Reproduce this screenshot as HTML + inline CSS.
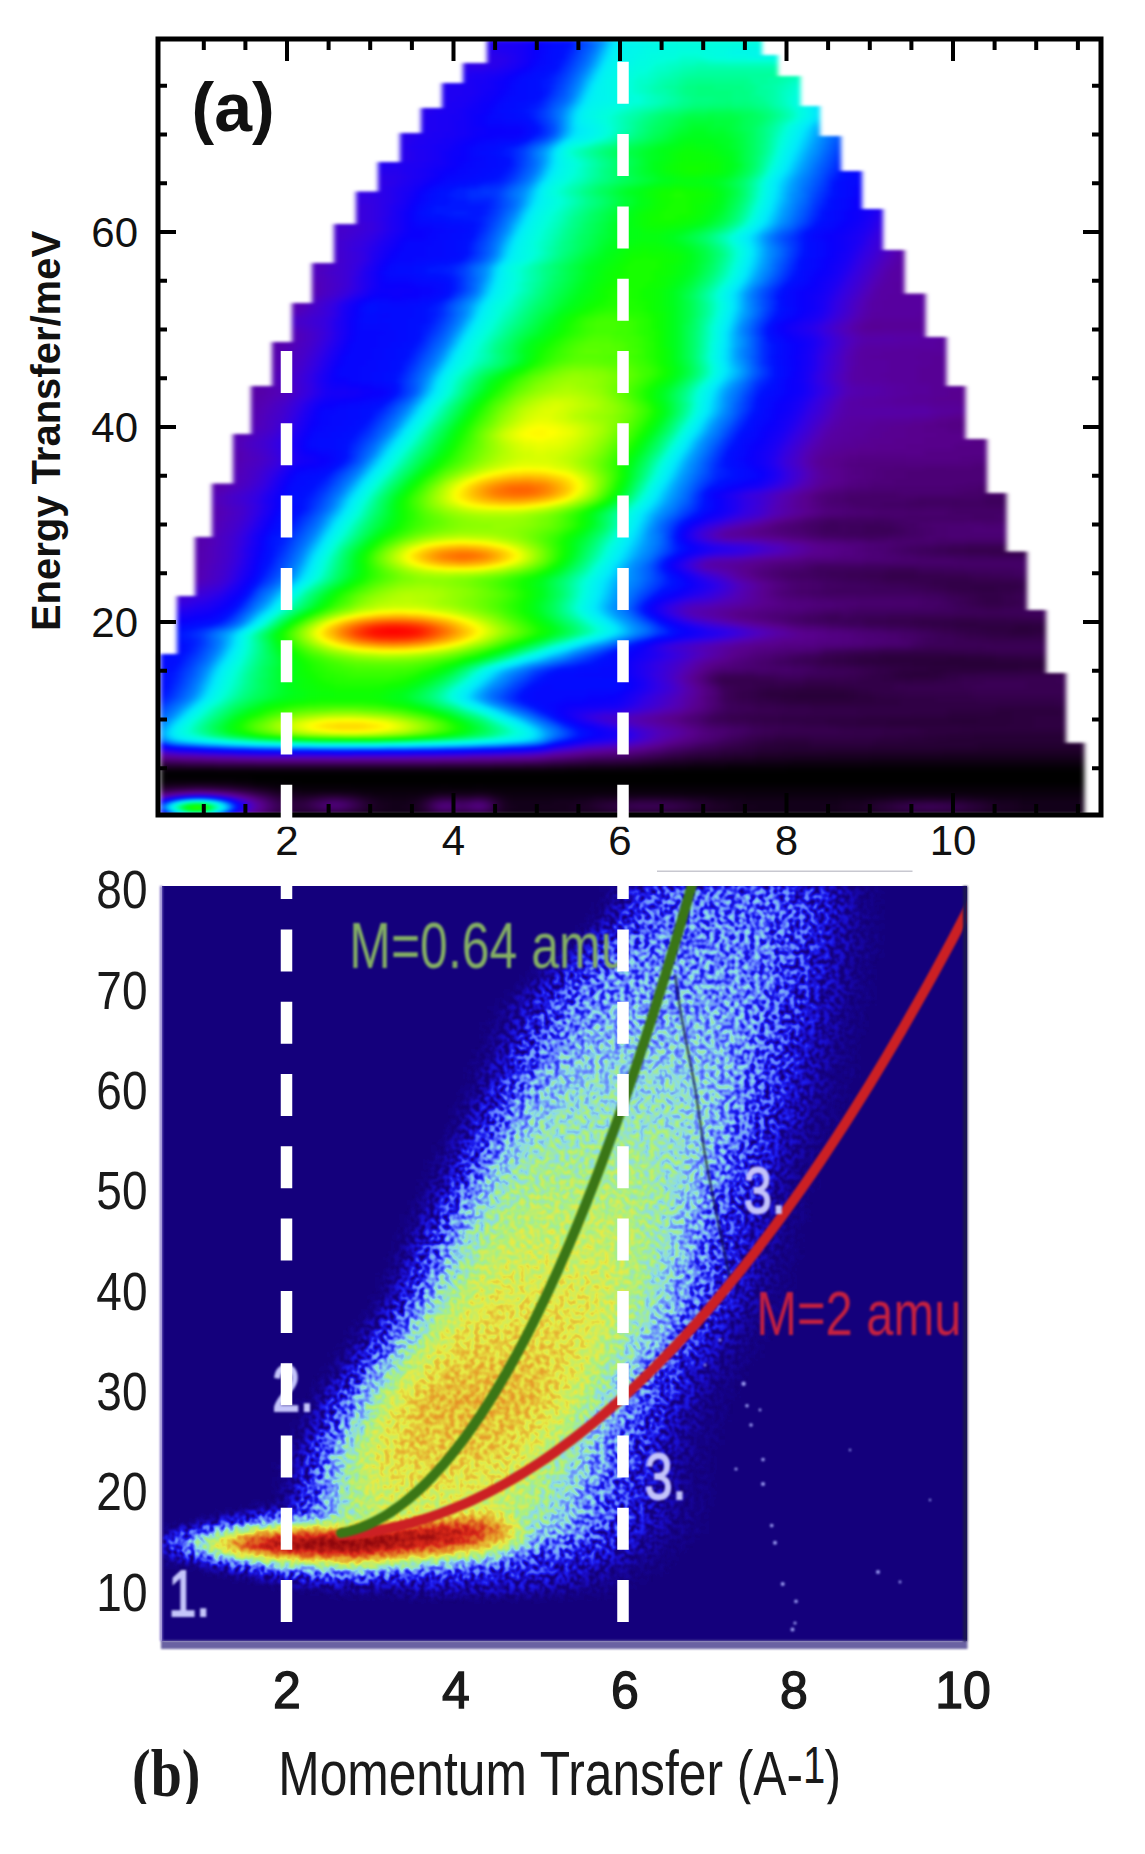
<!DOCTYPE html>
<html><head><meta charset="utf-8"><style>html,body{margin:0;padding:0;background:#fff;}svg{display:block;}</style></head>
<body><svg width="1145" height="1854" viewBox="0 0 1145 1854"><defs>
<filter id="fa" x="0" y="0" width="1" height="1" color-interpolation-filters="sRGB">
<feGaussianBlur stdDeviation="3.5"/>
<feComponentTransfer><feFuncR type="table" tableValues="0 0.059 0.118 0.167 0.216 0.265 0.309 0.346 0.343 0.322 0.263 0.199 0.113 0.039 0 0 0 0 0 0 0 0 0 0 0 0 0.063 0.22 0.376 0.533 0.689 0.844 1 1 1 1 1 1 1 1 1"/><feFuncG type="table" tableValues="0 0 0 0 0 0 0 0 0 0 0 0 0 0 0.072 0.252 0.431 0.599 0.768 0.912 0.961 1 1 1 1 1 1 1 1 1 1 1 1 0.875 0.751 0.626 0.502 0.376 0.251 0.125 0"/><feFuncB type="table" tableValues="0 0.078 0.157 0.235 0.314 0.4 0.48 0.554 0.637 0.724 0.812 0.895 0.956 0.99 1 1 1 1 1 0.99 0.941 0.863 0.667 0.471 0.288 0.108 0 0 0 0 0 0 0 0 0 0 0 0 0 0 0"/></feComponentTransfer>
</filter>
<clipPath id="ca"><polygon points="487,39 487,63 463,63 463,83 442,83 442,108 421,108 421,133 400,133 400,162 378,162 378,191.5 356,191.5 356,224 334,224 334,263 312,263 312,303 292,303 292,342 272,342 272,386 251,386 251,434 233,434 233,483.5 212,483.5 212,537 195,537 195,596 177,596 177,654 160,654 160,814 1084.4,814 1084.4,742.7 1066,742.7 1066,673 1046,673 1046,610 1027,610 1027,551.6 1006.5,551.6 1006.5,493 987,493 987,439 965.5,439 965.5,386 946.5,386 946.5,337 925.6,337 925.6,293.5 904.6,293.5 904.6,250 883,250 883,209 862,209 862,171 841,171 841,136 820,136 820,106 800.5,106 800.5,76 778,76 778,55 762,55 762,39"/></clipPath>
<filter id="fsoft" color-interpolation-filters="sRGB"><feGaussianBlur stdDeviation="2.8 1.8"/></filter>
</defs>
<g filter="url(#fsoft)"><g clip-path="url(#ca)"><g filter="url(#fa)"><path fill="#000000" d="M156 768h954v6h-954zM156 774h954v6h-954zM282 780h828v6h-828z"/><path fill="#010101" d="M252 780h30v6h-30z"/><path fill="#030303" d="M156 780h12v6h-12zM234 780h18v6h-18zM300 786h810v6h-810z"/><path fill="#040404" d="M786 762h324v6h-324zM168 780h66v6h-66zM288 786h12v6h-12z"/><path fill="#050505" d="M726 762h60v6h-60zM276 786h12v6h-12zM372 792h48v6h-48zM504 792h606v6h-606z"/><path fill="#060606" d="M690 762h36v6h-36zM270 786h6v6h-6zM360 792h12v6h-12zM420 792h12v6h-12zM492 792h12v6h-12z"/><path fill="#080808" d="M870 756h240v6h-240zM672 762h18v6h-18zM264 786h6v6h-6zM354 792h6v6h-6zM432 792h6v6h-6zM450 792h24v6h-24zM486 792h6v6h-6zM390 798h18v6h-18zM510 798h42v6h-42zM744 798h96v6h-96zM1020 798h90v6h-90zM390 804h12v6h-12zM516 804h24v6h-24zM756 804h66v6h-66zM1038 804h72v6h-72zM384 810h24v6h-24zM510 810h60v6h-60zM732 810h108v6h-108zM1020 810h90v6h-90zM348 816h84v6h-84zM492 816h618v6h-618z"/><path fill="#090909" d="M792 756h78v6h-78zM654 762h18v6h-18zM258 786h6v6h-6zM300 792h18v6h-18zM342 792h12v6h-12zM438 792h12v6h-12zM474 792h12v6h-12zM378 798h12v6h-12zM408 798h6v6h-6zM504 798h6v6h-6zM552 798h24v6h-24zM726 798h18v6h-18zM840 798h24v6h-24zM996 798h24v6h-24zM384 804h6v6h-6zM402 804h6v6h-6zM510 804h6v6h-6zM540 804h18v6h-18zM738 804h18v6h-18zM822 804h18v6h-18zM1020 804h18v6h-18zM372 810h12v6h-12zM408 810h12v6h-12zM504 810h6v6h-6zM570 810h24v6h-24zM708 810h24v6h-24zM840 810h24v6h-24zM996 810h24v6h-24zM306 816h42v6h-42zM432 816h60v6h-60z"/><path fill="#0a0a0a" d="M756 756h36v6h-36zM642 762h12v6h-12zM252 786h6v6h-6zM288 792h12v6h-12zM318 792h24v6h-24zM414 798h6v6h-6zM576 798h12v6h-12zM714 798h12v6h-12zM864 798h12v6h-12zM984 798h12v6h-12zM378 804h6v6h-6zM408 804h6v6h-6zM504 804h6v6h-6zM558 804h12v6h-12zM732 804h6v6h-6zM840 804h6v6h-6zM1014 804h6v6h-6zM366 810h6v6h-6zM498 810h6v6h-6zM594 810h12v6h-12zM690 810h18v6h-18zM864 810h12v6h-12zM984 810h12v6h-12zM294 816h12v6h-12z"/><path fill="#0c0c0c" d="M942 750h168v6h-168zM732 756h24v6h-24zM618 762h24v6h-24zM246 786h6v6h-6zM372 798h6v6h-6zM588 798h6v6h-6zM708 798h6v6h-6zM876 798h12v6h-12zM972 798h12v6h-12zM372 804h6v6h-6zM570 804h6v6h-6zM726 804h6v6h-6zM846 804h12v6h-12zM1002 804h12v6h-12zM360 810h6v6h-6zM420 810h6v6h-6zM606 810h18v6h-18zM678 810h12v6h-12zM876 810h12v6h-12zM972 810h12v6h-12zM288 816h6v6h-6z"/><path fill="#0d0d0d" d="M828 750h114v6h-114zM714 756h18v6h-18zM588 762h30v6h-30zM282 792h6v6h-6zM498 798h6v6h-6zM594 798h6v6h-6zM696 798h12v6h-12zM888 798h6v6h-6zM966 798h6v6h-6zM414 804h6v6h-6zM576 804h6v6h-6zM720 804h6v6h-6zM858 804h6v6h-6zM996 804h6v6h-6zM354 810h6v6h-6zM624 810h54v6h-54zM888 810h6v6h-6zM966 810h6v6h-6zM282 816h6v6h-6z"/><path fill="#0e0e0e" d="M780 750h48v6h-48zM696 756h18v6h-18zM576 762h12v6h-12zM156 786h6v6h-6zM240 786h6v6h-6zM276 792h6v6h-6zM366 798h6v6h-6zM420 798h6v6h-6zM600 798h12v6h-12zM690 798h6v6h-6zM894 798h12v6h-12zM954 798h12v6h-12zM582 804h6v6h-6zM714 804h6v6h-6zM300 810h6v6h-6zM492 810h6v6h-6zM894 810h12v6h-12zM954 810h12v6h-12zM276 816h6v6h-6z"/><path fill="#0f0f0f" d="M978 744h132v6h-132zM756 750h24v6h-24zM684 756h12v6h-12zM564 762h12v6h-12zM162 786h6v6h-6zM234 786h6v6h-6zM612 798h6v6h-6zM684 798h6v6h-6zM906 798h48v6h-48zM366 804h6v6h-6zM498 804h6v6h-6zM588 804h6v6h-6zM708 804h6v6h-6zM864 804h6v6h-6zM990 804h6v6h-6zM294 810h6v6h-6zM306 810h12v6h-12zM348 810h6v6h-6zM426 810h6v6h-6zM906 810h48v6h-48z"/><path fill="#111111" d="M888 720h90v6h-90zM972 732h108v6h-108zM936 738h138v6h-138zM786 744h24v6h-24zM870 744h108v6h-108zM744 750h12v6h-12zM672 756h12v6h-12zM156 762h6v6h-6zM552 762h12v6h-12zM168 786h6v6h-6zM228 786h6v6h-6zM270 792h6v6h-6zM618 798h6v6h-6zM672 798h12v6h-12zM702 804h6v6h-6zM870 804h6v6h-6zM984 804h6v6h-6zM288 810h6v6h-6zM318 810h6v6h-6zM342 810h6v6h-6zM270 816h6v6h-6z"/><path fill="#121212" d="M948 654h18v6h-18zM912 660h156v6h-156zM960 666h60v6h-60zM900 672h30v6h-30zM798 690h48v6h-48zM792 696h60v6h-60zM858 720h30v6h-30zM978 720h30v6h-30zM948 732h24v6h-24zM1080 732h24v6h-24zM906 738h30v6h-30zM1074 738h36v6h-36zM762 744h24v6h-24zM810 744h60v6h-60zM726 750h18v6h-18zM666 756h6v6h-6zM162 762h6v6h-6zM546 762h6v6h-6zM222 786h6v6h-6zM360 798h6v6h-6zM492 798h6v6h-6zM624 798h12v6h-12zM666 798h6v6h-6zM420 804h6v6h-6zM594 804h6v6h-6zM324 810h18v6h-18z"/><path fill="#131313" d="M1014 624h30v6h-30zM1008 630h24v6h-24zM882 654h66v6h-66zM966 654h30v6h-30zM858 660h54v6h-54zM1068 660h12v6h-12zM930 666h30v6h-30zM1020 666h24v6h-24zM894 672h6v6h-6zM930 672h12v6h-12zM762 690h36v6h-36zM846 690h12v6h-12zM780 696h12v6h-12zM852 696h24v6h-24zM996 708h66v6h-66zM948 714h66v6h-66zM828 720h30v6h-30zM1008 720h24v6h-24zM924 732h24v6h-24zM1104 732h6v6h-6zM774 738h36v6h-36zM876 738h30v6h-30zM756 744h6v6h-6zM720 750h6v6h-6zM660 756h6v6h-6zM168 762h18v6h-18zM522 762h24v6h-24zM174 786h12v6h-12zM216 786h6v6h-6zM288 798h18v6h-18zM426 798h6v6h-6zM636 798h30v6h-30zM696 804h6v6h-6zM876 804h6v6h-6zM978 804h6v6h-6zM282 810h6v6h-6zM432 810h6v6h-6zM456 810h12v6h-12zM486 810h6v6h-6zM264 816h6v6h-6z"/><path fill="#151515" d="M954 618h24v6h-24zM954 624h60v6h-60zM1044 624h6v6h-6zM984 630h24v6h-24zM1032 630h12v6h-12zM852 654h30v6h-30zM996 654h24v6h-24zM846 660h12v6h-12zM1080 660h12v6h-12zM912 666h18v6h-18zM1044 666h18v6h-18zM888 672h6v6h-6zM942 672h6v6h-6zM906 678h6v6h-6zM804 684h30v6h-30zM756 690h6v6h-6zM858 690h12v6h-12zM768 696h12v6h-12zM876 696h24v6h-24zM810 702h90v6h-90zM948 708h48v6h-48zM1062 708h42v6h-42zM864 714h84v6h-84zM1014 714h60v6h-60zM804 720h24v6h-24zM1032 720h30v6h-30zM960 726h132v6h-132zM900 732h24v6h-24zM762 738h12v6h-12zM810 738h66v6h-66zM744 744h12v6h-12zM708 750h12v6h-12zM654 756h6v6h-6zM186 762h30v6h-30zM492 762h30v6h-30zM186 786h6v6h-6zM204 786h12v6h-12zM264 792h6v6h-6zM294 804h6v6h-6zM360 804h6v6h-6zM600 804h6v6h-6zM450 810h6v6h-6zM468 810h6v6h-6z"/><path fill="#161616" d="M1014 546h18v6h-18zM948 582h72v6h-72zM972 588h24v6h-24zM984 600h18v6h-18zM912 618h42v6h-42zM978 618h30v6h-30zM942 624h12v6h-12zM1050 624h12v6h-12zM978 630h6v6h-6zM1044 630h12v6h-12zM846 654h6v6h-6zM1020 654h24v6h-24zM834 660h12v6h-12zM1092 660h12v6h-12zM900 666h12v6h-12zM1062 666h18v6h-18zM876 672h12v6h-12zM948 672h12v6h-12zM882 678h24v6h-24zM912 678h24v6h-24zM786 684h18v6h-18zM834 684h18v6h-18zM750 690h6v6h-6zM870 690h12v6h-12zM756 696h12v6h-12zM900 696h36v6h-36zM786 702h24v6h-24zM900 702h156v6h-156zM912 708h36v6h-36zM1104 708h6v6h-6zM780 714h84v6h-84zM1074 714h36v6h-36zM780 720h24v6h-24zM1062 720h36v6h-36zM918 726h42v6h-42zM1092 726h18v6h-18zM882 732h18v6h-18zM756 738h6v6h-6zM738 744h6v6h-6zM696 750h12v6h-12zM648 756h6v6h-6zM216 762h42v6h-42zM438 762h54v6h-54zM192 786h12v6h-12zM282 798h6v6h-6zM306 798h6v6h-6zM354 798h6v6h-6zM288 804h6v6h-6zM606 804h6v6h-6zM690 804h6v6h-6zM882 804h6v6h-6zM972 804h6v6h-6zM276 810h6v6h-6zM438 810h12v6h-12zM480 810h6v6h-6zM258 816h6v6h-6z"/><path fill="#171717" d="M966 546h48v6h-48zM1032 546h60v6h-60zM942 582h6v6h-6zM1020 582h12v6h-12zM954 588h18v6h-18zM996 588h18v6h-18zM978 600h6v6h-6zM1002 600h12v6h-12zM888 618h24v6h-24zM1008 618h24v6h-24zM930 624h12v6h-12zM1062 624h6v6h-6zM966 630h12v6h-12zM1056 630h12v6h-12zM834 654h12v6h-12zM1044 654h24v6h-24zM822 660h12v6h-12zM1104 660h6v6h-6zM888 666h12v6h-12zM1080 666h18v6h-18zM870 672h6v6h-6zM960 672h18v6h-18zM720 678h36v6h-36zM858 678h24v6h-24zM936 678h12v6h-12zM768 684h18v6h-18zM852 684h18v6h-18zM744 690h6v6h-6zM882 690h24v6h-24zM750 696h6v6h-6zM936 696h42v6h-42zM774 702h12v6h-12zM1056 702h54v6h-54zM858 708h54v6h-54zM744 714h36v6h-36zM762 720h18v6h-18zM1098 720h12v6h-12zM882 726h36v6h-36zM852 732h30v6h-30zM750 738h6v6h-6zM732 744h6v6h-6zM690 750h6v6h-6zM642 756h6v6h-6zM258 762h180v6h-180zM300 804h6v6h-6zM888 804h6v6h-6zM966 804h6v6h-6zM474 810h6v6h-6z"/><path fill="#181818" d="M948 546h18v6h-18zM1092 546h18v6h-18zM888 570h30v6h-30zM882 576h90v6h-90zM1098 576h6v6h-6zM930 582h12v6h-12zM1032 582h12v6h-12zM948 588h6v6h-6zM1014 588h6v6h-6zM978 594h24v6h-24zM972 600h6v6h-6zM1014 600h6v6h-6zM864 618h24v6h-24zM1032 618h18v6h-18zM918 624h12v6h-12zM1068 624h12v6h-12zM960 630h6v6h-6zM1068 630h12v6h-12zM990 636h66v6h-66zM876 648h72v6h-72zM822 654h12v6h-12zM1068 654h24v6h-24zM816 660h6v6h-6zM876 666h12v6h-12zM1098 666h12v6h-12zM864 672h6v6h-6zM978 672h78v6h-78zM756 678h18v6h-18zM804 678h54v6h-54zM948 678h12v6h-12zM756 684h12v6h-12zM870 684h24v6h-24zM738 690h6v6h-6zM906 690h66v6h-66zM738 696h12v6h-12zM978 696h114v6h-114zM756 702h18v6h-18zM810 708h48v6h-48zM726 714h18v6h-18zM750 720h12v6h-12zM840 726h42v6h-42zM774 732h78v6h-78zM744 738h6v6h-6zM720 744h12v6h-12zM684 750h6v6h-6zM636 756h6v6h-6zM258 792h6v6h-6zM276 798h6v6h-6zM282 804h6v6h-6zM492 804h6v6h-6zM612 804h6v6h-6zM684 804h6v6h-6z"/><path fill="#1a1a1a" d="M936 546h12v6h-12zM990 552h108v6h-108zM864 570h24v6h-24zM918 570h24v6h-24zM858 576h24v6h-24zM972 576h30v6h-30zM1104 576h6v6h-6zM918 582h12v6h-12zM1044 582h12v6h-12zM936 588h12v6h-12zM1020 588h12v6h-12zM966 594h12v6h-12zM1002 594h12v6h-12zM966 600h6v6h-6zM1020 600h6v6h-6zM846 618h18v6h-18zM1050 618h18v6h-18zM906 624h12v6h-12zM1080 624h12v6h-12zM954 630h6v6h-6zM1080 630h12v6h-12zM966 636h24v6h-24zM1056 636h30v6h-30zM858 648h18v6h-18zM948 648h36v6h-36zM816 654h6v6h-6zM1092 654h18v6h-18zM804 660h12v6h-12zM864 666h12v6h-12zM858 672h6v6h-6zM1056 672h54v6h-54zM714 678h6v6h-6zM774 678h30v6h-30zM960 678h24v6h-24zM738 684h18v6h-18zM894 684h72v6h-72zM1026 684h84v6h-84zM732 690h6v6h-6zM972 690h138v6h-138zM732 696h6v6h-6zM1092 696h18v6h-18zM750 702h6v6h-6zM780 708h30v6h-30zM714 714h12v6h-12zM732 720h18v6h-18zM798 726h42v6h-42zM762 732h12v6h-12zM738 738h6v6h-6zM714 744h6v6h-6zM678 750h6v6h-6zM624 756h12v6h-12zM312 798h6v6h-6zM432 798h6v6h-6zM486 798h6v6h-6zM306 804h6v6h-6zM354 804h6v6h-6zM678 804h6v6h-6zM894 804h6v6h-6zM960 804h6v6h-6zM252 816h6v6h-6z"/><path fill="#1b1b1b" d="M882 528h12v6h-12zM924 546h12v6h-12zM966 552h24v6h-24zM1098 552h12v6h-12zM846 570h18v6h-18zM942 570h24v6h-24zM840 576h18v6h-18zM1002 576h18v6h-18zM906 582h12v6h-12zM1056 582h18v6h-18zM924 588h12v6h-12zM1032 588h12v6h-12zM960 594h6v6h-6zM1014 594h12v6h-12zM960 600h6v6h-6zM1026 600h6v6h-6zM984 606h18v6h-18zM834 612h6v6h-6zM828 618h18v6h-18zM1068 618h18v6h-18zM888 624h18v6h-18zM1092 624h18v6h-18zM942 630h12v6h-12zM1092 630h18v6h-18zM954 636h12v6h-12zM1086 636h24v6h-24zM978 642h126v6h-126zM846 648h12v6h-12zM984 648h66v6h-66zM804 654h12v6h-12zM792 660h12v6h-12zM852 666h12v6h-12zM846 672h12v6h-12zM984 678h126v6h-126zM732 684h6v6h-6zM966 684h60v6h-60zM726 690h6v6h-6zM726 696h6v6h-6zM738 702h12v6h-12zM756 708h24v6h-24zM726 720h6v6h-6zM780 726h18v6h-18zM756 732h6v6h-6zM732 738h6v6h-6zM708 744h6v6h-6zM672 750h6v6h-6zM612 756h12v6h-12zM348 798h6v6h-6zM456 798h12v6h-12zM426 804h6v6h-6zM618 804h6v6h-6zM270 810h6v6h-6z"/><path fill="#1c1c1c" d="M984 498h102v6h-102zM828 522h12v6h-12zM864 522h18v6h-18zM834 528h6v6h-6zM864 528h18v6h-18zM894 528h6v6h-6zM858 534h18v6h-18zM918 546h6v6h-6zM948 552h18v6h-18zM828 570h18v6h-18zM966 570h24v6h-24zM1026 570h54v6h-54zM828 576h12v6h-12zM1020 576h24v6h-24zM888 582h18v6h-18zM1074 582h36v6h-36zM912 588h12v6h-12zM1044 588h12v6h-12zM948 594h12v6h-12zM1026 594h6v6h-6zM954 600h6v6h-6zM1032 600h6v6h-6zM966 606h18v6h-18zM1002 606h24v6h-24zM828 612h6v6h-6zM888 612h132v6h-132zM816 618h12v6h-12zM1086 618h24v6h-24zM876 624h12v6h-12zM936 630h6v6h-6zM936 636h18v6h-18zM948 642h30v6h-30zM1104 642h6v6h-6zM834 648h12v6h-12zM1050 648h60v6h-60zM798 654h6v6h-6zM786 660h6v6h-6zM834 666h18v6h-18zM720 672h36v6h-36zM828 672h18v6h-18zM720 684h12v6h-12zM726 702h12v6h-12zM738 708h18v6h-18zM708 714h6v6h-6zM714 720h12v6h-12zM762 726h18v6h-18zM750 732h6v6h-6zM726 738h6v6h-6zM702 744h6v6h-6zM666 750h6v6h-6zM594 756h18v6h-18zM252 792h6v6h-6zM276 804h6v6h-6zM624 804h6v6h-6zM672 804h6v6h-6zM900 804h6v6h-6zM954 804h6v6h-6zM246 816h6v6h-6z"/><path fill="#1d1d1d" d="M918 498h42v6h-42zM1086 498h18v6h-18zM1044 504h18v6h-18zM822 522h6v6h-6zM846 522h18v6h-18zM882 522h12v6h-12zM822 528h12v6h-12zM846 528h18v6h-18zM900 528h6v6h-6zM840 534h18v6h-18zM876 534h12v6h-12zM906 546h12v6h-12zM930 552h18v6h-18zM816 564h102v6h-102zM810 570h18v6h-18zM990 570h24v6h-24zM1080 570h30v6h-30zM816 576h12v6h-12zM1044 576h30v6h-30zM870 582h18v6h-18zM822 588h90v6h-90zM1056 588h18v6h-18zM1092 588h18v6h-18zM942 594h6v6h-6zM1032 594h12v6h-12zM948 600h6v6h-6zM1038 600h12v6h-12zM954 606h12v6h-12zM1026 606h18v6h-18zM822 612h6v6h-6zM852 612h36v6h-36zM1020 612h90v6h-90zM804 618h12v6h-12zM864 624h12v6h-12zM930 630h6v6h-6zM924 636h12v6h-12zM924 642h24v6h-24zM822 648h12v6h-12zM792 654h6v6h-6zM774 660h12v6h-12zM816 666h18v6h-18zM714 672h6v6h-6zM756 672h24v6h-24zM804 672h24v6h-24zM708 678h6v6h-6zM720 690h6v6h-6zM720 696h6v6h-6zM726 708h12v6h-12zM708 720h6v6h-6zM750 726h12v6h-12zM744 732h6v6h-6zM696 744h6v6h-6zM588 756h6v6h-6zM270 798h6v6h-6zM318 798h6v6h-6zM438 798h6v6h-6zM450 798h6v6h-6zM468 798h6v6h-6zM666 804h6v6h-6zM906 804h6v6h-6zM948 804h6v6h-6z"/><path fill="#1f1f1f" d="M906 498h12v6h-12zM960 498h24v6h-24zM1104 498h6v6h-6zM882 504h42v6h-42zM954 504h90v6h-90zM1062 504h48v6h-48zM828 516h60v6h-60zM972 516h24v6h-24zM810 522h12v6h-12zM840 522h6v6h-6zM894 522h6v6h-6zM816 528h6v6h-6zM840 528h6v6h-6zM906 528h12v6h-12zM822 534h18v6h-18zM888 534h12v6h-12zM900 546h6v6h-6zM918 552h12v6h-12zM810 564h6v6h-6zM918 564h36v6h-36zM792 570h18v6h-18zM1014 570h12v6h-12zM798 576h18v6h-18zM1074 576h24v6h-24zM846 582h24v6h-24zM810 588h12v6h-12zM1074 588h18v6h-18zM924 594h18v6h-18zM1044 594h30v6h-30zM942 600h6v6h-6zM1050 600h24v6h-24zM1104 600h6v6h-6zM936 606h18v6h-18zM1044 606h66v6h-66zM816 612h6v6h-6zM840 612h12v6h-12zM792 618h12v6h-12zM846 624h18v6h-18zM918 630h12v6h-12zM918 636h6v6h-6zM912 642h12v6h-12zM786 654h6v6h-6zM810 666h6v6h-6zM780 672h24v6h-24zM720 702h6v6h-6zM720 708h6v6h-6zM702 714h6v6h-6zM738 732h6v6h-6zM720 738h6v6h-6zM660 750h6v6h-6zM582 756h6v6h-6zM342 798h6v6h-6zM444 798h6v6h-6zM480 798h6v6h-6zM312 804h6v6h-6zM630 804h6v6h-6zM660 804h6v6h-6z"/><path fill="#202020" d="M984 492h84v6h-84zM870 504h12v6h-12zM924 504h30v6h-30zM822 516h6v6h-6zM888 516h84v6h-84zM996 516h48v6h-48zM804 522h6v6h-6zM900 522h6v6h-6zM810 528h6v6h-6zM918 528h6v6h-6zM816 534h6v6h-6zM900 534h12v6h-12zM966 540h144v6h-144zM894 546h6v6h-6zM912 552h6v6h-6zM1032 558h78v6h-78zM954 564h156v6h-156zM780 570h12v6h-12zM786 576h12v6h-12zM834 582h12v6h-12zM798 588h12v6h-12zM828 594h96v6h-96zM1074 594h36v6h-36zM930 600h12v6h-12zM1074 600h30v6h-30zM858 606h78v6h-78zM804 612h12v6h-12zM786 618h6v6h-6zM840 624h6v6h-6zM912 630h6v6h-6zM912 636h6v6h-6zM762 660h12v6h-12zM702 720h6v6h-6zM744 726h6v6h-6zM732 732h6v6h-6zM714 738h6v6h-6zM690 744h6v6h-6zM654 750h6v6h-6zM576 756h6v6h-6zM324 798h6v6h-6zM474 798h6v6h-6zM348 804h6v6h-6zM636 804h24v6h-24zM912 804h12v6h-12zM936 804h12v6h-12zM264 810h6v6h-6zM240 816h6v6h-6z"/><path fill="#212121" d="M978 486h42v6h-42zM846 492h54v6h-54zM960 492h24v6h-24zM1068 492h42v6h-42zM846 498h60v6h-60zM852 504h18v6h-18zM948 510h126v6h-126zM816 516h6v6h-6zM1044 516h36v6h-36zM798 522h6v6h-6zM906 522h12v6h-12zM804 528h6v6h-6zM924 528h12v6h-12zM810 534h6v6h-6zM912 534h12v6h-12zM936 540h30v6h-30zM888 546h6v6h-6zM900 552h12v6h-12zM954 558h78v6h-78zM804 564h6v6h-6zM774 570h6v6h-6zM822 582h12v6h-12zM792 588h6v6h-6zM810 594h18v6h-18zM918 600h12v6h-12zM846 606h12v6h-12zM798 612h6v6h-6zM828 624h12v6h-12zM900 630h12v6h-12zM900 636h12v6h-12zM774 654h12v6h-12zM756 660h6v6h-6zM792 666h18v6h-18zM714 708h6v6h-6zM696 714h6v6h-6zM732 726h12v6h-12zM726 732h6v6h-6zM684 744h6v6h-6zM648 750h6v6h-6zM570 756h6v6h-6zM246 792h6v6h-6zM336 798h6v6h-6zM270 804h6v6h-6zM924 804h12v6h-12z"/><path fill="#232323" d="M954 486h24v6h-24zM1020 486h24v6h-24zM834 492h12v6h-12zM900 492h60v6h-60zM834 498h12v6h-12zM840 504h12v6h-12zM906 510h42v6h-42zM1074 510h36v6h-36zM810 516h6v6h-6zM1080 516h30v6h-30zM792 522h6v6h-6zM918 522h12v6h-12zM792 528h12v6h-12zM936 528h12v6h-12zM804 534h6v6h-6zM924 534h24v6h-24zM912 540h24v6h-24zM882 546h6v6h-6zM888 552h12v6h-12zM918 558h36v6h-36zM798 564h6v6h-6zM768 570h6v6h-6zM780 576h6v6h-6zM810 582h12v6h-12zM786 588h6v6h-6zM798 594h12v6h-12zM894 600h24v6h-24zM834 606h12v6h-12zM786 612h12v6h-12zM780 618h6v6h-6zM822 624h6v6h-6zM888 630h12v6h-12zM888 636h12v6h-12zM816 648h6v6h-6zM768 654h6v6h-6zM750 660h6v6h-6zM768 666h24v6h-24zM708 672h6v6h-6zM714 684h6v6h-6zM714 696h6v6h-6zM714 702h6v6h-6zM690 714h6v6h-6zM696 720h6v6h-6zM726 726h6v6h-6zM720 732h6v6h-6zM708 738h6v6h-6zM678 744h6v6h-6zM564 756h6v6h-6zM330 798h6v6h-6z"/><path fill="#242424" d="M924 468h120v6h-120zM966 480h54v6h-54zM870 486h84v6h-84zM1044 486h54v6h-54zM822 492h12v6h-12zM828 498h6v6h-6zM828 504h12v6h-12zM876 510h30v6h-30zM786 522h6v6h-6zM930 522h36v6h-36zM984 522h126v6h-126zM786 528h6v6h-6zM948 528h24v6h-24zM1056 528h54v6h-54zM798 534h6v6h-6zM948 534h162v6h-162zM894 540h18v6h-18zM870 546h12v6h-12zM882 552h6v6h-6zM894 558h24v6h-24zM786 564h12v6h-12zM762 570h6v6h-6zM774 576h6v6h-6zM798 582h12v6h-12zM780 588h6v6h-6zM792 594h6v6h-6zM858 600h36v6h-36zM822 606h12v6h-12zM774 612h12v6h-12zM774 618h6v6h-6zM816 624h6v6h-6zM882 630h6v6h-6zM876 636h12v6h-12zM900 642h12v6h-12zM804 648h12v6h-12zM762 654h6v6h-6zM744 660h6v6h-6zM744 666h24v6h-24zM702 678h6v6h-6zM714 690h6v6h-6zM708 708h6v6h-6zM714 726h12v6h-12zM702 738h6v6h-6zM672 744h6v6h-6zM642 750h6v6h-6zM558 756h6v6h-6zM264 798h6v6h-6zM318 804h6v6h-6zM486 804h6v6h-6zM156 816h6v6h-6z"/><path fill="#252525" d="M894 468h30v6h-30zM1044 468h66v6h-66zM906 474h42v6h-42zM894 480h72v6h-72zM1020 480h90v6h-90zM858 486h12v6h-12zM1098 486h12v6h-12zM822 498h6v6h-6zM822 504h6v6h-6zM858 510h18v6h-18zM804 516h6v6h-6zM780 522h6v6h-6zM966 522h18v6h-18zM780 528h6v6h-6zM972 528h84v6h-84zM792 534h6v6h-6zM876 540h18v6h-18zM864 546h6v6h-6zM870 552h12v6h-12zM864 558h30v6h-30zM780 564h6v6h-6zM792 582h6v6h-6zM786 594h6v6h-6zM834 600h24v6h-24zM810 606h12v6h-12zM768 612h6v6h-6zM768 618h6v6h-6zM804 624h12v6h-12zM870 630h12v6h-12zM864 636h12v6h-12zM882 642h18v6h-18zM786 648h18v6h-18zM756 654h6v6h-6zM738 660h6v6h-6zM732 666h12v6h-12zM708 696h6v6h-6zM708 702h6v6h-6zM684 714h6v6h-6zM690 720h6v6h-6zM708 726h6v6h-6zM714 732h6v6h-6zM696 738h6v6h-6zM636 750h6v6h-6zM156 756h6v6h-6zM552 756h6v6h-6zM240 792h6v6h-6zM342 804h6v6h-6zM432 804h6v6h-6zM234 816h6v6h-6z"/><path fill="#262626" d="M978 420h60v6h-60zM972 462h138v6h-138zM876 468h18v6h-18zM882 474h24v6h-24zM948 474h42v6h-42zM1062 474h48v6h-48zM870 480h24v6h-24zM846 486h12v6h-12zM816 492h6v6h-6zM846 510h12v6h-12zM774 522h6v6h-6zM774 528h6v6h-6zM786 534h6v6h-6zM864 540h12v6h-12zM858 546h6v6h-6zM864 552h6v6h-6zM804 558h60v6h-60zM774 564h6v6h-6zM756 570h6v6h-6zM768 576h6v6h-6zM786 582h6v6h-6zM774 588h6v6h-6zM780 594h6v6h-6zM816 600h18v6h-18zM804 606h6v6h-6zM756 612h12v6h-12zM798 624h6v6h-6zM858 630h12v6h-12zM852 636h12v6h-12zM864 642h18v6h-18zM774 648h12v6h-12zM750 654h6v6h-6zM732 660h6v6h-6zM720 666h12v6h-12zM702 672h6v6h-6zM708 684h6v6h-6zM708 690h6v6h-6zM684 720h6v6h-6zM702 726h6v6h-6zM708 732h6v6h-6zM666 744h6v6h-6zM630 750h6v6h-6zM546 756h6v6h-6zM456 804h12v6h-12zM258 810h6v6h-6z"/><path fill="#282828" d="M1002 414h36v6h-36zM960 420h18v6h-18zM1038 420h24v6h-24zM1044 456h66v6h-66zM858 462h114v6h-114zM864 468h12v6h-12zM864 474h18v6h-18zM990 474h72v6h-72zM858 480h12v6h-12zM840 486h6v6h-6zM816 498h6v6h-6zM816 504h6v6h-6zM834 510h12v6h-12zM798 516h6v6h-6zM762 528h12v6h-12zM780 534h6v6h-6zM846 540h18v6h-18zM852 546h6v6h-6zM852 552h12v6h-12zM792 558h12v6h-12zM768 564h6v6h-6zM762 576h6v6h-6zM774 594h6v6h-6zM798 600h18v6h-18zM786 606h18v6h-18zM744 612h12v6h-12zM762 618h6v6h-6zM792 624h6v6h-6zM852 630h6v6h-6zM840 636h12v6h-12zM840 642h24v6h-24zM762 648h12v6h-12zM744 654h6v6h-6zM726 660h6v6h-6zM714 666h6v6h-6zM702 708h6v6h-6zM678 714h6v6h-6zM702 732h6v6h-6zM690 738h6v6h-6zM162 756h6v6h-6zM156 792h6v6h-6zM264 804h6v6h-6zM324 804h6v6h-6zM162 816h6v6h-6z"/><path fill="#292929" d="M984 414h18v6h-18zM1038 414h30v6h-30zM948 420h12v6h-12zM1062 420h24v6h-24zM972 426h84v6h-84zM1044 444h66v6h-66zM1002 450h108v6h-108zM858 456h48v6h-48zM960 456h84v6h-84zM846 462h12v6h-12zM852 468h12v6h-12zM858 474h6v6h-6zM852 480h6v6h-6zM834 486h6v6h-6zM810 492h6v6h-6zM810 504h6v6h-6zM822 510h12v6h-12zM756 528h6v6h-6zM774 534h6v6h-6zM834 540h12v6h-12zM846 546h6v6h-6zM840 552h12v6h-12zM780 558h12v6h-12zM762 564h6v6h-6zM750 570h6v6h-6zM780 582h6v6h-6zM768 588h6v6h-6zM786 600h12v6h-12zM774 606h12v6h-12zM738 612h6v6h-6zM756 618h6v6h-6zM840 630h12v6h-12zM828 636h12v6h-12zM816 642h24v6h-24zM756 648h6v6h-6zM708 666h6v6h-6zM696 678h6v6h-6zM702 696h6v6h-6zM702 702h6v6h-6zM678 720h6v6h-6zM696 726h6v6h-6zM684 738h6v6h-6zM660 744h6v6h-6zM618 750h12v6h-12zM540 756h6v6h-6zM330 804h12v6h-12zM228 816h6v6h-6z"/><path fill="#2a2a2a" d="M972 414h12v6h-12zM1068 414h42v6h-42zM936 420h12v6h-12zM1086 420h24v6h-24zM948 426h24v6h-24zM1056 426h54v6h-54zM978 432h132v6h-132zM972 438h138v6h-138zM954 444h90v6h-90zM924 450h78v6h-78zM846 456h12v6h-12zM906 456h54v6h-54zM840 462h6v6h-6zM846 468h6v6h-6zM846 474h12v6h-12zM846 480h6v6h-6zM828 486h6v6h-6zM810 498h6v6h-6zM792 516h6v6h-6zM768 522h6v6h-6zM750 528h6v6h-6zM768 534h6v6h-6zM822 540h12v6h-12zM840 546h6v6h-6zM834 552h6v6h-6zM768 558h12v6h-12zM756 564h6v6h-6zM756 576h6v6h-6zM774 582h6v6h-6zM768 594h6v6h-6zM780 600h6v6h-6zM762 606h12v6h-12zM732 612h6v6h-6zM750 618h6v6h-6zM786 624h6v6h-6zM828 630h12v6h-12zM816 636h12v6h-12zM780 642h36v6h-36zM750 648h6v6h-6zM738 654h6v6h-6zM720 660h6v6h-6zM696 672h6v6h-6zM702 684h6v6h-6zM702 690h6v6h-6zM696 708h6v6h-6zM672 714h6v6h-6zM696 732h6v6h-6zM606 750h12v6h-12zM168 756h12v6h-12zM534 756h6v6h-6zM234 792h6v6h-6zM258 798h6v6h-6zM450 804h6v6h-6zM468 804h6v6h-6z"/><path fill="#2c2c2c" d="M1026 288h12v6h-12zM1056 402h54v6h-54zM1008 408h102v6h-102zM966 414h6v6h-6zM924 420h12v6h-12zM924 426h24v6h-24zM936 432h42v6h-42zM924 438h48v6h-48zM906 444h48v6h-48zM858 450h66v6h-66zM834 456h12v6h-12zM834 462h6v6h-6zM840 468h6v6h-6zM840 474h6v6h-6zM840 480h6v6h-6zM822 486h6v6h-6zM804 492h6v6h-6zM804 504h6v6h-6zM816 510h6v6h-6zM786 516h6v6h-6zM762 534h6v6h-6zM816 540h6v6h-6zM828 546h12v6h-12zM822 552h12v6h-12zM762 558h6v6h-6zM750 564h6v6h-6zM744 570h6v6h-6zM762 588h6v6h-6zM774 600h6v6h-6zM756 606h6v6h-6zM822 630h6v6h-6zM804 636h12v6h-12zM756 642h24v6h-24zM738 648h12v6h-12zM732 654h6v6h-6zM714 660h6v6h-6zM666 714h6v6h-6zM672 720h6v6h-6zM690 726h6v6h-6zM678 738h6v6h-6zM654 744h6v6h-6zM600 750h6v6h-6zM180 756h12v6h-12zM522 756h12v6h-12zM162 792h6v6h-6zM438 804h6v6h-6z"/><path fill="#2d2d2d" d="M1014 54h36v6h-36zM1014 60h36v6h-36zM1008 288h18v6h-18zM1038 288h18v6h-18zM1014 294h42v6h-42zM984 366h126v6h-126zM1002 390h108v6h-108zM978 396h132v6h-132zM990 402h66v6h-66zM990 408h18v6h-18zM954 414h12v6h-12zM912 420h12v6h-12zM906 426h18v6h-18zM906 432h30v6h-30zM894 438h30v6h-30zM876 444h30v6h-30zM846 450h12v6h-12zM828 456h6v6h-6zM828 462h6v6h-6zM834 468h6v6h-6zM834 474h6v6h-6zM834 480h6v6h-6zM804 498h6v6h-6zM762 522h6v6h-6zM744 528h6v6h-6zM756 534h6v6h-6zM810 540h6v6h-6zM822 546h6v6h-6zM810 552h12v6h-12zM756 558h6v6h-6zM744 564h6v6h-6zM750 576h6v6h-6zM768 582h6v6h-6zM762 594h6v6h-6zM768 600h6v6h-6zM744 606h12v6h-12zM726 612h6v6h-6zM744 618h6v6h-6zM780 624h6v6h-6zM816 630h6v6h-6zM792 636h12v6h-12zM750 642h6v6h-6zM732 648h6v6h-6zM708 660h6v6h-6zM702 666h6v6h-6zM690 678h6v6h-6zM696 696h6v6h-6zM696 702h6v6h-6zM690 708h6v6h-6zM660 714h6v6h-6zM666 720h6v6h-6zM690 732h6v6h-6zM588 750h12v6h-12zM192 756h12v6h-12zM504 756h18v6h-18zM480 804h6v6h-6zM252 810h6v6h-6zM168 816h6v6h-6z"/><path fill="#2e2e2e" d="M1008 54h6v6h-6zM1050 54h12v6h-12zM1008 60h6v6h-6zM1050 60h12v6h-12zM972 192h60v6h-60zM990 198h24v6h-24zM960 264h30v6h-30zM1014 282h42v6h-42zM996 288h12v6h-12zM1056 288h18v6h-18zM1002 294h12v6h-12zM1056 294h12v6h-12zM1032 300h12v6h-12zM864 324h18v6h-18zM990 360h120v6h-120zM954 366h30v6h-30zM960 384h150v6h-150zM948 390h54v6h-54zM936 396h42v6h-42zM960 402h30v6h-30zM978 408h12v6h-12zM948 414h6v6h-6zM894 420h18v6h-18zM888 426h18v6h-18zM882 432h24v6h-24zM870 438h24v6h-24zM858 444h18v6h-18zM834 450h12v6h-12zM822 456h6v6h-6zM822 462h6v6h-6zM828 468h6v6h-6zM828 474h6v6h-6zM828 480h6v6h-6zM816 486h6v6h-6zM798 492h6v6h-6zM798 504h6v6h-6zM810 510h6v6h-6zM744 534h12v6h-12zM804 540h6v6h-6zM816 546h6v6h-6zM804 552h6v6h-6zM750 558h6v6h-6zM738 564h6v6h-6zM738 570h6v6h-6zM762 600h6v6h-6zM738 606h6v6h-6zM720 612h6v6h-6zM738 618h6v6h-6zM774 624h6v6h-6zM804 630h12v6h-12zM780 636h12v6h-12zM744 642h6v6h-6zM726 654h6v6h-6zM696 684h6v6h-6zM696 690h6v6h-6zM684 726h6v6h-6zM672 738h6v6h-6zM648 744h6v6h-6zM204 756h12v6h-12zM492 756h12v6h-12zM444 804h6v6h-6zM474 804h6v6h-6zM222 816h6v6h-6z"/><path fill="#2f2f2f" d="M1014 48h36v6h-36zM1062 54h12v6h-12zM1062 60h12v6h-12zM1014 66h36v6h-36zM954 192h18v6h-18zM1032 192h24v6h-24zM960 198h30v6h-30zM1014 198h36v6h-36zM948 258h48v6h-48zM942 264h18v6h-18zM990 264h18v6h-18zM1020 276h36v6h-36zM990 282h24v6h-24zM1056 282h30v6h-30zM984 288h12v6h-12zM1074 288h24v6h-24zM984 294h18v6h-18zM1068 294h36v6h-36zM996 300h36v6h-36zM1044 300h66v6h-66zM1014 306h96v6h-96zM1050 312h60v6h-60zM1056 318h54v6h-54zM882 324h42v6h-42zM1092 324h18v6h-18zM1104 330h6v6h-6zM1074 336h36v6h-36zM1002 342h108v6h-108zM972 348h138v6h-138zM918 354h192v6h-192zM930 360h60v6h-60zM918 366h36v6h-36zM918 372h102v6h-102zM918 378h96v6h-96zM930 384h30v6h-30zM930 390h18v6h-18zM912 396h24v6h-24zM930 402h30v6h-30zM966 408h12v6h-12zM936 414h12v6h-12zM876 420h18v6h-18zM870 426h18v6h-18zM864 432h18v6h-18zM852 438h18v6h-18zM840 444h18v6h-18zM828 450h6v6h-6zM816 456h6v6h-6zM816 462h6v6h-6zM822 468h6v6h-6zM822 480h6v6h-6zM798 498h6v6h-6zM792 504h6v6h-6zM804 510h6v6h-6zM780 516h6v6h-6zM738 528h6v6h-6zM726 534h18v6h-18zM810 546h6v6h-6zM744 558h6v6h-6zM732 564h6v6h-6zM762 582h6v6h-6zM756 588h6v6h-6zM756 594h6v6h-6zM756 600h6v6h-6zM732 606h6v6h-6zM798 630h6v6h-6zM774 636h6v6h-6zM738 642h6v6h-6zM726 648h6v6h-6zM702 660h6v6h-6zM690 672h6v6h-6zM690 702h6v6h-6zM684 708h6v6h-6zM654 714h6v6h-6zM660 720h6v6h-6zM684 732h6v6h-6zM582 750h6v6h-6zM216 756h18v6h-18zM468 756h24v6h-24zM228 792h6v6h-6z"/><path fill="#313131" d="M1050 48h24v6h-24zM1074 54h12v6h-12zM1002 60h6v6h-6zM1074 60h12v6h-12zM1008 66h6v6h-6zM1050 66h24v6h-24zM966 156h36v6h-36zM960 162h42v6h-42zM960 186h108v6h-108zM942 192h12v6h-12zM1056 192h42v6h-42zM942 198h18v6h-18zM1050 198h42v6h-42zM984 204h72v6h-72zM930 258h18v6h-18zM996 258h24v6h-24zM1074 258h36v6h-36zM930 264h12v6h-12zM1008 264h102v6h-102zM942 270h168v6h-168zM960 276h60v6h-60zM1056 276h54v6h-54zM954 282h36v6h-36zM1086 282h24v6h-24zM948 288h36v6h-36zM1098 288h12v6h-12zM228 294h24v6h-24zM942 294h42v6h-42zM1104 294h6v6h-6zM936 300h60v6h-60zM930 306h84v6h-84zM918 312h132v6h-132zM870 318h186v6h-186zM858 324h6v6h-6zM924 324h168v6h-168zM864 330h6v6h-6zM936 330h168v6h-168zM960 336h114v6h-114zM936 342h66v6h-66zM882 348h90v6h-90zM870 354h48v6h-48zM888 360h42v6h-42zM888 366h30v6h-30zM882 372h36v6h-36zM1020 372h24v6h-24zM888 378h30v6h-30zM1014 378h30v6h-30zM1098 378h12v6h-12zM906 384h24v6h-24zM912 390h18v6h-18zM894 396h18v6h-18zM894 402h36v6h-36zM954 408h12v6h-12zM930 414h6v6h-6zM858 420h18v6h-18zM852 426h18v6h-18zM846 432h18v6h-18zM840 438h12v6h-12zM828 444h12v6h-12zM822 450h6v6h-6zM822 474h6v6h-6zM816 480h6v6h-6zM810 486h6v6h-6zM792 492h6v6h-6zM756 522h6v6h-6zM732 528h6v6h-6zM720 534h6v6h-6zM798 540h6v6h-6zM798 552h6v6h-6zM738 558h6v6h-6zM726 564h6v6h-6zM744 576h6v6h-6zM750 600h6v6h-6zM726 606h6v6h-6zM714 612h6v6h-6zM732 618h6v6h-6zM768 624h6v6h-6zM792 630h6v6h-6zM768 636h6v6h-6zM732 642h6v6h-6zM720 654h6v6h-6zM696 666h6v6h-6zM690 696h6v6h-6zM648 714h6v6h-6zM654 720h6v6h-6zM666 738h6v6h-6zM642 744h6v6h-6zM576 750h6v6h-6zM234 756h18v6h-18zM444 756h24v6h-24zM168 792h6v6h-6zM258 804h6v6h-6z"/><path fill="#323232" d="M1014 42h60v6h-60zM1008 48h6v6h-6zM1074 48h30v6h-30zM1002 54h6v6h-6zM1086 54h24v6h-24zM1086 60h24v6h-24zM1002 66h6v6h-6zM1074 66h30v6h-30zM1008 72h66v6h-66zM1080 138h30v6h-30zM1044 144h66v6h-66zM972 150h138v6h-138zM960 156h6v6h-6zM1002 156h108v6h-108zM954 162h6v6h-6zM1002 162h108v6h-108zM954 168h156v6h-156zM954 174h156v6h-156zM960 180h150v6h-150zM942 186h18v6h-18zM1068 186h42v6h-42zM936 192h6v6h-6zM1098 192h12v6h-12zM936 198h6v6h-6zM1092 198h18v6h-18zM936 204h48v6h-48zM1056 204h54v6h-54zM948 210h162v6h-162zM948 216h162v6h-162zM942 222h168v6h-168zM948 228h162v6h-162zM1080 234h30v6h-30zM1104 240h6v6h-6zM1104 246h6v6h-6zM1086 252h24v6h-24zM912 258h18v6h-18zM1020 258h54v6h-54zM906 264h24v6h-24zM906 270h36v6h-36zM900 276h60v6h-60zM894 282h60v6h-60zM894 288h54v6h-54zM210 294h18v6h-18zM252 294h18v6h-18zM888 294h54v6h-54zM882 300h54v6h-54zM882 306h48v6h-48zM870 312h48v6h-48zM864 318h6v6h-6zM870 330h66v6h-66zM936 336h24v6h-24zM900 342h36v6h-36zM858 348h24v6h-24zM858 354h12v6h-12zM858 360h30v6h-30zM864 366h24v6h-24zM864 372h18v6h-18zM1044 372h66v6h-66zM870 378h18v6h-18zM1044 378h54v6h-54zM894 384h12v6h-12zM900 390h12v6h-12zM876 396h18v6h-18zM864 402h30v6h-30zM942 408h12v6h-12zM912 414h18v6h-18zM846 420h12v6h-12zM840 426h12v6h-12zM834 432h12v6h-12zM828 438h12v6h-12zM822 444h6v6h-6zM816 450h6v6h-6zM816 468h6v6h-6zM816 474h6v6h-6zM792 498h6v6h-6zM786 504h6v6h-6zM798 510h6v6h-6zM774 516h6v6h-6zM726 528h6v6h-6zM792 540h6v6h-6zM804 546h6v6h-6zM792 552h6v6h-6zM726 558h12v6h-12zM720 564h6v6h-6zM732 570h6v6h-6zM756 582h6v6h-6zM750 588h6v6h-6zM750 594h6v6h-6zM744 600h6v6h-6zM720 606h6v6h-6zM708 612h6v6h-6zM762 624h6v6h-6zM720 648h6v6h-6zM696 660h6v6h-6zM684 678h6v6h-6zM678 726h6v6h-6zM678 732h6v6h-6zM252 756h30v6h-30zM408 756h36v6h-36zM252 798h6v6h-6zM174 816h6v6h-6zM216 816h6v6h-6z"/><path fill="#333333" d="M1014 36h96v6h-96zM1074 42h36v6h-36zM1104 48h6v6h-6zM1104 66h6v6h-6zM1002 72h6v6h-6zM1074 72h36v6h-36zM1002 78h108v6h-108zM1002 84h108v6h-108zM1008 90h102v6h-102zM1044 96h66v6h-66zM1062 102h48v6h-48zM1086 108h24v6h-24zM1104 114h6v6h-6zM1092 120h18v6h-18zM1032 126h78v6h-78zM978 132h132v6h-132zM978 138h102v6h-102zM972 144h72v6h-72zM966 150h6v6h-6zM948 180h12v6h-12zM930 204h6v6h-6zM930 210h18v6h-18zM924 216h24v6h-24zM918 222h24v6h-24zM918 228h30v6h-30zM912 234h60v6h-60zM1050 234h30v6h-30zM912 240h18v6h-18zM1086 240h18v6h-18zM906 246h24v6h-24zM1092 246h12v6h-12zM900 252h90v6h-90zM1056 252h30v6h-30zM900 258h12v6h-12zM894 264h12v6h-12zM888 270h18v6h-18zM888 276h12v6h-12zM882 282h12v6h-12zM228 288h30v6h-30zM876 288h18v6h-18zM198 294h12v6h-12zM270 294h12v6h-12zM876 294h12v6h-12zM870 300h12v6h-12zM870 306h12v6h-12zM852 324h6v6h-6zM858 330h6v6h-6zM918 336h18v6h-18zM864 342h36v6h-36zM852 366h12v6h-12zM852 372h12v6h-12zM852 378h18v6h-18zM882 384h12v6h-12zM252 390h6v6h-6zM888 390h12v6h-12zM858 396h18v6h-18zM846 402h18v6h-18zM930 408h12v6h-12zM846 414h66v6h-66zM840 420h6v6h-6zM834 426h6v6h-6zM828 432h6v6h-6zM822 438h6v6h-6zM810 456h6v6h-6zM810 462h6v6h-6zM786 492h6v6h-6zM792 510h6v6h-6zM750 522h6v6h-6zM786 540h6v6h-6zM714 558h12v6h-12zM708 564h12v6h-12zM738 576h6v6h-6zM714 606h6v6h-6zM702 612h6v6h-6zM726 618h6v6h-6zM786 630h6v6h-6zM762 636h6v6h-6zM720 642h12v6h-12zM714 654h6v6h-6zM684 672h6v6h-6zM690 684h6v6h-6zM690 690h6v6h-6zM684 696h6v6h-6zM684 702h6v6h-6zM678 708h6v6h-6zM642 714h6v6h-6zM648 720h6v6h-6zM672 726h6v6h-6zM636 744h6v6h-6zM570 750h6v6h-6zM282 756h126v6h-126zM222 792h6v6h-6z"/><path fill="#353535" d="M1008 36h6v6h-6zM1008 42h6v6h-6zM1002 48h6v6h-6zM996 54h6v6h-6zM996 60h6v6h-6zM996 66h6v6h-6zM996 78h6v6h-6zM996 84h6v6h-6zM996 90h12v6h-12zM1020 96h24v6h-24zM1032 102h30v6h-30zM1062 108h24v6h-24zM1086 114h18v6h-18zM1074 120h18v6h-18zM984 126h48v6h-48zM972 138h6v6h-6zM960 150h6v6h-6zM954 156h6v6h-6zM948 162h6v6h-6zM948 168h6v6h-6zM948 174h6v6h-6zM942 180h6v6h-6zM930 198h6v6h-6zM924 210h6v6h-6zM912 228h6v6h-6zM972 234h78v6h-78zM906 240h6v6h-6zM930 240h30v6h-30zM1074 240h12v6h-12zM930 246h24v6h-24zM1074 246h18v6h-18zM990 252h66v6h-66zM894 258h6v6h-6zM882 276h6v6h-6zM204 288h24v6h-24zM258 288h24v6h-24zM186 294h12v6h-12zM282 294h12v6h-12zM870 294h6v6h-6zM204 300h54v6h-54zM864 312h6v6h-6zM858 318h6v6h-6zM894 336h24v6h-24zM858 342h6v6h-6zM852 354h6v6h-6zM852 360h6v6h-6zM222 384h42v6h-42zM864 384h18v6h-18zM204 390h48v6h-48zM258 390h6v6h-6zM876 390h12v6h-12zM222 396h36v6h-36zM846 396h12v6h-12zM846 408h84v6h-84zM840 414h6v6h-6zM834 420h6v6h-6zM828 426h6v6h-6zM816 444h6v6h-6zM810 450h6v6h-6zM156 474h60v6h-60zM156 480h66v6h-66zM810 480h6v6h-6zM156 486h48v6h-48zM804 486h6v6h-6zM156 492h24v6h-24zM780 504h6v6h-6zM768 516h6v6h-6zM798 546h6v6h-6zM786 552h6v6h-6zM708 558h6v6h-6zM702 564h6v6h-6zM744 588h6v6h-6zM744 594h6v6h-6zM738 600h6v6h-6zM708 606h6v6h-6zM756 624h6v6h-6zM756 636h6v6h-6zM714 642h6v6h-6zM714 648h6v6h-6zM690 666h6v6h-6zM642 720h6v6h-6zM672 732h6v6h-6zM660 738h6v6h-6zM564 750h6v6h-6zM174 792h6v6h-6z"/><path fill="#363636" d="M996 72h6v6h-6zM996 96h24v6h-24zM1014 102h18v6h-18zM1044 108h18v6h-18zM1074 114h12v6h-12zM1062 120h12v6h-12zM978 126h6v6h-6zM972 132h6v6h-6zM966 144h6v6h-6zM948 156h6v6h-6zM936 186h6v6h-6zM930 192h6v6h-6zM924 204h6v6h-6zM918 216h6v6h-6zM906 234h6v6h-6zM960 240h18v6h-18zM1056 240h18v6h-18zM240 246h36v6h-36zM900 246h6v6h-6zM954 246h18v6h-18zM1062 246h12v6h-12zM240 252h36v6h-36zM894 252h6v6h-6zM888 264h6v6h-6zM882 270h6v6h-6zM876 282h6v6h-6zM186 288h18v6h-18zM282 288h24v6h-24zM168 294h18v6h-18zM294 294h12v6h-12zM156 300h48v6h-48zM258 300h24v6h-24zM864 300h6v6h-6zM156 306h96v6h-96zM864 306h6v6h-6zM156 330h132v6h-132zM852 330h6v6h-6zM156 336h132v6h-132zM864 336h30v6h-30zM156 342h126v6h-126zM156 348h126v6h-126zM852 348h6v6h-6zM156 354h120v6h-120zM156 360h120v6h-120zM156 366h114v6h-114zM156 372h114v6h-114zM846 372h6v6h-6zM156 378h114v6h-114zM846 378h6v6h-6zM156 384h66v6h-66zM264 384h6v6h-6zM852 384h12v6h-12zM156 390h48v6h-48zM264 390h6v6h-6zM864 390h12v6h-12zM156 396h66v6h-66zM258 396h6v6h-6zM156 402h102v6h-102zM840 402h6v6h-6zM156 408h96v6h-96zM840 408h6v6h-6zM156 414h96v6h-96zM156 420h96v6h-96zM156 426h90v6h-90zM156 432h24v6h-24zM822 432h6v6h-6zM156 444h12v6h-12zM156 450h78v6h-78zM156 456h78v6h-78zM156 462h78v6h-78zM156 468h72v6h-72zM810 468h6v6h-6zM216 474h12v6h-12zM810 474h6v6h-6zM222 480h6v6h-6zM204 486h18v6h-18zM180 492h18v6h-18zM780 492h6v6h-6zM156 498h30v6h-30zM786 498h6v6h-6zM156 504h54v6h-54zM156 510h60v6h-60zM786 510h6v6h-6zM156 516h54v6h-54zM156 522h54v6h-54zM744 522h6v6h-6zM156 528h54v6h-54zM720 528h6v6h-6zM156 534h48v6h-48zM714 534h6v6h-6zM156 540h48v6h-48zM780 540h6v6h-6zM156 546h48v6h-48zM792 546h6v6h-6zM156 552h42v6h-42zM780 552h6v6h-6zM156 558h42v6h-42zM156 564h42v6h-42zM156 570h42v6h-42zM726 570h6v6h-6zM156 576h36v6h-36zM750 582h6v6h-6zM732 600h6v6h-6zM702 606h6v6h-6zM696 612h6v6h-6zM720 618h6v6h-6zM780 630h6v6h-6zM708 642h6v6h-6zM708 648h6v6h-6zM708 654h6v6h-6zM690 660h6v6h-6zM684 690h6v6h-6zM672 708h6v6h-6zM636 714h6v6h-6zM666 726h6v6h-6zM630 744h6v6h-6zM246 810h6v6h-6zM180 816h6v6h-6zM210 816h6v6h-6z"/><path fill="#373737" d="M1002 36h6v6h-6zM1002 42h6v6h-6zM996 48h6v6h-6zM990 60h6v6h-6zM990 78h6v6h-6zM990 84h6v6h-6zM990 90h6v6h-6zM1002 102h12v6h-12zM1026 108h18v6h-18zM1062 114h12v6h-12zM1044 120h18v6h-18zM966 138h6v6h-6zM954 150h6v6h-6zM942 162h6v6h-6zM942 168h6v6h-6zM942 174h6v6h-6zM936 180h6v6h-6zM924 198h6v6h-6zM918 210h6v6h-6zM912 222h6v6h-6zM906 228h6v6h-6zM900 240h6v6h-6zM978 240h18v6h-18zM1038 240h18v6h-18zM228 246h12v6h-12zM276 246h12v6h-12zM972 246h18v6h-18zM1050 246h12v6h-12zM222 252h18v6h-18zM276 252h12v6h-12zM888 258h6v6h-6zM876 276h6v6h-6zM180 282h132v6h-132zM156 288h30v6h-30zM306 288h6v6h-6zM870 288h6v6h-6zM156 294h12v6h-12zM306 294h6v6h-6zM282 300h12v6h-12zM252 306h42v6h-42zM156 312h36v6h-36zM858 312h6v6h-6zM156 318h6v6h-6zM852 318h6v6h-6zM156 324h30v6h-30zM846 324h6v6h-6zM288 330h6v6h-6zM858 336h6v6h-6zM282 342h6v6h-6zM852 342h6v6h-6zM282 348h6v6h-6zM276 354h6v6h-6zM846 354h6v6h-6zM276 360h6v6h-6zM846 360h6v6h-6zM270 366h6v6h-6zM846 366h6v6h-6zM270 372h6v6h-6zM270 390h6v6h-6zM852 390h12v6h-12zM264 396h6v6h-6zM258 402h6v6h-6zM252 408h6v6h-6zM252 414h6v6h-6zM834 414h6v6h-6zM828 420h6v6h-6zM246 426h6v6h-6zM180 432h66v6h-66zM156 438h36v6h-36zM816 438h6v6h-6zM168 444h42v6h-42zM810 444h6v6h-6zM234 450h6v6h-6zM234 456h6v6h-6zM804 456h6v6h-6zM234 462h6v6h-6zM804 462h6v6h-6zM228 468h6v6h-6zM228 474h6v6h-6zM228 480h6v6h-6zM222 486h6v6h-6zM798 486h6v6h-6zM198 492h6v6h-6zM186 498h18v6h-18zM210 504h6v6h-6zM774 504h6v6h-6zM210 516h6v6h-6zM210 522h6v6h-6zM204 534h6v6h-6zM204 540h6v6h-6zM774 540h6v6h-6zM198 552h6v6h-6zM774 552h6v6h-6zM198 558h6v6h-6zM198 564h6v6h-6zM192 576h6v6h-6zM732 576h6v6h-6zM738 594h6v6h-6zM726 600h6v6h-6zM696 606h6v6h-6zM690 612h6v6h-6zM750 624h6v6h-6zM774 630h6v6h-6zM750 636h6v6h-6zM678 678h6v6h-6zM684 684h6v6h-6zM678 696h6v6h-6zM678 702h6v6h-6zM666 708h6v6h-6zM630 714h6v6h-6zM636 720h6v6h-6zM660 726h6v6h-6zM666 732h6v6h-6zM654 738h6v6h-6zM624 744h6v6h-6zM558 750h6v6h-6zM216 792h6v6h-6z"/><path fill="#383838" d="M990 54h6v6h-6zM990 66h6v6h-6zM990 72h6v6h-6zM990 96h6v6h-6zM990 102h12v6h-12zM990 108h36v6h-36zM1056 114h6v6h-6zM984 120h24v6h-24zM1026 120h18v6h-18zM972 126h6v6h-6zM966 132h6v6h-6zM960 144h6v6h-6zM942 156h6v6h-6zM930 186h6v6h-6zM924 192h6v6h-6zM918 204h6v6h-6zM912 216h6v6h-6zM900 234h6v6h-6zM996 240h42v6h-42zM210 246h18v6h-18zM288 246h6v6h-6zM894 246h6v6h-6zM990 246h24v6h-24zM1020 246h30v6h-30zM210 252h12v6h-12zM288 252h12v6h-12zM240 258h36v6h-36zM882 264h6v6h-6zM156 276h72v6h-72zM156 282h24v6h-24zM312 282h6v6h-6zM870 282h6v6h-6zM312 288h6v6h-6zM864 294h6v6h-6zM294 300h12v6h-12zM294 306h6v6h-6zM858 306h6v6h-6zM192 312h30v6h-30zM162 318h24v6h-24zM186 324h36v6h-36zM846 330h6v6h-6zM288 336h6v6h-6zM288 342h6v6h-6zM846 348h6v6h-6zM282 354h6v6h-6zM276 366h6v6h-6zM270 378h6v6h-6zM270 384h6v6h-6zM846 384h6v6h-6zM276 390h6v6h-6zM846 390h6v6h-6zM840 396h6v6h-6zM258 408h6v6h-6zM834 408h6v6h-6zM252 420h6v6h-6zM822 426h6v6h-6zM192 438h48v6h-48zM210 444h30v6h-30zM240 450h6v6h-6zM804 450h6v6h-6zM240 456h6v6h-6zM234 468h6v6h-6zM804 480h6v6h-6zM204 492h12v6h-12zM774 492h6v6h-6zM204 498h12v6h-12zM780 498h6v6h-6zM216 504h6v6h-6zM216 510h6v6h-6zM780 510h6v6h-6zM216 516h6v6h-6zM762 516h6v6h-6zM738 522h6v6h-6zM210 528h6v6h-6zM768 540h6v6h-6zM204 546h6v6h-6zM786 546h6v6h-6zM204 552h6v6h-6zM204 558h6v6h-6zM702 558h6v6h-6zM198 570h6v6h-6zM720 570h6v6h-6zM198 576h6v6h-6zM156 582h30v6h-30zM744 582h6v6h-6zM738 588h6v6h-6zM720 600h6v6h-6zM690 606h6v6h-6zM714 618h6v6h-6zM702 642h6v6h-6zM702 648h6v6h-6zM684 666h6v6h-6zM678 672h6v6h-6zM630 720h6v6h-6zM660 732h6v6h-6zM618 744h6v6h-6zM552 750h6v6h-6zM180 792h6v6h-6zM186 816h6v6h-6zM204 816h6v6h-6z"/><path fill="#3a3a3a" d="M996 36h6v6h-6zM996 42h6v6h-6zM990 48h6v6h-6zM984 78h6v6h-6zM984 84h6v6h-6zM984 90h6v6h-6zM1044 114h12v6h-12zM978 120h6v6h-6zM1008 120h18v6h-18zM960 138h6v6h-6zM954 144h6v6h-6zM948 150h6v6h-6zM936 162h6v6h-6zM936 168h6v6h-6zM936 174h6v6h-6zM918 198h6v6h-6zM912 210h6v6h-6zM906 222h6v6h-6zM234 240h42v6h-42zM894 240h6v6h-6zM198 246h12v6h-12zM294 246h6v6h-6zM1014 246h6v6h-6zM192 252h18v6h-18zM300 252h6v6h-6zM888 252h6v6h-6zM192 258h48v6h-48zM276 258h30v6h-30zM882 258h6v6h-6zM156 264h36v6h-36zM156 270h54v6h-54zM876 270h6v6h-6zM228 276h90v6h-90zM318 288h6v6h-6zM864 288h6v6h-6zM312 294h6v6h-6zM858 300h6v6h-6zM300 306h6v6h-6zM222 312h72v6h-72zM186 318h18v6h-18zM222 324h66v6h-66zM840 324h6v6h-6zM294 330h6v6h-6zM294 336h6v6h-6zM852 336h6v6h-6zM288 348h6v6h-6zM282 360h6v6h-6zM276 372h6v6h-6zM840 372h6v6h-6zM276 378h6v6h-6zM840 378h6v6h-6zM276 384h6v6h-6zM282 390h6v6h-6zM270 396h6v6h-6zM264 402h6v6h-6zM834 402h6v6h-6zM258 414h6v6h-6zM828 414h6v6h-6zM258 420h6v6h-6zM252 426h6v6h-6zM246 432h6v6h-6zM816 432h6v6h-6zM240 438h6v6h-6zM810 438h6v6h-6zM240 444h6v6h-6zM246 456h6v6h-6zM240 462h6v6h-6zM240 468h6v6h-6zM804 468h6v6h-6zM234 474h6v6h-6zM804 474h6v6h-6zM234 480h6v6h-6zM228 486h6v6h-6zM216 492h6v6h-6zM222 504h6v6h-6zM768 504h6v6h-6zM222 510h6v6h-6zM774 510h6v6h-6zM216 522h6v6h-6zM216 528h6v6h-6zM714 528h6v6h-6zM210 534h6v6h-6zM708 534h6v6h-6zM210 540h6v6h-6zM762 540h6v6h-6zM210 546h6v6h-6zM210 552h6v6h-6zM768 552h6v6h-6zM204 564h6v6h-6zM696 564h6v6h-6zM204 570h6v6h-6zM186 582h6v6h-6zM732 594h6v6h-6zM714 600h6v6h-6zM684 606h6v6h-6zM744 624h6v6h-6zM768 630h6v6h-6zM744 636h6v6h-6zM696 642h6v6h-6zM702 654h6v6h-6zM684 660h6v6h-6zM678 690h6v6h-6zM672 696h6v6h-6zM672 702h6v6h-6zM660 708h6v6h-6zM624 714h6v6h-6zM654 726h6v6h-6zM648 738h6v6h-6zM612 744h6v6h-6zM156 750h6v6h-6zM210 792h6v6h-6zM252 804h6v6h-6zM192 816h12v6h-12z"/><path fill="#3b3b3b" d="M984 54h6v6h-6zM984 60h6v6h-6zM984 66h6v6h-6zM984 72h6v6h-6zM984 96h6v6h-6zM984 108h6v6h-6zM990 114h6v6h-6zM1032 114h12v6h-12zM966 126h6v6h-6zM960 132h6v6h-6zM936 156h6v6h-6zM930 180h6v6h-6zM924 186h6v6h-6zM918 192h6v6h-6zM906 216h6v6h-6zM900 228h6v6h-6zM894 234h6v6h-6zM210 240h24v6h-24zM276 240h18v6h-18zM174 246h24v6h-24zM300 246h12v6h-12zM888 246h6v6h-6zM156 252h36v6h-36zM306 252h12v6h-12zM156 258h36v6h-36zM306 258h18v6h-18zM192 264h132v6h-132zM876 264h6v6h-6zM210 270h48v6h-48zM276 270h48v6h-48zM318 276h6v6h-6zM870 276h6v6h-6zM318 282h6v6h-6zM858 294h6v6h-6zM306 300h6v6h-6zM294 312h6v6h-6zM852 312h6v6h-6zM204 318h18v6h-18zM846 318h6v6h-6zM288 324h6v6h-6zM300 330h6v6h-6zM840 330h6v6h-6zM300 336h6v6h-6zM294 342h6v6h-6zM846 342h6v6h-6zM294 348h6v6h-6zM288 354h6v6h-6zM840 354h6v6h-6zM288 360h6v6h-6zM840 360h6v6h-6zM282 366h6v6h-6zM840 366h6v6h-6zM282 372h6v6h-6zM282 384h6v6h-6zM840 384h6v6h-6zM276 396h6v6h-6zM834 396h6v6h-6zM270 402h6v6h-6zM264 408h6v6h-6zM264 414h6v6h-6zM822 420h6v6h-6zM258 426h6v6h-6zM816 426h6v6h-6zM252 432h6v6h-6zM804 444h6v6h-6zM246 450h6v6h-6zM252 456h6v6h-6zM798 456h6v6h-6zM246 462h6v6h-6zM798 462h6v6h-6zM240 474h6v6h-6zM240 480h6v6h-6zM798 480h6v6h-6zM234 486h6v6h-6zM792 486h6v6h-6zM222 492h6v6h-6zM768 492h6v6h-6zM216 498h6v6h-6zM774 498h6v6h-6zM228 510h6v6h-6zM222 516h6v6h-6zM756 516h6v6h-6zM222 522h6v6h-6zM732 522h6v6h-6zM216 534h6v6h-6zM216 540h6v6h-6zM780 546h6v6h-6zM762 552h6v6h-6zM210 558h6v6h-6zM210 564h6v6h-6zM204 576h6v6h-6zM726 576h6v6h-6zM192 582h6v6h-6zM738 582h6v6h-6zM732 588h6v6h-6zM684 612h6v6h-6zM708 618h6v6h-6zM738 636h6v6h-6zM690 642h6v6h-6zM696 648h6v6h-6zM624 720h6v6h-6zM654 732h6v6h-6zM606 744h6v6h-6zM186 792h6v6h-6zM246 798h6v6h-6z"/><path fill="#3c3c3c" d="M990 36h6v6h-6zM990 42h6v6h-6zM984 48h6v6h-6zM978 78h6v6h-6zM978 84h6v6h-6zM978 90h6v6h-6zM984 102h6v6h-6zM984 114h6v6h-6zM996 114h36v6h-36zM972 120h6v6h-6zM954 138h6v6h-6zM948 144h6v6h-6zM942 150h6v6h-6zM930 162h6v6h-6zM930 168h6v6h-6zM930 174h6v6h-6zM912 198h6v6h-6zM912 204h6v6h-6zM900 222h6v6h-6zM168 240h42v6h-42zM294 240h12v6h-12zM888 240h6v6h-6zM156 246h18v6h-18zM312 246h6v6h-6zM318 252h12v6h-12zM882 252h6v6h-6zM324 258h6v6h-6zM324 264h6v6h-6zM258 270h18v6h-18zM870 270h6v6h-6zM324 276h6v6h-6zM324 282h6v6h-6zM864 282h6v6h-6zM324 288h6v6h-6zM318 294h6v6h-6zM852 300h6v6h-6zM306 306h6v6h-6zM852 306h6v6h-6zM300 312h6v6h-6zM222 318h18v6h-18zM294 324h6v6h-6zM834 324h6v6h-6zM846 336h6v6h-6zM300 342h6v6h-6zM840 348h6v6h-6zM294 354h6v6h-6zM288 366h6v6h-6zM834 372h6v6h-6zM282 378h6v6h-6zM834 378h6v6h-6zM288 384h6v6h-6zM288 390h6v6h-6zM840 390h6v6h-6zM282 396h6v6h-6zM828 402h6v6h-6zM270 408h6v6h-6zM828 408h6v6h-6zM264 420h6v6h-6zM264 426h6v6h-6zM810 432h6v6h-6zM246 438h6v6h-6zM246 444h6v6h-6zM252 450h6v6h-6zM798 450h6v6h-6zM258 456h6v6h-6zM252 462h6v6h-6zM246 468h6v6h-6zM246 474h6v6h-6zM222 498h6v6h-6zM228 504h6v6h-6zM768 510h6v6h-6zM228 516h6v6h-6zM222 528h6v6h-6zM756 540h6v6h-6zM216 546h6v6h-6zM216 552h6v6h-6zM756 552h6v6h-6zM216 558h6v6h-6zM210 570h6v6h-6zM714 570h6v6h-6zM210 576h6v6h-6zM198 582h6v6h-6zM726 594h6v6h-6zM708 600h6v6h-6zM738 624h6v6h-6zM762 630h6v6h-6zM690 648h6v6h-6zM696 654h6v6h-6zM678 660h6v6h-6zM678 666h6v6h-6zM672 672h6v6h-6zM672 678h6v6h-6zM678 684h6v6h-6zM666 696h6v6h-6zM666 702h6v6h-6zM654 708h6v6h-6zM618 714h6v6h-6zM648 726h6v6h-6zM600 744h6v6h-6zM546 750h6v6h-6zM192 792h6v6h-6zM204 792h6v6h-6z"/><path fill="#3e3e3e" d="M978 60h6v6h-6zM978 66h6v6h-6zM978 72h6v6h-6zM978 96h6v6h-6zM978 108h6v6h-6zM978 114h6v6h-6zM960 126h6v6h-6zM954 132h6v6h-6zM930 156h6v6h-6zM924 180h6v6h-6zM918 186h6v6h-6zM906 210h6v6h-6zM900 216h6v6h-6zM894 228h6v6h-6zM156 234h156v6h-156zM156 240h12v6h-12zM306 240h18v6h-18zM318 246h12v6h-12zM882 246h6v6h-6zM330 252h6v6h-6zM330 258h6v6h-6zM876 258h6v6h-6zM330 264h6v6h-6zM324 270h6v6h-6zM330 276h6v6h-6zM864 276h6v6h-6zM330 282h6v6h-6zM330 288h6v6h-6zM858 288h6v6h-6zM324 294h6v6h-6zM312 300h6v6h-6zM846 312h6v6h-6zM240 318h54v6h-54zM840 318h6v6h-6zM300 324h6v6h-6zM306 330h6v6h-6zM306 336h6v6h-6zM306 342h6v6h-6zM840 342h6v6h-6zM300 348h6v6h-6zM300 354h6v6h-6zM294 360h6v6h-6zM294 366h6v6h-6zM834 366h6v6h-6zM288 372h6v6h-6zM288 378h6v6h-6zM276 402h6v6h-6zM276 408h6v6h-6zM270 414h6v6h-6zM822 414h6v6h-6zM270 420h6v6h-6zM816 420h6v6h-6zM258 432h6v6h-6zM252 438h6v6h-6zM804 438h6v6h-6zM252 444h6v6h-6zM258 450h6v6h-6zM258 462h6v6h-6zM252 468h6v6h-6zM798 468h6v6h-6zM798 474h6v6h-6zM246 480h6v6h-6zM240 486h6v6h-6zM786 486h6v6h-6zM228 492h6v6h-6zM762 492h6v6h-6zM234 504h6v6h-6zM762 504h6v6h-6zM234 510h6v6h-6zM234 516h6v6h-6zM750 516h6v6h-6zM228 522h6v6h-6zM726 522h6v6h-6zM228 528h6v6h-6zM708 528h6v6h-6zM222 534h6v6h-6zM222 540h6v6h-6zM750 540h6v6h-6zM222 546h6v6h-6zM774 546h6v6h-6zM222 552h6v6h-6zM696 558h6v6h-6zM216 564h6v6h-6zM216 570h6v6h-6zM204 582h6v6h-6zM156 588h36v6h-36zM696 600h12v6h-12zM678 606h6v6h-6zM702 618h6v6h-6zM732 636h6v6h-6zM684 642h6v6h-6zM672 690h6v6h-6zM648 708h6v6h-6zM606 714h12v6h-12zM618 720h6v6h-6zM642 726h6v6h-6zM642 738h6v6h-6zM594 744h6v6h-6zM162 750h6v6h-6zM198 792h6v6h-6z"/><path fill="#3f3f3f" d="M984 36h6v6h-6zM984 42h6v6h-6zM978 54h6v6h-6zM972 78h6v6h-6zM972 84h6v6h-6zM972 90h6v6h-6zM978 102h6v6h-6zM966 120h6v6h-6zM948 138h6v6h-6zM942 144h6v6h-6zM936 150h6v6h-6zM924 162h6v6h-6zM924 168h6v6h-6zM924 174h6v6h-6zM912 192h6v6h-6zM906 204h6v6h-6zM894 222h6v6h-6zM156 228h192v6h-192zM312 234h30v6h-30zM888 234h6v6h-6zM324 240h12v6h-12zM330 246h6v6h-6zM876 252h6v6h-6zM336 258h6v6h-6zM870 264h6v6h-6zM330 270h6v6h-6zM336 282h6v6h-6zM858 282h6v6h-6zM852 294h6v6h-6zM312 306h6v6h-6zM846 306h6v6h-6zM306 312h6v6h-6zM294 318h6v6h-6zM306 324h6v6h-6zM312 330h6v6h-6zM834 330h6v6h-6zM312 336h6v6h-6zM840 336h6v6h-6zM306 348h6v6h-6zM834 354h6v6h-6zM300 360h6v6h-6zM834 360h6v6h-6zM294 372h6v6h-6zM834 384h6v6h-6zM294 390h6v6h-6zM834 390h6v6h-6zM288 396h6v6h-6zM828 396h6v6h-6zM282 402h6v6h-6zM822 408h6v6h-6zM276 414h6v6h-6zM270 426h6v6h-6zM810 426h6v6h-6zM264 432h6v6h-6zM258 438h6v6h-6zM258 444h6v6h-6zM798 444h6v6h-6zM264 456h6v6h-6zM792 456h6v6h-6zM792 462h6v6h-6zM252 474h6v6h-6zM792 480h6v6h-6zM246 486h6v6h-6zM234 492h6v6h-6zM228 498h6v6h-6zM768 498h6v6h-6zM240 504h6v6h-6zM240 510h6v6h-6zM234 522h6v6h-6zM228 534h6v6h-6zM702 534h6v6h-6zM744 540h6v6h-6zM768 546h6v6h-6zM750 552h6v6h-6zM222 558h6v6h-6zM222 564h6v6h-6zM708 570h6v6h-6zM216 576h6v6h-6zM720 576h6v6h-6zM732 582h6v6h-6zM192 588h6v6h-6zM726 588h6v6h-6zM720 594h6v6h-6zM690 600h6v6h-6zM678 612h6v6h-6zM696 618h6v6h-6zM732 624h6v6h-6zM756 630h6v6h-6zM678 642h6v6h-6zM684 648h6v6h-6zM690 654h6v6h-6zM672 660h6v6h-6zM672 666h6v6h-6zM666 672h6v6h-6zM672 684h6v6h-6zM660 696h6v6h-6zM660 702h6v6h-6zM600 714h6v6h-6zM612 720h6v6h-6zM648 732h6v6h-6zM588 744h6v6h-6zM540 750h6v6h-6zM240 810h6v6h-6z"/><path fill="#404040" d="M978 48h6v6h-6zM972 60h6v6h-6zM972 66h6v6h-6zM972 72h6v6h-6zM972 96h6v6h-6zM972 108h6v6h-6zM972 114h6v6h-6zM960 120h6v6h-6zM954 126h6v6h-6zM948 132h6v6h-6zM924 156h6v6h-6zM918 180h6v6h-6zM912 186h6v6h-6zM906 198h6v6h-6zM900 210h6v6h-6zM156 216h156v6h-156zM156 222h192v6h-192zM348 228h6v6h-6zM888 228h6v6h-6zM342 234h6v6h-6zM336 240h6v6h-6zM882 240h6v6h-6zM336 246h6v6h-6zM336 252h6v6h-6zM870 258h6v6h-6zM336 264h6v6h-6zM336 270h6v6h-6zM864 270h6v6h-6zM336 276h6v6h-6zM336 288h6v6h-6zM852 288h6v6h-6zM330 294h6v6h-6zM318 300h6v6h-6zM846 300h6v6h-6zM312 312h6v6h-6zM300 318h6v6h-6zM828 324h6v6h-6zM834 348h6v6h-6zM300 366h6v6h-6zM828 372h6v6h-6zM294 378h6v6h-6zM828 378h6v6h-6zM294 384h6v6h-6zM822 402h6v6h-6zM282 408h6v6h-6zM816 414h6v6h-6zM276 420h6v6h-6zM804 432h6v6h-6zM264 450h6v6h-6zM792 450h6v6h-6zM264 462h6v6h-6zM258 468h6v6h-6zM252 480h6v6h-6zM756 492h6v6h-6zM234 498h6v6h-6zM756 504h6v6h-6zM762 510h6v6h-6zM240 516h6v6h-6zM744 516h6v6h-6zM720 522h6v6h-6zM234 528h6v6h-6zM228 540h6v6h-6zM732 540h12v6h-12zM228 546h6v6h-6zM744 552h6v6h-6zM690 564h6v6h-6zM222 570h6v6h-6zM210 582h6v6h-6zM198 588h6v6h-6zM750 630h6v6h-6zM726 636h6v6h-6zM672 642h6v6h-6zM666 678h6v6h-6zM666 690h6v6h-6zM642 708h6v6h-6zM594 714h6v6h-6zM636 726h6v6h-6zM636 738h6v6h-6zM582 744h6v6h-6zM168 750h6v6h-6z"/><path fill="#414141" d="M978 36h6v6h-6zM978 42h6v6h-6zM972 54h6v6h-6zM966 78h6v6h-6zM966 84h6v6h-6zM966 90h6v6h-6zM972 102h6v6h-6zM966 114h6v6h-6zM948 126h6v6h-6zM942 138h6v6h-6zM936 144h6v6h-6zM930 150h6v6h-6zM918 162h6v6h-6zM918 168h6v6h-6zM918 174h6v6h-6zM906 192h6v6h-6zM156 204h42v6h-42zM900 204h6v6h-6zM156 210h198v6h-198zM312 216h42v6h-42zM894 216h6v6h-6zM348 222h12v6h-12zM888 222h6v6h-6zM354 228h6v6h-6zM348 234h6v6h-6zM882 234h6v6h-6zM342 240h6v6h-6zM342 246h6v6h-6zM876 246h6v6h-6zM342 252h6v6h-6zM342 258h6v6h-6zM342 264h6v6h-6zM864 264h6v6h-6zM342 270h6v6h-6zM342 276h6v6h-6zM858 276h6v6h-6zM342 282h6v6h-6zM846 294h6v6h-6zM318 306h6v6h-6zM318 312h6v6h-6zM840 312h6v6h-6zM306 318h6v6h-6zM834 318h6v6h-6zM312 324h6v6h-6zM318 330h6v6h-6zM828 330h6v6h-6zM834 336h6v6h-6zM312 342h6v6h-6zM834 342h6v6h-6zM306 354h6v6h-6zM828 354h6v6h-6zM828 360h6v6h-6zM828 366h6v6h-6zM828 384h6v6h-6zM822 396h6v6h-6zM282 414h6v6h-6zM810 420h6v6h-6zM276 426h6v6h-6zM270 432h6v6h-6zM264 438h6v6h-6zM798 438h6v6h-6zM264 444h6v6h-6zM792 444h6v6h-6zM270 456h6v6h-6zM786 456h6v6h-6zM786 462h6v6h-6zM792 468h6v6h-6zM258 474h6v6h-6zM792 474h6v6h-6zM780 486h6v6h-6zM240 492h6v6h-6zM750 492h6v6h-6zM240 498h6v6h-6zM762 498h6v6h-6zM738 516h6v6h-6zM702 528h6v6h-6zM726 540h6v6h-6zM762 546h6v6h-6zM228 552h6v6h-6zM228 558h6v6h-6zM702 570h6v6h-6zM222 576h6v6h-6zM216 582h6v6h-6zM156 594h30v6h-30zM714 594h6v6h-6zM684 600h6v6h-6zM672 606h6v6h-6zM726 624h6v6h-6zM678 648h6v6h-6zM684 654h6v6h-6zM666 660h6v6h-6zM666 666h6v6h-6zM654 696h6v6h-6zM654 702h6v6h-6zM642 732h6v6h-6zM534 750h6v6h-6z"/><path fill="#434343" d="M972 48h6v6h-6zM966 66h6v6h-6zM966 72h6v6h-6zM966 96h6v6h-6zM966 108h6v6h-6zM954 120h6v6h-6zM942 132h6v6h-6zM918 156h6v6h-6zM912 180h6v6h-6zM906 186h6v6h-6zM156 198h30v6h-30zM900 198h6v6h-6zM198 204h84v6h-84zM342 204h18v6h-18zM354 210h6v6h-6zM894 210h6v6h-6zM354 216h6v6h-6zM360 222h6v6h-6zM360 228h6v6h-6zM882 228h6v6h-6zM354 234h6v6h-6zM348 240h6v6h-6zM876 240h6v6h-6zM348 252h6v6h-6zM870 252h6v6h-6zM348 258h6v6h-6zM864 258h6v6h-6zM348 264h6v6h-6zM858 270h6v6h-6zM852 282h6v6h-6zM342 288h6v6h-6zM336 294h6v6h-6zM324 300h6v6h-6zM840 300h6v6h-6zM840 306h6v6h-6zM312 318h6v6h-6zM318 324h6v6h-6zM822 324h6v6h-6zM318 336h6v6h-6zM312 348h6v6h-6zM828 348h6v6h-6zM306 360h6v6h-6zM300 372h6v6h-6zM300 378h6v6h-6zM822 378h6v6h-6zM300 384h6v6h-6zM300 390h6v6h-6zM828 390h6v6h-6zM294 396h6v6h-6zM288 402h6v6h-6zM816 402h6v6h-6zM816 408h6v6h-6zM810 414h6v6h-6zM282 420h6v6h-6zM804 426h6v6h-6zM798 432h6v6h-6zM270 450h6v6h-6zM786 450h6v6h-6zM270 462h6v6h-6zM258 480h6v6h-6zM786 480h6v6h-6zM252 486h6v6h-6zM246 492h6v6h-6zM744 492h6v6h-6zM246 504h6v6h-6zM750 504h6v6h-6zM246 510h6v6h-6zM756 510h6v6h-6zM240 522h6v6h-6zM234 534h6v6h-6zM696 534h6v6h-6zM234 540h6v6h-6zM720 540h6v6h-6zM738 552h6v6h-6zM690 558h6v6h-6zM228 564h6v6h-6zM714 576h6v6h-6zM726 582h6v6h-6zM204 588h6v6h-6zM720 588h6v6h-6zM186 594h6v6h-6zM690 618h6v6h-6zM720 624h6v6h-6zM744 630h6v6h-6zM720 636h6v6h-6zM666 642h6v6h-6zM672 648h6v6h-6zM660 672h6v6h-6zM660 678h6v6h-6zM666 684h6v6h-6zM660 690h6v6h-6zM636 708h6v6h-6zM606 720h6v6h-6zM630 738h6v6h-6zM576 744h6v6h-6zM174 750h6v6h-6zM528 750h6v6h-6z"/><path fill="#444444" d="M972 36h6v6h-6zM972 42h6v6h-6zM966 54h6v6h-6zM966 60h6v6h-6zM960 78h6v6h-6zM960 84h6v6h-6zM960 90h6v6h-6zM966 102h6v6h-6zM960 114h6v6h-6zM942 126h6v6h-6zM936 138h6v6h-6zM930 144h6v6h-6zM924 150h6v6h-6zM912 162h6v6h-6zM912 168h6v6h-6zM192 174h60v6h-60zM912 174h6v6h-6zM156 180h96v6h-96zM900 192h6v6h-6zM186 198h54v6h-54zM282 204h60v6h-60zM360 204h6v6h-6zM894 204h6v6h-6zM360 210h6v6h-6zM360 216h6v6h-6zM888 216h6v6h-6zM366 222h6v6h-6zM366 228h6v6h-6zM360 234h6v6h-6zM876 234h6v6h-6zM354 240h6v6h-6zM348 246h6v6h-6zM870 246h6v6h-6zM354 252h6v6h-6zM354 258h6v6h-6zM858 264h6v6h-6zM348 270h6v6h-6zM348 276h6v6h-6zM852 276h6v6h-6zM348 282h6v6h-6zM846 288h6v6h-6zM324 306h6v6h-6zM324 312h6v6h-6zM834 312h6v6h-6zM318 318h6v6h-6zM828 318h6v6h-6zM822 330h6v6h-6zM318 342h6v6h-6zM828 342h6v6h-6zM312 354h6v6h-6zM306 366h6v6h-6zM822 366h6v6h-6zM822 372h6v6h-6zM288 408h6v6h-6zM804 420h6v6h-6zM276 432h6v6h-6zM270 438h6v6h-6zM792 438h6v6h-6zM270 444h6v6h-6zM276 456h6v6h-6zM264 468h6v6h-6zM786 468h6v6h-6zM774 486h6v6h-6zM246 498h6v6h-6zM246 516h6v6h-6zM732 516h6v6h-6zM714 522h6v6h-6zM240 528h6v6h-6zM714 540h6v6h-6zM234 546h6v6h-6zM756 546h6v6h-6zM234 552h6v6h-6zM732 552h6v6h-6zM228 570h6v6h-6zM210 588h6v6h-6zM192 594h6v6h-6zM708 594h6v6h-6zM678 600h6v6h-6zM672 612h6v6h-6zM678 654h6v6h-6zM660 660h6v6h-6zM660 666h6v6h-6zM648 696h6v6h-6zM648 702h6v6h-6zM630 708h6v6h-6zM588 714h6v6h-6zM630 726h6v6h-6zM180 750h12v6h-12zM522 750h6v6h-6zM240 798h6v6h-6z"/><path fill="#454545" d="M966 48h6v6h-6zM960 66h6v6h-6zM960 72h6v6h-6zM954 84h6v6h-6zM960 96h6v6h-6zM960 108h6v6h-6zM954 114h6v6h-6zM948 120h6v6h-6zM936 132h6v6h-6zM912 156h6v6h-6zM156 174h36v6h-36zM252 174h48v6h-48zM252 180h42v6h-42zM906 180h6v6h-6zM156 186h36v6h-36zM156 192h24v6h-24zM240 198h24v6h-24zM342 198h24v6h-24zM894 198h6v6h-6zM366 204h6v6h-6zM366 210h6v6h-6zM888 210h6v6h-6zM366 216h6v6h-6zM372 222h6v6h-6zM882 222h6v6h-6zM372 228h6v6h-6zM876 228h6v6h-6zM366 234h6v6h-6zM360 240h6v6h-6zM870 240h6v6h-6zM354 246h6v6h-6zM864 252h6v6h-6zM354 264h6v6h-6zM852 270h6v6h-6zM846 282h6v6h-6zM348 288h6v6h-6zM342 294h6v6h-6zM840 294h6v6h-6zM330 300h6v6h-6zM834 306h6v6h-6zM324 324h6v6h-6zM324 330h6v6h-6zM324 336h6v6h-6zM828 336h6v6h-6zM318 348h6v6h-6zM822 354h6v6h-6zM312 360h6v6h-6zM822 360h6v6h-6zM306 372h6v6h-6zM306 384h6v6h-6zM822 384h6v6h-6zM306 390h6v6h-6zM822 390h6v6h-6zM300 396h6v6h-6zM816 396h6v6h-6zM294 402h6v6h-6zM810 408h6v6h-6zM288 414h6v6h-6zM282 426h6v6h-6zM798 426h6v6h-6zM786 444h6v6h-6zM276 450h6v6h-6zM780 456h6v6h-6zM276 462h6v6h-6zM780 462h6v6h-6zM264 474h6v6h-6zM786 474h6v6h-6zM780 480h6v6h-6zM258 486h6v6h-6zM252 492h6v6h-6zM756 498h6v6h-6zM252 504h6v6h-6zM744 504h6v6h-6zM750 510h6v6h-6zM246 522h6v6h-6zM696 528h6v6h-6zM750 546h6v6h-6zM720 552h12v6h-12zM234 558h6v6h-6zM684 564h6v6h-6zM696 570h6v6h-6zM228 576h6v6h-6zM708 576h6v6h-6zM222 582h6v6h-6zM720 582h6v6h-6zM714 588h6v6h-6zM198 594h6v6h-6zM156 600h30v6h-30zM666 606h6v6h-6zM714 624h6v6h-6zM738 630h6v6h-6zM714 636h6v6h-6zM666 648h6v6h-6zM654 660h6v6h-6zM654 672h6v6h-6zM660 684h6v6h-6zM654 690h6v6h-6zM642 702h6v6h-6zM600 720h6v6h-6zM636 732h6v6h-6zM570 744h6v6h-6zM192 750h6v6h-6zM510 750h12v6h-12zM246 804h6v6h-6z"/><path fill="#464646" d="M966 36h6v6h-6zM966 42h6v6h-6zM960 54h6v6h-6zM468 60h18v6h-18zM960 60h6v6h-6zM954 78h6v6h-6zM954 90h6v6h-6zM960 102h6v6h-6zM954 108h6v6h-6zM936 126h6v6h-6zM930 138h6v6h-6zM924 144h6v6h-6zM918 150h6v6h-6zM222 162h42v6h-42zM906 162h6v6h-6zM156 168h138v6h-138zM906 168h6v6h-6zM300 174h36v6h-36zM906 174h6v6h-6zM294 180h84v6h-84zM192 186h30v6h-30zM354 186h18v6h-18zM900 186h6v6h-6zM180 192h30v6h-30zM354 192h18v6h-18zM894 192h6v6h-6zM264 198h24v6h-24zM324 198h18v6h-18zM366 198h12v6h-12zM372 204h6v6h-6zM888 204h6v6h-6zM372 210h6v6h-6zM372 216h6v6h-6zM882 216h6v6h-6zM870 234h6v6h-6zM360 246h6v6h-6zM864 246h6v6h-6zM360 252h6v6h-6zM360 258h6v6h-6zM858 258h6v6h-6zM354 270h6v6h-6zM846 276h6v6h-6zM840 288h6v6h-6zM834 300h6v6h-6zM330 306h6v6h-6zM330 312h6v6h-6zM324 318h6v6h-6zM816 324h6v6h-6zM822 348h6v6h-6zM312 366h6v6h-6zM816 372h6v6h-6zM306 378h6v6h-6zM816 378h6v6h-6zM810 402h6v6h-6zM294 408h6v6h-6zM804 414h6v6h-6zM288 420h6v6h-6zM282 432h6v6h-6zM792 432h6v6h-6zM276 438h6v6h-6zM276 444h6v6h-6zM780 450h6v6h-6zM282 456h6v6h-6zM270 468h6v6h-6zM264 480h6v6h-6zM768 486h6v6h-6zM738 492h6v6h-6zM252 498h6v6h-6zM750 498h6v6h-6zM252 510h6v6h-6zM744 510h6v6h-6zM726 516h6v6h-6zM708 522h6v6h-6zM240 534h6v6h-6zM240 540h6v6h-6zM708 540h6v6h-6zM714 552h6v6h-6zM234 564h6v6h-6zM216 588h6v6h-6zM204 594h6v6h-6zM702 594h6v6h-6zM186 600h6v6h-6zM684 618h6v6h-6zM708 624h6v6h-6zM660 642h6v6h-6zM672 654h6v6h-6zM654 666h6v6h-6zM654 678h6v6h-6zM642 696h6v6h-6zM624 708h6v6h-6zM582 714h6v6h-6zM624 726h6v6h-6zM624 738h6v6h-6zM198 750h6v6h-6zM504 750h6v6h-6z"/><path fill="#484848" d="M960 48h6v6h-6zM468 54h24v6h-24zM456 60h12v6h-12zM486 60h12v6h-12zM954 66h6v6h-6zM954 72h6v6h-6zM948 84h6v6h-6zM954 96h6v6h-6zM954 102h6v6h-6zM948 114h6v6h-6zM942 120h6v6h-6zM930 132h6v6h-6zM156 156h132v6h-132zM156 162h66v6h-66zM264 162h30v6h-30zM294 168h18v6h-18zM336 174h48v6h-48zM378 180h12v6h-12zM900 180h6v6h-6zM222 186h30v6h-30zM336 186h18v6h-18zM372 186h12v6h-12zM210 192h24v6h-24zM342 192h12v6h-12zM372 192h12v6h-12zM288 198h36v6h-36zM378 198h6v6h-6zM888 198h6v6h-6zM378 204h6v6h-6zM378 210h6v6h-6zM882 210h6v6h-6zM378 216h6v6h-6zM378 222h6v6h-6zM876 222h6v6h-6zM378 228h6v6h-6zM372 234h6v6h-6zM366 240h6v6h-6zM864 240h6v6h-6zM858 252h6v6h-6zM852 264h6v6h-6zM354 276h6v6h-6zM354 282h6v6h-6zM840 282h6v6h-6zM354 288h6v6h-6zM834 294h6v6h-6zM828 312h6v6h-6zM822 318h6v6h-6zM330 330h6v6h-6zM816 330h6v6h-6zM822 336h6v6h-6zM324 342h6v6h-6zM822 342h6v6h-6zM318 354h6v6h-6zM816 354h6v6h-6zM816 360h6v6h-6zM816 366h6v6h-6zM816 384h6v6h-6zM312 390h6v6h-6zM816 390h6v6h-6zM306 396h6v6h-6zM810 396h6v6h-6zM804 408h6v6h-6zM294 414h6v6h-6zM798 420h6v6h-6zM288 426h6v6h-6zM786 438h6v6h-6zM780 444h6v6h-6zM282 450h6v6h-6zM780 468h6v6h-6zM270 474h6v6h-6zM264 486h6v6h-6zM258 492h6v6h-6zM738 504h6v6h-6zM252 516h6v6h-6zM246 528h6v6h-6zM690 534h6v6h-6zM240 546h6v6h-6zM744 546h6v6h-6zM240 552h6v6h-6zM708 552h6v6h-6zM684 558h6v6h-6zM234 570h6v6h-6zM708 588h6v6h-6zM210 594h6v6h-6zM696 594h6v6h-6zM192 600h6v6h-6zM672 600h6v6h-6zM666 612h6v6h-6zM732 630h6v6h-6zM708 636h6v6h-6zM660 648h6v6h-6zM666 654h6v6h-6zM648 660h6v6h-6zM648 672h6v6h-6zM654 684h6v6h-6zM648 690h6v6h-6zM636 702h6v6h-6zM618 738h6v6h-6zM564 744h6v6h-6zM204 750h12v6h-12zM492 750h12v6h-12z"/><path fill="#494949" d="M156 36h66v6h-66zM960 36h6v6h-6zM156 42h18v6h-18zM960 42h6v6h-6zM474 48h6v6h-6zM444 54h24v6h-24zM492 54h12v6h-12zM156 60h12v6h-12zM438 60h18v6h-18zM498 60h6v6h-6zM954 60h6v6h-6zM156 66h30v6h-30zM450 66h36v6h-36zM156 72h18v6h-18zM156 78h18v6h-18zM948 78h6v6h-6zM156 84h60v6h-60zM156 90h120v6h-120zM948 90h6v6h-6zM156 96h120v6h-120zM156 102h114v6h-114zM156 108h114v6h-114zM948 108h6v6h-6zM156 114h108v6h-108zM156 120h108v6h-108zM936 120h6v6h-6zM156 126h102v6h-102zM930 126h6v6h-6zM156 132h102v6h-102zM156 138h108v6h-108zM924 138h6v6h-6zM156 144h150v6h-150zM918 144h6v6h-6zM156 150h162v6h-162zM384 150h12v6h-12zM912 150h6v6h-6zM288 156h18v6h-18zM906 156h6v6h-6zM294 162h12v6h-12zM312 168h18v6h-18zM900 168h6v6h-6zM384 174h12v6h-12zM900 174h6v6h-6zM390 180h6v6h-6zM252 186h24v6h-24zM318 186h18v6h-18zM384 186h6v6h-6zM894 186h6v6h-6zM234 192h24v6h-24zM330 192h12v6h-12zM384 192h6v6h-6zM888 192h6v6h-6zM384 198h6v6h-6zM384 204h6v6h-6zM882 204h6v6h-6zM384 210h6v6h-6zM876 216h6v6h-6zM870 228h6v6h-6zM378 234h6v6h-6zM864 234h6v6h-6zM372 240h6v6h-6zM366 246h6v6h-6zM858 246h6v6h-6zM366 252h6v6h-6zM366 258h6v6h-6zM852 258h6v6h-6zM360 264h6v6h-6zM846 270h6v6h-6zM834 288h6v6h-6zM348 294h6v6h-6zM336 300h6v6h-6zM828 300h6v6h-6zM828 306h6v6h-6zM330 318h6v6h-6zM330 324h6v6h-6zM810 324h6v6h-6zM330 336h6v6h-6zM324 348h6v6h-6zM816 348h6v6h-6zM318 360h6v6h-6zM312 372h6v6h-6zM312 378h6v6h-6zM312 384h6v6h-6zM300 402h6v6h-6zM804 402h6v6h-6zM798 414h6v6h-6zM792 426h6v6h-6zM786 432h6v6h-6zM282 438h6v6h-6zM282 444h6v6h-6zM288 456h6v6h-6zM774 456h6v6h-6zM282 462h6v6h-6zM774 462h6v6h-6zM276 468h6v6h-6zM780 474h6v6h-6zM774 480h6v6h-6zM762 486h6v6h-6zM732 492h6v6h-6zM258 498h6v6h-6zM744 498h6v6h-6zM258 504h6v6h-6zM258 510h6v6h-6zM738 510h6v6h-6zM252 522h6v6h-6zM702 522h6v6h-6zM702 540h6v6h-6zM738 546h6v6h-6zM240 558h6v6h-6zM678 564h6v6h-6zM234 576h6v6h-6zM702 576h6v6h-6zM228 582h6v6h-6zM714 582h6v6h-6zM222 588h6v6h-6zM690 594h6v6h-6zM198 600h6v6h-6zM156 606h30v6h-30zM660 606h6v6h-6zM702 624h6v6h-6zM702 636h6v6h-6zM654 648h6v6h-6zM648 666h6v6h-6zM648 678h6v6h-6zM636 696h6v6h-6zM618 708h6v6h-6zM594 720h6v6h-6zM630 732h6v6h-6zM612 738h6v6h-6zM216 750h6v6h-6zM480 750h12v6h-12z"/><path fill="#4a4a4a" d="M222 36h66v6h-66zM372 36h120v6h-120zM174 42h42v6h-42zM408 42h84v6h-84zM156 48h30v6h-30zM408 48h66v6h-66zM480 48h18v6h-18zM954 48h6v6h-6zM156 54h30v6h-30zM402 54h42v6h-42zM504 54h6v6h-6zM954 54h6v6h-6zM168 60h42v6h-42zM384 60h54v6h-54zM504 60h6v6h-6zM186 66h264v6h-264zM486 66h12v6h-12zM948 66h6v6h-6zM174 72h42v6h-42zM258 72h186v6h-186zM948 72h6v6h-6zM174 78h54v6h-54zM246 78h186v6h-186zM216 84h234v6h-234zM942 84h6v6h-6zM276 90h168v6h-168zM942 90h6v6h-6zM276 96h168v6h-168zM948 96h6v6h-6zM270 102h162v6h-162zM948 102h6v6h-6zM270 108h162v6h-162zM264 114h162v6h-162zM942 114h6v6h-6zM264 120h162v6h-162zM258 126h162v6h-162zM258 132h162v6h-162zM924 132h6v6h-6zM264 138h150v6h-150zM306 144h102v6h-102zM318 150h66v6h-66zM396 150h18v6h-18zM306 156h18v6h-18zM378 156h36v6h-36zM306 162h12v6h-12zM900 162h6v6h-6zM330 168h72v6h-72zM396 174h12v6h-12zM396 180h6v6h-6zM894 180h6v6h-6zM276 186h42v6h-42zM390 186h6v6h-6zM258 192h18v6h-18zM318 192h12v6h-12zM390 192h6v6h-6zM390 198h6v6h-6zM882 198h6v6h-6zM876 210h6v6h-6zM384 216h6v6h-6zM384 222h6v6h-6zM870 222h6v6h-6zM384 228h6v6h-6zM372 246h6v6h-6zM852 252h6v6h-6zM846 264h6v6h-6zM360 270h6v6h-6zM360 276h6v6h-6zM840 276h6v6h-6zM360 282h6v6h-6zM360 288h6v6h-6zM828 294h6v6h-6zM336 306h6v6h-6zM336 312h6v6h-6zM822 312h6v6h-6zM816 318h6v6h-6zM804 324h6v6h-6zM810 330h6v6h-6zM816 336h6v6h-6zM330 342h6v6h-6zM816 342h6v6h-6zM324 354h6v6h-6zM318 366h6v6h-6zM810 372h6v6h-6zM810 378h6v6h-6zM810 384h6v6h-6zM318 390h6v6h-6zM300 408h6v6h-6zM294 420h6v6h-6zM792 420h6v6h-6zM288 432h6v6h-6zM780 438h6v6h-6zM288 450h6v6h-6zM774 450h6v6h-6zM270 480h6v6h-6zM738 498h6v6h-6zM720 516h6v6h-6zM690 528h6v6h-6zM246 534h6v6h-6zM246 540h6v6h-6zM732 546h6v6h-6zM702 552h6v6h-6zM240 564h6v6h-6zM690 570h6v6h-6zM702 588h6v6h-6zM216 594h6v6h-6zM204 600h6v6h-6zM666 600h6v6h-6zM186 606h6v6h-6zM678 618h6v6h-6zM726 630h6v6h-6zM696 636h6v6h-6zM654 642h6v6h-6zM660 654h6v6h-6zM642 660h6v6h-6zM642 666h6v6h-6zM642 672h6v6h-6zM648 684h6v6h-6zM642 690h6v6h-6zM630 702h6v6h-6zM600 708h18v6h-18zM576 714h6v6h-6zM618 726h6v6h-6zM558 744h6v6h-6zM222 750h12v6h-12zM468 750h12v6h-12zM156 798h6v6h-6zM156 810h6v6h-6zM234 810h6v6h-6z"/><path fill="#4c4c4c" d="M288 36h84v6h-84zM492 36h12v6h-12zM954 36h6v6h-6zM216 42h30v6h-30zM378 42h30v6h-30zM492 42h12v6h-12zM954 42h6v6h-6zM186 48h18v6h-18zM384 48h24v6h-24zM498 48h12v6h-12zM186 54h18v6h-18zM378 54h24v6h-24zM510 54h6v6h-6zM210 60h174v6h-174zM510 60h6v6h-6zM948 60h6v6h-6zM498 66h6v6h-6zM216 72h42v6h-42zM444 72h30v6h-30zM228 78h18v6h-18zM432 78h30v6h-30zM942 78h6v6h-6zM450 84h12v6h-12zM444 90h18v6h-18zM444 96h12v6h-12zM432 102h18v6h-18zM432 108h12v6h-12zM942 108h6v6h-6zM426 114h12v6h-12zM426 120h12v6h-12zM930 120h6v6h-6zM420 126h18v6h-18zM924 126h6v6h-6zM420 132h12v6h-12zM414 138h12v6h-12zM918 138h6v6h-6zM408 144h12v6h-12zM912 144h6v6h-6zM414 150h12v6h-12zM906 150h6v6h-6zM324 156h18v6h-18zM360 156h18v6h-18zM414 156h12v6h-12zM900 156h6v6h-6zM318 162h12v6h-12zM378 162h42v6h-42zM402 168h12v6h-12zM408 174h6v6h-6zM894 174h6v6h-6zM402 180h6v6h-6zM396 186h6v6h-6zM888 186h6v6h-6zM276 192h42v6h-42zM396 192h6v6h-6zM396 198h6v6h-6zM390 204h6v6h-6zM390 210h6v6h-6zM390 216h6v6h-6zM870 216h6v6h-6zM390 222h6v6h-6zM390 228h6v6h-6zM864 228h6v6h-6zM384 234h6v6h-6zM858 234h6v6h-6zM378 240h6v6h-6zM858 240h6v6h-6zM372 252h6v6h-6zM366 264h6v6h-6zM840 270h6v6h-6zM834 282h6v6h-6zM354 294h6v6h-6zM822 306h6v6h-6zM336 318h6v6h-6zM336 324h6v6h-6zM798 324h6v6h-6zM336 330h6v6h-6zM804 330h6v6h-6zM336 336h6v6h-6zM330 348h6v6h-6zM810 354h6v6h-6zM324 360h6v6h-6zM810 360h6v6h-6zM810 366h6v6h-6zM318 372h6v6h-6zM318 384h6v6h-6zM810 390h6v6h-6zM312 396h6v6h-6zM804 396h6v6h-6zM306 402h6v6h-6zM798 408h6v6h-6zM300 414h6v6h-6zM294 426h6v6h-6zM786 426h6v6h-6zM774 444h6v6h-6zM768 456h6v6h-6zM288 462h6v6h-6zM768 462h6v6h-6zM774 468h6v6h-6zM276 474h6v6h-6zM774 474h6v6h-6zM768 480h6v6h-6zM270 486h6v6h-6zM756 486h6v6h-6zM264 492h6v6h-6zM726 492h6v6h-6zM264 504h6v6h-6zM732 504h6v6h-6zM732 510h6v6h-6zM258 516h6v6h-6zM252 528h6v6h-6zM696 540h6v6h-6zM246 546h6v6h-6zM726 546h6v6h-6zM246 552h6v6h-6zM678 558h6v6h-6zM240 570h6v6h-6zM696 576h6v6h-6zM708 582h6v6h-6zM684 594h6v6h-6zM210 600h6v6h-6zM192 606h6v6h-6zM660 612h6v6h-6zM696 624h6v6h-6zM720 630h6v6h-6zM690 636h6v6h-6zM648 648h6v6h-6zM654 654h6v6h-6zM630 696h6v6h-6zM588 708h12v6h-12zM588 720h6v6h-6zM624 732h6v6h-6zM606 738h6v6h-6zM234 750h12v6h-12zM456 750h12v6h-12z"/><path fill="#4d4d4d" d="M504 36h12v6h-12zM246 42h36v6h-36zM354 42h24v6h-24zM504 42h12v6h-12zM204 48h18v6h-18zM372 48h12v6h-12zM510 48h6v6h-6zM948 48h6v6h-6zM204 54h12v6h-12zM360 54h18v6h-18zM948 54h6v6h-6zM504 66h6v6h-6zM942 66h6v6h-6zM474 72h12v6h-12zM942 72h6v6h-6zM462 78h12v6h-12zM462 84h12v6h-12zM936 84h6v6h-6zM462 90h12v6h-12zM936 90h6v6h-6zM456 96h12v6h-12zM942 96h6v6h-6zM450 102h12v6h-12zM942 102h6v6h-6zM444 108h12v6h-12zM438 114h12v6h-12zM936 114h6v6h-6zM438 120h12v6h-12zM438 126h12v6h-12zM432 132h12v6h-12zM918 132h6v6h-6zM426 138h12v6h-12zM912 138h6v6h-6zM420 144h12v6h-12zM426 150h6v6h-6zM342 156h18v6h-18zM426 156h6v6h-6zM894 156h6v6h-6zM330 162h48v6h-48zM420 162h6v6h-6zM894 162h6v6h-6zM414 168h6v6h-6zM894 168h6v6h-6zM414 174h6v6h-6zM408 180h6v6h-6zM888 180h6v6h-6zM402 186h6v6h-6zM882 192h6v6h-6zM396 204h6v6h-6zM876 204h6v6h-6zM864 222h6v6h-6zM378 246h6v6h-6zM852 246h6v6h-6zM372 258h6v6h-6zM846 258h6v6h-6zM366 270h6v6h-6zM366 276h6v6h-6zM834 276h6v6h-6zM366 282h6v6h-6zM828 288h6v6h-6zM342 300h6v6h-6zM822 300h6v6h-6zM342 312h6v6h-6zM810 318h6v6h-6zM798 330h6v6h-6zM810 348h6v6h-6zM324 366h6v6h-6zM318 378h6v6h-6zM804 378h6v6h-6zM798 402h6v6h-6zM306 408h6v6h-6zM792 414h6v6h-6zM300 420h6v6h-6zM294 432h6v6h-6zM780 432h6v6h-6zM288 438h6v6h-6zM288 444h6v6h-6zM768 450h6v6h-6zM294 456h6v6h-6zM282 468h6v6h-6zM750 486h6v6h-6zM264 498h6v6h-6zM732 498h6v6h-6zM264 510h6v6h-6zM714 516h6v6h-6zM258 522h6v6h-6zM696 522h6v6h-6zM720 546h6v6h-6zM696 552h6v6h-6zM246 558h6v6h-6zM240 576h6v6h-6zM234 582h6v6h-6zM702 582h6v6h-6zM228 588h6v6h-6zM696 588h6v6h-6zM222 594h6v6h-6zM198 606h6v6h-6zM654 606h6v6h-6zM156 612h18v6h-18zM714 630h6v6h-6zM636 660h6v6h-6zM636 666h6v6h-6zM636 672h6v6h-6zM642 678h6v6h-6zM642 684h6v6h-6zM636 690h6v6h-6zM624 702h6v6h-6zM576 708h12v6h-12zM570 714h6v6h-6zM612 726h6v6h-6zM600 738h6v6h-6zM246 750h12v6h-12zM438 750h18v6h-18z"/><path fill="#4e4e4e" d="M516 36h6v6h-6zM948 36h6v6h-6zM282 42h72v6h-72zM516 42h6v6h-6zM948 42h6v6h-6zM222 48h18v6h-18zM354 48h18v6h-18zM516 48h6v6h-6zM216 54h30v6h-30zM336 54h24v6h-24zM516 54h6v6h-6zM516 60h6v6h-6zM942 60h6v6h-6zM510 66h6v6h-6zM486 72h12v6h-12zM474 78h12v6h-12zM936 78h6v6h-6zM474 84h6v6h-6zM474 90h6v6h-6zM468 96h6v6h-6zM936 96h6v6h-6zM462 102h6v6h-6zM456 108h6v6h-6zM936 108h6v6h-6zM450 114h12v6h-12zM450 120h6v6h-6zM924 120h6v6h-6zM450 126h6v6h-6zM918 126h6v6h-6zM444 132h12v6h-12zM438 138h6v6h-6zM432 144h6v6h-6zM906 144h6v6h-6zM432 150h6v6h-6zM900 150h6v6h-6zM432 156h6v6h-6zM888 156h6v6h-6zM426 162h6v6h-6zM888 162h6v6h-6zM420 168h6v6h-6zM888 168h6v6h-6zM420 174h6v6h-6zM888 174h6v6h-6zM414 180h6v6h-6zM408 186h6v6h-6zM882 186h6v6h-6zM402 192h6v6h-6zM402 198h6v6h-6zM876 198h6v6h-6zM396 210h6v6h-6zM870 210h6v6h-6zM396 216h6v6h-6zM864 216h6v6h-6zM396 222h6v6h-6zM396 228h6v6h-6zM858 228h6v6h-6zM390 234h6v6h-6zM852 234h6v6h-6zM384 240h6v6h-6zM852 240h6v6h-6zM378 252h6v6h-6zM846 252h6v6h-6zM372 264h6v6h-6zM840 264h6v6h-6zM828 282h6v6h-6zM366 288h6v6h-6zM360 294h6v6h-6zM822 294h6v6h-6zM342 306h6v6h-6zM816 312h6v6h-6zM804 318h6v6h-6zM342 324h6v6h-6zM792 324h6v6h-6zM342 330h6v6h-6zM810 336h6v6h-6zM336 342h6v6h-6zM810 342h6v6h-6zM330 354h6v6h-6zM804 366h6v6h-6zM804 372h6v6h-6zM804 384h6v6h-6zM324 390h24v6h-24zM804 390h6v6h-6zM318 396h6v6h-6zM798 396h6v6h-6zM792 408h6v6h-6zM786 420h6v6h-6zM300 426h6v6h-6zM774 438h6v6h-6zM768 444h6v6h-6zM294 450h6v6h-6zM768 468h6v6h-6zM276 480h6v6h-6zM762 480h6v6h-6zM744 486h6v6h-6zM270 492h6v6h-6zM720 492h6v6h-6zM726 504h6v6h-6zM726 510h6v6h-6zM708 516h6v6h-6zM252 534h6v6h-6zM684 534h6v6h-6zM252 540h6v6h-6zM714 546h6v6h-6zM246 564h6v6h-6zM672 564h6v6h-6zM684 570h6v6h-6zM690 588h6v6h-6zM678 594h6v6h-6zM216 600h6v6h-6zM660 600h6v6h-6zM204 606h6v6h-6zM174 612h12v6h-12zM672 618h6v6h-6zM690 624h6v6h-6zM708 630h6v6h-6zM684 636h6v6h-6zM648 642h6v6h-6zM642 648h6v6h-6zM648 654h6v6h-6zM630 690h6v6h-6zM624 696h6v6h-6zM570 708h6v6h-6zM582 720h6v6h-6zM606 726h6v6h-6zM594 738h6v6h-6zM552 744h6v6h-6zM258 750h24v6h-24zM414 750h24v6h-24zM234 798h6v6h-6z"/><path fill="#4f4f4f" d="M522 36h6v6h-6zM942 36h6v6h-6zM522 42h6v6h-6zM942 42h6v6h-6zM240 48h42v6h-42zM342 48h12v6h-12zM522 48h6v6h-6zM942 48h6v6h-6zM246 54h90v6h-90zM522 54h6v6h-6zM942 54h6v6h-6zM522 60h6v6h-6zM936 60h6v6h-6zM936 66h6v6h-6zM498 72h6v6h-6zM936 72h6v6h-6zM486 78h6v6h-6zM930 78h6v6h-6zM480 84h12v6h-12zM930 84h6v6h-6zM480 90h6v6h-6zM930 90h6v6h-6zM474 96h6v6h-6zM468 102h6v6h-6zM936 102h6v6h-6zM462 108h6v6h-6zM930 108h6v6h-6zM462 114h6v6h-6zM930 114h6v6h-6zM456 120h12v6h-12zM456 126h12v6h-12zM456 132h12v6h-12zM912 132h6v6h-6zM444 138h12v6h-12zM906 138h6v6h-6zM438 144h12v6h-12zM900 144h6v6h-6zM438 150h6v6h-6zM894 150h6v6h-6zM438 156h6v6h-6zM432 162h12v6h-12zM882 162h6v6h-6zM426 168h6v6h-6zM882 168h6v6h-6zM426 174h6v6h-6zM882 174h6v6h-6zM420 180h6v6h-6zM882 180h6v6h-6zM876 186h6v6h-6zM408 192h6v6h-6zM876 192h6v6h-6zM870 198h6v6h-6zM402 204h6v6h-6zM870 204h6v6h-6zM864 210h6v6h-6zM858 222h6v6h-6zM852 228h6v6h-6zM846 234h6v6h-6zM390 240h6v6h-6zM846 240h6v6h-6zM384 246h6v6h-6zM846 246h6v6h-6zM840 252h6v6h-6zM378 258h6v6h-6zM840 258h6v6h-6zM834 264h6v6h-6zM372 270h6v6h-6zM834 270h6v6h-6zM372 276h6v6h-6zM828 276h6v6h-6zM372 282h6v6h-6zM822 282h6v6h-6zM822 288h6v6h-6zM816 294h6v6h-6zM348 300h6v6h-6zM816 300h6v6h-6zM816 306h6v6h-6zM810 312h6v6h-6zM342 318h6v6h-6zM798 318h6v6h-6zM786 324h6v6h-6zM792 330h6v6h-6zM342 336h6v6h-6zM804 336h6v6h-6zM336 348h6v6h-6zM804 348h6v6h-6zM804 354h6v6h-6zM330 360h6v6h-6zM804 360h6v6h-6zM324 372h6v6h-6zM324 378h6v6h-6zM324 384h6v6h-6zM348 390h12v6h-12zM312 402h6v6h-6zM792 402h6v6h-6zM306 414h6v6h-6zM786 414h6v6h-6zM780 420h6v6h-6zM780 426h6v6h-6zM774 432h6v6h-6zM294 438h6v6h-6zM768 438h6v6h-6zM294 444h6v6h-6zM762 450h6v6h-6zM300 456h12v6h-12zM762 456h6v6h-6zM294 462h6v6h-6zM762 462h6v6h-6zM282 474h6v6h-6zM768 474h6v6h-6zM276 486h6v6h-6zM270 498h6v6h-6zM726 498h6v6h-6zM270 504h6v6h-6zM264 516h6v6h-6zM258 528h6v6h-6zM684 528h6v6h-6zM690 540h6v6h-6zM252 546h6v6h-6zM708 546h6v6h-6zM252 552h6v6h-6zM690 552h6v6h-6zM246 570h6v6h-6zM690 576h6v6h-6zM696 582h6v6h-6zM234 588h6v6h-6zM210 606h6v6h-6zM186 612h6v6h-6zM702 630h6v6h-6zM678 636h6v6h-6zM642 654h6v6h-6zM630 660h6v6h-6zM630 666h6v6h-6zM630 672h6v6h-6zM636 678h6v6h-6zM636 684h6v6h-6zM618 702h6v6h-6zM618 732h6v6h-6zM588 738h6v6h-6zM156 744h6v6h-6zM282 750h48v6h-48zM354 750h60v6h-60z"/><path fill="#515151" d="M528 36h6v6h-6zM936 36h6v6h-6zM528 42h6v6h-6zM936 42h6v6h-6zM282 48h60v6h-60zM936 48h6v6h-6zM936 54h6v6h-6zM930 60h6v6h-6zM516 66h6v6h-6zM930 66h6v6h-6zM504 72h6v6h-6zM930 72h6v6h-6zM492 78h6v6h-6zM924 78h6v6h-6zM492 84h6v6h-6zM924 84h6v6h-6zM486 90h12v6h-12zM924 90h6v6h-6zM480 96h12v6h-12zM930 96h6v6h-6zM474 102h6v6h-6zM930 102h6v6h-6zM468 108h12v6h-12zM468 114h6v6h-6zM468 120h6v6h-6zM918 120h6v6h-6zM468 126h12v6h-12zM912 126h6v6h-6zM468 132h6v6h-6zM906 132h6v6h-6zM456 138h6v6h-6zM900 138h6v6h-6zM450 144h6v6h-6zM894 144h6v6h-6zM444 150h6v6h-6zM888 150h6v6h-6zM444 156h6v6h-6zM882 156h6v6h-6zM444 162h6v6h-6zM876 162h6v6h-6zM432 168h6v6h-6zM876 168h6v6h-6zM432 174h6v6h-6zM876 174h6v6h-6zM876 180h6v6h-6zM414 186h6v6h-6zM870 186h6v6h-6zM870 192h6v6h-6zM408 198h6v6h-6zM864 198h6v6h-6zM864 204h6v6h-6zM402 210h6v6h-6zM858 210h6v6h-6zM402 216h6v6h-6zM858 216h6v6h-6zM402 222h6v6h-6zM852 222h6v6h-6zM402 228h6v6h-6zM846 228h6v6h-6zM396 234h6v6h-6zM834 234h12v6h-12zM840 240h6v6h-6zM840 246h6v6h-6zM384 252h6v6h-6zM834 252h6v6h-6zM834 258h6v6h-6zM828 264h6v6h-6zM828 270h6v6h-6zM822 276h6v6h-6zM372 288h6v6h-6zM396 288h6v6h-6zM816 288h6v6h-6zM366 294h6v6h-6zM810 294h6v6h-6zM810 300h6v6h-6zM348 306h6v6h-6zM810 306h6v6h-6zM348 312h6v6h-6zM804 312h6v6h-6zM786 330h6v6h-6zM798 336h6v6h-6zM342 342h6v6h-6zM804 342h6v6h-6zM798 348h6v6h-6zM336 354h6v6h-6zM798 354h6v6h-6zM798 360h6v6h-6zM330 366h6v6h-6zM798 366h6v6h-6zM798 372h6v6h-6zM798 378h6v6h-6zM330 384h18v6h-18zM798 384h6v6h-6zM360 390h12v6h-12zM798 390h6v6h-6zM324 396h18v6h-18zM792 396h6v6h-6zM786 402h6v6h-6zM312 408h6v6h-6zM786 408h6v6h-6zM780 414h6v6h-6zM306 420h6v6h-6zM774 426h6v6h-6zM300 432h6v6h-6zM768 432h6v6h-6zM762 444h6v6h-6zM756 450h6v6h-6zM312 456h6v6h-6zM756 456h6v6h-6zM300 462h6v6h-6zM756 462h6v6h-6zM288 468h6v6h-6zM756 480h6v6h-6zM738 486h6v6h-6zM714 492h6v6h-6zM720 504h6v6h-6zM270 510h6v6h-6zM720 510h6v6h-6zM702 516h6v6h-6zM264 522h6v6h-6zM690 522h6v6h-6zM702 546h6v6h-6zM252 558h6v6h-6zM672 558h6v6h-6zM246 576h6v6h-6zM240 582h6v6h-6zM684 588h6v6h-6zM228 594h6v6h-6zM672 594h6v6h-6zM222 600h6v6h-6zM654 600h6v6h-6zM648 606h6v6h-6zM192 612h12v6h-12zM654 612h6v6h-6zM666 618h6v6h-6zM684 624h6v6h-6zM636 648h6v6h-6zM636 654h6v6h-6zM624 690h6v6h-6zM618 696h6v6h-6zM600 702h18v6h-18zM564 708h6v6h-6zM564 714h6v6h-6zM576 720h6v6h-6zM600 726h6v6h-6zM612 732h6v6h-6zM582 738h6v6h-6zM330 750h24v6h-24z"/><path fill="#525252" d="M534 36h6v6h-6zM930 36h6v6h-6zM930 42h6v6h-6zM528 48h6v6h-6zM930 48h6v6h-6zM528 54h6v6h-6zM924 54h12v6h-12zM528 60h6v6h-6zM924 60h6v6h-6zM522 66h6v6h-6zM924 66h6v6h-6zM918 72h12v6h-12zM498 78h6v6h-6zM918 78h6v6h-6zM498 84h6v6h-6zM918 84h6v6h-6zM918 90h6v6h-6zM492 96h6v6h-6zM924 96h6v6h-6zM480 102h12v6h-12zM480 108h6v6h-6zM924 108h6v6h-6zM474 114h6v6h-6zM924 114h6v6h-6zM474 120h6v6h-6zM912 120h6v6h-6zM480 126h6v6h-6zM900 126h12v6h-12zM474 132h18v6h-18zM900 132h6v6h-6zM462 138h12v6h-12zM894 138h6v6h-6zM456 144h6v6h-6zM888 144h6v6h-6zM450 150h12v6h-12zM882 150h6v6h-6zM450 156h6v6h-6zM876 156h6v6h-6zM450 162h6v6h-6zM870 162h6v6h-6zM438 168h6v6h-6zM870 168h6v6h-6zM438 174h6v6h-6zM870 174h6v6h-6zM426 180h6v6h-6zM870 180h6v6h-6zM864 186h6v6h-6zM414 192h6v6h-6zM864 192h6v6h-6zM858 198h6v6h-6zM408 204h6v6h-6zM858 204h6v6h-6zM852 210h6v6h-6zM852 216h6v6h-6zM846 222h6v6h-6zM840 228h6v6h-6zM402 234h6v6h-6zM828 234h6v6h-6zM396 240h6v6h-6zM834 240h6v6h-6zM390 246h6v6h-6zM834 246h6v6h-6zM390 252h6v6h-6zM384 258h6v6h-6zM828 258h6v6h-6zM378 264h6v6h-6zM822 270h6v6h-6zM816 276h6v6h-6zM816 282h6v6h-6zM378 288h18v6h-18zM402 288h18v6h-18zM804 288h12v6h-12zM390 294h12v6h-12zM804 294h6v6h-6zM354 300h6v6h-6zM804 300h6v6h-6zM804 306h6v6h-6zM348 318h6v6h-6zM792 318h6v6h-6zM348 324h6v6h-6zM780 324h6v6h-6zM348 330h6v6h-6zM780 330h6v6h-6zM792 336h6v6h-6zM798 342h6v6h-6zM342 348h6v6h-6zM792 354h6v6h-6zM336 360h6v6h-6zM330 372h6v6h-6zM792 372h6v6h-6zM792 378h6v6h-6zM348 384h12v6h-12zM792 384h6v6h-6zM372 390h12v6h-12zM792 390h6v6h-6zM342 396h12v6h-12zM786 396h6v6h-6zM318 402h6v6h-6zM780 402h6v6h-6zM780 408h6v6h-6zM312 414h6v6h-6zM774 414h6v6h-6zM774 420h6v6h-6zM306 426h6v6h-6zM768 426h6v6h-6zM762 432h6v6h-6zM300 438h6v6h-6zM762 438h6v6h-6zM756 444h6v6h-6zM300 450h6v6h-6zM750 450h6v6h-6zM318 456h12v6h-12zM750 456h6v6h-6zM306 462h12v6h-12zM750 462h6v6h-6zM762 468h6v6h-6zM762 474h6v6h-6zM282 480h6v6h-6zM750 480h6v6h-6zM732 486h6v6h-6zM276 492h6v6h-6zM720 498h6v6h-6zM714 510h6v6h-6zM258 534h6v6h-6zM258 540h6v6h-6zM684 552h6v6h-6zM252 564h6v6h-6zM678 570h6v6h-6zM684 576h6v6h-6zM690 582h6v6h-6zM216 606h6v6h-6zM204 612h6v6h-6zM156 618h24v6h-24zM696 630h6v6h-6zM672 636h6v6h-6zM642 642h6v6h-6zM630 654h6v6h-6zM624 660h6v6h-6zM624 666h6v6h-6zM624 672h6v6h-6zM630 678h6v6h-6zM630 684h6v6h-6zM606 696h12v6h-12zM582 702h18v6h-18zM558 708h6v6h-6zM594 726h6v6h-6zM606 732h6v6h-6zM546 744h6v6h-6zM240 804h6v6h-6z"/><path fill="#535353" d="M540 36h6v6h-6zM924 36h6v6h-6zM534 42h6v6h-6zM924 42h6v6h-6zM534 48h6v6h-6zM924 48h6v6h-6zM534 54h6v6h-6zM918 54h6v6h-6zM918 60h6v6h-6zM918 66h6v6h-6zM510 72h6v6h-6zM912 72h6v6h-6zM504 78h6v6h-6zM912 78h6v6h-6zM504 84h6v6h-6zM912 84h6v6h-6zM498 90h6v6h-6zM912 90h6v6h-6zM918 96h6v6h-6zM918 102h12v6h-12zM486 108h6v6h-6zM918 108h6v6h-6zM480 114h6v6h-6zM918 114h6v6h-6zM480 120h6v6h-6zM906 120h6v6h-6zM486 126h36v6h-36zM894 126h6v6h-6zM492 132h30v6h-30zM888 132h12v6h-12zM474 138h6v6h-6zM888 138h6v6h-6zM462 144h6v6h-6zM882 144h6v6h-6zM462 150h6v6h-6zM876 150h6v6h-6zM456 156h12v6h-12zM870 156h6v6h-6zM456 162h6v6h-6zM864 162h6v6h-6zM444 168h12v6h-12zM864 168h6v6h-6zM864 174h6v6h-6zM432 180h6v6h-6zM864 180h6v6h-6zM420 186h6v6h-6zM858 186h6v6h-6zM858 192h6v6h-6zM414 198h6v6h-6zM852 198h6v6h-6zM852 204h6v6h-6zM408 210h6v6h-6zM846 210h6v6h-6zM408 216h6v6h-6zM846 216h6v6h-6zM408 222h6v6h-6zM840 222h6v6h-6zM408 228h24v6h-24zM834 228h6v6h-6zM408 234h18v6h-18zM822 234h6v6h-6zM828 240h6v6h-6zM396 246h6v6h-6zM828 246h6v6h-6zM828 252h6v6h-6zM822 258h6v6h-6zM822 264h6v6h-6zM378 270h6v6h-6zM816 270h6v6h-6zM378 276h6v6h-6zM810 276h6v6h-6zM378 282h36v6h-36zM810 282h6v6h-6zM420 288h12v6h-12zM798 288h6v6h-6zM372 294h18v6h-18zM402 294h18v6h-18zM798 294h6v6h-6zM798 300h6v6h-6zM354 306h6v6h-6zM798 306h6v6h-6zM354 312h6v6h-6zM798 312h6v6h-6zM786 318h6v6h-6zM774 324h6v6h-6zM348 336h6v6h-6zM786 336h6v6h-6zM792 342h6v6h-6zM792 348h6v6h-6zM792 360h6v6h-6zM792 366h6v6h-6zM330 378h18v6h-18zM786 378h6v6h-6zM360 384h12v6h-12zM786 384h6v6h-6zM384 390h6v6h-6zM786 390h6v6h-6zM354 396h12v6h-12zM780 396h6v6h-6zM324 402h12v6h-12zM774 402h6v6h-6zM774 408h6v6h-6zM312 420h6v6h-6zM768 420h6v6h-6zM762 426h6v6h-6zM306 432h6v6h-6zM756 438h6v6h-6zM300 444h6v6h-6zM750 444h6v6h-6zM306 450h12v6h-12zM744 456h6v6h-6zM318 462h6v6h-6zM756 468h6v6h-6zM288 474h6v6h-6zM744 480h6v6h-6zM282 486h6v6h-6zM726 486h6v6h-6zM708 492h6v6h-6zM276 498h6v6h-6zM276 504h6v6h-6zM714 504h6v6h-6zM270 516h6v6h-6zM264 528h6v6h-6zM678 534h6v6h-6zM684 540h6v6h-6zM258 546h6v6h-6zM696 546h6v6h-6zM666 564h6v6h-6zM252 570h6v6h-6zM240 588h6v6h-6zM678 588h6v6h-6zM234 594h6v6h-6zM666 594h6v6h-6zM228 600h6v6h-6zM222 606h6v6h-6zM210 612h6v6h-6zM180 618h12v6h-12zM678 624h6v6h-6zM690 630h6v6h-6zM630 648h6v6h-6zM624 654h6v6h-6zM624 678h6v6h-6zM618 690h6v6h-6zM588 696h18v6h-18zM558 702h24v6h-24zM558 714h6v6h-6zM600 732h6v6h-6zM162 744h6v6h-6z"/><path fill="#555555" d="M918 36h6v6h-6zM540 42h6v6h-6zM918 42h6v6h-6zM540 48h6v6h-6zM912 48h12v6h-12zM912 54h6v6h-6zM534 60h6v6h-6zM912 60h6v6h-6zM528 66h6v6h-6zM912 66h6v6h-6zM516 72h6v6h-6zM906 72h6v6h-6zM510 78h6v6h-6zM906 78h6v6h-6zM900 84h12v6h-12zM504 90h6v6h-6zM900 90h12v6h-12zM498 96h6v6h-6zM906 96h12v6h-12zM492 102h6v6h-6zM912 102h6v6h-6zM912 108h6v6h-6zM486 114h6v6h-6zM912 114h6v6h-6zM486 120h18v6h-18zM900 120h6v6h-6zM522 126h6v6h-6zM888 126h6v6h-6zM522 132h6v6h-6zM882 132h6v6h-6zM480 138h18v6h-18zM882 138h6v6h-6zM468 144h6v6h-6zM876 144h6v6h-6zM468 150h6v6h-6zM870 150h6v6h-6zM468 156h12v6h-12zM864 156h6v6h-6zM462 162h12v6h-12zM456 168h12v6h-12zM858 168h6v6h-6zM444 174h18v6h-18zM858 174h6v6h-6zM438 180h6v6h-6zM858 180h6v6h-6zM426 186h6v6h-6zM852 186h6v6h-6zM420 192h6v6h-6zM852 192h6v6h-6zM420 198h6v6h-6zM846 198h6v6h-6zM414 204h6v6h-6zM846 204h6v6h-6zM840 210h6v6h-6zM840 216h6v6h-6zM414 222h18v6h-18zM834 222h6v6h-6zM432 228h12v6h-12zM822 228h12v6h-12zM426 234h12v6h-12zM810 234h12v6h-12zM402 240h30v6h-30zM822 240h6v6h-6zM402 246h24v6h-24zM822 246h6v6h-6zM396 252h30v6h-30zM822 252h6v6h-6zM390 258h24v6h-24zM816 258h6v6h-6zM384 264h6v6h-6zM816 264h6v6h-6zM810 270h6v6h-6zM384 276h24v6h-24zM414 282h18v6h-18zM804 282h6v6h-6zM432 288h12v6h-12zM792 288h6v6h-6zM420 294h12v6h-12zM792 294h6v6h-6zM792 300h6v6h-6zM792 306h6v6h-6zM792 312h6v6h-6zM354 318h6v6h-6zM780 318h6v6h-6zM354 324h6v6h-6zM354 330h30v6h-30zM774 330h6v6h-6zM354 336h24v6h-24zM348 342h30v6h-30zM786 342h6v6h-6zM348 348h24v6h-24zM786 348h6v6h-6zM342 354h30v6h-30zM786 354h6v6h-6zM342 360h24v6h-24zM786 360h6v6h-6zM336 366h24v6h-24zM786 366h6v6h-6zM336 372h24v6h-24zM786 372h6v6h-6zM348 378h12v6h-12zM372 384h12v6h-12zM780 384h6v6h-6zM780 390h6v6h-6zM366 396h12v6h-12zM774 396h6v6h-6zM336 402h12v6h-12zM318 408h18v6h-18zM768 408h6v6h-6zM318 414h12v6h-12zM768 414h6v6h-6zM318 420h12v6h-12zM762 420h6v6h-6zM312 426h12v6h-12zM756 426h6v6h-6zM756 432h6v6h-6zM750 438h6v6h-6zM744 444h6v6h-6zM318 450h12v6h-12zM744 450h6v6h-6zM330 456h6v6h-6zM738 456h6v6h-6zM324 462h6v6h-6zM744 462h6v6h-6zM294 468h12v6h-12zM750 468h6v6h-6zM756 474h6v6h-6zM738 480h6v6h-6zM714 498h6v6h-6zM708 510h6v6h-6zM696 516h6v6h-6zM270 522h6v6h-6zM684 522h6v6h-6zM690 546h6v6h-6zM258 552h6v6h-6zM672 570h6v6h-6zM246 582h6v6h-6zM684 582h6v6h-6zM660 594h6v6h-6zM216 612h6v6h-6zM192 618h12v6h-12zM660 618h6v6h-6zM156 624h6v6h-6zM672 624h6v6h-6zM684 630h6v6h-6zM666 636h6v6h-6zM636 642h6v6h-6zM624 648h6v6h-6zM618 654h6v6h-6zM618 660h6v6h-6zM618 666h6v6h-6zM618 672h6v6h-6zM624 684h6v6h-6zM588 690h30v6h-30zM564 696h24v6h-24zM546 702h12v6h-12zM552 708h6v6h-6zM570 720h6v6h-6zM588 726h6v6h-6zM594 732h6v6h-6zM576 738h6v6h-6z"/><path fill="#565656" d="M546 36h6v6h-6zM912 36h6v6h-6zM546 42h6v6h-6zM912 42h6v6h-6zM906 48h6v6h-6zM540 54h6v6h-6zM906 54h6v6h-6zM540 60h6v6h-6zM906 60h6v6h-6zM906 66h6v6h-6zM522 72h6v6h-6zM900 72h6v6h-6zM516 78h6v6h-6zM900 78h6v6h-6zM510 84h6v6h-6zM894 84h6v6h-6zM510 90h6v6h-6zM894 90h6v6h-6zM504 96h6v6h-6zM900 96h6v6h-6zM498 102h6v6h-6zM900 102h12v6h-12zM492 108h6v6h-6zM906 108h6v6h-6zM492 114h12v6h-12zM906 114h6v6h-6zM504 120h18v6h-18zM894 120h6v6h-6zM528 126h6v6h-6zM882 126h6v6h-6zM876 132h6v6h-6zM498 138h18v6h-18zM870 138h12v6h-12zM474 144h12v6h-12zM870 144h6v6h-6zM474 150h6v6h-6zM864 150h6v6h-6zM480 156h6v6h-6zM858 156h6v6h-6zM474 162h12v6h-12zM858 162h6v6h-6zM468 168h12v6h-12zM852 168h6v6h-6zM462 174h12v6h-12zM852 174h6v6h-6zM444 180h12v6h-12zM846 180h12v6h-12zM846 186h6v6h-6zM846 192h6v6h-6zM840 198h6v6h-6zM840 204h6v6h-6zM414 210h6v6h-6zM834 210h6v6h-6zM414 216h6v6h-6zM834 216h6v6h-6zM432 222h12v6h-12zM828 222h6v6h-6zM444 228h12v6h-12zM816 228h6v6h-6zM438 234h12v6h-12zM432 240h12v6h-12zM816 240h6v6h-6zM426 246h18v6h-18zM816 246h6v6h-6zM426 252h18v6h-18zM816 252h6v6h-6zM414 258h18v6h-18zM810 258h6v6h-6zM390 264h6v6h-6zM810 264h6v6h-6zM384 270h6v6h-6zM804 270h6v6h-6zM408 276h12v6h-12zM804 276h6v6h-6zM432 282h12v6h-12zM798 282h6v6h-6zM444 288h6v6h-6zM786 288h6v6h-6zM432 294h6v6h-6zM786 294h6v6h-6zM360 300h6v6h-6zM390 300h18v6h-18zM786 300h6v6h-6zM360 312h6v6h-6zM378 312h12v6h-12zM786 312h6v6h-6zM378 318h6v6h-6zM360 324h30v6h-30zM384 330h12v6h-12zM378 336h18v6h-18zM780 336h6v6h-6zM378 342h12v6h-12zM780 342h6v6h-6zM372 348h12v6h-12zM780 348h6v6h-6zM372 354h12v6h-12zM780 354h6v6h-6zM366 360h12v6h-12zM780 360h6v6h-6zM360 366h18v6h-18zM360 372h12v6h-12zM360 378h12v6h-12zM780 378h6v6h-6zM384 384h6v6h-6zM390 390h6v6h-6zM774 390h6v6h-6zM378 396h6v6h-6zM768 396h6v6h-6zM348 402h12v6h-12zM768 402h6v6h-6zM336 408h12v6h-12zM762 408h6v6h-6zM330 414h18v6h-18zM762 414h6v6h-6zM330 420h12v6h-12zM756 420h6v6h-6zM324 426h12v6h-12zM312 432h18v6h-18zM750 432h6v6h-6zM306 438h12v6h-12zM744 438h6v6h-6zM306 444h12v6h-12zM330 450h6v6h-6zM738 450h6v6h-6zM336 456h6v6h-6zM330 462h6v6h-6zM738 462h6v6h-6zM306 468h12v6h-12zM744 468h6v6h-6zM294 474h6v6h-6zM750 474h6v6h-6zM288 480h6v6h-6zM732 480h6v6h-6zM720 486h6v6h-6zM282 492h6v6h-6zM708 498h6v6h-6zM708 504h6v6h-6zM276 510h6v6h-6zM702 510h6v6h-6zM678 528h6v6h-6zM264 534h6v6h-6zM678 552h6v6h-6zM258 558h6v6h-6zM666 558h6v6h-6zM252 576h6v6h-6zM678 576h6v6h-6zM672 588h6v6h-6zM240 594h6v6h-6zM234 600h6v6h-6zM648 600h6v6h-6zM228 606h6v6h-6zM642 606h6v6h-6zM648 612h6v6h-6zM204 618h12v6h-12zM162 624h12v6h-12zM156 630h6v6h-6zM678 630h6v6h-6zM156 636h6v6h-6zM660 636h6v6h-6zM156 642h6v6h-6zM156 648h6v6h-6zM612 654h6v6h-6zM612 660h6v6h-6zM600 666h18v6h-18zM576 672h42v6h-42zM618 678h6v6h-6zM540 684h12v6h-12zM534 690h54v6h-54zM528 696h36v6h-36zM540 702h6v6h-6zM546 708h6v6h-6zM552 714h6v6h-6zM582 726h6v6h-6zM162 798h6v6h-6z"/><path fill="#575757" d="M552 36h6v6h-6zM906 36h6v6h-6zM552 42h6v6h-6zM900 42h12v6h-12zM546 48h6v6h-6zM900 48h6v6h-6zM546 54h6v6h-6zM900 54h6v6h-6zM546 60h6v6h-6zM900 60h6v6h-6zM534 66h12v6h-12zM894 66h12v6h-12zM528 72h6v6h-6zM894 72h6v6h-6zM894 78h6v6h-6zM516 84h12v6h-12zM888 84h6v6h-6zM516 90h12v6h-12zM888 90h6v6h-6zM510 96h18v6h-18zM888 96h12v6h-12zM504 102h12v6h-12zM894 102h6v6h-6zM498 108h12v6h-12zM900 108h6v6h-6zM504 114h12v6h-12zM522 120h6v6h-6zM888 120h6v6h-6zM876 126h6v6h-6zM528 132h6v6h-6zM870 132h6v6h-6zM516 138h6v6h-6zM864 138h6v6h-6zM486 144h12v6h-12zM864 144h6v6h-6zM480 150h12v6h-12zM858 150h6v6h-6zM486 156h12v6h-12zM852 156h6v6h-6zM486 162h12v6h-12zM852 162h6v6h-6zM480 168h12v6h-12zM846 168h6v6h-6zM474 174h12v6h-12zM846 174h6v6h-6zM456 180h12v6h-12zM840 180h6v6h-6zM432 186h6v6h-6zM840 186h6v6h-6zM426 192h6v6h-6zM840 192h6v6h-6zM426 198h6v6h-6zM834 198h6v6h-6zM420 204h6v6h-6zM834 204h6v6h-6zM828 210h6v6h-6zM420 216h12v6h-12zM828 216h6v6h-6zM444 222h18v6h-18zM822 222h6v6h-6zM456 228h12v6h-12zM810 228h6v6h-6zM450 234h12v6h-12zM804 234h6v6h-6zM444 240h12v6h-12zM810 240h6v6h-6zM444 246h12v6h-12zM810 246h6v6h-6zM444 252h18v6h-18zM810 252h6v6h-6zM432 258h18v6h-18zM804 258h6v6h-6zM396 264h18v6h-18zM804 264h6v6h-6zM390 270h24v6h-24zM798 270h6v6h-6zM420 276h18v6h-18zM798 276h6v6h-6zM444 282h6v6h-6zM792 282h6v6h-6zM438 294h6v6h-6zM780 294h6v6h-6zM366 300h6v6h-6zM378 300h12v6h-12zM408 300h12v6h-12zM780 300h6v6h-6zM360 306h6v6h-6zM384 306h30v6h-30zM786 306h6v6h-6zM366 312h12v6h-12zM390 312h24v6h-24zM780 312h6v6h-6zM360 318h18v6h-18zM384 318h24v6h-24zM774 318h6v6h-6zM390 324h18v6h-18zM768 324h6v6h-6zM396 330h12v6h-12zM768 330h6v6h-6zM396 336h12v6h-12zM774 336h6v6h-6zM390 342h12v6h-12zM384 348h12v6h-12zM384 354h12v6h-12zM774 354h6v6h-6zM378 360h12v6h-12zM378 366h12v6h-12zM780 366h6v6h-6zM372 372h12v6h-12zM780 372h6v6h-6zM372 378h12v6h-12zM774 378h6v6h-6zM390 384h6v6h-6zM774 384h6v6h-6zM768 390h6v6h-6zM384 396h6v6h-6zM762 396h6v6h-6zM360 402h12v6h-12zM762 402h6v6h-6zM348 408h12v6h-12zM348 414h12v6h-12zM756 414h6v6h-6zM342 420h12v6h-12zM750 420h6v6h-6zM336 426h12v6h-12zM750 426h6v6h-6zM330 432h12v6h-12zM744 432h6v6h-6zM318 438h18v6h-18zM738 438h6v6h-6zM318 444h18v6h-18zM738 444h6v6h-6zM336 450h6v6h-6zM732 450h6v6h-6zM732 456h6v6h-6zM732 462h6v6h-6zM318 468h12v6h-12zM738 468h6v6h-6zM300 474h12v6h-12zM738 474h12v6h-12zM294 480h12v6h-12zM726 480h6v6h-6zM288 486h12v6h-12zM714 486h6v6h-6zM288 492h6v6h-6zM282 498h6v6h-6zM282 504h18v6h-18zM282 510h6v6h-6zM276 516h6v6h-6zM690 516h6v6h-6zM270 528h6v6h-6zM264 540h6v6h-6zM678 540h6v6h-6zM264 546h6v6h-6zM684 546h6v6h-6zM258 564h6v6h-6zM678 582h6v6h-6zM246 588h6v6h-6zM666 588h6v6h-6zM654 594h6v6h-6zM222 612h6v6h-6zM174 624h12v6h-12zM162 630h6v6h-6zM162 636h12v6h-12zM654 636h6v6h-6zM162 642h12v6h-12zM162 648h12v6h-12zM618 648h6v6h-6zM156 654h12v6h-12zM606 654h6v6h-6zM156 660h12v6h-12zM600 660h12v6h-12zM156 666h6v6h-6zM576 666h24v6h-24zM552 672h24v6h-24zM546 678h72v6h-72zM534 684h6v6h-6zM552 684h72v6h-72zM522 690h12v6h-12zM522 696h6v6h-6zM534 702h6v6h-6zM564 720h6v6h-6zM588 732h6v6h-6zM570 738h6v6h-6zM540 744h6v6h-6zM228 810h6v6h-6z"/><path fill="#585858" d="M558 36h12v6h-12zM894 36h12v6h-12zM558 42h12v6h-12zM894 42h6v6h-6zM552 48h12v6h-12zM894 48h6v6h-6zM552 54h12v6h-12zM894 54h6v6h-6zM552 60h6v6h-6zM894 60h6v6h-6zM546 66h12v6h-12zM888 66h6v6h-6zM534 72h12v6h-12zM888 72h6v6h-6zM522 78h18v6h-18zM888 78h6v6h-6zM528 84h12v6h-12zM882 84h6v6h-6zM528 90h18v6h-18zM882 90h6v6h-6zM528 96h12v6h-12zM882 96h6v6h-6zM516 102h12v6h-12zM882 102h12v6h-12zM510 108h12v6h-12zM894 108h6v6h-6zM516 114h12v6h-12zM900 114h6v6h-6zM528 120h6v6h-6zM882 120h6v6h-6zM534 126h6v6h-6zM870 126h6v6h-6zM864 132h6v6h-6zM522 138h6v6h-6zM858 138h6v6h-6zM498 144h6v6h-6zM858 144h6v6h-6zM492 150h6v6h-6zM852 150h6v6h-6zM498 156h12v6h-12zM846 156h6v6h-6zM498 162h12v6h-12zM846 162h6v6h-6zM492 168h12v6h-12zM840 168h6v6h-6zM486 174h12v6h-12zM840 174h6v6h-6zM468 180h12v6h-12zM834 180h6v6h-6zM438 186h12v6h-12zM834 186h6v6h-6zM432 192h6v6h-6zM834 192h6v6h-6zM432 198h18v6h-18zM828 198h6v6h-6zM426 204h6v6h-6zM828 204h6v6h-6zM420 210h6v6h-6zM822 210h6v6h-6zM432 216h18v6h-18zM822 216h6v6h-6zM462 222h12v6h-12zM816 222h6v6h-6zM468 228h6v6h-6zM462 234h12v6h-12zM456 240h12v6h-12zM804 240h6v6h-6zM456 246h12v6h-12zM804 246h6v6h-6zM462 252h6v6h-6zM804 252h6v6h-6zM450 258h12v6h-12zM798 258h6v6h-6zM414 264h12v6h-12zM798 264h6v6h-6zM414 270h12v6h-12zM438 276h12v6h-12zM792 276h6v6h-6zM786 282h6v6h-6zM780 288h6v6h-6zM444 294h6v6h-6zM372 300h6v6h-6zM420 300h12v6h-12zM372 306h12v6h-12zM414 306h12v6h-12zM780 306h6v6h-6zM414 312h12v6h-12zM408 318h18v6h-18zM408 324h12v6h-12zM408 330h12v6h-12zM408 336h12v6h-12zM768 336h6v6h-6zM402 342h12v6h-12zM774 342h6v6h-6zM396 348h12v6h-12zM774 348h6v6h-6zM396 354h12v6h-12zM390 360h12v6h-12zM774 360h6v6h-6zM390 366h12v6h-12zM774 366h6v6h-6zM384 372h12v6h-12zM774 372h6v6h-6zM384 378h12v6h-12zM768 384h6v6h-6zM762 390h6v6h-6zM756 396h6v6h-6zM372 402h12v6h-12zM756 402h6v6h-6zM360 408h12v6h-12zM756 408h6v6h-6zM360 414h12v6h-12zM750 414h6v6h-6zM354 420h12v6h-12zM348 426h12v6h-12zM744 426h6v6h-6zM342 432h12v6h-12zM738 432h6v6h-6zM336 438h12v6h-12zM336 444h12v6h-12zM732 444h6v6h-6zM342 450h6v6h-6zM726 450h6v6h-6zM342 456h6v6h-6zM726 456h6v6h-6zM336 462h6v6h-6zM726 462h6v6h-6zM732 468h6v6h-6zM312 474h12v6h-12zM732 474h6v6h-6zM306 480h12v6h-12zM720 480h6v6h-6zM300 486h12v6h-12zM708 486h6v6h-6zM294 492h12v6h-12zM702 492h6v6h-6zM288 498h12v6h-12zM300 504h6v6h-6zM702 504h6v6h-6zM288 510h12v6h-12zM282 516h12v6h-12zM276 522h12v6h-12zM678 522h6v6h-6zM276 528h6v6h-6zM264 552h6v6h-6zM264 558h6v6h-6zM660 564h6v6h-6zM258 570h6v6h-6zM666 570h6v6h-6zM672 576h6v6h-6zM252 582h6v6h-6zM672 582h6v6h-6zM660 588h6v6h-6zM216 618h6v6h-6zM186 624h12v6h-12zM666 624h6v6h-6zM168 630h6v6h-6zM672 630h6v6h-6zM174 636h6v6h-6zM174 642h12v6h-12zM630 642h6v6h-6zM174 648h12v6h-12zM612 648h6v6h-6zM168 654h12v6h-12zM168 660h12v6h-12zM594 660h6v6h-6zM162 666h12v6h-12zM558 666h18v6h-18zM156 672h12v6h-12zM546 672h6v6h-6zM156 678h12v6h-12zM540 678h6v6h-6zM156 684h12v6h-12zM528 684h6v6h-6zM156 690h6v6h-6zM516 696h6v6h-6zM528 702h6v6h-6zM540 708h6v6h-6zM576 726h6v6h-6zM582 732h6v6h-6zM168 744h6v6h-6zM228 798h6v6h-6z"/><path fill="#5a5a5a" d="M570 36h6v6h-6zM564 48h6v6h-6zM888 54h6v6h-6zM558 60h6v6h-6zM888 60h6v6h-6zM546 72h6v6h-6zM882 72h6v6h-6zM540 78h12v6h-12zM882 78h6v6h-6zM540 84h12v6h-12zM876 90h6v6h-6zM540 96h6v6h-6zM876 96h6v6h-6zM528 102h12v6h-12zM876 102h6v6h-6zM522 108h12v6h-12zM888 108h6v6h-6zM528 114h6v6h-6zM894 114h6v6h-6zM876 120h6v6h-6zM864 126h6v6h-6zM534 132h6v6h-6zM858 132h6v6h-6zM504 144h6v6h-6zM852 144h6v6h-6zM498 150h6v6h-6zM510 156h6v6h-6zM840 162h6v6h-6zM504 168h6v6h-6zM498 174h6v6h-6zM834 174h6v6h-6zM480 180h12v6h-12zM450 186h6v6h-6zM828 186h6v6h-6zM438 192h12v6h-12zM828 192h6v6h-6zM450 198h18v6h-18zM432 204h54v6h-54zM822 204h6v6h-6zM426 210h18v6h-18zM468 210h18v6h-18zM450 216h30v6h-30zM816 216h6v6h-6zM474 222h6v6h-6zM474 228h6v6h-6zM804 228h6v6h-6zM798 234h6v6h-6zM468 240h6v6h-6zM798 252h6v6h-6zM426 264h12v6h-12zM426 270h18v6h-18zM792 270h6v6h-6zM450 276h6v6h-6zM450 282h6v6h-6zM450 288h6v6h-6zM774 294h6v6h-6zM432 300h6v6h-6zM366 306h6v6h-6zM426 306h6v6h-6zM774 306h6v6h-6zM426 312h12v6h-12zM774 312h6v6h-6zM426 318h6v6h-6zM768 318h6v6h-6zM420 324h12v6h-12zM420 330h6v6h-6zM414 342h6v6h-6zM768 342h6v6h-6zM408 348h6v6h-6zM768 348h6v6h-6zM408 354h6v6h-6zM768 354h6v6h-6zM402 360h6v6h-6zM768 360h6v6h-6zM396 372h6v6h-6zM768 378h6v6h-6zM396 384h6v6h-6zM762 384h6v6h-6zM396 390h6v6h-6zM756 390h6v6h-6zM372 408h6v6h-6zM750 408h6v6h-6zM366 420h6v6h-6zM744 420h6v6h-6zM360 426h6v6h-6zM738 426h6v6h-6zM354 432h6v6h-6zM348 438h6v6h-6zM732 438h6v6h-6zM726 444h6v6h-6zM720 456h6v6h-6zM720 462h6v6h-6zM330 468h6v6h-6zM726 468h6v6h-6zM324 474h6v6h-6zM726 474h6v6h-6zM318 480h6v6h-6zM714 480h6v6h-6zM312 486h6v6h-6zM306 492h6v6h-6zM300 498h6v6h-6zM702 498h6v6h-6zM696 510h6v6h-6zM288 522h6v6h-6zM282 528h6v6h-6zM270 534h12v6h-12zM672 534h6v6h-6zM270 540h12v6h-12zM270 546h6v6h-6zM678 546h6v6h-6zM270 552h6v6h-6zM672 552h6v6h-6zM264 564h6v6h-6zM258 576h6v6h-6zM666 576h6v6h-6zM666 582h6v6h-6zM642 600h6v6h-6zM234 606h6v6h-6zM654 618h6v6h-6zM198 624h12v6h-12zM174 630h6v6h-6zM180 636h12v6h-12zM186 642h6v6h-6zM186 648h6v6h-6zM180 654h6v6h-6zM600 654h6v6h-6zM588 660h6v6h-6zM174 666h6v6h-6zM552 666h6v6h-6zM168 672h6v6h-6zM540 672h6v6h-6zM168 678h6v6h-6zM534 678h6v6h-6zM162 690h6v6h-6zM156 696h6v6h-6zM534 744h6v6h-6zM162 810h6v6h-6z"/><path fill="#5b5b5b" d="M888 36h6v6h-6zM570 42h6v6h-6zM888 42h6v6h-6zM888 48h6v6h-6zM564 54h6v6h-6zM558 66h6v6h-6zM882 66h6v6h-6zM552 72h6v6h-6zM876 84h6v6h-6zM546 90h6v6h-6zM870 96h6v6h-6zM870 102h6v6h-6zM882 108h6v6h-6zM888 114h6v6h-6zM534 120h6v6h-6zM870 120h6v6h-6zM540 126h6v6h-6zM858 126h6v6h-6zM852 138h6v6h-6zM510 144h6v6h-6zM504 150h6v6h-6zM846 150h6v6h-6zM840 156h6v6h-6zM510 162h6v6h-6zM504 174h6v6h-6zM492 180h12v6h-12zM828 180h6v6h-6zM456 186h12v6h-12zM450 192h6v6h-6zM468 198h24v6h-24zM822 198h6v6h-6zM486 204h6v6h-6zM444 210h24v6h-24zM816 210h6v6h-6zM480 216h6v6h-6zM480 222h6v6h-6zM810 222h6v6h-6zM474 234h6v6h-6zM798 240h6v6h-6zM468 246h6v6h-6zM798 246h6v6h-6zM468 252h6v6h-6zM462 258h6v6h-6zM438 264h12v6h-12zM792 264h6v6h-6zM444 270h12v6h-12zM786 276h6v6h-6zM780 282h6v6h-6zM774 288h6v6h-6zM438 300h6v6h-6zM774 300h6v6h-6zM432 306h6v6h-6zM432 318h6v6h-6zM762 324h6v6h-6zM762 330h6v6h-6zM420 336h6v6h-6zM414 348h6v6h-6zM402 366h6v6h-6zM768 366h6v6h-6zM768 372h6v6h-6zM396 378h6v6h-6zM762 378h6v6h-6zM756 384h6v6h-6zM390 396h6v6h-6zM750 402h6v6h-6zM378 408h6v6h-6zM372 414h6v6h-6zM744 414h6v6h-6zM732 432h6v6h-6zM354 438h6v6h-6zM348 444h6v6h-6zM720 468h6v6h-6zM714 474h12v6h-12zM312 492h6v6h-6zM306 498h6v6h-6zM306 504h6v6h-6zM696 504h6v6h-6zM300 510h6v6h-6zM294 516h6v6h-6zM684 516h6v6h-6zM672 528h6v6h-6zM282 534h6v6h-6zM672 540h6v6h-6zM276 546h6v6h-6zM270 558h6v6h-6zM660 558h6v6h-6zM264 570h6v6h-6zM648 594h6v6h-6zM240 600h6v6h-6zM636 606h6v6h-6zM228 612h6v6h-6zM642 612h6v6h-6zM222 618h6v6h-6zM180 630h6v6h-6zM192 636h6v6h-6zM648 636h6v6h-6zM192 642h6v6h-6zM594 654h6v6h-6zM180 660h6v6h-6zM582 660h6v6h-6zM174 672h6v6h-6zM168 684h6v6h-6zM522 684h6v6h-6zM516 690h6v6h-6zM162 696h6v6h-6zM510 696h6v6h-6zM522 702h6v6h-6zM534 708h6v6h-6zM546 714h6v6h-6zM558 720h6v6h-6zM570 726h6v6h-6zM576 732h6v6h-6zM564 738h6v6h-6zM174 744h6v6h-6zM528 744h6v6h-6z"/><path fill="#5c5c5c" d="M570 48h6v6h-6zM882 54h6v6h-6zM564 60h6v6h-6zM882 60h6v6h-6zM876 72h6v6h-6zM552 78h6v6h-6zM876 78h6v6h-6zM870 90h6v6h-6zM540 102h6v6h-6zM534 108h6v6h-6zM870 108h12v6h-12zM534 114h6v6h-6zM882 114h6v6h-6zM864 120h6v6h-6zM540 132h6v6h-6zM852 132h6v6h-6zM528 138h6v6h-6zM516 144h6v6h-6zM846 144h6v6h-6zM510 150h6v6h-6zM510 168h6v6h-6zM834 168h6v6h-6zM828 174h6v6h-6zM468 186h12v6h-12zM456 192h12v6h-12zM822 192h6v6h-6zM492 198h6v6h-6zM816 204h6v6h-6zM486 210h6v6h-6zM810 216h6v6h-6zM480 228h6v6h-6zM798 228h6v6h-6zM792 234h6v6h-6zM792 258h6v6h-6zM450 264h6v6h-6zM786 270h6v6h-6zM456 276h6v6h-6zM456 282h6v6h-6zM456 288h6v6h-6zM450 294h6v6h-6zM438 306h6v6h-6zM438 312h6v6h-6zM768 312h6v6h-6zM426 330h6v6h-6zM762 336h6v6h-6zM420 342h6v6h-6zM762 342h6v6h-6zM762 348h6v6h-6zM762 354h6v6h-6zM408 360h6v6h-6zM762 360h6v6h-6zM402 372h6v6h-6zM750 396h6v6h-6zM384 402h6v6h-6zM738 420h6v6h-6zM366 426h6v6h-6zM360 432h6v6h-6zM726 438h6v6h-6zM348 450h6v6h-6zM720 450h6v6h-6zM348 456h6v6h-6zM342 462h6v6h-6zM714 462h6v6h-6zM714 468h6v6h-6zM324 480h6v6h-6zM708 480h6v6h-6zM318 486h6v6h-6zM702 486h6v6h-6zM696 492h6v6h-6zM696 498h6v6h-6zM690 510h6v6h-6zM294 522h6v6h-6zM288 528h6v6h-6zM282 540h6v6h-6zM672 546h6v6h-6zM276 552h6v6h-6zM270 564h6v6h-6zM660 570h6v6h-6zM660 582h6v6h-6zM654 588h6v6h-6zM246 594h6v6h-6zM210 624h6v6h-6zM660 624h6v6h-6zM186 630h6v6h-6zM666 630h6v6h-6zM624 642h6v6h-6zM192 648h6v6h-6zM606 648h6v6h-6zM186 654h6v6h-6zM576 660h6v6h-6zM546 666h6v6h-6zM534 672h6v6h-6zM174 678h6v6h-6zM528 678h6v6h-6zM168 690h6v6h-6zM156 702h6v6h-6zM180 744h6v6h-6z"/><path fill="#5e5e5e" d="M576 36h6v6h-6zM882 42h6v6h-6zM882 48h6v6h-6zM570 54h6v6h-6zM876 66h6v6h-6zM558 72h6v6h-6zM552 84h6v6h-6zM870 84h6v6h-6zM546 96h6v6h-6zM864 96h6v6h-6zM864 102h6v6h-6zM876 114h6v6h-6zM540 120h6v6h-6zM852 126h6v6h-6zM846 138h6v6h-6zM840 150h6v6h-6zM516 156h6v6h-6zM516 162h6v6h-6zM834 162h6v6h-6zM510 174h6v6h-6zM504 180h6v6h-6zM480 186h18v6h-18zM822 186h6v6h-6zM468 192h24v6h-24zM816 198h6v6h-6zM492 204h6v6h-6zM810 210h6v6h-6zM486 216h6v6h-6zM804 222h6v6h-6zM474 240h6v6h-6zM792 240h6v6h-6zM474 246h6v6h-6zM792 246h6v6h-6zM474 252h6v6h-6zM792 252h6v6h-6zM468 258h6v6h-6zM456 264h6v6h-6zM786 264h6v6h-6zM456 270h6v6h-6zM780 276h6v6h-6zM768 288h6v6h-6zM768 294h6v6h-6zM768 300h6v6h-6zM768 306h6v6h-6zM762 318h6v6h-6zM432 324h6v6h-6zM426 336h6v6h-6zM414 354h6v6h-6zM408 366h6v6h-6zM762 366h6v6h-6zM762 372h6v6h-6zM402 378h6v6h-6zM756 378h6v6h-6zM402 384h6v6h-6zM402 390h6v6h-6zM750 390h6v6h-6zM396 396h6v6h-6zM744 408h6v6h-6zM378 414h6v6h-6zM372 420h6v6h-6zM732 426h6v6h-6zM354 444h6v6h-6zM720 444h6v6h-6zM714 456h6v6h-6zM336 468h6v6h-6zM330 474h6v6h-6zM312 498h6v6h-6zM306 510h6v6h-6zM300 516h6v6h-6zM678 516h6v6h-6zM672 522h6v6h-6zM288 534h6v6h-6zM282 546h6v6h-6zM666 552h6v6h-6zM654 564h6v6h-6zM264 576h6v6h-6zM660 576h6v6h-6zM258 582h6v6h-6zM252 588h6v6h-6zM648 618h6v6h-6zM192 630h6v6h-6zM198 636h6v6h-6zM642 636h6v6h-6zM198 642h6v6h-6zM588 654h6v6h-6zM186 660h6v6h-6zM570 660h6v6h-6zM180 666h6v6h-6zM174 684h6v6h-6zM516 684h6v6h-6zM510 690h6v6h-6zM504 696h6v6h-6zM516 702h6v6h-6zM186 744h6v6h-6zM522 744h6v6h-6z"/><path fill="#5f5f5f" d="M882 36h6v6h-6zM576 42h6v6h-6zM876 60h6v6h-6zM564 66h6v6h-6zM558 78h6v6h-6zM870 78h6v6h-6zM552 90h6v6h-6zM864 90h6v6h-6zM540 108h6v6h-6zM864 108h6v6h-6zM540 114h6v6h-6zM870 114h6v6h-6zM858 120h6v6h-6zM546 126h6v6h-6zM546 132h6v6h-6zM846 132h6v6h-6zM534 138h6v6h-6zM522 144h6v6h-6zM840 144h6v6h-6zM516 150h6v6h-6zM834 156h6v6h-6zM516 168h6v6h-6zM828 168h6v6h-6zM822 180h6v6h-6zM498 186h6v6h-6zM492 192h6v6h-6zM816 192h6v6h-6zM810 204h6v6h-6zM492 210h6v6h-6zM486 222h6v6h-6zM480 234h6v6h-6zM786 234h6v6h-6zM786 258h6v6h-6zM774 282h6v6h-6zM444 300h6v6h-6zM438 318h6v6h-6zM756 324h6v6h-6zM432 330h6v6h-6zM756 330h6v6h-6zM420 348h6v6h-6zM414 360h6v6h-6zM750 384h6v6h-6zM744 396h6v6h-6zM390 402h6v6h-6zM744 402h6v6h-6zM384 408h6v6h-6zM738 414h6v6h-6zM366 432h6v6h-6zM726 432h6v6h-6zM360 438h6v6h-6zM354 450h6v6h-6zM714 450h6v6h-6zM708 468h6v6h-6zM708 474h6v6h-6zM702 480h6v6h-6zM324 486h6v6h-6zM318 492h6v6h-6zM312 504h6v6h-6zM690 504h6v6h-6zM684 510h6v6h-6zM294 528h6v6h-6zM666 534h6v6h-6zM276 558h6v6h-6zM270 570h6v6h-6zM654 570h6v6h-6zM654 582h6v6h-6zM648 588h6v6h-6zM642 594h6v6h-6zM636 600h6v6h-6zM240 606h6v6h-6zM234 612h6v6h-6zM228 618h6v6h-6zM216 624h6v6h-6zM654 624h6v6h-6zM198 630h6v6h-6zM660 630h6v6h-6zM600 648h6v6h-6zM192 654h6v6h-6zM540 666h6v6h-6zM180 672h6v6h-6zM528 672h6v6h-6zM522 678h6v6h-6zM168 696h6v6h-6zM528 708h6v6h-6zM540 714h6v6h-6zM564 726h6v6h-6zM570 732h6v6h-6zM558 738h6v6h-6zM516 744h6v6h-6z"/><path fill="#606060" d="M582 36h6v6h-6zM876 42h6v6h-6zM576 48h6v6h-6zM876 48h6v6h-6zM876 54h6v6h-6zM570 60h6v6h-6zM564 72h6v6h-6zM870 72h6v6h-6zM558 84h6v6h-6zM864 84h6v6h-6zM552 96h6v6h-6zM858 96h6v6h-6zM546 102h6v6h-6zM858 102h6v6h-6zM546 120h6v6h-6zM846 126h6v6h-6zM840 138h6v6h-6zM834 150h6v6h-6zM522 156h6v6h-6zM828 162h6v6h-6zM822 174h6v6h-6zM816 186h6v6h-6zM498 198h6v6h-6zM810 198h6v6h-6zM498 204h6v6h-6zM492 216h6v6h-6zM804 216h6v6h-6zM486 228h6v6h-6zM792 228h6v6h-6zM780 234h6v6h-6zM480 240h6v6h-6zM786 240h6v6h-6zM786 252h6v6h-6zM474 258h6v6h-6zM462 264h6v6h-6zM462 270h6v6h-6zM780 270h6v6h-6zM462 276h6v6h-6zM462 282h6v6h-6zM462 288h6v6h-6zM456 294h6v6h-6zM762 294h6v6h-6zM444 306h6v6h-6zM444 312h6v6h-6zM762 312h6v6h-6zM438 324h6v6h-6zM756 336h6v6h-6zM426 342h6v6h-6zM756 342h6v6h-6zM756 348h6v6h-6zM420 354h6v6h-6zM756 354h6v6h-6zM756 360h6v6h-6zM408 372h6v6h-6zM408 390h6v6h-6zM744 390h6v6h-6zM378 420h6v6h-6zM732 420h6v6h-6zM372 426h6v6h-6zM720 438h6v6h-6zM360 444h6v6h-6zM354 456h6v6h-6zM348 462h6v6h-6zM708 462h6v6h-6zM342 468h6v6h-6zM336 474h6v6h-6zM330 480h6v6h-6zM696 486h6v6h-6zM318 498h6v6h-6zM690 498h6v6h-6zM306 516h6v6h-6zM300 522h6v6h-6zM666 528h6v6h-6zM288 540h6v6h-6zM666 540h6v6h-6zM666 546h6v6h-6zM282 552h6v6h-6zM660 552h6v6h-6zM654 558h6v6h-6zM276 564h6v6h-6zM270 576h6v6h-6zM654 576h6v6h-6zM246 600h6v6h-6zM630 606h6v6h-6zM636 612h6v6h-6zM618 642h6v6h-6zM198 648h6v6h-6zM582 654h6v6h-6zM564 660h6v6h-6zM186 666h6v6h-6zM180 678h6v6h-6zM510 684h6v6h-6zM174 690h6v6h-6zM504 690h6v6h-6zM162 702h6v6h-6zM156 708h6v6h-6zM552 720h6v6h-6zM192 744h6v6h-6zM510 744h6v6h-6zM234 804h6v6h-6z"/><path fill="#616161" d="M876 36h6v6h-6zM582 42h6v6h-6zM576 54h6v6h-6zM870 60h6v6h-6zM570 66h6v6h-6zM870 66h6v6h-6zM564 78h6v6h-6zM864 78h6v6h-6zM558 90h6v6h-6zM858 90h6v6h-6zM546 108h6v6h-6zM546 114h6v6h-6zM864 114h6v6h-6zM852 120h6v6h-6zM552 126h6v6h-6zM840 132h6v6h-6zM540 138h6v6h-6zM834 144h6v6h-6zM522 150h6v6h-6zM828 156h6v6h-6zM522 162h6v6h-6zM822 168h6v6h-6zM516 174h6v6h-6zM510 180h6v6h-6zM816 180h6v6h-6zM498 192h6v6h-6zM810 192h6v6h-6zM498 210h6v6h-6zM804 210h6v6h-6zM492 222h6v6h-6zM798 222h6v6h-6zM486 234h6v6h-6zM480 246h6v6h-6zM786 246h6v6h-6zM480 252h6v6h-6zM780 264h6v6h-6zM774 276h6v6h-6zM768 282h6v6h-6zM762 288h6v6h-6zM762 300h6v6h-6zM762 306h6v6h-6zM444 318h6v6h-6zM756 318h6v6h-6zM438 330h6v6h-6zM432 336h6v6h-6zM426 348h6v6h-6zM414 366h6v6h-6zM756 366h6v6h-6zM756 372h6v6h-6zM408 378h6v6h-6zM750 378h6v6h-6zM408 384h6v6h-6zM402 396h6v6h-6zM738 402h6v6h-6zM390 408h6v6h-6zM738 408h6v6h-6zM384 414h6v6h-6zM726 426h6v6h-6zM372 432h6v6h-6zM366 438h6v6h-6zM714 444h6v6h-6zM708 456h6v6h-6zM702 474h6v6h-6zM696 480h6v6h-6zM324 492h6v6h-6zM690 492h6v6h-6zM318 504h6v6h-6zM684 504h6v6h-6zM312 510h6v6h-6zM678 510h6v6h-6zM672 516h6v6h-6zM666 522h6v6h-6zM300 528h6v6h-6zM294 534h6v6h-6zM288 546h6v6h-6zM282 558h6v6h-6zM648 564h6v6h-6zM276 570h6v6h-6zM264 582h6v6h-6zM648 582h6v6h-6zM642 588h6v6h-6zM252 594h6v6h-6zM636 594h6v6h-6zM642 618h6v6h-6zM222 624h6v6h-6zM654 630h6v6h-6zM204 636h6v6h-6zM636 636h6v6h-6zM204 642h6v6h-6zM198 654h6v6h-6zM192 660h6v6h-6zM534 666h6v6h-6zM186 672h6v6h-6zM516 678h6v6h-6zM180 684h6v6h-6zM174 696h6v6h-6zM498 696h6v6h-6zM510 702h6v6h-6zM564 732h6v6h-6zM552 738h6v6h-6zM198 744h6v6h-6zM504 744h6v6h-6zM168 798h6v6h-6zM156 804h6v6h-6z"/><path fill="#636363" d="M588 36h6v6h-6zM870 42h6v6h-6zM582 48h6v6h-6zM870 48h6v6h-6zM870 54h6v6h-6zM576 60h6v6h-6zM570 72h6v6h-6zM864 72h6v6h-6zM564 84h6v6h-6zM858 84h6v6h-6zM558 96h6v6h-6zM552 102h6v6h-6zM852 102h6v6h-6zM858 108h6v6h-6zM840 126h6v6h-6zM552 132h6v6h-6zM834 138h6v6h-6zM528 144h6v6h-6zM828 150h6v6h-6zM822 162h6v6h-6zM522 168h6v6h-6zM816 174h6v6h-6zM504 186h6v6h-6zM810 186h6v6h-6zM504 198h6v6h-6zM504 204h6v6h-6zM804 204h6v6h-6zM498 216h6v6h-6zM798 216h6v6h-6zM492 228h6v6h-6zM786 228h6v6h-6zM774 234h6v6h-6zM486 240h6v6h-6zM780 240h6v6h-6zM480 258h6v6h-6zM780 258h6v6h-6zM468 270h6v6h-6zM774 270h6v6h-6zM468 276h6v6h-6zM468 282h6v6h-6zM468 288h6v6h-6zM462 294h6v6h-6zM450 300h6v6h-6zM450 306h6v6h-6zM450 312h6v6h-6zM444 324h6v6h-6zM750 324h6v6h-6zM750 330h6v6h-6zM432 342h6v6h-6zM750 354h6v6h-6zM420 360h6v6h-6zM414 372h6v6h-6zM744 384h6v6h-6zM738 396h6v6h-6zM396 402h6v6h-6zM732 414h6v6h-6zM378 426h6v6h-6zM720 432h6v6h-6zM360 450h6v6h-6zM708 450h6v6h-6zM354 462h6v6h-6zM702 462h6v6h-6zM702 468h6v6h-6zM336 480h6v6h-6zM330 486h6v6h-6zM690 486h6v6h-6zM306 522h6v6h-6zM294 540h6v6h-6zM660 546h6v6h-6zM288 552h6v6h-6zM282 564h6v6h-6zM648 570h6v6h-6zM648 576h6v6h-6zM258 588h6v6h-6zM630 600h6v6h-6zM246 606h6v6h-6zM234 618h6v6h-6zM648 624h6v6h-6zM204 630h6v6h-6zM612 642h6v6h-6zM204 648h6v6h-6zM594 648h6v6h-6zM576 654h6v6h-6zM558 660h6v6h-6zM192 666h6v6h-6zM522 672h6v6h-6zM186 678h6v6h-6zM504 684h6v6h-6zM180 690h6v6h-6zM498 690h6v6h-6zM168 702h6v6h-6zM162 708h6v6h-6zM522 708h6v6h-6zM156 714h6v6h-6zM534 714h6v6h-6zM558 726h6v6h-6zM204 744h6v6h-6zM498 744h6v6h-6zM222 798h6v6h-6z"/><path fill="#646464" d="M870 36h6v6h-6zM588 42h6v6h-6zM582 54h6v6h-6zM864 60h6v6h-6zM576 66h6v6h-6zM864 66h6v6h-6zM858 78h6v6h-6zM564 90h6v6h-6zM852 90h6v6h-6zM852 96h6v6h-6zM858 114h6v6h-6zM552 120h6v6h-6zM846 120h6v6h-6zM834 132h6v6h-6zM828 144h6v6h-6zM528 156h6v6h-6zM822 156h6v6h-6zM528 162h6v6h-6zM816 168h6v6h-6zM522 174h6v6h-6zM516 180h6v6h-6zM810 180h6v6h-6zM504 192h6v6h-6zM804 198h6v6h-6zM798 210h6v6h-6zM792 222h6v6h-6zM486 246h6v6h-6zM780 246h6v6h-6zM486 252h6v6h-6zM780 252h6v6h-6zM468 264h6v6h-6zM774 264h6v6h-6zM768 276h6v6h-6zM756 288h6v6h-6zM756 294h6v6h-6zM756 300h6v6h-6zM756 312h6v6h-6zM450 318h6v6h-6zM438 336h6v6h-6zM750 336h6v6h-6zM750 342h6v6h-6zM750 348h6v6h-6zM426 354h6v6h-6zM750 360h6v6h-6zM420 366h6v6h-6zM414 378h6v6h-6zM414 384h6v6h-6zM414 390h6v6h-6zM738 390h6v6h-6zM732 408h6v6h-6zM390 414h6v6h-6zM384 420h6v6h-6zM726 420h6v6h-6zM372 438h6v6h-6zM714 438h6v6h-6zM366 444h6v6h-6zM360 456h6v6h-6zM702 456h6v6h-6zM348 468h6v6h-6zM342 474h6v6h-6zM696 474h6v6h-6zM324 498h6v6h-6zM684 498h6v6h-6zM678 504h6v6h-6zM318 510h6v6h-6zM312 516h6v6h-6zM666 516h6v6h-6zM660 522h6v6h-6zM660 528h6v6h-6zM300 534h6v6h-6zM660 540h6v6h-6zM294 546h6v6h-6zM654 552h6v6h-6zM288 558h6v6h-6zM282 570h6v6h-6zM276 576h6v6h-6zM270 582h6v6h-6zM642 582h6v6h-6zM636 588h6v6h-6zM240 612h6v6h-6zM630 612h6v6h-6zM630 636h6v6h-6zM210 642h6v6h-6zM198 660h6v6h-6zM528 666h6v6h-6zM192 672h6v6h-6zM510 678h6v6h-6zM186 684h6v6h-6zM492 696h6v6h-6zM504 702h6v6h-6zM546 720h6v6h-6zM156 738h6v6h-6zM210 744h6v6h-6zM486 744h12v6h-12z"/><path fill="#656565" d="M588 48h6v6h-6zM864 48h6v6h-6zM864 54h6v6h-6zM582 60h6v6h-6zM858 72h6v6h-6zM570 78h6v6h-6zM852 84h6v6h-6zM564 96h6v6h-6zM558 102h6v6h-6zM846 102h6v6h-6zM552 108h6v6h-6zM852 108h6v6h-6zM552 114h6v6h-6zM834 126h6v6h-6zM546 138h6v6h-6zM828 138h6v6h-6zM534 144h6v6h-6zM528 150h6v6h-6zM822 150h6v6h-6zM816 162h6v6h-6zM528 168h6v6h-6zM810 174h6v6h-6zM510 186h6v6h-6zM804 186h6v6h-6zM804 192h6v6h-6zM510 198h6v6h-6zM510 204h6v6h-6zM798 204h6v6h-6zM504 210h6v6h-6zM792 216h6v6h-6zM498 222h6v6h-6zM780 228h6v6h-6zM492 234h6v6h-6zM774 240h6v6h-6zM774 258h6v6h-6zM474 276h6v6h-6zM762 282h6v6h-6zM456 300h6v6h-6zM756 306h6v6h-6zM750 318h6v6h-6zM444 330h6v6h-6zM438 342h6v6h-6zM432 348h6v6h-6zM426 360h6v6h-6zM750 366h6v6h-6zM750 372h6v6h-6zM744 378h6v6h-6zM408 396h6v6h-6zM402 402h6v6h-6zM732 402h6v6h-6zM396 408h6v6h-6zM384 426h6v6h-6zM720 426h6v6h-6zM378 432h6v6h-6zM708 444h6v6h-6zM366 450h6v6h-6zM696 468h6v6h-6zM690 480h6v6h-6zM336 486h6v6h-6zM330 492h6v6h-6zM684 492h6v6h-6zM324 504h6v6h-6zM672 510h6v6h-6zM312 522h6v6h-6zM306 528h6v6h-6zM660 534h6v6h-6zM300 540h6v6h-6zM648 558h6v6h-6zM642 564h6v6h-6zM642 570h6v6h-6zM642 576h6v6h-6zM264 588h6v6h-6zM258 594h6v6h-6zM630 594h6v6h-6zM252 600h6v6h-6zM624 606h6v6h-6zM636 618h6v6h-6zM228 624h6v6h-6zM648 630h6v6h-6zM210 636h6v6h-6zM588 648h6v6h-6zM204 654h6v6h-6zM570 654h6v6h-6zM552 660h6v6h-6zM516 672h6v6h-6zM492 690h6v6h-6zM180 696h6v6h-6zM516 708h6v6h-6zM558 732h6v6h-6zM216 744h6v6h-6zM480 744h6v6h-6zM222 810h6v6h-6z"/><path fill="#676767" d="M594 36h6v6h-6zM864 36h6v6h-6zM864 42h6v6h-6zM858 66h6v6h-6zM576 72h6v6h-6zM852 78h6v6h-6zM570 84h6v6h-6zM846 90h6v6h-6zM846 96h6v6h-6zM852 114h6v6h-6zM840 120h6v6h-6zM558 126h6v6h-6zM828 132h6v6h-6zM822 144h6v6h-6zM534 156h6v6h-6zM816 156h6v6h-6zM534 162h6v6h-6zM810 168h6v6h-6zM528 174h6v6h-6zM522 180h6v6h-6zM804 180h6v6h-6zM510 192h6v6h-6zM798 198h6v6h-6zM792 210h6v6h-6zM504 216h6v6h-6zM786 222h6v6h-6zM498 228h6v6h-6zM768 234h6v6h-6zM492 240h6v6h-6zM492 246h6v6h-6zM774 252h6v6h-6zM486 258h6v6h-6zM474 264h6v6h-6zM474 270h6v6h-6zM768 270h6v6h-6zM474 282h6v6h-6zM474 288h6v6h-6zM468 294h6v6h-6zM750 294h6v6h-6zM456 306h6v6h-6zM456 312h6v6h-6zM450 324h6v6h-6zM744 324h6v6h-6zM744 330h6v6h-6zM444 336h6v6h-6zM744 348h6v6h-6zM432 354h6v6h-6zM744 354h6v6h-6zM420 372h6v6h-6zM738 384h6v6h-6zM732 396h6v6h-6zM726 414h6v6h-6zM390 420h6v6h-6zM720 420h6v6h-6zM714 432h6v6h-6zM708 438h6v6h-6zM372 444h6v6h-6zM702 450h6v6h-6zM360 462h6v6h-6zM696 462h6v6h-6zM354 468h6v6h-6zM348 474h6v6h-6zM690 474h6v6h-6zM342 480h6v6h-6zM684 486h6v6h-6zM330 498h6v6h-6zM678 498h6v6h-6zM318 516h6v6h-6zM654 528h6v6h-6zM306 534h6v6h-6zM654 546h6v6h-6zM294 552h6v6h-6zM288 564h6v6h-6zM282 576h6v6h-6zM636 582h6v6h-6zM630 588h6v6h-6zM624 600h6v6h-6zM240 618h6v6h-6zM642 624h6v6h-6zM210 630h6v6h-6zM606 642h6v6h-6zM210 648h6v6h-6zM204 660h6v6h-6zM198 666h6v6h-6zM522 666h6v6h-6zM192 678h6v6h-6zM498 684h6v6h-6zM186 690h6v6h-6zM486 696h6v6h-6zM174 702h6v6h-6zM168 708h6v6h-6zM162 714h6v6h-6zM528 714h6v6h-6zM156 720h6v6h-6zM540 720h6v6h-6zM552 726h6v6h-6zM546 738h6v6h-6zM222 744h6v6h-6zM474 744h6v6h-6z"/><path fill="#686868" d="M594 42h6v6h-6zM858 48h6v6h-6zM588 54h6v6h-6zM858 54h6v6h-6zM858 60h6v6h-6zM582 66h6v6h-6zM576 78h6v6h-6zM846 84h6v6h-6zM570 90h6v6h-6zM564 102h6v6h-6zM840 102h6v6h-6zM558 108h6v6h-6zM846 108h6v6h-6zM558 114h6v6h-6zM558 120h6v6h-6zM828 126h6v6h-6zM822 138h6v6h-6zM810 162h6v6h-6zM534 168h6v6h-6zM804 174h6v6h-6zM516 186h6v6h-6zM798 186h6v6h-6zM798 192h6v6h-6zM516 198h6v6h-6zM792 204h6v6h-6zM510 210h6v6h-6zM504 222h6v6h-6zM774 228h6v6h-6zM498 234h6v6h-6zM768 240h6v6h-6zM774 246h6v6h-6zM492 252h6v6h-6zM768 264h6v6h-6zM762 276h6v6h-6zM756 282h6v6h-6zM750 288h6v6h-6zM750 300h6v6h-6zM750 306h6v6h-6zM750 312h6v6h-6zM456 318h6v6h-6zM450 330h6v6h-6zM744 336h6v6h-6zM744 342h6v6h-6zM438 348h6v6h-6zM432 360h6v6h-6zM744 360h6v6h-6zM426 366h6v6h-6zM420 378h6v6h-6zM732 390h6v6h-6zM402 408h6v6h-6zM726 408h6v6h-6zM396 414h6v6h-6zM714 426h6v6h-6zM384 432h6v6h-6zM378 438h6v6h-6zM702 444h6v6h-6zM366 456h6v6h-6zM696 456h6v6h-6zM684 480h6v6h-6zM336 492h6v6h-6zM678 492h6v6h-6zM330 504h6v6h-6zM672 504h6v6h-6zM324 510h6v6h-6zM666 510h6v6h-6zM660 516h6v6h-6zM654 522h6v6h-6zM312 528h6v6h-6zM654 534h6v6h-6zM654 540h6v6h-6zM300 546h6v6h-6zM648 552h6v6h-6zM294 558h6v6h-6zM642 558h6v6h-6zM636 564h6v6h-6zM288 570h6v6h-6zM636 570h6v6h-6zM636 576h6v6h-6zM276 582h6v6h-6zM624 594h6v6h-6zM258 600h6v6h-6zM252 606h6v6h-6zM618 606h6v6h-6zM246 612h6v6h-6zM624 612h6v6h-6zM630 618h6v6h-6zM234 624h6v6h-6zM642 630h6v6h-6zM216 636h6v6h-6zM624 636h6v6h-6zM216 642h6v6h-6zM582 648h6v6h-6zM210 654h6v6h-6zM546 660h6v6h-6zM198 672h6v6h-6zM510 672h6v6h-6zM504 678h6v6h-6zM192 684h6v6h-6zM486 690h6v6h-6zM186 696h6v6h-6zM498 702h6v6h-6zM228 744h6v6h-6zM462 744h12v6h-12z"/><path fill="#696969" d="M858 36h6v6h-6zM858 42h6v6h-6zM594 48h6v6h-6zM588 60h6v6h-6zM852 66h6v6h-6zM852 72h6v6h-6zM570 96h6v6h-6zM840 96h6v6h-6zM846 114h6v6h-6zM834 120h6v6h-6zM822 132h6v6h-6zM540 144h6v6h-6zM534 150h6v6h-6zM816 150h6v6h-6zM798 180h6v6h-6zM516 192h6v6h-6zM792 198h6v6h-6zM516 204h6v6h-6zM786 216h6v6h-6zM780 222h6v6h-6zM768 258h6v6h-6zM480 264h6v6h-6zM480 270h6v6h-6zM480 276h6v6h-6zM462 300h6v6h-6zM462 306h6v6h-6zM462 312h6v6h-6zM744 318h6v6h-6zM444 342h6v6h-6zM426 372h6v6h-6zM744 372h6v6h-6zM738 378h6v6h-6zM420 384h6v6h-6zM732 384h6v6h-6zM726 396h6v6h-6zM408 402h6v6h-6zM726 402h6v6h-6zM720 414h6v6h-6zM390 426h6v6h-6zM708 432h6v6h-6zM372 450h6v6h-6zM690 462h6v6h-6zM690 468h6v6h-6zM348 480h6v6h-6zM342 486h6v6h-6zM678 486h6v6h-6zM672 498h6v6h-6zM318 522h6v6h-6zM306 540h6v6h-6zM648 546h6v6h-6zM300 552h6v6h-6zM294 564h6v6h-6zM630 582h6v6h-6zM270 588h6v6h-6zM624 588h6v6h-6zM264 594h6v6h-6zM618 600h6v6h-6zM636 624h6v6h-6zM600 642h6v6h-6zM216 648h6v6h-6zM564 654h6v6h-6zM516 666h6v6h-6zM198 678h6v6h-6zM492 684h6v6h-6zM192 690h6v6h-6zM180 702h6v6h-6zM174 708h6v6h-6zM510 708h6v6h-6zM168 714h6v6h-6zM162 720h6v6h-6zM156 726h6v6h-6zM546 726h6v6h-6zM552 732h6v6h-6zM234 744h12v6h-12zM456 744h6v6h-6zM168 810h6v6h-6z"/><path fill="#6a6a6a" d="M600 36h6v6h-6zM852 48h6v6h-6zM852 54h6v6h-6zM852 60h6v6h-6zM582 72h6v6h-6zM846 78h6v6h-6zM576 84h6v6h-6zM840 90h6v6h-6zM834 102h6v6h-6zM840 108h6v6h-6zM558 132h6v6h-6zM552 138h6v6h-6zM816 144h6v6h-6zM540 156h6v6h-6zM810 156h6v6h-6zM804 168h6v6h-6zM798 174h6v6h-6zM528 180h6v6h-6zM522 186h6v6h-6zM792 192h6v6h-6zM786 210h6v6h-6zM510 216h6v6h-6zM504 228h6v6h-6zM762 234h6v6h-6zM498 240h6v6h-6zM768 246h6v6h-6zM768 252h6v6h-6zM762 270h6v6h-6zM474 294h6v6h-6zM744 294h6v6h-6zM456 324h6v6h-6zM738 324h6v6h-6zM738 330h6v6h-6zM738 348h6v6h-6zM438 354h6v6h-6zM738 354h6v6h-6zM744 366h6v6h-6zM726 390h6v6h-6zM414 396h6v6h-6zM396 420h6v6h-6zM714 420h6v6h-6zM702 438h6v6h-6zM696 450h6v6h-6zM354 474h6v6h-6zM684 474h6v6h-6zM666 504h6v6h-6zM660 510h6v6h-6zM654 516h6v6h-6zM648 528h6v6h-6zM312 534h6v6h-6zM648 534h6v6h-6zM648 540h6v6h-6zM642 552h6v6h-6zM636 558h6v6h-6zM630 564h6v6h-6zM630 570h6v6h-6zM288 576h6v6h-6zM630 576h6v6h-6zM624 582h6v6h-6zM618 594h6v6h-6zM612 606h6v6h-6zM618 612h6v6h-6zM216 630h6v6h-6zM636 630h6v6h-6zM618 636h6v6h-6zM576 648h6v6h-6zM540 660h6v6h-6zM204 666h6v6h-6zM504 672h6v6h-6zM498 678h6v6h-6zM480 696h6v6h-6zM492 702h6v6h-6zM522 714h6v6h-6zM534 720h6v6h-6zM162 738h6v6h-6zM246 744h6v6h-6zM444 744h12v6h-12z"/><path fill="#6c6c6c" d="M852 36h6v6h-6zM852 42h6v6h-6zM846 72h6v6h-6zM840 84h6v6h-6zM834 96h6v6h-6zM840 114h6v6h-6zM828 120h6v6h-6zM822 126h6v6h-6zM816 138h6v6h-6zM810 150h6v6h-6zM540 162h6v6h-6zM804 162h6v6h-6zM534 174h6v6h-6zM792 180h6v6h-6zM792 186h6v6h-6zM522 192h6v6h-6zM786 204h6v6h-6zM780 216h6v6h-6zM768 228h6v6h-6zM492 258h6v6h-6zM762 264h6v6h-6zM756 276h6v6h-6zM480 282h6v6h-6zM750 282h6v6h-6zM468 300h6v6h-6zM744 300h6v6h-6zM744 306h6v6h-6zM744 312h6v6h-6zM450 336h6v6h-6zM738 336h6v6h-6zM738 342h6v6h-6zM738 360h6v6h-6zM432 366h6v6h-6zM420 390h6v6h-6zM720 408h6v6h-6zM402 414h6v6h-6zM708 426h6v6h-6zM378 444h6v6h-6zM696 444h6v6h-6zM690 456h6v6h-6zM360 468h6v6h-6zM684 468h6v6h-6zM678 480h6v6h-6zM672 492h6v6h-6zM336 498h6v6h-6zM324 516h6v6h-6zM642 546h6v6h-6zM624 576h6v6h-6zM282 582h6v6h-6zM618 588h6v6h-6zM264 600h6v6h-6zM612 600h6v6h-6zM258 606h6v6h-6zM624 618h6v6h-6zM630 624h6v6h-6zM222 636h6v6h-6zM594 642h6v6h-6zM558 654h6v6h-6zM210 660h6v6h-6zM486 684h6v6h-6zM480 690h6v6h-6zM156 732h6v6h-6zM540 738h6v6h-6zM252 744h12v6h-12zM432 744h12v6h-12zM174 798h6v6h-6zM216 798h6v6h-6z"/><path fill="#6d6d6d" d="M600 42h6v6h-6zM846 48h6v6h-6zM594 54h6v6h-6zM846 54h6v6h-6zM846 60h6v6h-6zM588 66h6v6h-6zM846 66h6v6h-6zM840 78h6v6h-6zM576 90h6v6h-6zM834 90h6v6h-6zM828 102h6v6h-6zM564 108h6v6h-6zM834 108h6v6h-6zM816 132h6v6h-6zM546 144h6v6h-6zM810 144h6v6h-6zM540 150h6v6h-6zM804 156h6v6h-6zM798 168h6v6h-6zM786 192h6v6h-6zM522 198h6v6h-6zM786 198h6v6h-6zM516 210h6v6h-6zM780 210h6v6h-6zM774 222h6v6h-6zM762 240h6v6h-6zM762 252h6v6h-6zM762 258h6v6h-6zM486 264h6v6h-6zM756 270h6v6h-6zM744 288h6v6h-6zM462 318h6v6h-6zM738 318h6v6h-6zM444 348h6v6h-6zM426 378h6v6h-6zM732 378h6v6h-6zM726 384h6v6h-6zM720 396h6v6h-6zM720 402h6v6h-6zM714 414h6v6h-6zM702 432h6v6h-6zM384 438h6v6h-6zM690 450h6v6h-6zM366 462h6v6h-6zM684 462h6v6h-6zM678 474h6v6h-6zM672 486h6v6h-6zM342 492h6v6h-6zM666 498h6v6h-6zM660 504h6v6h-6zM330 510h6v6h-6zM648 522h6v6h-6zM318 528h6v6h-6zM642 540h6v6h-6zM306 546h6v6h-6zM636 552h6v6h-6zM300 558h6v6h-6zM630 558h6v6h-6zM294 570h6v6h-6zM624 570h6v6h-6zM618 582h6v6h-6zM276 588h6v6h-6zM270 594h6v6h-6zM612 594h6v6h-6zM606 606h6v6h-6zM252 612h6v6h-6zM612 612h6v6h-6zM246 618h6v6h-6zM612 636h6v6h-6zM222 642h6v6h-6zM570 648h6v6h-6zM534 660h6v6h-6zM510 666h6v6h-6zM204 672h6v6h-6zM492 678h6v6h-6zM198 684h6v6h-6zM192 696h6v6h-6zM504 708h6v6h-6zM540 726h6v6h-6zM546 732h6v6h-6zM264 744h12v6h-12zM420 744h12v6h-12z"/><path fill="#6e6e6e" d="M846 42h6v6h-6zM582 78h6v6h-6zM834 84h6v6h-6zM828 96h6v6h-6zM570 102h6v6h-6zM564 114h6v6h-6zM564 120h6v6h-6zM822 120h6v6h-6zM564 126h6v6h-6zM816 126h6v6h-6zM810 138h6v6h-6zM804 150h6v6h-6zM798 162h6v6h-6zM792 174h6v6h-6zM786 186h6v6h-6zM780 204h6v6h-6zM510 222h6v6h-6zM504 234h6v6h-6zM498 246h6v6h-6zM762 246h6v6h-6zM486 270h6v6h-6zM480 288h6v6h-6zM468 306h6v6h-6zM456 330h6v6h-6zM732 348h6v6h-6zM732 354h6v6h-6zM438 360h6v6h-6zM738 366h6v6h-6zM738 372h6v6h-6zM720 390h6v6h-6zM408 408h6v6h-6zM708 420h6v6h-6zM390 432h6v6h-6zM696 438h6v6h-6zM372 456h6v6h-6zM672 480h6v6h-6zM666 492h6v6h-6zM336 504h6v6h-6zM654 510h6v6h-6zM642 534h6v6h-6zM636 546h6v6h-6zM624 564h6v6h-6zM618 576h6v6h-6zM612 588h6v6h-6zM618 618h6v6h-6zM240 624h6v6h-6zM222 630h6v6h-6zM630 630h6v6h-6zM588 642h6v6h-6zM216 654h6v6h-6zM552 654h6v6h-6zM498 672h6v6h-6zM474 696h6v6h-6zM186 702h6v6h-6zM486 702h6v6h-6zM516 714h6v6h-6zM528 720h6v6h-6zM276 744h12v6h-12zM408 744h12v6h-12z"/><path fill="#6f6f6f" d="M846 36h6v6h-6zM594 60h6v6h-6zM840 72h6v6h-6zM828 108h6v6h-6zM834 114h6v6h-6zM540 168h6v6h-6zM786 180h6v6h-6zM528 186h6v6h-6zM522 204h6v6h-6zM774 216h6v6h-6zM756 234h6v6h-6zM498 252h6v6h-6zM756 264h6v6h-6zM486 276h6v6h-6zM750 276h6v6h-6zM468 312h6v6h-6zM738 312h6v6h-6zM732 330h6v6h-6zM732 336h6v6h-6zM450 342h6v6h-6zM732 342h6v6h-6zM732 360h6v6h-6zM426 384h6v6h-6zM396 426h6v6h-6zM684 456h6v6h-6zM678 468h6v6h-6zM348 486h6v6h-6zM648 516h6v6h-6zM324 522h6v6h-6zM642 528h6v6h-6zM312 540h6v6h-6zM612 582h6v6h-6zM606 600h6v6h-6zM624 624h6v6h-6zM528 660h6v6h-6zM504 666h6v6h-6zM198 690h6v6h-6zM180 708h6v6h-6zM174 714h6v6h-6zM162 726h6v6h-6zM288 744h24v6h-24zM384 744h24v6h-24z"/><path fill="#717171" d="M600 48h6v6h-6zM840 60h6v6h-6zM840 66h6v6h-6zM588 72h6v6h-6zM834 78h6v6h-6zM582 84h6v6h-6zM828 90h6v6h-6zM576 96h6v6h-6zM564 132h6v6h-6zM810 132h6v6h-6zM558 138h6v6h-6zM804 144h6v6h-6zM546 156h6v6h-6zM798 156h6v6h-6zM792 168h6v6h-6zM534 180h6v6h-6zM780 198h6v6h-6zM516 216h6v6h-6zM510 228h6v6h-6zM762 228h6v6h-6zM756 258h6v6h-6zM744 282h6v6h-6zM738 294h6v6h-6zM474 300h6v6h-6zM738 306h6v6h-6zM462 324h6v6h-6zM732 324h6v6h-6zM444 354h6v6h-6zM432 372h6v6h-6zM726 378h6v6h-6zM420 396h6v6h-6zM414 402h6v6h-6zM714 408h6v6h-6zM702 426h6v6h-6zM690 444h6v6h-6zM378 450h6v6h-6zM354 480h6v6h-6zM666 486h6v6h-6zM660 498h6v6h-6zM636 540h6v6h-6zM306 552h6v6h-6zM630 552h6v6h-6zM300 564h6v6h-6zM618 570h6v6h-6zM294 576h6v6h-6zM606 594h6v6h-6zM228 630h6v6h-6zM606 636h6v6h-6zM222 648h6v6h-6zM546 654h6v6h-6zM210 666h6v6h-6zM204 678h6v6h-6zM480 684h6v6h-6zM474 690h6v6h-6zM498 708h6v6h-6zM168 720h6v6h-6zM168 738h6v6h-6zM312 744h72v6h-72zM228 804h6v6h-6z"/><path fill="#727272" d="M606 36h6v6h-6zM840 48h6v6h-6zM840 54h6v6h-6zM822 102h6v6h-6zM828 114h6v6h-6zM816 120h6v6h-6zM810 126h6v6h-6zM546 150h6v6h-6zM540 174h6v6h-6zM786 174h6v6h-6zM528 192h6v6h-6zM780 192h6v6h-6zM774 210h6v6h-6zM768 222h6v6h-6zM504 240h6v6h-6zM756 240h6v6h-6zM750 270h6v6h-6zM486 282h6v6h-6zM738 288h6v6h-6zM480 294h6v6h-6zM738 300h6v6h-6zM456 336h6v6h-6zM732 366h6v6h-6zM732 372h6v6h-6zM720 384h6v6h-6zM714 402h6v6h-6zM402 420h6v6h-6zM384 444h6v6h-6zM678 462h6v6h-6zM360 474h6v6h-6zM672 474h6v6h-6zM342 498h6v6h-6zM654 504h6v6h-6zM648 510h6v6h-6zM330 516h6v6h-6zM642 522h6v6h-6zM318 534h6v6h-6zM624 558h6v6h-6zM618 564h6v6h-6zM612 576h6v6h-6zM288 582h6v6h-6zM264 606h6v6h-6zM600 606h6v6h-6zM606 612h6v6h-6zM624 630h6v6h-6zM228 636h6v6h-6zM564 648h6v6h-6zM486 678h6v6h-6zM540 732h6v6h-6zM534 738h6v6h-6z"/><path fill="#737373" d="M840 42h6v6h-6zM600 54h6v6h-6zM594 66h6v6h-6zM828 84h6v6h-6zM822 96h6v6h-6zM570 108h6v6h-6zM822 108h6v6h-6zM804 138h6v6h-6zM798 150h6v6h-6zM546 162h6v6h-6zM792 162h6v6h-6zM780 186h6v6h-6zM528 198h6v6h-6zM774 204h6v6h-6zM756 246h6v6h-6zM756 252h6v6h-6zM498 258h6v6h-6zM468 318h6v6h-6zM732 318h6v6h-6zM726 354h6v6h-6zM438 366h6v6h-6zM426 390h6v6h-6zM714 396h6v6h-6zM408 414h6v6h-6zM708 414h6v6h-6zM696 432h6v6h-6zM390 438h6v6h-6zM684 450h6v6h-6zM366 468h6v6h-6zM660 492h6v6h-6zM336 510h6v6h-6zM636 534h6v6h-6zM312 546h6v6h-6zM630 546h6v6h-6zM606 588h6v6h-6zM270 600h6v6h-6zM600 600h6v6h-6zM612 618h6v6h-6zM228 642h6v6h-6zM582 642h6v6h-6zM216 660h6v6h-6zM522 660h6v6h-6zM492 672h6v6h-6zM204 684h6v6h-6zM468 696h6v6h-6zM510 714h6v6h-6zM534 726h6v6h-6zM162 732h6v6h-6zM216 810h6v6h-6z"/><path fill="#757575" d="M840 36h6v6h-6zM606 42h6v6h-6zM834 72h6v6h-6zM588 78h6v6h-6zM582 90h6v6h-6zM822 90h6v6h-6zM576 102h6v6h-6zM570 114h6v6h-6zM822 114h6v6h-6zM570 126h6v6h-6zM804 132h6v6h-6zM552 144h6v6h-6zM780 180h6v6h-6zM522 210h6v6h-6zM768 216h6v6h-6zM516 222h6v6h-6zM510 234h6v6h-6zM750 234h6v6h-6zM504 246h6v6h-6zM492 264h6v6h-6zM750 264h6v6h-6zM486 288h6v6h-6zM474 306h6v6h-6zM726 342h6v6h-6zM450 348h6v6h-6zM726 348h6v6h-6zM726 360h6v6h-6zM432 378h6v6h-6zM714 390h6v6h-6zM414 408h6v6h-6zM702 420h6v6h-6zM690 438h6v6h-6zM372 462h6v6h-6zM672 468h6v6h-6zM666 480h6v6h-6zM348 492h6v6h-6zM642 516h6v6h-6zM324 528h6v6h-6zM636 528h6v6h-6zM624 552h6v6h-6zM306 558h6v6h-6zM300 570h6v6h-6zM612 570h6v6h-6zM606 582h6v6h-6zM282 588h6v6h-6zM276 594h6v6h-6zM258 612h6v6h-6zM618 624h6v6h-6zM222 654h6v6h-6zM498 666h6v6h-6zM210 672h6v6h-6zM198 696h6v6h-6zM480 702h6v6h-6zM522 720h6v6h-6zM174 738h6v6h-6zM528 738h6v6h-6zM180 798h6v6h-6zM210 798h6v6h-6zM162 804h6v6h-6z"/><path fill="#767676" d="M834 54h6v6h-6zM834 60h6v6h-6zM834 66h6v6h-6zM828 78h6v6h-6zM816 102h6v6h-6zM570 120h6v6h-6zM798 144h6v6h-6zM792 156h6v6h-6zM546 168h6v6h-6zM786 168h6v6h-6zM534 186h6v6h-6zM774 198h6v6h-6zM756 228h6v6h-6zM504 252h6v6h-6zM492 270h6v6h-6zM744 276h6v6h-6zM732 312h6v6h-6zM462 330h6v6h-6zM726 330h6v6h-6zM726 336h6v6h-6zM444 360h6v6h-6zM726 366h6v6h-6zM726 372h6v6h-6zM720 378h6v6h-6zM708 408h6v6h-6zM396 432h6v6h-6zM378 456h6v6h-6zM678 456h6v6h-6zM354 486h6v6h-6zM654 498h6v6h-6zM342 504h6v6h-6zM318 540h6v6h-6zM630 540h6v6h-6zM618 558h6v6h-6zM606 576h6v6h-6zM600 594h6v6h-6zM600 612h6v6h-6zM252 618h6v6h-6zM600 636h6v6h-6zM540 654h6v6h-6zM474 684h6v6h-6zM468 690h6v6h-6zM192 702h6v6h-6z"/><path fill="#777777" d="M834 42h6v6h-6zM606 48h6v6h-6zM834 48h6v6h-6zM600 60h6v6h-6zM594 72h6v6h-6zM822 84h6v6h-6zM582 96h6v6h-6zM816 96h6v6h-6zM816 108h6v6h-6zM810 120h6v6h-6zM804 126h6v6h-6zM570 132h6v6h-6zM798 138h6v6h-6zM780 174h6v6h-6zM540 180h6v6h-6zM774 192h6v6h-6zM528 204h6v6h-6zM768 210h6v6h-6zM522 216h6v6h-6zM762 222h6v6h-6zM750 240h6v6h-6zM750 258h6v6h-6zM492 276h6v6h-6zM738 282h6v6h-6zM732 294h6v6h-6zM480 300h6v6h-6zM732 300h6v6h-6zM732 306h6v6h-6zM474 312h6v6h-6zM726 324h6v6h-6zM456 342h6v6h-6zM438 372h6v6h-6zM432 384h6v6h-6zM714 384h6v6h-6zM420 402h6v6h-6zM708 402h6v6h-6zM402 426h6v6h-6zM696 426h6v6h-6zM684 444h6v6h-6zM384 450h6v6h-6zM360 480h6v6h-6zM660 486h6v6h-6zM648 504h6v6h-6zM642 510h6v6h-6zM330 522h6v6h-6zM636 522h6v6h-6zM624 546h6v6h-6zM306 564h6v6h-6zM612 564h6v6h-6zM600 588h6v6h-6zM594 606h6v6h-6zM606 618h6v6h-6zM246 624h6v6h-6zM618 630h6v6h-6zM558 648h6v6h-6zM210 678h6v6h-6zM480 678h6v6h-6zM204 690h6v6h-6zM186 708h6v6h-6zM492 708h6v6h-6zM180 714h6v6h-6zM168 726h6v6h-6zM180 738h6v6h-6zM522 738h6v6h-6z"/><path fill="#787878" d="M612 36h6v6h-6zM834 36h6v6h-6zM588 84h6v6h-6zM816 114h6v6h-6zM564 138h6v6h-6zM792 150h6v6h-6zM552 156h6v6h-6zM786 162h6v6h-6zM774 180h6v6h-6zM774 186h6v6h-6zM534 192h6v6h-6zM516 228h6v6h-6zM510 240h6v6h-6zM750 246h6v6h-6zM750 252h6v6h-6zM744 270h6v6h-6zM732 288h6v6h-6zM486 294h6v6h-6zM468 324h6v6h-6zM450 354h6v6h-6zM426 396h6v6h-6zM708 396h6v6h-6zM702 414h6v6h-6zM408 420h6v6h-6zM672 462h6v6h-6zM366 474h6v6h-6zM666 474h6v6h-6zM336 516h6v6h-6zM324 534h6v6h-6zM630 534h6v6h-6zM312 552h6v6h-6zM300 576h6v6h-6zM600 582h6v6h-6zM594 600h6v6h-6zM234 630h6v6h-6zM576 642h6v6h-6zM228 648h6v6h-6zM516 660h6v6h-6zM216 666h6v6h-6zM486 672h6v6h-6zM462 696h6v6h-6zM504 714h6v6h-6zM174 720h6v6h-6zM534 732h6v6h-6zM174 810h6v6h-6z"/><path fill="#7a7a7a" d="M606 54h6v6h-6zM828 72h6v6h-6zM816 90h6v6h-6zM576 108h6v6h-6zM576 126h6v6h-6zM798 132h6v6h-6zM792 144h6v6h-6zM552 150h6v6h-6zM552 162h6v6h-6zM546 174h6v6h-6zM534 198h6v6h-6zM768 204h6v6h-6zM762 216h6v6h-6zM744 234h6v6h-6zM504 258h6v6h-6zM492 282h6v6h-6zM726 318h6v6h-6zM462 336h6v6h-6zM720 348h6v6h-6zM720 354h6v6h-6zM444 366h6v6h-6zM432 390h6v6h-6zM414 414h6v6h-6zM690 432h6v6h-6zM390 444h6v6h-6zM678 450h6v6h-6zM372 468h6v6h-6zM660 480h6v6h-6zM654 492h6v6h-6zM348 498h6v6h-6zM636 516h6v6h-6zM624 540h6v6h-6zM618 552h6v6h-6zM606 570h6v6h-6zM600 576h6v6h-6zM294 582h6v6h-6zM270 606h6v6h-6zM612 624h6v6h-6zM234 636h6v6h-6zM222 660h6v6h-6zM492 666h6v6h-6zM210 684h6v6h-6zM474 702h6v6h-6zM528 726h6v6h-6zM168 732h6v6h-6zM186 738h6v6h-6zM516 738h6v6h-6z"/><path fill="#7b7b7b" d="M612 42h6v6h-6zM828 48h6v6h-6zM828 54h6v6h-6zM828 60h6v6h-6zM600 66h6v6h-6zM828 66h6v6h-6zM594 78h6v6h-6zM822 78h6v6h-6zM588 90h6v6h-6zM582 102h6v6h-6zM810 102h6v6h-6zM804 120h6v6h-6zM576 132h6v6h-6zM558 144h6v6h-6zM786 156h6v6h-6zM780 168h6v6h-6zM768 198h6v6h-6zM528 210h6v6h-6zM522 222h6v6h-6zM750 228h6v6h-6zM510 246h6v6h-6zM498 264h6v6h-6zM744 264h6v6h-6zM738 276h6v6h-6zM480 306h6v6h-6zM474 318h6v6h-6zM720 342h6v6h-6zM456 348h6v6h-6zM720 360h6v6h-6zM720 372h6v6h-6zM708 390h6v6h-6zM696 420h6v6h-6zM396 438h6v6h-6zM684 438h6v6h-6zM672 456h6v6h-6zM378 462h6v6h-6zM666 468h6v6h-6zM354 492h6v6h-6zM648 498h6v6h-6zM342 510h6v6h-6zM330 528h6v6h-6zM630 528h6v6h-6zM318 546h6v6h-6zM312 558h6v6h-6zM612 558h6v6h-6zM306 570h6v6h-6zM288 588h6v6h-6zM594 594h6v6h-6zM276 600h6v6h-6zM588 606h6v6h-6zM594 612h6v6h-6zM594 636h6v6h-6zM234 642h6v6h-6zM552 648h6v6h-6zM534 654h6v6h-6zM216 672h6v6h-6zM468 684h6v6h-6zM204 696h6v6h-6zM516 720h6v6h-6zM510 738h6v6h-6zM186 798h6v6h-6zM204 798h6v6h-6z"/><path fill="#7c7c7c" d="M828 42h6v6h-6zM816 84h6v6h-6zM810 96h6v6h-6zM810 108h6v6h-6zM576 114h6v6h-6zM576 120h6v6h-6zM582 126h6v6h-6zM798 126h6v6h-6zM582 132h6v6h-6zM792 138h6v6h-6zM786 150h6v6h-6zM552 168h6v6h-6zM774 174h6v6h-6zM768 192h6v6h-6zM762 210h6v6h-6zM756 222h6v6h-6zM516 234h6v6h-6zM744 240h6v6h-6zM744 258h6v6h-6zM498 270h6v6h-6zM492 288h6v6h-6zM726 294h6v6h-6zM726 312h6v6h-6zM468 330h6v6h-6zM720 330h6v6h-6zM720 336h6v6h-6zM450 360h6v6h-6zM720 366h6v6h-6zM438 378h6v6h-6zM714 378h6v6h-6zM420 408h6v6h-6zM702 408h6v6h-6zM402 432h6v6h-6zM384 456h6v6h-6zM654 486h6v6h-6zM348 504h6v6h-6zM642 504h6v6h-6zM636 510h6v6h-6zM624 534h6v6h-6zM618 546h6v6h-6zM606 564h6v6h-6zM594 582h6v6h-6zM594 588h6v6h-6zM282 594h6v6h-6zM264 612h6v6h-6zM600 618h6v6h-6zM612 630h6v6h-6zM228 654h6v6h-6zM474 678h6v6h-6zM462 690h6v6h-6zM198 702h6v6h-6zM192 738h6v6h-6z"/><path fill="#7e7e7e" d="M828 36h6v6h-6zM612 48h6v6h-6zM606 60h6v6h-6zM588 96h6v6h-6zM810 114h6v6h-6zM570 138h6v6h-6zM780 162h6v6h-6zM546 180h6v6h-6zM768 180h6v6h-6zM540 186h6v6h-6zM768 186h6v6h-6zM534 204h6v6h-6zM738 234h6v6h-6zM510 252h6v6h-6zM498 276h6v6h-6zM732 282h6v6h-6zM726 288h6v6h-6zM486 300h6v6h-6zM726 300h6v6h-6zM726 306h6v6h-6zM480 312h6v6h-6zM720 324h6v6h-6zM462 342h6v6h-6zM708 384h6v6h-6zM702 402h6v6h-6zM408 426h6v6h-6zM690 426h6v6h-6zM678 444h6v6h-6zM666 462h6v6h-6zM660 474h6v6h-6zM360 486h6v6h-6zM336 522h6v6h-6zM630 522h6v6h-6zM324 540h6v6h-6zM600 570h6v6h-6zM588 600h6v6h-6zM258 618h6v6h-6zM606 624h6v6h-6zM570 642h6v6h-6zM510 660h6v6h-6zM480 672h6v6h-6zM216 678h6v6h-6zM210 690h6v6h-6zM192 708h6v6h-6zM486 708h6v6h-6zM504 738h6v6h-6z"/><path fill="#7f7f7f" d="M618 36h6v6h-6zM618 42h6v6h-6zM816 48h12v6h-12zM612 54h6v6h-6zM822 54h6v6h-6zM600 72h6v6h-6zM822 72h6v6h-6zM594 84h6v6h-6zM594 90h6v6h-6zM810 90h6v6h-6zM594 96h6v6h-6zM588 102h6v6h-6zM582 120h6v6h-6zM588 126h6v6h-6zM588 132h6v6h-6zM792 132h6v6h-6zM786 144h6v6h-6zM558 156h6v6h-6zM780 156h6v6h-6zM540 198h6v6h-6zM762 204h6v6h-6zM528 216h6v6h-6zM522 228h6v6h-6zM516 240h6v6h-6zM744 246h6v6h-6zM744 252h6v6h-6zM510 258h6v6h-6zM738 270h6v6h-6zM498 282h6v6h-6zM492 294h6v6h-6zM474 324h6v6h-6zM456 354h6v6h-6zM444 372h6v6h-6zM438 384h6v6h-6zM432 396h6v6h-6zM702 396h6v6h-6zM426 402h6v6h-6zM696 414h6v6h-6zM684 432h6v6h-6zM390 450h6v6h-6zM366 480h6v6h-6zM648 492h6v6h-6zM630 516h6v6h-6zM618 540h6v6h-6zM318 552h6v6h-6zM612 552h6v6h-6zM312 564h6v6h-6zM306 576h6v6h-6zM594 576h6v6h-6zM588 594h6v6h-6zM252 624h6v6h-6zM234 648h6v6h-6zM222 666h6v6h-6zM486 666h6v6h-6zM456 696h6v6h-6zM186 714h6v6h-6zM498 714h6v6h-6zM180 720h6v6h-6zM174 726h6v6h-6zM528 732h6v6h-6zM198 738h6v6h-6zM498 738h6v6h-6zM192 798h12v6h-12z"/><path fill="#808080" d="M624 36h12v6h-12zM816 36h12v6h-12zM624 42h12v6h-12zM816 42h12v6h-12zM618 48h12v6h-12zM798 48h18v6h-18zM618 54h6v6h-6zM810 54h12v6h-12zM612 60h6v6h-6zM822 60h6v6h-6zM606 66h6v6h-6zM606 72h6v6h-6zM600 78h6v6h-6zM816 78h6v6h-6zM600 84h6v6h-6zM600 90h6v6h-6zM600 96h12v6h-12zM804 96h6v6h-6zM594 102h6v6h-6zM804 102h6v6h-6zM582 108h6v6h-6zM582 114h6v6h-6zM588 120h6v6h-6zM798 120h6v6h-6zM594 126h6v6h-6zM792 126h6v6h-6zM576 138h6v6h-6zM558 162h6v6h-6zM774 168h6v6h-6zM552 174h6v6h-6zM540 192h6v6h-6zM762 198h6v6h-6zM540 204h6v6h-6zM534 210h6v6h-6zM756 216h6v6h-6zM528 222h6v6h-6zM744 228h6v6h-6zM522 234h6v6h-6zM516 246h6v6h-6zM516 252h6v6h-6zM738 264h6v6h-6zM498 288h6v6h-6zM480 318h6v6h-6zM720 318h6v6h-6zM468 336h6v6h-6zM714 348h6v6h-6zM714 354h6v6h-6zM450 366h6v6h-6zM438 390h6v6h-6zM702 390h6v6h-6zM414 420h6v6h-6zM396 444h6v6h-6zM672 450h6v6h-6zM378 468h6v6h-6zM372 474h6v6h-6zM654 480h6v6h-6zM354 498h6v6h-6zM342 516h6v6h-6zM624 528h6v6h-6zM330 534h6v6h-6zM606 558h6v6h-6zM300 582h6v6h-6zM588 588h6v6h-6zM582 606h6v6h-6zM588 612h6v6h-6zM240 630h6v6h-6zM588 636h6v6h-6zM546 648h6v6h-6zM528 654h6v6h-6zM228 660h6v6h-6zM216 684h6v6h-6zM456 690h6v6h-6zM468 702h6v6h-6zM522 726h6v6h-6zM174 732h6v6h-6zM204 738h6v6h-6zM210 810h6v6h-6z"/><path fill="#818181" d="M636 36h18v6h-18zM798 36h18v6h-18zM636 42h12v6h-12zM798 42h18v6h-18zM630 48h12v6h-12zM732 48h66v6h-66zM624 54h12v6h-12zM750 54h60v6h-60zM618 60h12v6h-12zM612 66h12v6h-12zM822 66h6v6h-6zM612 72h6v6h-6zM606 78h6v6h-6zM606 84h6v6h-6zM810 84h6v6h-6zM606 90h6v6h-6zM804 90h6v6h-6zM612 96h6v6h-6zM600 102h6v6h-6zM588 108h6v6h-6zM804 108h6v6h-6zM588 114h6v6h-6zM804 114h6v6h-6zM594 132h6v6h-6zM582 138h6v6h-6zM786 138h6v6h-6zM558 150h6v6h-6zM780 150h6v6h-6zM558 168h6v6h-6zM558 174h6v6h-6zM768 174h6v6h-6zM546 198h6v6h-6zM756 210h6v6h-6zM534 216h6v6h-6zM750 222h6v6h-6zM528 228h6v6h-6zM522 240h6v6h-6zM738 240h6v6h-6zM522 252h6v6h-6zM516 258h6v6h-6zM504 270h6v6h-6zM504 276h6v6h-6zM732 276h6v6h-6zM498 294h6v6h-6zM720 294h6v6h-6zM486 306h6v6h-6zM486 312h6v6h-6zM720 312h6v6h-6zM474 330h6v6h-6zM714 342h6v6h-6zM462 348h6v6h-6zM456 360h6v6h-6zM714 360h6v6h-6zM714 372h6v6h-6zM444 378h6v6h-6zM420 414h6v6h-6zM690 420h6v6h-6zM402 438h6v6h-6zM678 438h6v6h-6zM666 456h6v6h-6zM384 462h6v6h-6zM660 468h6v6h-6zM360 492h6v6h-6zM642 498h6v6h-6zM636 504h6v6h-6zM348 510h6v6h-6zM630 510h6v6h-6zM336 528h6v6h-6zM618 534h6v6h-6zM324 546h6v6h-6zM612 546h6v6h-6zM600 564h6v6h-6zM312 570h6v6h-6zM588 582h6v6h-6zM282 600h6v6h-6zM582 600h6v6h-6zM276 606h6v6h-6zM594 618h6v6h-6zM606 630h6v6h-6zM240 636h6v6h-6zM234 654h6v6h-6zM222 672h6v6h-6zM462 684h6v6h-6zM210 696h6v6h-6zM510 720h6v6h-6zM492 738h6v6h-6z"/><path fill="#838383" d="M654 36h18v6h-18zM780 36h18v6h-18zM648 42h18v6h-18zM780 42h18v6h-18zM642 48h18v6h-18zM714 48h18v6h-18zM636 54h12v6h-12zM726 54h24v6h-24zM630 60h6v6h-6zM816 60h6v6h-6zM624 66h6v6h-6zM618 72h6v6h-6zM612 78h6v6h-6zM612 84h6v6h-6zM804 84h6v6h-6zM612 90h6v6h-6zM618 96h6v6h-6zM798 96h6v6h-6zM606 102h12v6h-12zM798 102h6v6h-6zM594 108h6v6h-6zM594 120h6v6h-6zM600 126h6v6h-6zM786 132h6v6h-6zM564 144h6v6h-6zM564 156h6v6h-6zM564 162h6v6h-6zM774 162h6v6h-6zM564 168h6v6h-6zM552 180h6v6h-6zM546 186h6v6h-6zM546 192h6v6h-6zM762 192h6v6h-6zM546 204h6v6h-6zM540 210h6v6h-6zM534 222h6v6h-6zM528 234h6v6h-6zM732 234h6v6h-6zM522 246h6v6h-6zM738 258h6v6h-6zM504 264h6v6h-6zM504 282h6v6h-6zM726 282h6v6h-6zM504 288h6v6h-6zM720 288h6v6h-6zM492 300h6v6h-6zM720 300h6v6h-6zM720 306h6v6h-6zM480 324h6v6h-6zM714 324h6v6h-6zM714 330h6v6h-6zM714 336h6v6h-6zM468 342h6v6h-6zM462 354h6v6h-6zM714 366h6v6h-6zM708 378h6v6h-6zM444 384h6v6h-6zM702 384h6v6h-6zM426 408h6v6h-6zM696 408h6v6h-6zM414 426h6v6h-6zM408 432h6v6h-6zM390 456h6v6h-6zM366 486h6v6h-6zM648 486h6v6h-6zM354 504h6v6h-6zM342 522h6v6h-6zM624 522h6v6h-6zM606 552h6v6h-6zM318 558h6v6h-6zM594 570h6v6h-6zM588 576h6v6h-6zM294 588h6v6h-6zM288 594h6v6h-6zM600 624h6v6h-6zM240 642h6v6h-6zM564 642h6v6h-6zM504 660h6v6h-6zM228 666h6v6h-6zM474 672h6v6h-6zM222 678h6v6h-6zM468 678h6v6h-6zM216 690h6v6h-6zM450 696h6v6h-6zM480 708h6v6h-6zM522 732h6v6h-6zM210 738h6v6h-6zM486 738h6v6h-6zM222 804h6v6h-6z"/><path fill="#848484" d="M672 36h18v6h-18zM744 36h36v6h-36zM666 42h12v6h-12zM744 42h36v6h-36zM660 48h18v6h-18zM702 48h12v6h-12zM648 54h12v6h-12zM714 54h12v6h-12zM636 60h12v6h-12zM810 60h6v6h-6zM630 66h6v6h-6zM624 72h6v6h-6zM816 72h6v6h-6zM618 78h6v6h-6zM810 78h6v6h-6zM618 84h6v6h-6zM618 90h6v6h-6zM798 90h6v6h-6zM624 96h6v6h-6zM618 102h6v6h-6zM600 108h6v6h-6zM798 108h6v6h-6zM594 114h6v6h-6zM600 120h6v6h-6zM792 120h6v6h-6zM786 126h6v6h-6zM600 132h6v6h-6zM588 138h6v6h-6zM780 144h6v6h-6zM570 162h6v6h-6zM564 174h6v6h-6zM558 180h6v6h-6zM762 180h6v6h-6zM762 186h6v6h-6zM552 198h6v6h-6zM756 204h6v6h-6zM540 216h6v6h-6zM534 228h6v6h-6zM738 228h6v6h-6zM528 240h6v6h-6zM528 246h6v6h-6zM738 246h6v6h-6zM528 252h6v6h-6zM738 252h6v6h-6zM522 258h6v6h-6zM510 270h6v6h-6zM732 270h6v6h-6zM510 276h6v6h-6zM504 294h6v6h-6zM498 300h6v6h-6zM492 306h6v6h-6zM492 312h6v6h-6zM486 318h6v6h-6zM480 330h6v6h-6zM474 336h6v6h-6zM468 348h6v6h-6zM462 360h6v6h-6zM456 366h6v6h-6zM450 372h6v6h-6zM438 396h6v6h-6zM696 396h6v6h-6zM432 402h6v6h-6zM696 402h6v6h-6zM420 420h6v6h-6zM684 426h6v6h-6zM672 444h6v6h-6zM396 450h6v6h-6zM660 462h6v6h-6zM654 474h6v6h-6zM372 480h6v6h-6zM348 516h6v6h-6zM624 516h6v6h-6zM330 540h6v6h-6zM612 540h6v6h-6zM318 564h6v6h-6zM582 594h6v6h-6zM576 606h6v6h-6zM270 612h6v6h-6zM582 612h6v6h-6zM582 636h6v6h-6zM240 648h6v6h-6zM522 654h6v6h-6zM234 660h6v6h-6zM222 684h6v6h-6zM204 702h6v6h-6zM462 702h6v6h-6zM198 708h6v6h-6zM192 714h6v6h-6zM492 714h6v6h-6zM186 720h6v6h-6zM180 726h6v6h-6zM516 726h6v6h-6zM180 732h6v6h-6zM216 738h6v6h-6z"/><path fill="#858585" d="M690 36h54v6h-54zM678 42h66v6h-66zM678 48h24v6h-24zM660 54h18v6h-18zM702 54h12v6h-12zM648 60h6v6h-6zM804 60h6v6h-6zM636 66h12v6h-12zM816 66h6v6h-6zM630 72h6v6h-6zM624 78h6v6h-6zM624 84h6v6h-6zM798 84h6v6h-6zM624 90h6v6h-6zM630 96h12v6h-12zM792 96h6v6h-6zM624 102h6v6h-6zM792 102h6v6h-6zM606 108h6v6h-6zM600 114h6v6h-6zM798 114h6v6h-6zM606 126h6v6h-6zM780 138h6v6h-6zM570 156h6v6h-6zM774 156h6v6h-6zM570 168h6v6h-6zM768 168h6v6h-6zM552 186h6v6h-6zM552 192h6v6h-6zM558 198h6v6h-6zM552 204h6v6h-6zM546 210h6v6h-6zM750 216h6v6h-6zM540 222h6v6h-6zM534 234h6v6h-6zM732 240h6v6h-6zM510 264h6v6h-6zM732 264h6v6h-6zM510 282h6v6h-6zM510 288h6v6h-6zM714 318h6v6h-6zM486 324h6v6h-6zM474 342h6v6h-6zM468 354h6v6h-6zM708 354h6v6h-6zM444 390h6v6h-6zM696 390h6v6h-6zM426 414h6v6h-6zM690 414h6v6h-6zM678 432h6v6h-6zM408 438h6v6h-6zM402 444h6v6h-6zM666 450h6v6h-6zM384 468h6v6h-6zM378 474h6v6h-6zM642 492h6v6h-6zM360 498h6v6h-6zM354 510h6v6h-6zM618 528h6v6h-6zM336 534h6v6h-6zM606 546h6v6h-6zM324 552h6v6h-6zM600 558h6v6h-6zM594 564h6v6h-6zM312 576h6v6h-6zM582 582h6v6h-6zM582 588h6v6h-6zM264 618h6v6h-6zM588 618h6v6h-6zM600 630h6v6h-6zM540 648h6v6h-6zM480 666h6v6h-6zM228 672h6v6h-6zM456 684h6v6h-6zM450 690h6v6h-6zM216 696h6v6h-6zM504 720h6v6h-6zM480 738h6v6h-6zM180 810h6v6h-6z"/><path fill="#878787" d="M678 54h24v6h-24zM654 60h12v6h-12zM792 60h12v6h-12zM648 66h6v6h-6zM810 66h6v6h-6zM636 72h12v6h-12zM810 72h6v6h-6zM630 78h6v6h-6zM804 78h6v6h-6zM630 84h6v6h-6zM792 84h6v6h-6zM630 90h6v6h-6zM792 90h6v6h-6zM642 96h6v6h-6zM630 102h12v6h-12zM612 108h6v6h-6zM606 114h6v6h-6zM606 120h6v6h-6zM606 132h6v6h-6zM780 132h6v6h-6zM594 138h6v6h-6zM570 144h6v6h-6zM564 150h6v6h-6zM774 150h6v6h-6zM576 162h6v6h-6zM570 174h6v6h-6zM564 180h6v6h-6zM756 198h6v6h-6zM546 216h6v6h-6zM744 222h6v6h-6zM540 228h6v6h-6zM726 234h6v6h-6zM534 240h6v6h-6zM534 246h6v6h-6zM534 252h6v6h-6zM528 258h6v6h-6zM516 270h6v6h-6zM516 276h6v6h-6zM726 276h6v6h-6zM720 282h6v6h-6zM714 294h6v6h-6zM504 300h6v6h-6zM498 306h6v6h-6zM714 312h6v6h-6zM492 318h6v6h-6zM480 336h6v6h-6zM708 342h6v6h-6zM708 348h6v6h-6zM468 360h6v6h-6zM708 360h6v6h-6zM450 378h6v6h-6zM432 408h6v6h-6zM414 432h6v6h-6zM396 456h6v6h-6zM390 462h6v6h-6zM654 468h6v6h-6zM648 480h6v6h-6zM366 492h6v6h-6zM630 504h6v6h-6zM624 510h6v6h-6zM342 528h6v6h-6zM612 534h6v6h-6zM330 546h6v6h-6zM318 570h6v6h-6zM588 570h6v6h-6zM582 576h6v6h-6zM306 582h6v6h-6zM576 600h6v6h-6zM258 624h6v6h-6zM594 624h6v6h-6zM558 642h6v6h-6zM240 654h6v6h-6zM234 666h6v6h-6zM228 678h6v6h-6zM222 690h6v6h-6zM474 708h6v6h-6zM516 732h6v6h-6zM222 738h6v6h-6zM474 738h6v6h-6z"/><path fill="#888888" d="M666 60h12v6h-12zM774 60h18v6h-18zM654 66h12v6h-12zM648 72h6v6h-6zM636 78h12v6h-12zM798 78h6v6h-6zM636 84h6v6h-6zM636 90h6v6h-6zM786 90h6v6h-6zM648 96h6v6h-6zM786 96h6v6h-6zM642 102h6v6h-6zM786 102h6v6h-6zM618 108h6v6h-6zM792 108h6v6h-6zM612 114h6v6h-6zM612 120h6v6h-6zM786 120h6v6h-6zM612 126h6v6h-6zM780 126h6v6h-6zM576 144h6v6h-6zM774 144h6v6h-6zM576 156h6v6h-6zM768 162h6v6h-6zM576 168h6v6h-6zM576 174h6v6h-6zM762 174h6v6h-6zM558 186h6v6h-6zM558 192h6v6h-6zM756 192h6v6h-6zM564 198h6v6h-6zM558 204h6v6h-6zM552 210h6v6h-6zM750 210h6v6h-6zM552 216h6v6h-6zM546 222h6v6h-6zM540 234h6v6h-6zM732 246h6v6h-6zM732 252h6v6h-6zM732 258h6v6h-6zM516 264h6v6h-6zM516 282h6v6h-6zM516 288h6v6h-6zM714 288h6v6h-6zM510 294h6v6h-6zM714 300h6v6h-6zM504 306h6v6h-6zM714 306h6v6h-6zM498 312h6v6h-6zM492 324h6v6h-6zM708 324h6v6h-6zM486 330h6v6h-6zM708 330h6v6h-6zM708 336h6v6h-6zM474 348h6v6h-6zM474 354h6v6h-6zM462 366h6v6h-6zM456 372h6v6h-6zM708 372h6v6h-6zM702 378h6v6h-6zM450 384h6v6h-6zM438 402h6v6h-6zM684 420h6v6h-6zM420 426h6v6h-6zM672 438h6v6h-6zM402 450h6v6h-6zM660 456h6v6h-6zM372 486h6v6h-6zM636 498h6v6h-6zM360 504h6v6h-6zM348 522h6v6h-6zM606 540h6v6h-6zM600 552h6v6h-6zM324 558h6v6h-6zM576 594h6v6h-6zM288 600h6v6h-6zM282 606h6v6h-6zM576 612h6v6h-6zM246 630h6v6h-6zM246 636h6v6h-6zM576 636h6v6h-6zM246 642h6v6h-6zM240 660h6v6h-6zM498 660h6v6h-6zM234 672h6v6h-6zM462 678h6v6h-6zM228 684h6v6h-6zM444 696h6v6h-6zM210 702h6v6h-6zM204 708h6v6h-6zM198 714h6v6h-6zM186 726h6v6h-6zM510 726h6v6h-6zM186 732h6v6h-6zM228 738h6v6h-6zM468 738h6v6h-6zM168 804h6v6h-6z"/><path fill="#898989" d="M678 60h18v6h-18zM708 60h66v6h-66zM666 66h6v6h-6zM804 66h6v6h-6zM654 72h6v6h-6zM804 72h6v6h-6zM648 78h6v6h-6zM792 78h6v6h-6zM642 84h6v6h-6zM786 84h6v6h-6zM642 90h6v6h-6zM780 90h6v6h-6zM654 96h6v6h-6zM780 96h6v6h-6zM648 102h6v6h-6zM624 108h6v6h-6zM792 114h6v6h-6zM612 132h6v6h-6zM600 138h6v6h-6zM774 138h6v6h-6zM570 150h6v6h-6zM582 156h6v6h-6zM582 162h6v6h-6zM570 180h6v6h-6zM756 180h6v6h-6zM756 186h6v6h-6zM570 198h6v6h-6zM564 204h6v6h-6zM750 204h6v6h-6zM558 210h6v6h-6zM552 222h6v6h-6zM546 228h6v6h-6zM732 228h6v6h-6zM546 234h6v6h-6zM540 240h6v6h-6zM726 240h6v6h-6zM540 246h6v6h-6zM540 252h6v6h-6zM534 258h6v6h-6zM522 264h6v6h-6zM522 270h6v6h-6zM726 270h6v6h-6zM522 276h6v6h-6zM510 300h6v6h-6zM498 318h6v6h-6zM486 336h6v6h-6zM480 342h6v6h-6zM708 366h6v6h-6zM696 384h6v6h-6zM450 390h6v6h-6zM444 396h6v6h-6zM690 396h6v6h-6zM690 402h6v6h-6zM690 408h6v6h-6zM426 420h6v6h-6zM678 426h6v6h-6zM408 444h6v6h-6zM666 444h6v6h-6zM654 462h6v6h-6zM378 480h6v6h-6zM642 486h6v6h-6zM354 516h6v6h-6zM618 516h6v6h-6zM618 522h6v6h-6zM342 534h6v6h-6zM336 540h6v6h-6zM324 564h6v6h-6zM318 576h6v6h-6zM576 582h6v6h-6zM300 588h6v6h-6zM576 588h6v6h-6zM294 594h6v6h-6zM570 606h6v6h-6zM582 618h6v6h-6zM594 630h6v6h-6zM246 648h6v6h-6zM516 654h6v6h-6zM468 672h6v6h-6zM234 678h6v6h-6zM228 690h6v6h-6zM444 690h6v6h-6zM222 696h6v6h-6zM456 702h6v6h-6zM486 714h6v6h-6zM192 720h6v6h-6zM498 720h6v6h-6zM510 732h6v6h-6z"/><path fill="#8a8a8a" d="M696 60h12v6h-12zM672 66h12v6h-12zM798 66h6v6h-6zM660 72h12v6h-12zM798 72h6v6h-6zM654 78h6v6h-6zM786 78h6v6h-6zM648 84h6v6h-6zM780 84h6v6h-6zM648 90h6v6h-6zM660 96h6v6h-6zM654 102h6v6h-6zM780 102h6v6h-6zM630 108h6v6h-6zM786 108h6v6h-6zM618 114h6v6h-6zM618 120h6v6h-6zM780 120h6v6h-6zM618 126h6v6h-6zM774 132h6v6h-6zM606 138h6v6h-6zM582 144h6v6h-6zM768 156h6v6h-6zM582 168h6v6h-6zM582 174h6v6h-6zM576 180h6v6h-6zM564 186h6v6h-6zM564 192h6v6h-6zM558 216h6v6h-6zM744 216h6v6h-6zM552 228h6v6h-6zM720 234h6v6h-6zM546 240h6v6h-6zM726 264h6v6h-6zM720 276h6v6h-6zM522 282h6v6h-6zM522 288h6v6h-6zM516 294h6v6h-6zM708 294h6v6h-6zM510 306h6v6h-6zM504 312h6v6h-6zM708 318h6v6h-6zM492 330h6v6h-6zM480 348h6v6h-6zM480 354h6v6h-6zM702 354h6v6h-6zM474 360h6v6h-6zM468 366h6v6h-6zM462 372h6v6h-6zM456 378h6v6h-6zM690 390h6v6h-6zM432 414h6v6h-6zM414 438h6v6h-6zM396 462h6v6h-6zM390 468h6v6h-6zM384 474h6v6h-6zM648 474h6v6h-6zM366 498h6v6h-6zM360 510h6v6h-6zM348 528h6v6h-6zM612 528h6v6h-6zM600 546h6v6h-6zM330 552h6v6h-6zM594 558h6v6h-6zM588 564h6v6h-6zM576 576h6v6h-6zM570 600h6v6h-6zM276 612h6v6h-6zM588 624h6v6h-6zM552 642h6v6h-6zM534 648h6v6h-6zM246 654h6v6h-6zM240 666h6v6h-6zM474 666h6v6h-6zM234 684h6v6h-6zM450 684h6v6h-6zM216 702h6v6h-6zM468 708h6v6h-6zM192 732h6v6h-6zM234 738h6v6h-6zM462 738h6v6h-6z"/><path fill="#8c8c8c" d="M684 66h12v6h-12zM786 66h12v6h-12zM672 72h6v6h-6zM792 72h6v6h-6zM660 78h6v6h-6zM780 78h6v6h-6zM654 84h6v6h-6zM774 84h6v6h-6zM654 90h12v6h-12zM774 90h6v6h-6zM666 96h6v6h-6zM774 96h6v6h-6zM660 102h6v6h-6zM774 102h6v6h-6zM636 108h6v6h-6zM624 114h6v6h-6zM786 114h6v6h-6zM624 120h6v6h-6zM624 126h6v6h-6zM774 126h6v6h-6zM618 132h6v6h-6zM576 150h6v6h-6zM768 150h6v6h-6zM588 156h6v6h-6zM588 162h6v6h-6zM588 168h6v6h-6zM762 168h6v6h-6zM570 186h6v6h-6zM570 192h6v6h-6zM576 198h6v6h-6zM750 198h6v6h-6zM570 204h6v6h-6zM564 210h6v6h-6zM558 222h6v6h-6zM738 222h6v6h-6zM552 234h6v6h-6zM546 246h6v6h-6zM726 246h6v6h-6zM546 252h6v6h-6zM540 258h6v6h-6zM726 258h6v6h-6zM528 264h6v6h-6zM528 270h6v6h-6zM528 276h6v6h-6zM714 282h6v6h-6zM708 288h6v6h-6zM516 300h6v6h-6zM708 300h6v6h-6zM708 306h6v6h-6zM708 312h6v6h-6zM504 318h6v6h-6zM498 324h6v6h-6zM702 336h6v6h-6zM486 342h6v6h-6zM702 342h6v6h-6zM702 348h6v6h-6zM480 360h6v6h-6zM702 360h6v6h-6zM456 384h6v6h-6zM438 408h6v6h-6zM684 414h6v6h-6zM420 432h6v6h-6zM672 432h6v6h-6zM660 450h6v6h-6zM402 456h6v6h-6zM372 492h6v6h-6zM636 492h6v6h-6zM624 504h6v6h-6zM618 510h6v6h-6zM354 522h6v6h-6zM606 534h6v6h-6zM324 570h6v6h-6zM582 570h6v6h-6zM312 582h6v6h-6zM570 612h6v6h-6zM570 636h6v6h-6zM246 660h6v6h-6zM240 672h6v6h-6zM228 696h6v6h-6zM438 696h6v6h-6zM210 708h6v6h-6zM204 714h6v6h-6zM192 726h6v6h-6zM504 726h6v6h-6zM504 732h6v6h-6zM240 738h6v6h-6zM456 738h6v6h-6zM204 810h6v6h-6z"/><path fill="#8d8d8d" d="M696 66h90v6h-90zM678 72h12v6h-12zM780 72h12v6h-12zM666 78h12v6h-12zM768 78h12v6h-12zM660 84h6v6h-6zM762 84h12v6h-12zM666 90h6v6h-6zM768 90h6v6h-6zM672 96h6v6h-6zM768 96h6v6h-6zM666 102h6v6h-6zM768 102h6v6h-6zM642 108h6v6h-6zM780 108h6v6h-6zM630 114h6v6h-6zM774 120h6v6h-6zM624 132h6v6h-6zM612 138h6v6h-6zM768 138h6v6h-6zM588 144h6v6h-6zM768 144h6v6h-6zM594 162h6v6h-6zM762 162h6v6h-6zM588 174h6v6h-6zM756 174h6v6h-6zM582 180h6v6h-6zM750 180h6v6h-6zM750 192h6v6h-6zM744 210h6v6h-6zM564 216h6v6h-6zM558 228h6v6h-6zM726 228h6v6h-6zM714 234h6v6h-6zM552 240h6v6h-6zM720 240h6v6h-6zM726 252h6v6h-6zM534 270h6v6h-6zM720 270h6v6h-6zM534 276h6v6h-6zM528 282h6v6h-6zM528 288h6v6h-6zM522 294h6v6h-6zM516 306h6v6h-6zM510 312h6v6h-6zM702 324h6v6h-6zM498 330h6v6h-6zM702 330h6v6h-6zM492 336h6v6h-6zM486 348h6v6h-6zM486 354h6v6h-6zM702 372h6v6h-6zM696 378h6v6h-6zM690 384h6v6h-6zM450 396h6v6h-6zM444 402h6v6h-6zM678 420h6v6h-6zM426 426h6v6h-6zM666 438h6v6h-6zM408 450h6v6h-6zM654 456h6v6h-6zM648 468h6v6h-6zM642 480h6v6h-6zM378 486h6v6h-6zM630 498h6v6h-6zM366 504h6v6h-6zM360 516h6v6h-6zM342 540h6v6h-6zM600 540h6v6h-6zM336 546h6v6h-6zM594 552h6v6h-6zM330 558h6v6h-6zM570 582h6v6h-6zM570 588h6v6h-6zM570 594h6v6h-6zM294 600h6v6h-6zM288 606h6v6h-6zM564 606h6v6h-6zM270 618h6v6h-6zM576 618h6v6h-6zM264 624h6v6h-6zM588 630h6v6h-6zM252 636h6v6h-6zM252 642h6v6h-6zM252 648h6v6h-6zM492 660h6v6h-6zM240 678h6v6h-6zM456 678h6v6h-6zM234 690h6v6h-6zM450 702h6v6h-6zM480 714h6v6h-6zM198 720h6v6h-6zM492 720h6v6h-6zM450 738h6v6h-6z"/><path fill="#8e8e8e" d="M690 72h90v6h-90zM678 78h6v6h-6zM750 78h18v6h-18zM666 84h12v6h-12zM756 84h6v6h-6zM672 90h6v6h-6zM756 90h12v6h-12zM678 96h6v6h-6zM762 96h6v6h-6zM672 102h6v6h-6zM648 108h6v6h-6zM774 108h6v6h-6zM636 114h6v6h-6zM780 114h6v6h-6zM630 120h6v6h-6zM630 126h6v6h-6zM768 126h6v6h-6zM768 132h6v6h-6zM594 144h6v6h-6zM582 150h6v6h-6zM594 156h6v6h-6zM762 156h6v6h-6zM594 168h6v6h-6zM594 174h6v6h-6zM588 180h6v6h-6zM576 186h6v6h-6zM750 186h6v6h-6zM576 192h6v6h-6zM582 198h6v6h-6zM576 204h6v6h-6zM744 204h6v6h-6zM570 210h6v6h-6zM564 222h6v6h-6zM558 234h6v6h-6zM552 246h6v6h-6zM552 252h6v6h-6zM546 258h6v6h-6zM534 264h6v6h-6zM720 264h6v6h-6zM714 276h6v6h-6zM534 282h6v6h-6zM528 294h6v6h-6zM702 294h6v6h-6zM522 300h6v6h-6zM510 318h6v6h-6zM702 318h6v6h-6zM504 324h6v6h-6zM486 360h6v6h-6zM474 366h6v6h-6zM702 366h6v6h-6zM468 372h6v6h-6zM462 378h6v6h-6zM456 390h6v6h-6zM684 396h6v6h-6zM684 408h6v6h-6zM438 414h6v6h-6zM432 420h6v6h-6zM420 438h6v6h-6zM414 444h6v6h-6zM390 474h6v6h-6zM384 480h6v6h-6zM612 516h6v6h-6zM612 522h6v6h-6zM348 534h6v6h-6zM588 558h6v6h-6zM330 564h6v6h-6zM324 576h6v6h-6zM570 576h6v6h-6zM306 588h6v6h-6zM300 594h6v6h-6zM564 600h6v6h-6zM582 624h6v6h-6zM252 630h6v6h-6zM546 642h6v6h-6zM528 648h6v6h-6zM252 654h6v6h-6zM510 654h6v6h-6zM246 666h6v6h-6zM462 672h6v6h-6zM240 684h6v6h-6zM444 684h6v6h-6zM438 690h6v6h-6zM222 702h6v6h-6zM462 708h6v6h-6zM198 732h6v6h-6zM498 732h6v6h-6zM246 738h6v6h-6zM444 738h6v6h-6z"/><path fill="#909090" d="M684 78h66v6h-66zM678 84h6v6h-6zM744 84h12v6h-12zM678 90h6v6h-6zM750 90h6v6h-6zM684 96h6v6h-6zM750 96h12v6h-12zM678 102h12v6h-12zM756 102h12v6h-12zM654 108h6v6h-6zM642 114h6v6h-6zM636 120h6v6h-6zM768 120h6v6h-6zM630 132h6v6h-6zM618 138h6v6h-6zM762 144h6v6h-6zM588 150h6v6h-6zM762 150h6v6h-6zM600 156h6v6h-6zM600 162h6v6h-6zM756 168h6v6h-6zM600 174h6v6h-6zM588 198h6v6h-6zM582 204h6v6h-6zM576 210h6v6h-6zM570 216h6v6h-6zM738 216h6v6h-6zM570 222h6v6h-6zM732 222h6v6h-6zM564 228h6v6h-6zM720 228h6v6h-6zM564 234h6v6h-6zM558 240h6v6h-6zM714 240h6v6h-6zM558 246h6v6h-6zM720 246h6v6h-6zM720 258h6v6h-6zM540 270h6v6h-6zM540 276h6v6h-6zM708 282h6v6h-6zM534 288h6v6h-6zM702 288h6v6h-6zM702 300h6v6h-6zM522 306h6v6h-6zM702 306h6v6h-6zM516 312h6v6h-6zM702 312h6v6h-6zM504 330h6v6h-6zM498 336h6v6h-6zM492 342h6v6h-6zM696 348h6v6h-6zM492 354h6v6h-6zM696 354h6v6h-6zM684 390h6v6h-6zM684 402h6v6h-6zM444 408h6v6h-6zM672 426h6v6h-6zM426 432h6v6h-6zM660 444h6v6h-6zM408 456h6v6h-6zM402 462h6v6h-6zM648 462h6v6h-6zM396 468h6v6h-6zM636 486h6v6h-6zM372 498h6v6h-6zM366 510h6v6h-6zM612 510h6v6h-6zM354 528h6v6h-6zM606 528h6v6h-6zM600 534h6v6h-6zM594 546h6v6h-6zM336 552h6v6h-6zM582 564h6v6h-6zM330 570h6v6h-6zM576 570h6v6h-6zM318 582h6v6h-6zM282 612h6v6h-6zM564 612h6v6h-6zM582 630h6v6h-6zM564 636h6v6h-6zM252 660h6v6h-6zM468 666h6v6h-6zM246 672h6v6h-6zM246 678h6v6h-6zM240 690h6v6h-6zM234 696h6v6h-6zM432 696h6v6h-6zM444 702h6v6h-6zM216 708h6v6h-6zM210 714h6v6h-6zM198 726h6v6h-6zM498 726h6v6h-6zM252 738h6v6h-6zM438 738h6v6h-6zM186 810h6v6h-6z"/><path fill="#919191" d="M684 84h12v6h-12zM714 84h30v6h-30zM684 90h12v6h-12zM732 90h18v6h-18zM690 96h24v6h-24zM732 96h18v6h-18zM690 102h6v6h-6zM750 102h6v6h-6zM660 108h6v6h-6zM768 108h6v6h-6zM774 114h6v6h-6zM636 126h6v6h-6zM762 126h6v6h-6zM762 132h6v6h-6zM624 138h6v6h-6zM762 138h6v6h-6zM600 144h6v6h-6zM606 162h6v6h-6zM600 168h6v6h-6zM750 174h6v6h-6zM594 180h6v6h-6zM744 180h6v6h-6zM582 186h6v6h-6zM582 192h6v6h-6zM744 198h6v6h-6zM738 210h6v6h-6zM576 216h6v6h-6zM570 228h6v6h-6zM708 234h6v6h-6zM564 240h6v6h-6zM558 252h6v6h-6zM720 252h6v6h-6zM552 258h6v6h-6zM540 264h6v6h-6zM714 270h6v6h-6zM540 282h6v6h-6zM534 294h6v6h-6zM528 300h6v6h-6zM516 318h6v6h-6zM510 324h6v6h-6zM696 330h6v6h-6zM696 336h6v6h-6zM696 342h6v6h-6zM492 348h6v6h-6zM492 360h6v6h-6zM696 360h6v6h-6zM480 366h6v6h-6zM462 384h6v6h-6zM450 402h6v6h-6zM678 414h6v6h-6zM432 426h6v6h-6zM666 432h6v6h-6zM414 450h6v6h-6zM654 450h6v6h-6zM642 474h6v6h-6zM378 492h6v6h-6zM372 504h6v6h-6zM618 504h6v6h-6zM360 522h6v6h-6zM594 540h6v6h-6zM588 552h6v6h-6zM564 582h6v6h-6zM564 588h6v6h-6zM564 594h6v6h-6zM558 606h6v6h-6zM570 618h6v6h-6zM576 624h6v6h-6zM258 642h6v6h-6zM258 648h6v6h-6zM486 660h6v6h-6zM252 666h6v6h-6zM450 678h6v6h-6zM246 684h6v6h-6zM432 690h6v6h-6zM474 714h6v6h-6zM204 720h6v6h-6zM486 720h6v6h-6zM204 732h6v6h-6zM258 738h6v6h-6zM432 738h6v6h-6z"/><path fill="#929292" d="M696 84h18v6h-18zM696 90h36v6h-36zM714 96h18v6h-18zM696 102h30v6h-30zM732 102h18v6h-18zM666 108h12v6h-12zM762 108h6v6h-6zM648 114h6v6h-6zM768 114h6v6h-6zM642 120h6v6h-6zM762 120h6v6h-6zM642 126h6v6h-6zM636 132h6v6h-6zM606 144h6v6h-6zM594 150h6v6h-6zM606 156h6v6h-6zM756 156h6v6h-6zM756 162h6v6h-6zM606 168h6v6h-6zM606 174h6v6h-6zM600 180h6v6h-6zM588 186h6v6h-6zM744 186h6v6h-6zM588 192h6v6h-6zM744 192h6v6h-6zM594 198h6v6h-6zM588 204h6v6h-6zM582 210h6v6h-6zM576 222h6v6h-6zM570 234h6v6h-6zM564 246h6v6h-6zM546 264h6v6h-6zM714 264h6v6h-6zM546 270h6v6h-6zM546 276h6v6h-6zM708 276h6v6h-6zM540 288h6v6h-6zM696 294h6v6h-6zM528 306h6v6h-6zM522 312h6v6h-6zM696 318h6v6h-6zM696 324h6v6h-6zM504 336h6v6h-6zM498 342h6v6h-6zM696 366h6v6h-6zM474 372h6v6h-6zM696 372h6v6h-6zM468 378h6v6h-6zM690 378h6v6h-6zM684 384h6v6h-6zM462 390h6v6h-6zM456 396h6v6h-6zM438 420h6v6h-6zM672 420h6v6h-6zM660 438h6v6h-6zM420 444h6v6h-6zM648 456h6v6h-6zM642 468h6v6h-6zM384 486h6v6h-6zM630 492h6v6h-6zM366 516h6v6h-6zM354 534h6v6h-6zM348 540h6v6h-6zM342 546h6v6h-6zM336 558h6v6h-6zM330 576h6v6h-6zM564 576h6v6h-6zM312 588h6v6h-6zM300 600h6v6h-6zM558 600h6v6h-6zM294 606h6v6h-6zM258 636h6v6h-6zM522 648h6v6h-6zM258 654h6v6h-6zM504 654h6v6h-6zM252 672h6v6h-6zM456 672h6v6h-6zM438 684h6v6h-6zM246 690h6v6h-6zM240 696h6v6h-6zM228 702h6v6h-6zM456 708h6v6h-6zM492 726h6v6h-6zM492 732h6v6h-6zM264 738h6v6h-6zM426 738h6v6h-6zM198 810h6v6h-6z"/><path fill="#939393" d="M726 102h6v6h-6zM678 108h6v6h-6zM756 108h6v6h-6zM654 114h6v6h-6zM648 120h6v6h-6zM756 126h6v6h-6zM642 132h6v6h-6zM756 132h6v6h-6zM630 138h6v6h-6zM756 138h6v6h-6zM612 144h6v6h-6zM756 144h6v6h-6zM600 150h6v6h-6zM756 150h6v6h-6zM612 156h6v6h-6zM612 162h6v6h-6zM612 174h6v6h-6zM606 180h6v6h-6zM600 198h6v6h-6zM594 204h6v6h-6zM738 204h6v6h-6zM582 216h6v6h-6zM732 216h6v6h-6zM726 222h6v6h-6zM576 228h6v6h-6zM714 228h6v6h-6zM702 234h6v6h-6zM570 240h6v6h-6zM708 240h6v6h-6zM570 246h6v6h-6zM714 246h6v6h-6zM564 252h6v6h-6zM558 258h6v6h-6zM714 258h6v6h-6zM552 270h6v6h-6zM546 282h6v6h-6zM702 282h6v6h-6zM696 288h6v6h-6zM540 294h6v6h-6zM534 300h6v6h-6zM696 300h6v6h-6zM696 306h6v6h-6zM696 312h6v6h-6zM522 318h6v6h-6zM516 324h6v6h-6zM510 330h6v6h-6zM498 348h6v6h-6zM498 354h6v6h-6zM498 360h6v6h-6zM486 366h6v6h-6zM678 390h6v6h-6zM678 396h6v6h-6zM678 402h6v6h-6zM678 408h6v6h-6zM444 414h6v6h-6zM426 438h6v6h-6zM408 462h6v6h-6zM402 468h6v6h-6zM396 474h6v6h-6zM390 480h6v6h-6zM636 480h6v6h-6zM624 498h6v6h-6zM372 510h6v6h-6zM606 516h6v6h-6zM606 522h6v6h-6zM360 528h6v6h-6zM588 546h6v6h-6zM582 558h6v6h-6zM336 564h6v6h-6zM576 564h6v6h-6zM570 570h6v6h-6zM558 582h6v6h-6zM306 594h6v6h-6zM558 612h6v6h-6zM276 618h6v6h-6zM564 618h6v6h-6zM258 630h6v6h-6zM576 630h6v6h-6zM558 636h6v6h-6zM540 642h6v6h-6zM258 660h6v6h-6zM252 678h6v6h-6zM252 684h6v6h-6zM426 696h6v6h-6zM438 702h6v6h-6zM222 708h6v6h-6zM216 714h6v6h-6zM204 726h6v6h-6zM270 738h6v6h-6zM420 738h6v6h-6zM192 810h6v6h-6z"/><path fill="#959595" d="M684 108h6v6h-6zM744 108h12v6h-12zM660 114h6v6h-6zM762 114h6v6h-6zM654 120h6v6h-6zM756 120h6v6h-6zM648 126h6v6h-6zM636 138h6v6h-6zM612 168h6v6h-6zM750 168h6v6h-6zM618 174h6v6h-6zM744 174h6v6h-6zM612 180h6v6h-6zM738 180h6v6h-6zM594 186h6v6h-6zM594 192h6v6h-6zM738 198h6v6h-6zM588 210h6v6h-6zM732 210h6v6h-6zM588 216h6v6h-6zM582 222h6v6h-6zM582 228h6v6h-6zM576 234h6v6h-6zM576 240h6v6h-6zM570 252h6v6h-6zM714 252h6v6h-6zM564 258h6v6h-6zM552 264h6v6h-6zM708 270h6v6h-6zM552 276h6v6h-6zM546 288h6v6h-6zM540 300h6v6h-6zM534 306h6v6h-6zM528 312h6v6h-6zM690 330h6v6h-6zM690 336h6v6h-6zM504 342h6v6h-6zM690 342h6v6h-6zM690 348h6v6h-6zM690 354h6v6h-6zM690 360h6v6h-6zM468 384h6v6h-6zM450 408h6v6h-6zM666 426h6v6h-6zM432 432h6v6h-6zM654 444h6v6h-6zM420 450h6v6h-6zM414 456h6v6h-6zM642 462h6v6h-6zM378 498h6v6h-6zM606 510h6v6h-6zM366 522h6v6h-6zM600 528h6v6h-6zM594 534h6v6h-6zM342 552h6v6h-6zM336 570h6v6h-6zM324 582h6v6h-6zM558 588h6v6h-6zM558 594h6v6h-6zM552 606h6v6h-6zM270 624h6v6h-6zM570 624h6v6h-6zM264 654h6v6h-6zM480 660h6v6h-6zM258 666h6v6h-6zM462 666h6v6h-6zM258 672h6v6h-6zM444 678h6v6h-6zM252 690h6v6h-6zM426 690h6v6h-6zM246 696h6v6h-6zM234 702h6v6h-6zM468 714h6v6h-6zM210 720h6v6h-6zM210 732h6v6h-6zM486 732h6v6h-6zM276 738h6v6h-6zM414 738h6v6h-6z"/><path fill="#969696" d="M690 108h18v6h-18zM732 108h12v6h-12zM666 114h6v6h-6zM756 114h6v6h-6zM660 120h6v6h-6zM750 120h6v6h-6zM654 126h6v6h-6zM750 126h6v6h-6zM648 132h6v6h-6zM750 132h6v6h-6zM642 138h6v6h-6zM750 138h6v6h-6zM618 144h6v6h-6zM750 144h6v6h-6zM606 150h6v6h-6zM750 150h6v6h-6zM618 156h6v6h-6zM750 156h6v6h-6zM618 162h6v6h-6zM750 162h6v6h-6zM618 168h6v6h-6zM618 180h6v6h-6zM738 186h6v6h-6zM600 192h6v6h-6zM738 192h6v6h-6zM606 198h6v6h-6zM600 204h6v6h-6zM594 210h6v6h-6zM588 222h6v6h-6zM708 228h6v6h-6zM582 234h6v6h-6zM696 234h6v6h-6zM702 240h6v6h-6zM576 246h6v6h-6zM708 246h6v6h-6zM558 264h6v6h-6zM708 264h6v6h-6zM558 270h6v6h-6zM558 276h6v6h-6zM702 276h6v6h-6zM552 282h6v6h-6zM696 282h6v6h-6zM546 294h6v6h-6zM690 294h6v6h-6zM528 318h6v6h-6zM690 318h6v6h-6zM522 324h6v6h-6zM690 324h6v6h-6zM516 330h6v6h-6zM510 336h6v6h-6zM504 348h6v6h-6zM504 354h6v6h-6zM504 360h6v6h-6zM492 366h6v6h-6zM480 372h6v6h-6zM690 372h6v6h-6zM474 378h6v6h-6zM684 378h6v6h-6zM678 384h6v6h-6zM462 396h6v6h-6zM456 402h6v6h-6zM672 414h6v6h-6zM444 420h6v6h-6zM438 426h6v6h-6zM660 432h6v6h-6zM426 444h6v6h-6zM648 450h6v6h-6zM636 474h6v6h-6zM630 486h6v6h-6zM384 492h6v6h-6zM378 504h6v6h-6zM612 504h6v6h-6zM372 516h6v6h-6zM588 540h6v6h-6zM582 552h6v6h-6zM342 558h6v6h-6zM558 576h6v6h-6zM306 600h6v6h-6zM552 600h6v6h-6zM288 612h6v6h-6zM264 642h6v6h-6zM264 648h6v6h-6zM498 654h6v6h-6zM264 660h6v6h-6zM258 678h6v6h-6zM258 684h6v6h-6zM432 684h6v6h-6zM420 696h6v6h-6zM228 708h6v6h-6zM450 708h6v6h-6zM480 720h6v6h-6zM486 726h6v6h-6zM282 738h6v6h-6zM408 738h6v6h-6zM216 804h6v6h-6z"/><path fill="#979797" d="M708 108h24v6h-24zM672 114h6v6h-6zM750 114h6v6h-6zM666 120h6v6h-6zM744 120h6v6h-6zM660 126h6v6h-6zM744 126h6v6h-6zM654 132h6v6h-6zM624 144h6v6h-6zM612 150h6v6h-6zM624 156h6v6h-6zM624 162h6v6h-6zM624 174h6v6h-6zM624 180h6v6h-6zM732 180h6v6h-6zM600 186h6v6h-6zM612 198h6v6h-6zM606 204h6v6h-6zM732 204h6v6h-6zM594 216h6v6h-6zM726 216h6v6h-6zM720 222h6v6h-6zM588 228h6v6h-6zM588 234h6v6h-6zM582 240h6v6h-6zM582 246h6v6h-6zM576 252h6v6h-6zM708 252h6v6h-6zM570 258h6v6h-6zM708 258h6v6h-6zM702 270h6v6h-6zM558 282h6v6h-6zM552 288h6v6h-6zM690 288h6v6h-6zM546 300h6v6h-6zM690 300h6v6h-6zM540 306h6v6h-6zM690 306h6v6h-6zM534 312h6v6h-6zM690 312h6v6h-6zM510 342h6v6h-6zM690 366h6v6h-6zM468 390h6v6h-6zM672 390h6v6h-6zM672 396h6v6h-6zM450 414h6v6h-6zM666 420h6v6h-6zM432 438h6v6h-6zM654 438h6v6h-6zM642 456h6v6h-6zM414 462h6v6h-6zM408 468h6v6h-6zM636 468h6v6h-6zM402 474h6v6h-6zM396 480h6v6h-6zM390 486h6v6h-6zM378 510h6v6h-6zM600 516h6v6h-6zM366 528h6v6h-6zM360 534h6v6h-6zM354 540h6v6h-6zM348 546h6v6h-6zM582 546h6v6h-6zM576 558h6v6h-6zM342 564h6v6h-6zM564 570h6v6h-6zM336 576h6v6h-6zM552 582h6v6h-6zM318 588h6v6h-6zM312 594h6v6h-6zM300 606h6v6h-6zM552 612h6v6h-6zM558 618h6v6h-6zM570 630h6v6h-6zM552 636h6v6h-6zM534 642h6v6h-6zM516 648h6v6h-6zM264 666h6v6h-6zM264 672h6v6h-6zM450 672h6v6h-6zM258 690h6v6h-6zM420 690h6v6h-6zM252 696h6v6h-6zM240 702h6v6h-6zM432 702h6v6h-6zM222 714h6v6h-6zM210 726h6v6h-6zM216 732h6v6h-6zM480 732h6v6h-6zM288 738h6v6h-6zM402 738h6v6h-6z"/><path fill="#989898" d="M678 114h6v6h-6zM738 114h12v6h-12zM672 120h6v6h-6zM738 120h6v6h-6zM666 126h6v6h-6zM738 126h6v6h-6zM660 132h6v6h-6zM744 132h6v6h-6zM648 138h6v6h-6zM744 138h6v6h-6zM630 144h6v6h-6zM744 144h6v6h-6zM618 150h6v6h-6zM744 150h6v6h-6zM630 156h6v6h-6zM744 156h6v6h-6zM630 162h6v6h-6zM744 162h6v6h-6zM624 168h6v6h-6zM744 168h6v6h-6zM630 174h6v6h-6zM738 174h6v6h-6zM630 180h6v6h-6zM606 186h6v6h-6zM606 192h6v6h-6zM732 198h6v6h-6zM600 210h6v6h-6zM726 210h6v6h-6zM600 216h6v6h-6zM594 222h6v6h-6zM594 228h6v6h-6zM702 228h6v6h-6zM690 234h6v6h-6zM588 240h6v6h-6zM696 240h6v6h-6zM564 264h6v6h-6zM702 264h6v6h-6zM564 270h6v6h-6zM564 276h6v6h-6zM696 276h6v6h-6zM558 288h6v6h-6zM552 294h6v6h-6zM684 294h6v6h-6zM546 306h6v6h-6zM534 318h6v6h-6zM528 324h6v6h-6zM684 324h6v6h-6zM522 330h6v6h-6zM684 330h6v6h-6zM516 336h6v6h-6zM684 336h6v6h-6zM684 342h6v6h-6zM510 348h6v6h-6zM684 348h6v6h-6zM510 354h6v6h-6zM684 354h6v6h-6zM498 366h6v6h-6zM474 384h6v6h-6zM672 402h6v6h-6zM456 408h6v6h-6zM672 408h6v6h-6zM438 432h6v6h-6zM648 444h6v6h-6zM426 450h6v6h-6zM420 456h6v6h-6zM630 480h6v6h-6zM624 492h6v6h-6zM384 498h6v6h-6zM618 498h6v6h-6zM600 510h6v6h-6zM372 522h6v6h-6zM600 522h6v6h-6zM594 528h6v6h-6zM588 534h6v6h-6zM570 564h6v6h-6zM342 570h6v6h-6zM552 576h6v6h-6zM330 582h6v6h-6zM552 588h6v6h-6zM552 594h6v6h-6zM546 606h6v6h-6zM564 624h6v6h-6zM264 630h6v6h-6zM264 636h6v6h-6zM270 654h6v6h-6zM270 660h6v6h-6zM456 666h6v6h-6zM264 678h6v6h-6zM438 678h6v6h-6zM264 684h6v6h-6zM426 684h6v6h-6zM264 690h6v6h-6zM258 696h6v6h-6zM414 696h6v6h-6zM462 714h6v6h-6zM216 720h6v6h-6zM294 738h6v6h-6zM396 738h6v6h-6z"/><path fill="#9a9a9a" d="M684 114h24v6h-24zM714 114h24v6h-24zM678 120h6v6h-6zM732 120h6v6h-6zM672 126h6v6h-6zM732 126h6v6h-6zM738 132h6v6h-6zM654 138h6v6h-6zM738 138h6v6h-6zM636 144h6v6h-6zM624 150h6v6h-6zM630 168h6v6h-6zM636 174h6v6h-6zM636 180h6v6h-6zM726 180h6v6h-6zM612 186h6v6h-6zM732 186h6v6h-6zM612 192h6v6h-6zM732 192h6v6h-6zM618 198h6v6h-6zM612 204h6v6h-6zM726 204h6v6h-6zM606 210h6v6h-6zM720 216h6v6h-6zM600 222h6v6h-6zM714 222h6v6h-6zM600 228h6v6h-6zM594 234h6v6h-6zM684 234h6v6h-6zM594 240h6v6h-6zM588 246h6v6h-6zM702 246h6v6h-6zM582 252h6v6h-6zM702 252h6v6h-6zM576 258h6v6h-6zM702 258h6v6h-6zM570 264h6v6h-6zM570 270h6v6h-6zM570 276h6v6h-6zM564 282h6v6h-6zM690 282h6v6h-6zM684 288h6v6h-6zM558 294h6v6h-6zM552 300h6v6h-6zM684 300h6v6h-6zM684 306h6v6h-6zM540 312h6v6h-6zM684 312h6v6h-6zM684 318h6v6h-6zM528 330h6v6h-6zM510 360h6v6h-6zM684 360h6v6h-6zM486 372h6v6h-6zM684 372h6v6h-6zM480 378h6v6h-6zM678 378h6v6h-6zM672 384h6v6h-6zM462 402h6v6h-6zM444 426h6v6h-6zM660 426h6v6h-6zM432 444h6v6h-6zM636 462h6v6h-6zM384 504h6v6h-6zM378 516h6v6h-6zM582 540h6v6h-6zM348 552h6v6h-6zM576 552h6v6h-6zM546 582h6v6h-6zM546 600h6v6h-6zM546 612h6v6h-6zM282 618h6v6h-6zM552 618h6v6h-6zM564 630h6v6h-6zM270 648h6v6h-6zM492 654h6v6h-6zM474 660h6v6h-6zM270 666h6v6h-6zM270 672h6v6h-6zM270 678h6v6h-6zM270 684h6v6h-6zM246 702h6v6h-6zM426 702h6v6h-6zM234 708h6v6h-6zM444 708h6v6h-6zM474 720h6v6h-6zM480 726h6v6h-6zM222 732h6v6h-6zM474 732h6v6h-6zM300 738h12v6h-12zM384 738h12v6h-12z"/><path fill="#9b9b9b" d="M708 114h6v6h-6zM684 120h6v6h-6zM714 120h18v6h-18zM678 126h6v6h-6zM726 126h6v6h-6zM666 132h6v6h-6zM732 132h6v6h-6zM660 138h6v6h-6zM642 144h6v6h-6zM738 144h6v6h-6zM630 150h6v6h-6zM738 150h6v6h-6zM636 156h6v6h-6zM738 156h6v6h-6zM636 162h6v6h-6zM738 168h6v6h-6zM642 174h6v6h-6zM732 174h6v6h-6zM642 180h6v6h-6zM624 198h6v6h-6zM726 198h6v6h-6zM618 204h6v6h-6zM612 210h6v6h-6zM606 216h6v6h-6zM606 222h6v6h-6zM696 228h6v6h-6zM600 234h6v6h-6zM690 240h6v6h-6zM594 246h6v6h-6zM696 246h6v6h-6zM588 252h6v6h-6zM582 258h6v6h-6zM576 270h6v6h-6zM696 270h6v6h-6zM570 282h6v6h-6zM564 288h6v6h-6zM558 300h6v6h-6zM552 306h6v6h-6zM546 312h6v6h-6zM540 318h6v6h-6zM534 324h6v6h-6zM522 336h6v6h-6zM516 342h6v6h-6zM516 354h6v6h-6zM684 366h6v6h-6zM474 390h6v6h-6zM666 390h6v6h-6zM468 396h6v6h-6zM666 396h6v6h-6zM666 414h6v6h-6zM450 420h6v6h-6zM654 432h6v6h-6zM438 438h6v6h-6zM642 450h6v6h-6zM396 486h6v6h-6zM390 492h6v6h-6zM606 504h6v6h-6zM384 510h6v6h-6zM378 522h6v6h-6zM372 528h6v6h-6zM366 534h6v6h-6zM360 540h6v6h-6zM354 546h6v6h-6zM348 558h6v6h-6zM558 570h6v6h-6zM342 576h6v6h-6zM546 576h6v6h-6zM324 588h6v6h-6zM546 594h6v6h-6zM312 600h6v6h-6zM306 606h6v6h-6zM540 606h6v6h-6zM294 612h6v6h-6zM276 624h6v6h-6zM558 624h6v6h-6zM546 636h6v6h-6zM270 642h6v6h-6zM528 642h6v6h-6zM510 648h6v6h-6zM276 660h6v6h-6zM444 672h6v6h-6zM432 678h6v6h-6zM270 690h6v6h-6zM414 690h6v6h-6zM264 696h6v6h-6zM408 696h6v6h-6zM228 714h6v6h-6zM216 726h6v6h-6zM312 738h6v6h-6zM378 738h6v6h-6z"/><path fill="#9c9c9c" d="M690 120h24v6h-24zM684 126h6v6h-6zM708 126h18v6h-18zM672 132h6v6h-6zM726 132h6v6h-6zM666 138h6v6h-6zM732 138h6v6h-6zM648 144h6v6h-6zM732 144h6v6h-6zM636 150h6v6h-6zM642 156h6v6h-6zM642 162h6v6h-6zM738 162h6v6h-6zM636 168h6v6h-6zM648 174h6v6h-6zM648 180h6v6h-6zM720 180h6v6h-6zM618 186h6v6h-6zM726 186h6v6h-6zM618 192h6v6h-6zM726 192h6v6h-6zM630 198h6v6h-6zM624 204h6v6h-6zM720 210h6v6h-6zM612 216h6v6h-6zM714 216h6v6h-6zM708 222h6v6h-6zM606 228h6v6h-6zM690 228h6v6h-6zM606 234h6v6h-6zM678 234h6v6h-6zM600 240h6v6h-6zM684 240h6v6h-6zM594 252h6v6h-6zM696 252h6v6h-6zM696 258h6v6h-6zM576 264h6v6h-6zM696 264h6v6h-6zM576 276h6v6h-6zM690 276h6v6h-6zM684 282h6v6h-6zM570 288h6v6h-6zM678 288h6v6h-6zM564 294h6v6h-6zM678 294h6v6h-6zM678 300h6v6h-6zM678 306h6v6h-6zM678 312h6v6h-6zM678 318h6v6h-6zM678 324h6v6h-6zM534 330h6v6h-6zM678 330h6v6h-6zM678 336h6v6h-6zM678 342h6v6h-6zM516 348h6v6h-6zM678 348h6v6h-6zM678 354h6v6h-6zM516 360h6v6h-6zM678 360h6v6h-6zM504 366h6v6h-6zM492 372h6v6h-6zM480 384h6v6h-6zM666 402h6v6h-6zM456 414h6v6h-6zM660 420h6v6h-6zM444 432h6v6h-6zM648 438h6v6h-6zM432 450h6v6h-6zM426 456h6v6h-6zM636 456h6v6h-6zM420 462h6v6h-6zM414 468h6v6h-6zM630 468h6v6h-6zM408 474h6v6h-6zM630 474h6v6h-6zM402 480h6v6h-6zM624 486h6v6h-6zM594 510h6v6h-6zM384 516h6v6h-6zM594 516h6v6h-6zM594 522h6v6h-6zM588 528h6v6h-6zM582 534h6v6h-6zM576 540h6v6h-6zM576 546h6v6h-6zM570 558h6v6h-6zM348 564h6v6h-6zM564 564h6v6h-6zM348 570h6v6h-6zM336 582h6v6h-6zM546 588h6v6h-6zM318 594h6v6h-6zM540 600h6v6h-6zM276 654h6v6h-6zM468 660h6v6h-6zM276 666h6v6h-6zM276 672h6v6h-6zM276 678h6v6h-6zM276 684h6v6h-6zM420 684h6v6h-6zM276 690h6v6h-6zM408 690h6v6h-6zM270 696h6v6h-6zM252 702h6v6h-6zM420 702h6v6h-6zM240 708h6v6h-6zM438 708h6v6h-6zM456 714h6v6h-6zM222 720h6v6h-6zM468 720h6v6h-6zM474 726h6v6h-6zM468 732h6v6h-6zM318 738h60v6h-60zM174 804h6v6h-6z"/><path fill="#9e9e9e" d="M690 126h18v6h-18zM678 132h12v6h-12zM708 132h18v6h-18zM672 138h6v6h-6zM720 138h12v6h-12zM654 144h6v6h-6zM726 144h6v6h-6zM642 150h6v6h-6zM732 150h6v6h-6zM648 156h6v6h-6zM732 156h6v6h-6zM642 168h6v6h-6zM732 168h6v6h-6zM654 174h6v6h-6zM726 174h6v6h-6zM654 180h6v6h-6zM714 180h6v6h-6zM624 186h6v6h-6zM624 192h6v6h-6zM720 204h6v6h-6zM618 210h6v6h-6zM618 216h6v6h-6zM612 222h6v6h-6zM612 228h6v6h-6zM684 228h6v6h-6zM612 234h6v6h-6zM672 234h6v6h-6zM606 240h6v6h-6zM678 240h6v6h-6zM600 246h6v6h-6zM690 246h6v6h-6zM588 258h6v6h-6zM582 264h6v6h-6zM690 264h6v6h-6zM582 270h6v6h-6zM690 270h6v6h-6zM582 276h6v6h-6zM684 276h6v6h-6zM576 282h6v6h-6zM570 294h6v6h-6zM564 300h6v6h-6zM558 306h6v6h-6zM552 312h6v6h-6zM546 318h6v6h-6zM540 324h6v6h-6zM528 336h6v6h-6zM522 342h6v6h-6zM678 366h6v6h-6zM678 372h6v6h-6zM486 378h6v6h-6zM672 378h6v6h-6zM666 384h6v6h-6zM660 390h6v6h-6zM462 408h6v6h-6zM666 408h6v6h-6zM450 426h6v6h-6zM654 426h6v6h-6zM438 444h6v6h-6zM642 444h6v6h-6zM630 462h6v6h-6zM390 498h6v6h-6zM540 582h6v6h-6zM540 612h6v6h-6zM546 618h6v6h-6zM270 630h6v6h-6zM558 630h6v6h-6zM270 636h6v6h-6zM276 648h6v6h-6zM486 654h6v6h-6zM450 666h6v6h-6zM438 672h6v6h-6zM282 684h6v6h-6zM414 684h6v6h-6zM282 690h6v6h-6zM276 696h6v6h-6zM402 696h6v6h-6zM228 732h6v6h-6z"/><path fill="#9f9f9f" d="M690 132h18v6h-18zM678 138h6v6h-6zM714 138h6v6h-6zM660 144h6v6h-6zM720 144h6v6h-6zM648 150h6v6h-6zM726 150h6v6h-6zM654 156h6v6h-6zM648 162h6v6h-6zM732 162h6v6h-6zM648 168h6v6h-6zM660 174h6v6h-6zM720 174h6v6h-6zM660 180h12v6h-12zM702 180h12v6h-12zM630 186h6v6h-6zM720 186h6v6h-6zM630 192h6v6h-6zM720 192h6v6h-6zM636 198h6v6h-6zM720 198h6v6h-6zM630 204h6v6h-6zM624 210h6v6h-6zM714 210h6v6h-6zM708 216h6v6h-6zM618 222h6v6h-6zM702 222h6v6h-6zM618 228h6v6h-6zM618 234h6v6h-6zM666 234h6v6h-6zM612 240h6v6h-6zM606 246h6v6h-6zM684 246h6v6h-6zM600 252h6v6h-6zM690 252h6v6h-6zM594 258h6v6h-6zM690 258h6v6h-6zM588 264h6v6h-6zM588 270h6v6h-6zM684 270h6v6h-6zM582 282h6v6h-6zM678 282h6v6h-6zM576 288h6v6h-6zM672 288h6v6h-6zM672 294h6v6h-6zM570 300h6v6h-6zM672 300h6v6h-6zM564 306h6v6h-6zM672 306h6v6h-6zM672 312h6v6h-6zM672 318h6v6h-6zM546 324h6v6h-6zM672 324h6v6h-6zM540 330h6v6h-6zM672 330h6v6h-6zM672 336h6v6h-6zM672 342h6v6h-6zM522 348h6v6h-6zM672 348h6v6h-6zM522 354h6v6h-6zM672 354h6v6h-6zM510 366h6v6h-6zM480 390h6v6h-6zM474 396h6v6h-6zM660 396h6v6h-6zM468 402h6v6h-6zM456 420h6v6h-6zM648 432h6v6h-6zM444 438h6v6h-6zM636 450h6v6h-6zM624 480h6v6h-6zM396 492h6v6h-6zM618 492h6v6h-6zM612 498h6v6h-6zM390 504h6v6h-6zM390 510h6v6h-6zM384 522h6v6h-6zM378 528h6v6h-6zM372 534h6v6h-6zM576 534h6v6h-6zM354 552h6v6h-6zM570 552h6v6h-6zM552 570h6v6h-6zM348 576h6v6h-6zM540 576h6v6h-6zM540 588h6v6h-6zM540 594h6v6h-6zM318 600h6v6h-6zM534 600h6v6h-6zM534 606h6v6h-6zM288 618h6v6h-6zM552 624h6v6h-6zM540 636h6v6h-6zM522 642h6v6h-6zM504 648h6v6h-6zM282 654h6v6h-6zM282 660h6v6h-6zM282 666h6v6h-6zM282 672h6v6h-6zM282 678h6v6h-6zM426 678h6v6h-6zM288 690h6v6h-6zM402 690h6v6h-6zM282 696h6v6h-6zM396 696h6v6h-6zM258 702h6v6h-6zM414 702h6v6h-6zM246 708h6v6h-6zM432 708h6v6h-6zM234 714h6v6h-6zM450 714h6v6h-6zM222 726h6v6h-6zM462 732h6v6h-6z"/><path fill="#a0a0a0" d="M684 138h30v6h-30zM666 144h12v6h-12zM714 144h6v6h-6zM654 150h6v6h-6zM720 150h6v6h-6zM660 156h6v6h-6zM726 156h6v6h-6zM654 162h6v6h-6zM726 162h6v6h-6zM654 168h6v6h-6zM726 168h6v6h-6zM666 174h6v6h-6zM714 174h6v6h-6zM672 180h30v6h-30zM636 186h6v6h-6zM714 186h6v6h-6zM636 192h6v6h-6zM642 198h6v6h-6zM714 198h6v6h-6zM636 204h6v6h-6zM714 204h6v6h-6zM630 210h6v6h-6zM708 210h6v6h-6zM624 216h6v6h-6zM624 222h6v6h-6zM696 222h6v6h-6zM624 228h6v6h-6zM678 228h6v6h-6zM624 234h6v6h-6zM660 234h6v6h-6zM618 240h6v6h-6zM666 240h12v6h-12zM612 246h6v6h-6zM606 252h6v6h-6zM684 252h6v6h-6zM600 258h6v6h-6zM684 258h6v6h-6zM594 264h6v6h-6zM684 264h6v6h-6zM594 270h6v6h-6zM588 276h6v6h-6zM678 276h6v6h-6zM672 282h6v6h-6zM582 288h6v6h-6zM666 288h6v6h-6zM576 294h6v6h-6zM666 294h6v6h-6zM666 300h6v6h-6zM558 312h6v6h-6zM552 318h6v6h-6zM534 336h6v6h-6zM528 342h6v6h-6zM522 360h6v6h-6zM672 360h6v6h-6zM498 372h6v6h-6zM672 372h6v6h-6zM486 384h6v6h-6zM660 384h6v6h-6zM660 402h6v6h-6zM462 414h6v6h-6zM660 414h6v6h-6zM642 438h6v6h-6zM438 450h6v6h-6zM432 456h6v6h-6zM630 456h6v6h-6zM426 462h6v6h-6zM420 468h6v6h-6zM414 474h6v6h-6zM402 486h6v6h-6zM600 504h6v6h-6zM588 510h6v6h-6zM390 516h6v6h-6zM588 516h6v6h-6zM588 522h6v6h-6zM582 528h6v6h-6zM366 540h6v6h-6zM570 540h6v6h-6zM360 546h6v6h-6zM570 546h6v6h-6zM354 558h6v6h-6zM354 564h6v6h-6zM354 570h6v6h-6zM342 582h6v6h-6zM534 582h6v6h-6zM330 588h6v6h-6zM324 594h6v6h-6zM312 606h6v6h-6zM300 612h6v6h-6zM534 612h6v6h-6zM540 618h6v6h-6zM552 630h6v6h-6zM276 642h6v6h-6zM288 660h6v6h-6zM462 660h6v6h-6zM288 666h6v6h-6zM444 666h6v6h-6zM288 672h6v6h-6zM432 672h6v6h-6zM288 678h6v6h-6zM420 678h6v6h-6zM288 684h6v6h-6zM408 684h6v6h-6zM294 690h6v6h-6zM396 690h6v6h-6zM288 696h6v6h-6zM390 696h6v6h-6zM264 702h6v6h-6zM228 720h6v6h-6zM462 720h6v6h-6zM468 726h6v6h-6zM234 732h6v6h-6z"/><path fill="#a1a1a1" d="M678 144h6v6h-6zM696 144h18v6h-18zM660 150h12v6h-12zM714 150h6v6h-6zM666 156h6v6h-6zM720 156h6v6h-6zM660 162h6v6h-6zM720 162h6v6h-6zM672 174h6v6h-6zM702 174h12v6h-12zM642 186h6v6h-6zM714 192h6v6h-6zM648 198h6v6h-6zM642 204h6v6h-6zM708 204h6v6h-6zM630 216h6v6h-6zM702 216h6v6h-6zM630 222h6v6h-6zM690 222h6v6h-6zM630 228h12v6h-12zM666 228h12v6h-12zM630 234h30v6h-30zM624 240h12v6h-12zM660 240h6v6h-6zM618 246h6v6h-6zM672 246h12v6h-12zM612 252h6v6h-6zM606 258h6v6h-6zM600 264h6v6h-6zM678 264h6v6h-6zM678 270h6v6h-6zM594 276h6v6h-6zM672 276h6v6h-6zM588 282h6v6h-6zM588 288h6v6h-6zM582 294h6v6h-6zM576 300h6v6h-6zM570 306h6v6h-6zM666 306h6v6h-6zM666 312h6v6h-6zM666 318h6v6h-6zM552 324h6v6h-6zM666 324h6v6h-6zM546 330h6v6h-6zM666 330h6v6h-6zM540 336h6v6h-6zM666 336h6v6h-6zM666 342h6v6h-6zM528 348h6v6h-6zM528 354h6v6h-6zM672 366h6v6h-6zM492 378h6v6h-6zM666 378h6v6h-6zM654 390h6v6h-6zM654 396h6v6h-6zM468 408h6v6h-6zM660 408h6v6h-6zM654 420h6v6h-6zM450 432h6v6h-6zM444 444h6v6h-6zM636 444h6v6h-6zM624 468h6v6h-6zM624 474h6v6h-6zM408 480h6v6h-6zM390 522h6v6h-6zM384 528h6v6h-6zM564 558h6v6h-6zM558 564h6v6h-6zM534 576h6v6h-6zM534 588h6v6h-6zM534 594h6v6h-6zM528 606h6v6h-6zM282 624h6v6h-6zM546 624h6v6h-6zM534 636h6v6h-6zM516 642h6v6h-6zM282 648h6v6h-6zM288 654h6v6h-6zM480 654h6v6h-6zM294 678h6v6h-6zM294 684h6v6h-6zM300 690h6v6h-6zM390 690h6v6h-6zM294 696h12v6h-12zM384 696h6v6h-6zM408 702h6v6h-6zM252 708h6v6h-6zM240 714h6v6h-6zM456 732h6v6h-6z"/><path fill="#a3a3a3" d="M684 144h12v6h-12zM672 150h6v6h-6zM702 150h12v6h-12zM672 156h6v6h-6zM708 156h12v6h-12zM666 162h6v6h-6zM660 168h6v6h-6zM720 168h6v6h-6zM678 174h24v6h-24zM648 186h6v6h-6zM708 186h6v6h-6zM642 192h6v6h-6zM708 198h6v6h-6zM648 204h6v6h-6zM702 204h6v6h-6zM636 210h6v6h-6zM702 210h6v6h-6zM636 216h6v6h-6zM696 216h6v6h-6zM636 222h6v6h-6zM684 222h6v6h-6zM642 228h24v6h-24zM636 240h24v6h-24zM624 246h6v6h-6zM666 246h6v6h-6zM618 252h6v6h-6zM678 252h6v6h-6zM612 258h6v6h-6zM678 258h6v6h-6zM606 264h6v6h-6zM672 264h6v6h-6zM600 270h6v6h-6zM672 270h6v6h-6zM600 276h6v6h-6zM666 276h6v6h-6zM594 282h6v6h-6zM666 282h6v6h-6zM660 288h6v6h-6zM588 294h6v6h-6zM660 294h6v6h-6zM582 300h6v6h-6zM660 300h6v6h-6zM576 306h6v6h-6zM660 306h6v6h-6zM564 312h6v6h-6zM558 318h6v6h-6zM552 330h6v6h-6zM534 342h6v6h-6zM666 348h6v6h-6zM666 354h6v6h-6zM666 360h6v6h-6zM516 366h6v6h-6zM504 372h6v6h-6zM654 384h6v6h-6zM486 390h6v6h-6zM480 396h6v6h-6zM474 402h6v6h-6zM456 426h6v6h-6zM648 426h6v6h-6zM450 438h6v6h-6zM630 450h6v6h-6zM432 462h6v6h-6zM624 462h6v6h-6zM618 486h6v6h-6zM396 498h6v6h-6zM396 504h6v6h-6zM396 510h6v6h-6zM396 516h6v6h-6zM378 534h6v6h-6zM570 534h6v6h-6zM564 552h6v6h-6zM546 570h6v6h-6zM354 576h6v6h-6zM528 582h6v6h-6zM528 600h6v6h-6zM276 636h6v6h-6zM498 648h6v6h-6zM294 660h6v6h-6zM294 666h6v6h-6zM294 672h6v6h-6zM426 672h6v6h-6zM300 678h6v6h-6zM414 678h6v6h-6zM300 684h12v6h-12zM402 684h6v6h-6zM306 690h12v6h-12zM384 690h6v6h-6zM306 696h12v6h-12zM378 696h6v6h-6zM270 702h6v6h-6zM402 702h6v6h-6zM426 708h6v6h-6zM444 714h6v6h-6zM228 726h6v6h-6zM240 732h6v6h-6z"/><path fill="#a4a4a4" d="M678 150h24v6h-24zM678 156h6v6h-6zM690 156h18v6h-18zM672 162h6v6h-6zM708 162h12v6h-12zM666 168h6v6h-6zM714 168h6v6h-6zM654 186h6v6h-6zM702 186h6v6h-6zM648 192h6v6h-6zM708 192h6v6h-6zM654 198h6v6h-6zM702 198h6v6h-6zM696 204h6v6h-6zM642 210h6v6h-6zM696 210h6v6h-6zM642 216h6v6h-6zM690 216h6v6h-6zM642 222h6v6h-6zM672 222h12v6h-12zM630 246h12v6h-12zM648 246h18v6h-18zM624 252h6v6h-6zM666 252h12v6h-12zM618 258h6v6h-6zM672 258h6v6h-6zM612 264h6v6h-6zM666 264h6v6h-6zM606 270h6v6h-6zM666 270h6v6h-6zM606 276h6v6h-6zM660 276h6v6h-6zM600 282h6v6h-6zM660 282h6v6h-6zM594 288h6v6h-6zM654 288h6v6h-6zM594 294h6v6h-6zM654 294h6v6h-6zM588 300h6v6h-6zM654 300h6v6h-6zM582 306h6v6h-6zM654 306h6v6h-6zM570 312h6v6h-6zM660 312h6v6h-6zM660 318h6v6h-6zM558 324h6v6h-6zM660 324h6v6h-6zM660 330h6v6h-6zM546 336h6v6h-6zM660 336h6v6h-6zM540 342h6v6h-6zM660 342h6v6h-6zM534 348h6v6h-6zM528 360h6v6h-6zM666 366h6v6h-6zM666 372h6v6h-6zM498 378h6v6h-6zM660 378h6v6h-6zM492 384h6v6h-6zM648 390h6v6h-6zM654 402h6v6h-6zM654 414h6v6h-6zM462 420h6v6h-6zM642 432h6v6h-6zM444 450h6v6h-6zM438 456h6v6h-6zM624 456h6v6h-6zM426 468h6v6h-6zM402 492h6v6h-6zM606 498h6v6h-6zM582 510h6v6h-6zM582 516h6v6h-6zM582 522h6v6h-6zM576 528h6v6h-6zM372 540h6v6h-6zM564 540h6v6h-6zM564 546h6v6h-6zM360 552h6v6h-6zM360 564h6v6h-6zM360 570h6v6h-6zM528 576h6v6h-6zM348 582h6v6h-6zM522 582h6v6h-6zM336 588h6v6h-6zM528 588h6v6h-6zM330 594h6v6h-6zM528 594h6v6h-6zM324 600h6v6h-6zM318 606h6v6h-6zM522 606h6v6h-6zM528 612h6v6h-6zM534 618h6v6h-6zM540 624h6v6h-6zM276 630h6v6h-6zM546 630h6v6h-6zM282 642h6v6h-6zM456 660h6v6h-6zM300 666h6v6h-6zM438 666h6v6h-6zM300 672h6v6h-6zM306 678h6v6h-6zM312 684h6v6h-6zM396 684h6v6h-6zM318 690h18v6h-18zM372 690h12v6h-12zM318 696h60v6h-60zM276 702h6v6h-6zM396 702h6v6h-6zM258 708h6v6h-6zM234 720h6v6h-6zM456 720h6v6h-6zM462 726h6v6h-6zM450 732h6v6h-6z"/><path fill="#a5a5a5" d="M684 156h6v6h-6zM678 162h30v6h-30zM672 168h12v6h-12zM702 168h12v6h-12zM660 186h12v6h-12zM684 186h18v6h-18zM654 192h6v6h-6zM696 192h12v6h-12zM660 198h12v6h-12zM690 198h12v6h-12zM654 204h12v6h-12zM690 204h6v6h-6zM648 210h12v6h-12zM690 210h6v6h-6zM648 216h6v6h-6zM678 216h12v6h-12zM648 222h24v6h-24zM642 246h6v6h-6zM630 252h12v6h-12zM648 252h18v6h-18zM624 258h6v6h-6zM660 258h12v6h-12zM618 264h6v6h-6zM660 264h6v6h-6zM612 270h12v6h-12zM654 270h12v6h-12zM612 276h6v6h-6zM654 276h6v6h-6zM606 282h6v6h-6zM648 282h12v6h-12zM600 288h6v6h-6zM642 288h12v6h-12zM600 294h6v6h-6zM642 294h12v6h-12zM594 300h6v6h-6zM648 300h6v6h-6zM648 306h6v6h-6zM654 312h6v6h-6zM564 318h6v6h-6zM654 318h6v6h-6zM654 324h6v6h-6zM558 330h6v6h-6zM660 348h6v6h-6zM534 354h6v6h-6zM660 354h6v6h-6zM660 360h6v6h-6zM522 366h6v6h-6zM648 396h6v6h-6zM654 408h6v6h-6zM468 414h6v6h-6zM648 420h6v6h-6zM456 432h6v6h-6zM636 438h6v6h-6zM450 444h6v6h-6zM420 474h6v6h-6zM414 480h6v6h-6zM618 480h6v6h-6zM408 486h6v6h-6zM612 492h6v6h-6zM594 504h6v6h-6zM396 522h6v6h-6zM390 528h6v6h-6zM564 534h6v6h-6zM366 546h6v6h-6zM360 558h6v6h-6zM558 558h6v6h-6zM552 564h6v6h-6zM540 570h6v6h-6zM360 576h6v6h-6zM522 576h6v6h-6zM522 600h6v6h-6zM306 612h6v6h-6zM294 618h6v6h-6zM528 636h6v6h-6zM510 642h6v6h-6zM288 648h6v6h-6zM492 648h6v6h-6zM294 654h6v6h-6zM474 654h6v6h-6zM300 660h6v6h-6zM306 672h6v6h-6zM420 672h6v6h-6zM312 678h6v6h-6zM408 678h6v6h-6zM318 684h12v6h-12zM384 684h12v6h-12zM336 690h36v6h-36zM282 702h6v6h-6zM390 702h6v6h-6zM420 708h6v6h-6zM246 714h6v6h-6zM234 726h6v6h-6zM246 732h6v6h-6z"/><path fill="#a7a7a7" d="M684 168h18v6h-18zM672 186h12v6h-12zM660 192h12v6h-12zM684 192h12v6h-12zM672 198h18v6h-18zM666 204h24v6h-24zM660 210h30v6h-30zM654 216h24v6h-24zM642 252h6v6h-6zM630 258h30v6h-30zM624 264h36v6h-36zM624 270h30v6h-30zM618 276h36v6h-36zM612 282h36v6h-36zM606 288h12v6h-12zM630 288h12v6h-12zM606 294h6v6h-6zM630 294h12v6h-12zM600 300h6v6h-6zM636 300h12v6h-12zM588 306h6v6h-6zM642 306h6v6h-6zM576 312h6v6h-6zM648 312h6v6h-6zM564 324h6v6h-6zM564 330h6v6h-6zM654 330h6v6h-6zM552 336h6v6h-6zM654 336h6v6h-6zM546 342h6v6h-6zM654 342h6v6h-6zM540 348h6v6h-6zM654 348h6v6h-6zM654 354h6v6h-6zM534 360h6v6h-6zM660 366h6v6h-6zM510 372h6v6h-6zM660 372h6v6h-6zM654 378h6v6h-6zM648 384h6v6h-6zM492 390h6v6h-6zM642 390h6v6h-6zM486 396h6v6h-6zM480 402h6v6h-6zM474 408h6v6h-6zM462 426h6v6h-6zM642 426h6v6h-6zM456 438h6v6h-6zM630 444h6v6h-6zM444 456h6v6h-6zM438 462h6v6h-6zM618 462h6v6h-6zM618 468h6v6h-6zM618 474h6v6h-6zM402 498h6v6h-6zM402 504h6v6h-6zM402 510h6v6h-6zM402 516h6v6h-6zM576 516h6v6h-6zM570 528h6v6h-6zM384 534h6v6h-6zM516 582h6v6h-6zM522 588h6v6h-6zM522 594h6v6h-6zM516 606h6v6h-6zM522 612h6v6h-6zM528 618h6v6h-6zM540 630h6v6h-6zM306 660h6v6h-6zM450 660h6v6h-6zM306 666h6v6h-6zM432 666h6v6h-6zM312 672h6v6h-6zM318 678h6v6h-6zM402 678h6v6h-6zM330 684h54v6h-54zM288 702h6v6h-6zM384 702h6v6h-6zM264 708h6v6h-6zM414 708h6v6h-6zM438 714h6v6h-6zM444 732h6v6h-6zM210 804h6v6h-6z"/><path fill="#a8a8a8" d="M672 192h12v6h-12zM618 288h12v6h-12zM612 294h18v6h-18zM606 300h30v6h-30zM594 306h12v6h-12zM624 306h18v6h-18zM582 312h6v6h-6zM642 312h6v6h-6zM570 318h6v6h-6zM648 318h6v6h-6zM570 324h6v6h-6zM648 324h6v6h-6zM648 330h6v6h-6zM558 336h6v6h-6zM648 336h6v6h-6zM540 354h6v6h-6zM654 360h6v6h-6zM504 378h6v6h-6zM498 384h6v6h-6zM642 396h6v6h-6zM648 402h6v6h-6zM648 414h6v6h-6zM468 420h6v6h-6zM636 432h6v6h-6zM450 450h6v6h-6zM624 450h6v6h-6zM432 468h6v6h-6zM612 486h6v6h-6zM576 510h6v6h-6zM402 522h6v6h-6zM576 522h6v6h-6zM396 528h6v6h-6zM558 534h6v6h-6zM558 540h6v6h-6zM558 546h6v6h-6zM558 552h6v6h-6zM366 570h6v6h-6zM516 576h6v6h-6zM354 582h6v6h-6zM342 588h6v6h-6zM330 600h6v6h-6zM516 600h6v6h-6zM534 624h6v6h-6zM282 636h6v6h-6zM294 648h6v6h-6zM300 654h6v6h-6zM468 654h6v6h-6zM312 666h6v6h-6zM426 666h6v6h-6zM318 672h6v6h-6zM414 672h6v6h-6zM324 678h12v6h-12zM390 678h12v6h-12zM294 702h12v6h-12zM378 702h6v6h-6zM252 714h6v6h-6zM240 720h6v6h-6zM450 720h6v6h-6zM456 726h6v6h-6zM252 732h6v6h-6z"/><path fill="#a9a9a9" d="M606 306h18v6h-18zM588 312h6v6h-6zM630 312h12v6h-12zM576 318h6v6h-6zM642 318h6v6h-6zM642 324h6v6h-6zM570 330h6v6h-6zM642 330h6v6h-6zM552 342h6v6h-6zM648 342h6v6h-6zM546 348h6v6h-6zM648 348h6v6h-6zM546 354h6v6h-6zM648 354h6v6h-6zM540 360h6v6h-6zM648 360h6v6h-6zM528 366h6v6h-6zM654 366h6v6h-6zM516 372h6v6h-6zM654 372h6v6h-6zM648 378h6v6h-6zM642 384h6v6h-6zM648 408h6v6h-6zM474 414h6v6h-6zM642 420h6v6h-6zM462 432h6v6h-6zM630 438h6v6h-6zM456 444h6v6h-6zM618 456h6v6h-6zM426 474h6v6h-6zM408 492h6v6h-6zM588 504h6v6h-6zM408 510h6v6h-6zM408 516h6v6h-6zM378 540h6v6h-6zM366 552h6v6h-6zM366 564h6v6h-6zM546 564h6v6h-6zM534 570h6v6h-6zM366 576h6v6h-6zM510 582h6v6h-6zM516 588h6v6h-6zM336 594h6v6h-6zM516 594h6v6h-6zM510 600h6v6h-6zM324 606h6v6h-6zM510 606h6v6h-6zM516 612h6v6h-6zM288 624h6v6h-6zM534 630h6v6h-6zM522 636h6v6h-6zM288 642h6v6h-6zM504 642h6v6h-6zM486 648h6v6h-6zM312 660h6v6h-6zM444 660h6v6h-6zM318 666h6v6h-6zM324 672h12v6h-12zM408 672h6v6h-6zM336 678h54v6h-54zM306 702h12v6h-12zM366 702h12v6h-12zM270 708h6v6h-6zM408 708h6v6h-6zM432 714h6v6h-6zM240 726h6v6h-6zM438 732h6v6h-6z"/><path fill="#aaaaaa" d="M594 312h6v6h-6zM618 312h12v6h-12zM636 318h6v6h-6zM576 324h6v6h-6zM636 324h6v6h-6zM576 330h6v6h-6zM636 330h6v6h-6zM564 336h6v6h-6zM642 336h6v6h-6zM558 342h6v6h-6zM642 342h6v6h-6zM552 348h6v6h-6zM642 348h6v6h-6zM642 354h6v6h-6zM510 378h6v6h-6zM504 384h6v6h-6zM498 390h6v6h-6zM636 390h6v6h-6zM480 408h6v6h-6zM468 426h6v6h-6zM636 426h6v6h-6zM462 438h6v6h-6zM624 444h6v6h-6zM450 456h6v6h-6zM444 462h6v6h-6zM612 462h6v6h-6zM420 480h6v6h-6zM612 480h6v6h-6zM414 486h6v6h-6zM606 492h6v6h-6zM600 498h6v6h-6zM408 504h6v6h-6zM570 516h6v6h-6zM408 522h6v6h-6zM402 528h6v6h-6zM564 528h6v6h-6zM390 534h6v6h-6zM552 540h6v6h-6zM372 546h6v6h-6zM366 558h6v6h-6zM552 558h6v6h-6zM372 570h6v6h-6zM510 576h6v6h-6zM360 582h6v6h-6zM504 582h6v6h-6zM348 588h6v6h-6zM312 612h6v6h-6zM522 618h6v6h-6zM528 624h6v6h-6zM282 630h6v6h-6zM306 654h6v6h-6zM462 654h6v6h-6zM318 660h6v6h-6zM438 660h6v6h-6zM324 666h6v6h-6zM420 666h6v6h-6zM336 672h12v6h-12zM396 672h12v6h-12zM318 702h48v6h-48zM276 708h6v6h-6zM258 714h6v6h-6zM450 726h6v6h-6z"/><path fill="#acacac" d="M600 312h18v6h-18zM582 318h6v6h-6zM630 318h6v6h-6zM582 324h6v6h-6zM630 324h6v6h-6zM582 330h6v6h-6zM630 330h6v6h-6zM570 336h6v6h-6zM636 336h6v6h-6zM636 342h6v6h-6zM552 354h6v6h-6zM636 354h6v6h-6zM546 360h6v6h-6zM642 360h6v6h-6zM534 366h6v6h-6zM648 366h6v6h-6zM522 372h6v6h-6zM648 372h6v6h-6zM642 378h6v6h-6zM636 384h6v6h-6zM492 396h6v6h-6zM636 396h6v6h-6zM486 402h6v6h-6zM642 402h6v6h-6zM642 414h6v6h-6zM474 420h6v6h-6zM630 432h6v6h-6zM456 450h6v6h-6zM618 450h6v6h-6zM612 456h6v6h-6zM438 468h6v6h-6zM612 468h6v6h-6zM408 498h6v6h-6zM414 510h6v6h-6zM570 510h6v6h-6zM414 516h6v6h-6zM570 522h6v6h-6zM552 534h6v6h-6zM552 546h6v6h-6zM528 570h6v6h-6zM372 576h6v6h-6zM504 576h6v6h-6zM510 588h6v6h-6zM342 594h6v6h-6zM510 594h6v6h-6zM336 600h6v6h-6zM504 600h6v6h-6zM504 606h6v6h-6zM510 612h6v6h-6zM300 618h6v6h-6zM300 648h6v6h-6zM324 660h6v6h-6zM330 666h12v6h-12zM414 666h6v6h-6zM348 672h48v6h-48zM402 708h6v6h-6zM246 720h6v6h-6zM444 720h6v6h-6zM258 732h6v6h-6zM432 732h6v6h-6z"/><path fill="#adadad" d="M588 318h6v6h-6zM618 318h12v6h-12zM588 324h6v6h-6zM618 324h12v6h-12zM588 330h6v6h-6zM612 330h18v6h-18zM576 336h6v6h-6zM624 336h12v6h-12zM564 342h6v6h-6zM630 342h6v6h-6zM558 348h6v6h-6zM636 348h6v6h-6zM558 354h6v6h-6zM630 354h6v6h-6zM636 360h6v6h-6zM642 366h6v6h-6zM642 372h6v6h-6zM630 390h6v6h-6zM642 408h6v6h-6zM480 414h6v6h-6zM636 420h6v6h-6zM468 432h6v6h-6zM624 438h6v6h-6zM462 444h6v6h-6zM456 456h6v6h-6zM432 474h6v6h-6zM612 474h6v6h-6zM414 492h6v6h-6zM564 516h6v6h-6zM414 522h6v6h-6zM408 528h6v6h-6zM558 528h6v6h-6zM396 534h6v6h-6zM384 540h6v6h-6zM552 552h6v6h-6zM372 564h6v6h-6zM498 582h6v6h-6zM330 606h6v6h-6zM516 618h6v6h-6zM528 630h6v6h-6zM516 636h6v6h-6zM498 642h6v6h-6zM480 648h6v6h-6zM312 654h6v6h-6zM456 654h6v6h-6zM330 660h6v6h-6zM432 660h6v6h-6zM342 666h12v6h-12zM408 666h6v6h-6zM282 708h6v6h-6zM396 708h6v6h-6zM426 714h6v6h-6zM246 726h6v6h-6zM180 804h6v6h-6z"/><path fill="#aeaeae" d="M594 318h24v6h-24zM594 324h24v6h-24zM594 330h18v6h-18zM582 336h6v6h-6zM612 336h12v6h-12zM570 342h6v6h-6zM624 342h6v6h-6zM564 348h6v6h-6zM624 348h12v6h-12zM564 354h6v6h-6zM624 354h6v6h-6zM552 360h6v6h-6zM630 360h6v6h-6zM540 366h6v6h-6zM636 366h6v6h-6zM516 378h6v6h-6zM636 378h6v6h-6zM510 384h6v6h-6zM630 384h6v6h-6zM504 390h6v6h-6zM498 396h6v6h-6zM630 396h6v6h-6zM636 402h6v6h-6zM486 408h6v6h-6zM636 414h6v6h-6zM630 426h6v6h-6zM468 438h6v6h-6zM618 444h6v6h-6zM462 450h6v6h-6zM612 450h6v6h-6zM450 462h6v6h-6zM606 462h6v6h-6zM420 486h6v6h-6zM606 486h6v6h-6zM414 504h6v6h-6zM582 504h6v6h-6zM564 510h6v6h-6zM420 516h6v6h-6zM420 522h6v6h-6zM564 522h6v6h-6zM546 534h6v6h-6zM546 540h6v6h-6zM540 564h6v6h-6zM378 570h6v6h-6zM522 570h6v6h-6zM378 576h6v6h-6zM498 576h6v6h-6zM366 582h6v6h-6zM492 582h6v6h-6zM354 588h6v6h-6zM504 588h6v6h-6zM504 594h6v6h-6zM342 600h6v6h-6zM498 600h6v6h-6zM498 606h6v6h-6zM504 612h6v6h-6zM522 624h6v6h-6zM288 636h6v6h-6zM294 642h6v6h-6zM318 654h6v6h-6zM336 660h6v6h-6zM426 660h6v6h-6zM354 666h54v6h-54zM288 708h6v6h-6zM390 708h6v6h-6zM264 714h6v6h-6zM444 726h6v6h-6zM264 732h6v6h-6zM426 732h6v6h-6z"/><path fill="#b0b0b0" d="M588 336h24v6h-24zM576 342h6v6h-6zM612 342h12v6h-12zM570 348h6v6h-6zM618 348h6v6h-6zM570 354h6v6h-6zM606 354h18v6h-18zM558 360h6v6h-6zM618 360h12v6h-12zM528 372h6v6h-6zM636 372h6v6h-6zM624 390h6v6h-6zM492 402h6v6h-6zM636 408h6v6h-6zM480 420h6v6h-6zM630 420h6v6h-6zM474 426h6v6h-6zM624 432h6v6h-6zM468 444h6v6h-6zM606 456h6v6h-6zM444 468h6v6h-6zM606 468h6v6h-6zM426 480h6v6h-6zM414 498h6v6h-6zM594 498h6v6h-6zM420 510h6v6h-6zM426 516h6v6h-6zM558 516h6v6h-6zM414 528h6v6h-6zM552 528h6v6h-6zM402 534h6v6h-6zM540 534h6v6h-6zM378 546h6v6h-6zM372 552h6v6h-6zM372 558h6v6h-6zM546 558h6v6h-6zM492 576h6v6h-6zM498 588h6v6h-6zM348 594h6v6h-6zM498 594h6v6h-6zM492 600h6v6h-6zM492 606h6v6h-6zM318 612h6v6h-6zM510 618h6v6h-6zM294 624h6v6h-6zM288 630h6v6h-6zM522 630h6v6h-6zM510 636h6v6h-6zM306 648h6v6h-6zM474 648h6v6h-6zM450 654h6v6h-6zM342 660h6v6h-6zM420 660h6v6h-6zM294 708h6v6h-6zM384 708h6v6h-6zM420 714h6v6h-6zM252 720h6v6h-6zM438 720h6v6h-6z"/><path fill="#b1b1b1" d="M582 342h30v6h-30zM576 348h6v6h-6zM600 348h18v6h-18zM576 354h30v6h-30zM564 360h6v6h-6zM600 360h18v6h-18zM546 366h6v6h-6zM630 366h6v6h-6zM630 372h6v6h-6zM522 378h6v6h-6zM630 378h6v6h-6zM516 384h6v6h-6zM624 384h6v6h-6zM510 390h6v6h-6zM486 414h6v6h-6zM618 438h6v6h-6zM612 444h6v6h-6zM462 456h6v6h-6zM456 462h6v6h-6zM606 480h6v6h-6zM600 492h6v6h-6zM426 522h6v6h-6zM558 522h6v6h-6zM420 528h6v6h-6zM546 528h6v6h-6zM390 540h6v6h-6zM540 540h6v6h-6zM546 546h6v6h-6zM378 564h6v6h-6zM384 570h6v6h-6zM516 570h6v6h-6zM384 576h6v6h-6zM486 576h6v6h-6zM372 582h6v6h-6zM486 582h6v6h-6zM360 588h6v6h-6zM486 600h6v6h-6zM336 606h6v6h-6zM516 624h6v6h-6zM492 642h6v6h-6zM324 654h6v6h-6zM348 660h6v6h-6zM414 660h6v6h-6zM300 708h6v6h-6zM378 708h6v6h-6zM270 714h6v6h-6zM252 726h6v6h-6zM270 732h6v6h-6zM420 732h6v6h-6z"/><path fill="#b2b2b2" d="M582 348h18v6h-18zM570 360h30v6h-30zM624 366h6v6h-6zM534 372h6v6h-6zM624 378h6v6h-6zM618 390h6v6h-6zM504 396h6v6h-6zM624 396h6v6h-6zM630 402h6v6h-6zM492 408h6v6h-6zM630 414h6v6h-6zM624 426h6v6h-6zM474 432h6v6h-6zM474 438h6v6h-6zM468 450h6v6h-6zM606 450h6v6h-6zM600 462h6v6h-6zM438 474h6v6h-6zM606 474h6v6h-6zM420 492h6v6h-6zM420 504h6v6h-6zM576 504h6v6h-6zM426 510h6v6h-6zM558 510h6v6h-6zM432 516h6v6h-6zM552 516h6v6h-6zM432 522h6v6h-6zM534 534h6v6h-6zM546 552h6v6h-6zM534 564h6v6h-6zM390 576h6v6h-6zM480 576h6v6h-6zM480 582h6v6h-6zM492 588h6v6h-6zM492 594h6v6h-6zM348 600h6v6h-6zM486 606h6v6h-6zM498 612h6v6h-6zM306 618h6v6h-6zM444 654h6v6h-6zM354 660h18v6h-18zM396 660h18v6h-18zM306 708h12v6h-12zM372 708h6v6h-6zM414 714h6v6h-6zM438 726h6v6h-6z"/><path fill="#b3b3b3" d="M552 366h6v6h-6zM612 366h12v6h-12zM540 372h6v6h-6zM624 372h6v6h-6zM528 378h6v6h-6zM522 384h6v6h-6zM618 384h6v6h-6zM498 402h6v6h-6zM630 408h6v6h-6zM486 420h6v6h-6zM624 420h6v6h-6zM480 426h6v6h-6zM618 432h6v6h-6zM612 438h6v6h-6zM474 444h6v6h-6zM468 456h6v6h-6zM600 456h6v6h-6zM462 462h6v6h-6zM450 468h6v6h-6zM600 468h6v6h-6zM432 480h6v6h-6zM426 486h6v6h-6zM420 498h6v6h-6zM438 516h6v6h-6zM438 522h6v6h-6zM552 522h6v6h-6zM426 528h6v6h-6zM540 528h6v6h-6zM408 534h6v6h-6zM390 570h6v6h-6zM510 570h6v6h-6zM474 576h6v6h-6zM378 582h6v6h-6zM474 582h6v6h-6zM366 588h6v6h-6zM486 588h6v6h-6zM354 594h6v6h-6zM486 594h6v6h-6zM480 600h6v6h-6zM504 618h6v6h-6zM516 630h6v6h-6zM294 636h6v6h-6zM504 636h6v6h-6zM300 642h6v6h-6zM312 648h6v6h-6zM468 648h6v6h-6zM330 654h6v6h-6zM372 660h24v6h-24zM318 708h12v6h-12zM360 708h12v6h-12zM276 714h6v6h-6zM258 720h6v6h-6zM432 720h6v6h-6zM276 732h6v6h-6zM414 732h6v6h-6z"/><path fill="#b5b5b5" d="M558 366h6v6h-6zM606 366h6v6h-6zM618 372h6v6h-6zM618 378h6v6h-6zM612 384h6v6h-6zM516 390h6v6h-6zM612 390h6v6h-6zM618 396h6v6h-6zM624 402h6v6h-6zM492 414h6v6h-6zM624 414h6v6h-6zM618 426h6v6h-6zM606 444h6v6h-6zM474 450h6v6h-6zM600 486h6v6h-6zM588 498h6v6h-6zM432 510h6v6h-6zM552 510h6v6h-6zM546 516h6v6h-6zM444 522h6v6h-6zM546 522h6v6h-6zM432 528h6v6h-6zM534 528h6v6h-6zM528 534h6v6h-6zM534 540h6v6h-6zM384 546h6v6h-6zM540 546h6v6h-6zM378 552h6v6h-6zM378 558h6v6h-6zM540 558h6v6h-6zM384 564h6v6h-6zM396 576h6v6h-6zM468 576h6v6h-6zM384 582h6v6h-6zM468 582h6v6h-6zM480 594h6v6h-6zM474 600h6v6h-6zM342 606h6v6h-6zM480 606h6v6h-6zM324 612h6v6h-6zM492 612h6v6h-6zM510 624h6v6h-6zM486 642h6v6h-6zM336 654h6v6h-6zM438 654h6v6h-6zM330 708h30v6h-30zM408 714h6v6h-6zM258 726h6v6h-6zM432 726h6v6h-6zM204 804h6v6h-6z"/><path fill="#b6b6b6" d="M564 366h6v6h-6zM594 366h12v6h-12zM546 372h6v6h-6zM612 372h6v6h-6zM534 378h6v6h-6zM612 378h6v6h-6zM528 384h6v6h-6zM510 396h6v6h-6zM504 402h6v6h-6zM498 408h6v6h-6zM624 408h6v6h-6zM618 414h6v6h-6zM618 420h6v6h-6zM480 432h6v6h-6zM612 432h6v6h-6zM480 438h6v6h-6zM480 444h6v6h-6zM600 450h6v6h-6zM474 456h6v6h-6zM594 456h6v6h-6zM594 462h6v6h-6zM456 468h6v6h-6zM444 474h6v6h-6zM600 474h6v6h-6zM600 480h6v6h-6zM426 504h6v6h-6zM570 504h6v6h-6zM444 516h6v6h-6zM540 516h6v6h-6zM450 522h6v6h-6zM540 522h6v6h-6zM438 528h6v6h-6zM528 528h6v6h-6zM414 534h6v6h-6zM522 534h6v6h-6zM396 540h6v6h-6zM528 564h6v6h-6zM396 570h6v6h-6zM504 570h6v6h-6zM402 576h6v6h-6zM462 576h6v6h-6zM462 582h6v6h-6zM372 588h6v6h-6zM480 588h6v6h-6zM360 594h6v6h-6zM474 594h6v6h-6zM354 600h6v6h-6zM468 600h6v6h-6zM474 606h6v6h-6zM300 624h6v6h-6zM294 630h6v6h-6zM318 648h6v6h-6zM462 648h6v6h-6zM342 654h6v6h-6zM432 654h6v6h-6zM282 714h6v6h-6zM264 720h6v6h-6zM282 732h6v6h-6zM408 732h6v6h-6z"/><path fill="#b7b7b7" d="M570 366h24v6h-24zM552 372h6v6h-6zM606 372h6v6h-6zM540 378h6v6h-6zM606 378h6v6h-6zM606 384h6v6h-6zM522 390h6v6h-6zM606 390h6v6h-6zM612 396h6v6h-6zM618 402h6v6h-6zM618 408h6v6h-6zM492 420h6v6h-6zM486 426h6v6h-6zM612 426h6v6h-6zM606 438h6v6h-6zM600 444h6v6h-6zM480 450h6v6h-6zM468 462h6v6h-6zM594 468h6v6h-6zM426 492h6v6h-6zM594 492h6v6h-6zM438 510h6v6h-6zM546 510h6v6h-6zM450 516h6v6h-6zM534 516h6v6h-6zM456 522h6v6h-6zM534 522h6v6h-6zM444 528h6v6h-6zM522 528h6v6h-6zM528 540h6v6h-6zM540 552h6v6h-6zM408 576h6v6h-6zM450 576h12v6h-12zM390 582h6v6h-6zM456 582h6v6h-6zM474 588h6v6h-6zM468 594h6v6h-6zM462 600h6v6h-6zM348 606h6v6h-6zM486 612h6v6h-6zM498 618h6v6h-6zM510 630h6v6h-6zM498 636h6v6h-6zM306 642h6v6h-6zM348 654h6v6h-6zM426 654h6v6h-6zM402 714h6v6h-6zM426 720h6v6h-6zM264 726h6v6h-6zM288 732h6v6h-6z"/><path fill="#b9b9b9" d="M558 372h6v6h-6zM594 372h12v6h-12zM546 378h6v6h-6zM600 378h6v6h-6zM534 384h6v6h-6zM600 384h6v6h-6zM528 390h6v6h-6zM516 396h6v6h-6zM498 414h6v6h-6zM612 414h6v6h-6zM612 420h6v6h-6zM606 432h6v6h-6zM594 450h6v6h-6zM588 456h6v6h-6zM588 462h6v6h-6zM438 480h6v6h-6zM432 486h6v6h-6zM426 498h6v6h-6zM432 504h6v6h-6zM444 510h6v6h-6zM540 510h6v6h-6zM456 516h12v6h-12zM528 516h6v6h-6zM462 522h12v6h-12zM528 522h6v6h-6zM450 528h6v6h-6zM510 528h12v6h-12zM420 534h6v6h-6zM516 534h6v6h-6zM390 564h6v6h-6zM402 570h6v6h-6zM498 570h6v6h-6zM414 576h36v6h-36zM396 582h6v6h-6zM444 582h12v6h-12zM378 588h6v6h-6zM468 588h6v6h-6zM366 594h6v6h-6zM462 594h6v6h-6zM360 600h6v6h-6zM456 600h6v6h-6zM468 606h6v6h-6zM312 618h6v6h-6zM504 624h6v6h-6zM480 642h6v6h-6zM354 654h6v6h-6zM420 654h6v6h-6zM288 714h6v6h-6zM426 726h6v6h-6zM402 732h6v6h-6z"/><path fill="#bababa" d="M564 372h6v6h-6zM582 372h12v6h-12zM594 378h6v6h-6zM540 384h6v6h-6zM594 384h6v6h-6zM600 390h6v6h-6zM606 396h6v6h-6zM510 402h6v6h-6zM612 402h6v6h-6zM504 408h6v6h-6zM612 408h6v6h-6zM606 414h6v6h-6zM606 420h6v6h-6zM486 438h6v6h-6zM600 438h6v6h-6zM486 444h6v6h-6zM486 450h6v6h-6zM480 456h6v6h-6zM474 462h6v6h-6zM462 468h6v6h-6zM450 474h6v6h-6zM582 498h6v6h-6zM564 504h6v6h-6zM468 516h12v6h-12zM522 516h6v6h-6zM474 522h18v6h-18zM516 522h12v6h-12zM456 528h54v6h-54zM426 534h6v6h-6zM510 534h6v6h-6zM402 540h6v6h-6zM390 546h6v6h-6zM534 546h6v6h-6zM384 552h6v6h-6zM384 558h6v6h-6zM534 558h6v6h-6zM522 564h6v6h-6zM408 570h6v6h-6zM492 570h6v6h-6zM402 582h12v6h-12zM432 582h12v6h-12zM384 588h6v6h-6zM462 588h6v6h-6zM456 594h6v6h-6zM450 600h6v6h-6zM462 606h6v6h-6zM330 612h6v6h-6zM480 612h6v6h-6zM492 618h6v6h-6zM504 630h6v6h-6zM300 636h6v6h-6zM324 648h6v6h-6zM456 648h6v6h-6zM360 654h6v6h-6zM414 654h6v6h-6zM396 714h6v6h-6zM270 720h6v6h-6zM420 720h6v6h-6zM294 732h6v6h-6zM186 804h6v6h-6z"/><path fill="#bbbbbb" d="M570 372h12v6h-12zM552 378h12v6h-12zM582 378h12v6h-12zM546 384h6v6h-6zM588 384h6v6h-6zM534 390h6v6h-6zM594 390h6v6h-6zM522 396h6v6h-6zM600 396h6v6h-6zM606 402h6v6h-6zM606 408h6v6h-6zM594 414h12v6h-12zM498 420h6v6h-6zM492 426h6v6h-6zM606 426h6v6h-6zM486 432h6v6h-6zM594 444h6v6h-6zM588 450h6v6h-6zM486 456h6v6h-6zM582 456h6v6h-6zM582 462h6v6h-6zM588 468h6v6h-6zM594 474h6v6h-6zM594 486h6v6h-6zM450 510h6v6h-6zM534 510h6v6h-6zM480 516h42v6h-42zM492 522h24v6h-24zM504 534h6v6h-6zM522 540h6v6h-6zM414 582h18v6h-18zM450 588h12v6h-12zM372 594h6v6h-6zM450 594h6v6h-6zM366 600h6v6h-6zM444 600h6v6h-6zM354 606h6v6h-6zM456 606h6v6h-6zM492 636h6v6h-6zM366 654h12v6h-12zM402 654h12v6h-12zM294 714h6v6h-6zM270 726h6v6h-6zM396 732h6v6h-6z"/><path fill="#bcbcbc" d="M564 378h18v6h-18zM552 384h6v6h-6zM576 384h12v6h-12zM540 390h6v6h-6zM588 390h6v6h-6zM516 402h6v6h-6zM510 408h6v6h-6zM600 408h6v6h-6zM504 414h6v6h-6zM588 414h6v6h-6zM600 420h6v6h-6zM600 432h6v6h-6zM492 438h6v6h-6zM594 438h6v6h-6zM492 444h6v6h-6zM492 450h6v6h-6zM480 462h6v6h-6zM468 468h6v6h-6zM594 480h6v6h-6zM432 492h6v6h-6zM432 498h6v6h-6zM438 504h6v6h-6zM456 510h6v6h-6zM528 510h6v6h-6zM432 534h6v6h-6zM498 534h6v6h-6zM534 552h6v6h-6zM396 564h6v6h-6zM414 570h6v6h-6zM486 570h6v6h-6zM390 588h6v6h-6zM444 588h6v6h-6zM378 594h6v6h-6zM444 594h6v6h-6zM438 600h6v6h-6zM474 612h6v6h-6zM498 624h6v6h-6zM300 630h6v6h-6zM312 642h6v6h-6zM474 642h6v6h-6zM330 648h6v6h-6zM450 648h6v6h-6zM378 654h24v6h-24zM300 714h6v6h-6zM390 714h6v6h-6zM420 726h6v6h-6zM300 732h6v6h-6zM390 732h6v6h-6z"/><path fill="#bebebe" d="M558 384h18v6h-18zM546 390h6v6h-6zM582 390h6v6h-6zM528 396h6v6h-6zM594 396h6v6h-6zM600 402h6v6h-6zM594 408h6v6h-6zM582 414h6v6h-6zM504 420h6v6h-6zM594 420h6v6h-6zM600 426h6v6h-6zM588 444h6v6h-6zM582 450h6v6h-6zM492 456h6v6h-6zM576 456h6v6h-6zM576 462h6v6h-6zM456 474h6v6h-6zM444 480h6v6h-6zM438 486h6v6h-6zM588 492h6v6h-6zM558 504h6v6h-6zM462 510h6v6h-6zM522 510h6v6h-6zM438 534h6v6h-6zM492 534h6v6h-6zM408 540h6v6h-6zM516 540h6v6h-6zM528 546h6v6h-6zM516 564h6v6h-6zM420 570h6v6h-6zM480 570h6v6h-6zM396 588h12v6h-12zM432 588h12v6h-12zM384 594h6v6h-6zM438 594h6v6h-6zM372 600h6v6h-6zM432 600h6v6h-6zM360 606h6v6h-6zM450 606h6v6h-6zM336 612h6v6h-6zM486 618h6v6h-6zM306 624h6v6h-6zM498 630h6v6h-6zM306 714h6v6h-6zM384 714h6v6h-6zM276 720h6v6h-6zM414 720h6v6h-6zM306 732h6v6h-6zM384 732h6v6h-6zM198 804h6v6h-6z"/><path fill="#bfbfbf" d="M552 390h12v6h-12zM570 390h12v6h-12zM534 396h6v6h-6zM588 396h6v6h-6zM522 402h6v6h-6zM594 402h6v6h-6zM588 408h6v6h-6zM510 414h6v6h-6zM576 414h6v6h-6zM498 426h6v6h-6zM492 432h6v6h-6zM594 432h6v6h-6zM588 438h6v6h-6zM498 444h6v6h-6zM582 444h6v6h-6zM498 450h6v6h-6zM486 462h6v6h-6zM582 468h6v6h-6zM576 498h6v6h-6zM444 504h6v6h-6zM468 510h6v6h-6zM516 510h6v6h-6zM444 534h12v6h-12zM474 534h18v6h-18zM396 546h6v6h-6zM390 558h6v6h-6zM528 558h6v6h-6zM426 570h6v6h-6zM474 570h6v6h-6zM408 588h24v6h-24zM390 594h6v6h-6zM426 594h12v6h-12zM378 600h6v6h-6zM426 600h6v6h-6zM444 606h6v6h-6zM468 612h6v6h-6zM318 618h6v6h-6zM306 636h6v6h-6zM336 648h6v6h-6zM444 648h6v6h-6zM378 714h6v6h-6zM276 726h6v6h-6zM312 732h6v6h-6zM192 804h6v6h-6z"/><path fill="#c0c0c0" d="M564 390h6v6h-6zM582 396h6v6h-6zM588 402h6v6h-6zM516 408h6v6h-6zM582 408h6v6h-6zM570 414h6v6h-6zM588 420h6v6h-6zM594 426h6v6h-6zM498 438h6v6h-6zM576 450h6v6h-6zM498 456h6v6h-6zM570 456h6v6h-6zM570 462h6v6h-6zM474 468h6v6h-6zM588 474h6v6h-6zM438 492h6v6h-6zM438 498h6v6h-6zM552 504h6v6h-6zM474 510h42v6h-42zM456 534h18v6h-18zM414 540h6v6h-6zM510 540h6v6h-6zM390 552h6v6h-6zM402 564h6v6h-6zM432 570h12v6h-12zM456 570h18v6h-18zM396 594h6v6h-6zM414 594h12v6h-12zM384 600h6v6h-6zM414 600h12v6h-12zM366 606h6v6h-6zM438 606h6v6h-6zM492 624h6v6h-6zM486 636h6v6h-6zM468 642h6v6h-6zM312 714h6v6h-6zM372 714h6v6h-6zM282 720h6v6h-6zM414 726h6v6h-6zM318 732h6v6h-6zM378 732h6v6h-6z"/><path fill="#c1c1c1" d="M540 396h6v6h-6zM576 396h6v6h-6zM528 402h6v6h-6zM582 402h6v6h-6zM576 408h6v6h-6zM516 414h6v6h-6zM510 420h6v6h-6zM582 420h6v6h-6zM588 426h6v6h-6zM588 432h6v6h-6zM582 438h6v6h-6zM504 444h6v6h-6zM576 444h6v6h-6zM504 450h6v6h-6zM570 450h6v6h-6zM504 456h6v6h-6zM564 456h6v6h-6zM492 462h6v6h-6zM576 468h6v6h-6zM588 480h6v6h-6zM588 486h6v6h-6zM450 504h6v6h-6zM522 546h6v6h-6zM528 552h6v6h-6zM510 564h6v6h-6zM444 570h12v6h-12zM402 594h12v6h-12zM390 600h24v6h-24zM372 606h6v6h-6zM432 606h6v6h-6zM342 612h6v6h-6zM462 612h6v6h-6zM480 618h6v6h-6zM318 642h6v6h-6zM342 648h6v6h-6zM438 648h6v6h-6zM318 714h6v6h-6zM366 714h6v6h-6zM408 720h6v6h-6zM282 726h6v6h-6zM324 732h6v6h-6zM372 732h6v6h-6z"/><path fill="#c3c3c3" d="M546 396h30v6h-30zM534 402h6v6h-6zM576 402h6v6h-6zM522 408h6v6h-6zM570 408h6v6h-6zM564 414h6v6h-6zM576 420h6v6h-6zM504 426h6v6h-6zM498 432h6v6h-6zM582 432h6v6h-6zM504 438h6v6h-6zM510 444h6v6h-6zM570 444h6v6h-6zM510 450h6v6h-6zM564 450h6v6h-6zM510 456h6v6h-6zM558 456h6v6h-6zM498 462h6v6h-6zM564 462h6v6h-6zM480 468h6v6h-6zM462 474h6v6h-6zM450 480h6v6h-6zM444 486h6v6h-6zM582 492h6v6h-6zM504 540h6v6h-6zM426 606h6v6h-6zM306 630h6v6h-6zM492 630h6v6h-6zM324 714h18v6h-18zM354 714h12v6h-12zM408 726h6v6h-6zM330 732h12v6h-12zM360 732h12v6h-12z"/><path fill="#c4c4c4" d="M570 402h6v6h-6zM528 408h6v6h-6zM564 408h6v6h-6zM522 414h6v6h-6zM558 414h6v6h-6zM516 420h6v6h-6zM570 420h6v6h-6zM582 426h6v6h-6zM576 438h6v6h-6zM516 450h6v6h-6zM558 450h6v6h-6zM516 456h6v6h-6zM552 456h6v6h-6zM504 462h6v6h-6zM558 462h6v6h-6zM582 474h6v6h-6zM570 498h6v6h-6zM456 504h6v6h-6zM546 504h6v6h-6zM420 540h6v6h-6zM402 546h6v6h-6zM396 558h6v6h-6zM522 558h6v6h-6zM408 564h6v6h-6zM504 564h6v6h-6zM378 606h12v6h-12zM420 606h6v6h-6zM456 612h6v6h-6zM324 618h6v6h-6zM312 624h6v6h-6zM486 624h6v6h-6zM480 636h6v6h-6zM462 642h6v6h-6zM348 648h6v6h-6zM432 648h6v6h-6zM342 714h12v6h-12zM288 720h6v6h-6zM402 720h6v6h-6zM342 732h18v6h-18z"/><path fill="#c5c5c5" d="M540 402h12v6h-12zM564 402h6v6h-6zM534 408h6v6h-6zM558 408h6v6h-6zM528 414h6v6h-6zM552 414h6v6h-6zM564 420h6v6h-6zM510 426h6v6h-6zM576 426h6v6h-6zM576 432h6v6h-6zM510 438h6v6h-6zM570 438h6v6h-6zM516 444h6v6h-6zM564 444h6v6h-6zM522 450h12v6h-12zM546 450h12v6h-12zM522 456h30v6h-30zM510 462h6v6h-6zM552 462h6v6h-6zM486 468h6v6h-6zM570 468h6v6h-6zM468 474h6v6h-6zM444 492h6v6h-6zM444 498h6v6h-6zM498 540h6v6h-6zM396 552h6v6h-6zM390 606h30v6h-30zM348 612h6v6h-6zM474 618h6v6h-6zM312 636h6v6h-6zM324 642h6v6h-6zM426 648h6v6h-6zM288 726h6v6h-6z"/><path fill="#c7c7c7" d="M552 402h12v6h-12zM540 408h18v6h-18zM534 414h18v6h-18zM522 420h6v6h-6zM558 420h6v6h-6zM504 432h6v6h-6zM516 438h6v6h-6zM564 438h6v6h-6zM522 444h12v6h-12zM552 444h12v6h-12zM534 450h12v6h-12zM516 462h36v6h-36zM456 480h6v6h-6zM582 480h6v6h-6zM582 486h6v6h-6zM462 504h6v6h-6zM540 504h6v6h-6zM426 540h6v6h-6zM516 546h6v6h-6zM522 552h6v6h-6zM414 564h6v6h-6zM450 612h6v6h-6zM486 630h6v6h-6zM354 648h6v6h-6zM294 720h6v6h-6zM396 720h6v6h-6zM402 726h6v6h-6z"/><path fill="#c8c8c8" d="M528 420h6v6h-6zM552 420h6v6h-6zM516 426h6v6h-6zM570 426h6v6h-6zM570 432h6v6h-6zM558 438h6v6h-6zM534 444h18v6h-18zM492 468h6v6h-6zM564 468h6v6h-6zM576 474h6v6h-6zM450 486h6v6h-6zM534 504h6v6h-6zM492 540h6v6h-6zM498 564h6v6h-6zM456 642h6v6h-6zM360 648h6v6h-6zM420 648h6v6h-6zM294 726h6v6h-6z"/><path fill="#c9c9c9" d="M534 420h18v6h-18zM564 426h6v6h-6zM510 432h6v6h-6zM564 432h6v6h-6zM522 438h12v6h-12zM546 438h12v6h-12zM498 468h6v6h-6zM558 468h6v6h-6zM474 474h6v6h-6zM576 492h6v6h-6zM450 498h6v6h-6zM564 498h6v6h-6zM468 504h6v6h-6zM432 540h6v6h-6zM486 540h6v6h-6zM408 546h6v6h-6zM402 558h6v6h-6zM516 558h6v6h-6zM354 612h6v6h-6zM444 612h6v6h-6zM468 618h6v6h-6zM480 624h6v6h-6zM474 636h6v6h-6zM366 648h6v6h-6zM414 648h6v6h-6zM300 720h6v6h-6zM396 726h6v6h-6z"/><path fill="#cacaca" d="M522 426h6v6h-6zM558 426h6v6h-6zM558 432h6v6h-6zM534 438h12v6h-12zM552 468h6v6h-6zM450 492h6v6h-6zM474 504h6v6h-6zM528 504h6v6h-6zM438 540h6v6h-6zM510 546h6v6h-6zM402 552h6v6h-6zM420 564h6v6h-6zM492 564h6v6h-6zM330 618h6v6h-6zM318 624h6v6h-6zM312 630h6v6h-6zM480 630h6v6h-6zM330 642h6v6h-6zM372 648h6v6h-6zM408 648h6v6h-6zM390 720h6v6h-6zM300 726h6v6h-6z"/><path fill="#cccccc" d="M528 426h6v6h-6zM546 426h12v6h-12zM516 432h6v6h-6zM552 432h6v6h-6zM504 468h6v6h-6zM546 468h6v6h-6zM570 474h6v6h-6zM462 480h6v6h-6zM576 480h6v6h-6zM480 504h6v6h-6zM522 504h6v6h-6zM444 540h6v6h-6zM480 540h6v6h-6zM360 612h6v6h-6zM438 612h6v6h-6zM318 636h6v6h-6zM450 642h6v6h-6zM378 648h30v6h-30zM306 720h6v6h-6zM390 726h6v6h-6z"/><path fill="#cdcdcd" d="M534 426h12v6h-12zM522 432h6v6h-6zM546 432h6v6h-6zM510 468h12v6h-12zM540 468h6v6h-6zM480 474h6v6h-6zM456 486h6v6h-6zM576 486h6v6h-6zM456 498h6v6h-6zM558 498h6v6h-6zM486 504h12v6h-12zM510 504h12v6h-12zM450 540h6v6h-6zM468 540h12v6h-12zM414 546h6v6h-6zM516 552h6v6h-6zM426 564h6v6h-6zM486 564h6v6h-6zM462 618h6v6h-6zM474 624h6v6h-6zM468 636h6v6h-6zM384 720h6v6h-6zM306 726h6v6h-6z"/><path fill="#cecece" d="M528 432h18v6h-18zM522 468h18v6h-18zM570 492h6v6h-6zM498 504h12v6h-12zM456 540h12v6h-12zM408 558h6v6h-6zM510 558h6v6h-6zM432 564h6v6h-6zM366 612h6v6h-6zM432 612h6v6h-6zM336 642h6v6h-6zM312 720h6v6h-6zM378 720h6v6h-6zM384 726h6v6h-6z"/><path fill="#d0d0d0" d="M486 474h6v6h-6zM564 474h6v6h-6zM468 480h6v6h-6zM456 492h6v6h-6zM462 498h6v6h-6zM504 546h6v6h-6zM480 564h6v6h-6zM426 612h6v6h-6zM336 618h6v6h-6zM474 630h6v6h-6zM444 642h6v6h-6zM318 720h6v6h-6zM312 726h6v6h-6z"/><path fill="#d1d1d1" d="M570 480h6v6h-6zM552 498h6v6h-6zM408 552h6v6h-6zM438 564h6v6h-6zM474 564h6v6h-6zM372 612h6v6h-6zM420 612h6v6h-6zM456 618h6v6h-6zM318 630h6v6h-6zM324 636h6v6h-6zM372 720h6v6h-6zM378 726h6v6h-6z"/><path fill="#d2d2d2" d="M558 474h6v6h-6zM462 486h6v6h-6zM570 486h6v6h-6zM420 546h6v6h-6zM510 552h6v6h-6zM414 558h6v6h-6zM504 558h6v6h-6zM444 564h12v6h-12zM468 564h6v6h-6zM324 624h6v6h-6zM468 624h6v6h-6zM462 636h6v6h-6zM342 642h6v6h-6zM324 720h12v6h-12zM366 720h6v6h-6zM318 726h6v6h-6zM372 726h6v6h-6z"/><path fill="#d3d3d3" d="M492 474h6v6h-6zM462 492h6v6h-6zM468 498h6v6h-6zM498 546h6v6h-6zM456 564h12v6h-12zM378 612h12v6h-12zM408 612h12v6h-12zM438 642h6v6h-6zM336 720h30v6h-30zM324 726h6v6h-6zM366 726h6v6h-6z"/><path fill="#d5d5d5" d="M498 474h6v6h-6zM552 474h6v6h-6zM474 480h6v6h-6zM564 480h6v6h-6zM564 492h6v6h-6zM546 498h6v6h-6zM390 612h18v6h-18zM342 618h6v6h-6zM450 618h6v6h-6zM468 630h6v6h-6zM330 726h6v6h-6zM360 726h6v6h-6z"/><path fill="#d6d6d6" d="M474 498h6v6h-6zM426 546h6v6h-6zM492 546h6v6h-6zM414 552h6v6h-6zM462 624h6v6h-6zM348 642h6v6h-6zM432 642h6v6h-6zM336 726h24v6h-24z"/><path fill="#d7d7d7" d="M504 474h6v6h-6zM546 474h6v6h-6zM468 486h6v6h-6zM540 498h6v6h-6zM504 552h6v6h-6zM420 558h6v6h-6zM498 558h6v6h-6zM324 630h6v6h-6zM330 636h6v6h-6zM456 636h6v6h-6z"/><path fill="#d9d9d9" d="M510 474h12v6h-12zM534 474h12v6h-12zM480 480h6v6h-6zM564 486h6v6h-6zM468 492h6v6h-6zM558 492h6v6h-6zM480 498h6v6h-6zM432 546h6v6h-6zM444 618h6v6h-6zM330 624h6v6h-6zM354 642h6v6h-6z"/><path fill="#dadada" d="M522 474h12v6h-12zM558 480h6v6h-6zM534 498h6v6h-6zM486 546h6v6h-6zM348 618h6v6h-6zM462 630h6v6h-6zM426 642h6v6h-6z"/><path fill="#dbdbdb" d="M486 498h6v6h-6zM420 552h6v6h-6zM426 558h6v6h-6zM492 558h6v6h-6zM456 624h6v6h-6zM450 636h6v6h-6z"/><path fill="#dcdcdc" d="M486 480h6v6h-6zM552 480h6v6h-6zM474 486h6v6h-6zM558 486h6v6h-6zM474 492h6v6h-6zM492 498h6v6h-6zM528 498h6v6h-6zM438 546h6v6h-6zM480 546h6v6h-6zM498 552h6v6h-6zM438 618h6v6h-6zM336 636h6v6h-6zM360 642h6v6h-6zM420 642h6v6h-6z"/><path fill="#dedede" d="M552 492h6v6h-6zM498 498h12v6h-12zM522 498h6v6h-6zM444 546h6v6h-6zM474 546h6v6h-6zM354 618h6v6h-6zM330 630h6v6h-6zM366 642h6v6h-6zM414 642h6v6h-6z"/><path fill="#dfdfdf" d="M492 480h6v6h-6zM510 498h12v6h-12zM450 546h6v6h-6zM468 546h6v6h-6zM426 552h6v6h-6zM432 558h6v6h-6zM486 558h6v6h-6zM432 618h6v6h-6zM336 624h6v6h-6zM456 630h6v6h-6z"/><path fill="#e0e0e0" d="M546 480h6v6h-6zM480 486h6v6h-6zM480 492h6v6h-6zM456 546h12v6h-12zM492 552h6v6h-6zM450 624h6v6h-6zM444 636h6v6h-6zM372 642h6v6h-6zM408 642h6v6h-6z"/><path fill="#e2e2e2" d="M498 480h6v6h-6zM552 486h6v6h-6zM546 492h6v6h-6zM438 558h6v6h-6zM480 558h6v6h-6zM360 618h6v6h-6zM426 618h6v6h-6zM342 636h6v6h-6zM378 642h12v6h-12zM396 642h12v6h-12z"/><path fill="#e3e3e3" d="M540 480h6v6h-6zM486 492h6v6h-6zM432 552h6v6h-6zM390 642h6v6h-6z"/><path fill="#e4e4e4" d="M504 480h6v6h-6zM534 480h6v6h-6zM486 486h6v6h-6zM486 552h6v6h-6zM444 558h6v6h-6zM474 558h6v6h-6zM366 618h6v6h-6zM342 624h6v6h-6zM336 630h6v6h-6zM450 630h6v6h-6zM438 636h6v6h-6z"/><path fill="#e5e5e5" d="M510 480h12v6h-12zM528 480h6v6h-6zM546 486h6v6h-6zM540 492h6v6h-6zM450 558h6v6h-6zM468 558h6v6h-6zM420 618h6v6h-6zM444 624h6v6h-6z"/><path fill="#e7e7e7" d="M522 480h6v6h-6zM492 486h6v6h-6zM492 492h6v6h-6zM438 552h6v6h-6zM456 558h12v6h-12zM372 618h6v6h-6zM414 618h6v6h-6zM348 636h6v6h-6z"/><path fill="#e8e8e8" d="M540 486h6v6h-6zM498 492h6v6h-6zM534 492h6v6h-6zM480 552h6v6h-6zM432 636h6v6h-6z"/><path fill="#e9e9e9" d="M498 486h6v6h-6zM504 492h6v6h-6zM528 492h6v6h-6zM444 552h6v6h-6zM378 618h6v6h-6zM408 618h6v6h-6zM438 624h6v6h-6zM444 630h6v6h-6z"/><path fill="#eaeaea" d="M534 486h6v6h-6zM510 492h18v6h-18zM450 552h6v6h-6zM474 552h6v6h-6zM384 618h24v6h-24zM348 624h6v6h-6zM342 630h6v6h-6z"/><path fill="#ececec" d="M504 486h6v6h-6zM456 552h18v6h-18zM354 636h6v6h-6zM426 636h6v6h-6z"/><path fill="#ededed" d="M510 486h6v6h-6zM522 486h12v6h-12zM438 630h6v6h-6z"/><path fill="#eeeeee" d="M516 486h6v6h-6zM354 624h6v6h-6zM432 624h6v6h-6z"/><path fill="#f0f0f0" d="M348 630h6v6h-6zM360 636h6v6h-6zM420 636h6v6h-6z"/><path fill="#f2f2f2" d="M426 624h6v6h-6zM432 630h6v6h-6zM366 636h6v6h-6zM414 636h6v6h-6z"/><path fill="#f3f3f3" d="M360 624h6v6h-6z"/><path fill="#f5f5f5" d="M354 630h6v6h-6zM372 636h6v6h-6zM408 636h6v6h-6z"/><path fill="#f6f6f6" d="M420 624h6v6h-6zM426 630h6v6h-6z"/><path fill="#f7f7f7" d="M366 624h6v6h-6zM378 636h12v6h-12zM396 636h12v6h-12z"/><path fill="#f9f9f9" d="M414 624h6v6h-6zM360 630h6v6h-6zM390 636h6v6h-6z"/><path fill="#fafafa" d="M372 624h6v6h-6zM420 630h6v6h-6z"/><path fill="#fbfbfb" d="M408 624h6v6h-6z"/><path fill="#fcfcfc" d="M378 624h6v6h-6zM402 624h6v6h-6zM366 630h6v6h-6z"/><path fill="#fefefe" d="M384 624h18v6h-18zM414 630h6v6h-6z"/><path fill="#ffffff" d="M372 630h42v6h-42z"/></g></g></g>
<defs>
<filter id="fb" x="0" y="0" width="1" height="1" color-interpolation-filters="sRGB">
<feGaussianBlur in="SourceGraphic" stdDeviation="5" result="F"/>
<feComponentTransfer in="F" result="A"><feFuncR type="table" tableValues="0.000 0.140 0.170 0.150 0.120 0.090 0.075 0.060 0.050 0.040 0.020"/><feFuncG type="table" tableValues="0.000 0.140 0.170 0.150 0.120 0.090 0.075 0.060 0.050 0.040 0.020"/><feFuncB type="table" tableValues="0.000 0.140 0.170 0.150 0.120 0.090 0.075 0.060 0.050 0.040 0.020"/></feComponentTransfer>
<feTurbulence type="fractalNoise" baseFrequency="0.2" numOctaves="2" seed="3" result="T"/>
<feColorMatrix in="T" type="matrix" values="1 0 0 0 0  1 0 0 0 0  1 0 0 0 0  0 0 0 0 1" result="N0"/>
<feComponentTransfer in="N0" result="N"><feFuncR type="linear" slope="3.2" intercept="-1.1"/><feFuncG type="linear" slope="3.2" intercept="-1.1"/><feFuncB type="linear" slope="3.2" intercept="-1.1"/></feComponentTransfer>
<feComposite in="A" in2="N" operator="arithmetic" k1="2" k2="-1" k3="0" k4="0.5" result="S1"/>
<feComposite in="S1" in2="F" operator="arithmetic" k1="0" k2="1" k3="1" k4="-0.5" result="V"/>
<feGaussianBlur in="V" stdDeviation="1.0" result="V2"/>
<feComponentTransfer in="V2"><feFuncR type="table" tableValues="0.078 0.089 0.099 0.108 0.118 0.186 0.255 0.324 0.392 0.431 0.471 0.51 0.549 0.578 0.608 0.637 0.667 0.725 0.784 0.843 0.902 0.902 0.902 0.902 0.902 0.887 0.873 0.858 0.843 0.76 0.676 0.593 0.51"/><feFuncG type="table" tableValues="0 0.02 0.042 0.08 0.118 0.216 0.314 0.412 0.51 0.598 0.686 0.775 0.863 0.882 0.902 0.922 0.941 0.936 0.931 0.926 0.922 0.838 0.755 0.672 0.588 0.48 0.373 0.265 0.157 0.118 0.078 0.039 0"/><feFuncB type="table" tableValues="0.471 0.614 0.753 0.847 0.941 0.956 0.971 0.985 1 0.975 0.951 0.926 0.902 0.804 0.706 0.608 0.51 0.451 0.392 0.333 0.275 0.245 0.216 0.186 0.157 0.142 0.127 0.113 0.098 0.083 0.069 0.054 0.039"/></feComponentTransfer>
</filter>
<clipPath id="cb"><rect x="162" y="886" width="805" height="755"/></clipPath>
</defs>
<g clip-path="url(#cb)"><g filter="url(#fb)"><rect x="154" y="878" width="821" height="771" fill="#000"/><path fill="#000000" d="M162 886h440v8h-440zM882 886h96v8h-96zM162 894h440v8h-440zM882 894h96v8h-96zM162 902h432v8h-432zM882 902h96v8h-96zM162 910h424v8h-424zM882 910h96v8h-96zM162 918h424v8h-424zM882 918h96v8h-96zM162 926h416v8h-416zM882 926h96v8h-96zM162 934h408v8h-408zM882 934h96v8h-96zM162 942h392v8h-392zM882 942h96v8h-96zM162 950h384v8h-384zM882 950h96v8h-96zM162 958h376v8h-376zM874 958h104v8h-104zM162 966h368v8h-368zM874 966h104v8h-104zM162 974h360v8h-360zM874 974h104v8h-104zM162 982h352v8h-352zM874 982h104v8h-104zM162 990h344v8h-344zM874 990h104v8h-104zM162 998h336v8h-336zM874 998h104v8h-104zM162 1006h328v8h-328zM866 1006h112v8h-112zM162 1014h328v8h-328zM866 1014h112v8h-112zM162 1022h320v8h-320zM866 1022h112v8h-112zM162 1030h320v8h-320zM866 1030h112v8h-112zM162 1038h320v8h-320zM858 1038h120v8h-120zM162 1046h312v8h-312zM858 1046h120v8h-120zM162 1054h312v8h-312zM858 1054h120v8h-120zM162 1062h304v8h-304zM858 1062h120v8h-120zM162 1070h304v8h-304zM858 1070h120v8h-120zM162 1078h304v8h-304zM850 1078h128v8h-128zM162 1086h296v8h-296zM850 1086h128v8h-128zM162 1094h296v8h-296zM850 1094h128v8h-128zM162 1102h288v8h-288zM842 1102h136v8h-136zM162 1110h288v8h-288zM842 1110h136v8h-136zM162 1118h288v8h-288zM842 1118h136v8h-136zM162 1126h280v8h-280zM834 1126h144v8h-144zM162 1134h280v8h-280zM834 1134h144v8h-144zM162 1142h272v8h-272zM834 1142h144v8h-144zM162 1150h272v8h-272zM826 1150h152v8h-152zM162 1158h264v8h-264zM826 1158h152v8h-152zM162 1166h264v8h-264zM818 1166h160v8h-160zM162 1174h256v8h-256zM818 1174h160v8h-160zM162 1182h256v8h-256zM818 1182h160v8h-160zM162 1190h256v8h-256zM810 1190h168v8h-168zM162 1198h248v8h-248zM810 1198h168v8h-168zM162 1206h248v8h-248zM810 1206h168v8h-168zM162 1214h240v8h-240zM810 1214h168v8h-168zM162 1222h240v8h-240zM802 1222h176v8h-176zM162 1230h232v8h-232zM802 1230h176v8h-176zM162 1238h232v8h-232zM802 1238h176v8h-176zM162 1246h232v8h-232zM802 1246h176v8h-176zM162 1254h224v8h-224zM802 1254h176v8h-176zM162 1262h224v8h-224zM794 1262h184v8h-184zM162 1270h216v8h-216zM794 1270h184v8h-184zM162 1278h216v8h-216zM794 1278h184v8h-184zM162 1286h216v8h-216zM794 1286h184v8h-184zM162 1294h208v8h-208zM794 1294h184v8h-184zM162 1302h208v8h-208zM786 1302h192v8h-192zM162 1310h200v8h-200zM786 1310h192v8h-192zM162 1318h192v8h-192zM778 1318h200v8h-200zM162 1326h184v8h-184zM770 1326h208v8h-208zM162 1334h184v8h-184zM770 1334h208v8h-208zM162 1342h176v8h-176zM762 1342h216v8h-216zM162 1350h168v8h-168zM762 1350h216v8h-216zM162 1358h168v8h-168zM754 1358h224v8h-224zM162 1366h160v8h-160zM746 1366h232v8h-232zM162 1374h152v8h-152zM746 1374h232v8h-232zM162 1382h152v8h-152zM738 1382h240v8h-240zM162 1390h144v8h-144zM738 1390h240v8h-240zM162 1398h136v8h-136zM730 1398h248v8h-248zM162 1406h136v8h-136zM730 1406h248v8h-248zM162 1414h136v8h-136zM730 1414h248v8h-248zM162 1422h128v8h-128zM722 1422h256v8h-256zM162 1430h128v8h-128zM722 1430h256v8h-256zM162 1438h120v8h-120zM722 1438h256v8h-256zM162 1446h120v8h-120zM714 1446h264v8h-264zM162 1454h120v8h-120zM714 1454h264v8h-264zM162 1462h112v8h-112zM714 1462h264v8h-264zM162 1470h112v8h-112zM714 1470h264v8h-264zM162 1478h112v8h-112zM714 1478h264v8h-264zM162 1486h112v8h-112zM714 1486h264v8h-264zM162 1494h112v8h-112zM714 1494h264v8h-264zM162 1502h88v8h-88zM714 1502h264v8h-264zM162 1510h56v8h-56zM706 1510h272v8h-272zM162 1518h32v8h-32zM706 1518h272v8h-272zM706 1526h272v8h-272zM698 1534h280v8h-280zM690 1542h288v8h-288zM682 1550h296v8h-296zM674 1558h304v8h-304zM162 1566h40v8h-40zM666 1566h312v8h-312zM162 1574h72v8h-72zM650 1574h328v8h-328zM162 1582h112v8h-112zM634 1582h344v8h-344zM162 1590h168v8h-168zM610 1590h368v8h-368zM162 1598h816v8h-816zM162 1606h816v8h-816zM162 1614h816v8h-816zM162 1622h816v8h-816zM162 1630h816v8h-816zM162 1638h816v8h-816zM162 1646h816v8h-816z"/><path fill="#020202" d="M602 886h8v8h-8zM866 886h16v8h-16zM602 894h8v8h-8zM866 894h16v8h-16zM594 902h8v8h-8zM866 902h16v8h-16zM586 910h16v8h-16zM866 910h16v8h-16zM586 918h8v8h-8zM866 918h16v8h-16zM578 926h8v8h-8zM866 926h16v8h-16zM570 934h8v8h-8zM866 934h16v8h-16zM554 942h16v8h-16zM866 942h16v8h-16zM546 950h8v8h-8zM866 950h16v8h-16zM538 958h8v8h-8zM858 958h16v8h-16zM530 966h8v8h-8zM858 966h16v8h-16zM522 974h8v8h-8zM858 974h16v8h-16zM514 982h8v8h-8zM858 982h16v8h-16zM506 990h8v8h-8zM858 990h16v8h-16zM498 998h8v8h-8zM850 998h24v8h-24zM490 1006h16v8h-16zM850 1006h16v8h-16zM490 1014h8v8h-8zM850 1014h16v8h-16zM482 1022h16v8h-16zM850 1022h16v8h-16zM482 1030h8v8h-8zM850 1030h16v8h-16zM482 1038h8v8h-8zM842 1038h16v8h-16zM474 1046h16v8h-16zM842 1046h16v8h-16zM474 1054h8v8h-8zM842 1054h16v8h-16zM466 1062h16v8h-16zM842 1062h16v8h-16zM466 1070h8v8h-8zM834 1070h24v8h-24zM466 1078h8v8h-8zM834 1078h16v8h-16zM458 1086h16v8h-16zM834 1086h16v8h-16zM458 1094h8v8h-8zM834 1094h16v8h-16zM450 1102h16v8h-16zM826 1102h16v8h-16zM450 1110h8v8h-8zM826 1110h16v8h-16zM450 1118h8v8h-8zM826 1118h16v8h-16zM442 1126h8v8h-8zM818 1126h16v8h-16zM442 1134h8v8h-8zM818 1134h16v8h-16zM434 1142h8v8h-8zM810 1142h24v8h-24zM434 1150h8v8h-8zM810 1150h16v8h-16zM426 1158h8v8h-8zM810 1158h16v8h-16zM426 1166h8v8h-8zM802 1166h16v8h-16zM418 1174h16v8h-16zM802 1174h16v8h-16zM418 1182h8v8h-8zM794 1182h24v8h-24zM418 1190h8v8h-8zM794 1190h16v8h-16zM410 1198h8v8h-8zM794 1198h16v8h-16zM410 1206h8v8h-8zM794 1206h16v8h-16zM402 1214h8v8h-8zM786 1214h24v8h-24zM402 1222h8v8h-8zM786 1222h16v8h-16zM394 1230h16v8h-16zM786 1230h16v8h-16zM394 1238h8v8h-8zM786 1238h16v8h-16zM394 1246h8v8h-8zM786 1246h16v8h-16zM386 1254h8v8h-8zM778 1254h24v8h-24zM386 1262h8v8h-8zM778 1262h16v8h-16zM378 1270h8v8h-8zM778 1270h16v8h-16zM378 1278h8v8h-8zM778 1278h16v8h-16zM378 1286h8v8h-8zM770 1286h24v8h-24zM370 1294h8v8h-8zM770 1294h24v8h-24zM370 1302h8v8h-8zM770 1302h16v8h-16zM362 1310h8v8h-8zM762 1310h24v8h-24zM354 1318h8v8h-8zM762 1318h16v8h-16zM346 1326h16v8h-16zM754 1326h16v8h-16zM346 1334h8v8h-8zM746 1334h24v8h-24zM338 1342h8v8h-8zM746 1342h16v8h-16zM330 1350h16v8h-16zM738 1350h24v8h-24zM330 1358h8v8h-8zM738 1358h16v8h-16zM322 1366h8v8h-8zM730 1366h16v8h-16zM314 1374h16v8h-16zM730 1374h16v8h-16zM314 1382h8v8h-8zM722 1382h16v8h-16zM306 1390h8v8h-8zM714 1390h24v8h-24zM298 1398h16v8h-16zM714 1398h16v8h-16zM298 1406h8v8h-8zM714 1406h16v8h-16zM298 1414h8v8h-8zM706 1414h24v8h-24zM290 1422h8v8h-8zM706 1422h16v8h-16zM290 1430h8v8h-8zM706 1430h16v8h-16zM282 1438h8v8h-8zM698 1438h24v8h-24zM282 1446h8v8h-8zM698 1446h16v8h-16zM282 1454h8v8h-8zM698 1454h16v8h-16zM274 1462h8v8h-8zM690 1462h24v8h-24zM274 1470h8v8h-8zM690 1470h24v8h-24zM274 1478h8v8h-8zM690 1478h24v8h-24zM274 1486h8v8h-8zM690 1486h24v8h-24zM274 1494h8v8h-8zM690 1494h24v8h-24zM250 1502h24v8h-24zM690 1502h24v8h-24zM218 1510h16v8h-16zM690 1510h16v8h-16zM194 1518h8v8h-8zM690 1518h16v8h-16zM682 1526h24v8h-24zM674 1534h24v8h-24zM666 1542h24v8h-24zM658 1550h24v8h-24zM162 1558h16v8h-16zM650 1558h24v8h-24zM202 1566h16v8h-16zM634 1566h32v8h-32zM234 1574h16v8h-16zM626 1574h24v8h-24zM274 1582h16v8h-16zM610 1582h24v8h-24zM330 1590h64v8h-64zM570 1590h40v8h-40z"/><path fill="#040404" d="M610 886h8v8h-8zM858 886h8v8h-8zM858 894h8v8h-8zM602 902h8v8h-8zM858 902h8v8h-8zM858 910h8v8h-8zM858 918h8v8h-8zM858 926h8v8h-8zM858 934h8v8h-8zM858 942h8v8h-8zM554 950h8v8h-8zM850 950h16v8h-16zM546 958h8v8h-8zM850 958h8v8h-8zM538 966h8v8h-8zM850 966h8v8h-8zM530 974h8v8h-8zM850 974h8v8h-8zM522 982h8v8h-8zM850 982h8v8h-8zM514 990h8v8h-8zM850 990h8v8h-8zM506 998h8v8h-8zM842 998h8v8h-8zM842 1006h8v8h-8zM498 1014h8v8h-8zM842 1014h8v8h-8zM498 1022h8v8h-8zM842 1022h8v8h-8zM490 1030h8v8h-8zM834 1030h16v8h-16zM490 1038h8v8h-8zM834 1038h8v8h-8zM834 1046h8v8h-8zM482 1054h8v8h-8zM834 1054h8v8h-8zM826 1062h16v8h-16zM474 1070h8v8h-8zM826 1070h8v8h-8zM474 1078h8v8h-8zM826 1078h8v8h-8zM826 1086h8v8h-8zM466 1094h8v8h-8zM818 1094h16v8h-16zM818 1102h8v8h-8zM458 1110h8v8h-8zM818 1110h8v8h-8zM810 1118h16v8h-16zM450 1126h8v8h-8zM810 1126h8v8h-8zM810 1134h8v8h-8zM442 1142h8v8h-8zM802 1142h8v8h-8zM442 1150h8v8h-8zM802 1150h8v8h-8zM434 1158h8v8h-8zM794 1158h16v8h-16zM434 1166h8v8h-8zM794 1166h8v8h-8zM794 1174h8v8h-8zM426 1182h8v8h-8zM786 1182h8v8h-8zM786 1190h8v8h-8zM418 1198h8v8h-8zM786 1198h8v8h-8zM778 1206h16v8h-16zM410 1214h8v8h-8zM778 1214h8v8h-8zM410 1222h8v8h-8zM778 1222h8v8h-8zM778 1230h8v8h-8zM402 1238h8v8h-8zM778 1238h8v8h-8zM770 1246h16v8h-16zM394 1254h8v8h-8zM770 1254h8v8h-8zM770 1262h8v8h-8zM386 1270h8v8h-8zM770 1270h8v8h-8zM386 1278h8v8h-8zM762 1278h16v8h-16zM762 1286h8v8h-8zM378 1294h8v8h-8zM762 1294h8v8h-8zM762 1302h8v8h-8zM754 1310h8v8h-8zM362 1318h8v8h-8zM746 1318h16v8h-16zM746 1326h8v8h-8zM738 1334h8v8h-8zM346 1342h8v8h-8zM738 1342h8v8h-8zM730 1350h8v8h-8zM722 1358h16v8h-16zM330 1366h8v8h-8zM722 1366h8v8h-8zM714 1374h16v8h-16zM714 1382h8v8h-8zM314 1390h8v8h-8zM706 1390h8v8h-8zM706 1398h8v8h-8zM306 1406h8v8h-8zM698 1406h16v8h-16zM698 1414h8v8h-8zM298 1422h8v8h-8zM698 1422h8v8h-8zM690 1430h16v8h-16zM290 1438h8v8h-8zM690 1438h8v8h-8zM290 1446h8v8h-8zM690 1446h8v8h-8zM682 1454h16v8h-16zM282 1462h8v8h-8zM682 1462h8v8h-8zM282 1470h8v8h-8zM682 1470h8v8h-8zM282 1478h8v8h-8zM682 1478h8v8h-8zM682 1486h8v8h-8zM682 1494h8v8h-8zM274 1502h8v8h-8zM674 1502h16v8h-16zM234 1510h8v8h-8zM674 1510h16v8h-16zM674 1518h16v8h-16zM162 1526h8v8h-8zM666 1526h16v8h-16zM666 1534h8v8h-8zM658 1542h8v8h-8zM650 1550h8v8h-8zM178 1558h16v8h-16zM634 1558h16v8h-16zM626 1566h8v8h-8zM250 1574h8v8h-8zM610 1574h16v8h-16zM290 1582h16v8h-16zM586 1582h24v8h-24zM394 1590h16v8h-16zM538 1590h32v8h-32z"/><path fill="#060606" d="M850 886h8v8h-8zM610 894h8v8h-8zM850 894h8v8h-8zM850 902h8v8h-8zM602 910h8v8h-8zM850 910h8v8h-8zM594 918h8v8h-8zM850 918h8v8h-8zM586 926h8v8h-8zM850 926h8v8h-8zM578 934h8v8h-8zM850 934h8v8h-8zM570 942h8v8h-8zM850 942h8v8h-8zM562 950h8v8h-8zM554 958h8v8h-8zM842 958h8v8h-8zM546 966h8v8h-8zM842 966h8v8h-8zM842 974h8v8h-8zM842 982h8v8h-8zM842 990h8v8h-8zM834 998h8v8h-8zM506 1006h8v8h-8zM834 1006h8v8h-8zM506 1014h8v8h-8zM834 1014h8v8h-8zM834 1022h8v8h-8zM498 1030h8v8h-8zM826 1038h8v8h-8zM490 1046h8v8h-8zM826 1046h8v8h-8zM826 1054h8v8h-8zM482 1062h8v8h-8zM482 1070h8v8h-8zM818 1070h8v8h-8zM818 1078h8v8h-8zM474 1086h8v8h-8zM818 1086h8v8h-8zM466 1102h8v8h-8zM810 1102h8v8h-8zM810 1110h8v8h-8zM458 1118h8v8h-8zM802 1118h8v8h-8zM802 1126h8v8h-8zM450 1134h8v8h-8zM802 1134h8v8h-8zM794 1142h8v8h-8zM794 1150h8v8h-8zM442 1158h8v8h-8zM786 1166h8v8h-8zM434 1174h8v8h-8zM786 1174h8v8h-8zM778 1182h8v8h-8zM426 1190h8v8h-8zM778 1190h8v8h-8zM778 1198h8v8h-8zM418 1206h8v8h-8zM770 1214h8v8h-8zM770 1222h8v8h-8zM410 1230h8v8h-8zM770 1230h8v8h-8zM770 1238h8v8h-8zM402 1246h8v8h-8zM762 1246h8v8h-8zM762 1254h8v8h-8zM394 1262h8v8h-8zM762 1262h8v8h-8zM762 1270h8v8h-8zM386 1286h8v8h-8zM754 1286h8v8h-8zM754 1294h8v8h-8zM378 1302h8v8h-8zM754 1302h8v8h-8zM370 1310h8v8h-8zM746 1310h8v8h-8zM738 1318h8v8h-8zM362 1326h8v8h-8zM738 1326h8v8h-8zM354 1334h8v8h-8zM730 1334h8v8h-8zM730 1342h8v8h-8zM346 1350h8v8h-8zM722 1350h8v8h-8zM338 1358h8v8h-8zM714 1366h8v8h-8zM330 1374h8v8h-8zM706 1374h8v8h-8zM322 1382h8v8h-8zM706 1382h8v8h-8zM698 1390h8v8h-8zM314 1398h8v8h-8zM698 1398h8v8h-8zM690 1406h8v8h-8zM306 1414h8v8h-8zM690 1414h8v8h-8zM690 1422h8v8h-8zM298 1430h8v8h-8zM682 1430h8v8h-8zM682 1438h8v8h-8zM682 1446h8v8h-8zM290 1454h8v8h-8zM674 1454h8v8h-8zM674 1462h8v8h-8zM674 1470h8v8h-8zM674 1478h8v8h-8zM282 1486h8v8h-8zM674 1486h8v8h-8zM282 1494h8v8h-8zM674 1494h8v8h-8zM282 1502h8v8h-8zM666 1502h8v8h-8zM666 1510h8v8h-8zM202 1518h8v8h-8zM666 1518h8v8h-8zM658 1526h8v8h-8zM658 1534h8v8h-8zM650 1542h8v8h-8zM642 1550h8v8h-8zM626 1558h8v8h-8zM218 1566h8v8h-8zM610 1566h16v8h-16zM258 1574h8v8h-8zM594 1574h16v8h-16zM306 1582h24v8h-24zM570 1582h16v8h-16zM410 1590h128v8h-128z"/><path fill="#080808" d="M618 886h8v8h-8zM610 902h8v8h-8zM842 926h8v8h-8zM842 934h8v8h-8zM842 942h8v8h-8zM842 950h8v8h-8zM538 974h8v8h-8zM834 974h8v8h-8zM530 982h8v8h-8zM834 982h8v8h-8zM522 990h8v8h-8zM834 990h8v8h-8zM514 998h8v8h-8zM826 1014h8v8h-8zM506 1022h8v8h-8zM826 1022h8v8h-8zM826 1030h8v8h-8zM498 1038h8v8h-8zM818 1046h8v8h-8zM490 1054h8v8h-8zM818 1054h8v8h-8zM818 1062h8v8h-8zM482 1078h8v8h-8zM810 1078h8v8h-8zM810 1086h8v8h-8zM474 1094h8v8h-8zM810 1094h8v8h-8zM802 1102h8v8h-8zM466 1110h8v8h-8zM802 1110h8v8h-8zM458 1126h8v8h-8zM794 1126h8v8h-8zM794 1134h8v8h-8zM450 1142h8v8h-8zM786 1150h8v8h-8zM786 1158h8v8h-8zM778 1174h8v8h-8zM434 1182h8v8h-8zM770 1190h8v8h-8zM426 1198h8v8h-8zM770 1198h8v8h-8zM770 1206h8v8h-8zM418 1214h8v8h-8zM762 1222h8v8h-8zM762 1230h8v8h-8zM762 1238h8v8h-8zM402 1254h8v8h-8zM754 1262h8v8h-8zM394 1270h8v8h-8zM754 1270h8v8h-8zM754 1278h8v8h-8zM386 1294h8v8h-8zM746 1294h8v8h-8zM746 1302h8v8h-8zM738 1310h8v8h-8zM370 1318h8v8h-8zM730 1326h8v8h-8zM354 1342h8v8h-8zM722 1342h8v8h-8zM714 1350h8v8h-8zM714 1358h8v8h-8zM338 1366h8v8h-8zM706 1366h8v8h-8zM698 1382h8v8h-8zM322 1390h8v8h-8zM690 1398h8v8h-8zM682 1414h8v8h-8zM306 1422h8v8h-8zM682 1422h8v8h-8zM298 1438h8v8h-8zM674 1438h8v8h-8zM674 1446h8v8h-8zM290 1462h8v8h-8zM666 1462h8v8h-8zM290 1470h8v8h-8zM666 1470h8v8h-8zM666 1478h8v8h-8zM666 1486h8v8h-8zM666 1494h8v8h-8zM242 1510h8v8h-8zM658 1518h8v8h-8zM170 1526h8v8h-8zM650 1534h8v8h-8zM642 1542h8v8h-8zM634 1550h8v8h-8zM618 1558h8v8h-8zM226 1566h8v8h-8zM602 1566h8v8h-8zM266 1574h8v8h-8zM586 1574h8v8h-8zM330 1582h16v8h-16zM378 1582h16v8h-16zM562 1582h8v8h-8z"/><path fill="#0a0a0a" d="M842 886h8v8h-8zM842 894h8v8h-8zM842 902h8v8h-8zM842 910h8v8h-8zM602 918h8v8h-8zM842 918h8v8h-8zM594 926h8v8h-8zM586 934h8v8h-8zM578 942h8v8h-8zM834 942h8v8h-8zM834 950h8v8h-8zM834 958h8v8h-8zM834 966h8v8h-8zM826 990h8v8h-8zM826 998h8v8h-8zM514 1006h8v8h-8zM826 1006h8v8h-8zM818 1022h8v8h-8zM506 1030h8v8h-8zM818 1030h8v8h-8zM818 1038h8v8h-8zM498 1046h8v8h-8zM810 1054h8v8h-8zM490 1062h8v8h-8zM810 1062h8v8h-8zM810 1070h8v8h-8zM802 1086h8v8h-8zM802 1094h8v8h-8zM474 1102h8v8h-8zM466 1118h8v8h-8zM794 1118h8v8h-8zM458 1134h8v8h-8zM786 1134h8v8h-8zM786 1142h8v8h-8zM450 1150h8v8h-8zM778 1158h8v8h-8zM442 1166h8v8h-8zM778 1166h8v8h-8zM770 1182h8v8h-8zM762 1198h8v8h-8zM762 1206h8v8h-8zM762 1214h8v8h-8zM418 1222h8v8h-8zM410 1238h8v8h-8zM754 1238h8v8h-8zM754 1246h8v8h-8zM754 1254h8v8h-8zM402 1262h8v8h-8zM746 1270h8v8h-8zM394 1278h8v8h-8zM746 1278h8v8h-8zM746 1286h8v8h-8zM738 1302h8v8h-8zM378 1310h8v8h-8zM730 1318h8v8h-8zM362 1334h8v8h-8zM722 1334h8v8h-8zM714 1342h8v8h-8zM706 1358h8v8h-8zM698 1374h8v8h-8zM690 1390h8v8h-8zM314 1406h8v8h-8zM682 1406h8v8h-8zM674 1422h8v8h-8zM674 1430h8v8h-8zM298 1446h8v8h-8zM666 1446h8v8h-8zM666 1454h8v8h-8zM290 1478h8v8h-8zM658 1478h8v8h-8zM658 1486h8v8h-8zM658 1494h8v8h-8zM658 1502h8v8h-8zM658 1510h8v8h-8zM210 1518h8v8h-8zM650 1526h8v8h-8zM642 1534h8v8h-8zM634 1542h8v8h-8zM626 1550h8v8h-8zM194 1558h8v8h-8zM610 1558h8v8h-8zM594 1566h8v8h-8zM578 1574h8v8h-8zM346 1582h8v8h-8zM362 1582h16v8h-16zM394 1582h8v8h-8zM546 1582h16v8h-16z"/><path fill="#0c0c0c" d="M618 894h8v8h-8zM610 910h8v8h-8zM834 926h8v8h-8zM834 934h8v8h-8zM570 950h8v8h-8zM562 958h8v8h-8zM554 966h8v8h-8zM826 966h8v8h-8zM546 974h8v8h-8zM826 974h8v8h-8zM538 982h8v8h-8zM826 982h8v8h-8zM530 990h8v8h-8zM522 998h8v8h-8zM818 1006h8v8h-8zM514 1014h8v8h-8zM818 1014h8v8h-8zM810 1038h8v8h-8zM810 1046h8v8h-8zM498 1054h8v8h-8zM490 1070h8v8h-8zM802 1070h8v8h-8zM802 1078h8v8h-8zM482 1086h8v8h-8zM794 1102h8v8h-8zM794 1110h8v8h-8zM786 1126h8v8h-8zM778 1150h8v8h-8zM450 1158h8v8h-8zM770 1166h8v8h-8zM442 1174h8v8h-8zM770 1174h8v8h-8zM434 1190h8v8h-8zM762 1190h8v8h-8zM426 1206h8v8h-8zM754 1222h8v8h-8zM754 1230h8v8h-8zM410 1246h8v8h-8zM746 1254h8v8h-8zM746 1262h8v8h-8zM394 1286h8v8h-8zM738 1294h8v8h-8zM730 1310h8v8h-8zM722 1326h8v8h-8zM706 1350h8v8h-8zM346 1358h8v8h-8zM698 1366h8v8h-8zM330 1382h8v8h-8zM690 1382h8v8h-8zM682 1398h8v8h-8zM314 1414h8v8h-8zM674 1414h8v8h-8zM306 1430h8v8h-8zM666 1438h8v8h-8zM658 1454h8v8h-8zM658 1462h8v8h-8zM658 1470h8v8h-8zM290 1486h8v8h-8zM290 1494h8v8h-8zM650 1502h8v8h-8zM250 1510h8v8h-8zM650 1510h8v8h-8zM650 1518h8v8h-8zM178 1526h8v8h-8zM642 1526h8v8h-8zM634 1534h8v8h-8zM626 1542h8v8h-8zM162 1550h8v8h-8zM618 1550h8v8h-8zM602 1558h8v8h-8zM586 1566h8v8h-8zM274 1574h8v8h-8zM570 1574h8v8h-8zM354 1582h8v8h-8zM402 1582h8v8h-8zM522 1582h24v8h-24z"/><path fill="#0e0e0e" d="M626 886h8v8h-8zM834 886h8v8h-8zM834 894h8v8h-8zM834 902h8v8h-8zM834 910h8v8h-8zM834 918h8v8h-8zM826 942h8v8h-8zM826 950h8v8h-8zM826 958h8v8h-8zM818 990h8v8h-8zM818 998h8v8h-8zM522 1006h8v8h-8zM514 1022h8v8h-8zM810 1022h8v8h-8zM810 1030h8v8h-8zM506 1038h8v8h-8zM802 1054h8v8h-8zM802 1062h8v8h-8zM490 1078h8v8h-8zM794 1086h8v8h-8zM482 1094h8v8h-8zM794 1094h8v8h-8zM474 1110h8v8h-8zM786 1118h8v8h-8zM466 1126h8v8h-8zM778 1134h8v8h-8zM458 1142h8v8h-8zM778 1142h8v8h-8zM770 1158h8v8h-8zM762 1182h8v8h-8zM754 1206h8v8h-8zM426 1214h8v8h-8zM754 1214h8v8h-8zM418 1230h8v8h-8zM746 1238h8v8h-8zM746 1246h8v8h-8zM402 1270h8v8h-8zM738 1270h8v8h-8zM738 1278h8v8h-8zM738 1286h8v8h-8zM386 1302h8v8h-8zM730 1302h8v8h-8zM722 1318h8v8h-8zM370 1326h8v8h-8zM714 1334h8v8h-8zM354 1350h8v8h-8zM698 1358h8v8h-8zM338 1374h8v8h-8zM690 1374h8v8h-8zM682 1390h8v8h-8zM322 1398h8v8h-8zM674 1406h8v8h-8zM666 1422h8v8h-8zM666 1430h8v8h-8zM306 1438h8v8h-8zM658 1446h8v8h-8zM298 1454h8v8h-8zM650 1478h8v8h-8zM650 1486h8v8h-8zM650 1494h8v8h-8zM290 1502h8v8h-8zM642 1518h8v8h-8zM610 1550h8v8h-8zM594 1558h8v8h-8zM234 1566h8v8h-8zM578 1566h8v8h-8zM282 1574h8v8h-8zM554 1574h16v8h-16zM410 1582h112v8h-112z"/><path fill="#101010" d="M618 902h8v8h-8zM610 918h8v8h-8zM602 926h8v8h-8zM826 926h8v8h-8zM826 934h8v8h-8zM818 966h8v8h-8zM818 974h8v8h-8zM818 982h8v8h-8zM810 1006h8v8h-8zM810 1014h8v8h-8zM514 1030h8v8h-8zM506 1046h8v8h-8zM802 1046h8v8h-8zM498 1062h8v8h-8zM794 1078h8v8h-8zM786 1102h8v8h-8zM786 1110h8v8h-8zM778 1126h8v8h-8zM770 1150h8v8h-8zM450 1166h8v8h-8zM762 1174h8v8h-8zM442 1182h8v8h-8zM754 1190h8v8h-8zM434 1198h8v8h-8zM754 1198h8v8h-8zM746 1222h8v8h-8zM746 1230h8v8h-8zM418 1238h8v8h-8zM410 1254h8v8h-8zM738 1262h8v8h-8zM394 1294h8v8h-8zM730 1294h8v8h-8zM722 1310h8v8h-8zM378 1318h8v8h-8zM714 1326h8v8h-8zM362 1342h8v8h-8zM706 1342h8v8h-8zM346 1366h8v8h-8zM690 1366h8v8h-8zM682 1382h8v8h-8zM674 1398h8v8h-8zM666 1414h8v8h-8zM314 1422h8v8h-8zM658 1438h8v8h-8zM650 1454h8v8h-8zM298 1462h8v8h-8zM650 1462h8v8h-8zM650 1470h8v8h-8zM642 1502h8v8h-8zM258 1510h8v8h-8zM642 1510h8v8h-8zM218 1518h8v8h-8zM634 1526h8v8h-8zM626 1534h8v8h-8zM618 1542h8v8h-8zM570 1566h8v8h-8zM546 1574h8v8h-8z"/><path fill="#121212" d="M826 886h8v8h-8zM626 894h8v8h-8zM826 894h8v8h-8zM826 902h8v8h-8zM826 910h8v8h-8zM826 918h8v8h-8zM594 934h8v8h-8zM586 942h8v8h-8zM578 950h8v8h-8zM818 950h8v8h-8zM570 958h8v8h-8zM818 958h8v8h-8zM562 966h8v8h-8zM554 974h8v8h-8zM546 982h8v8h-8zM538 990h8v8h-8zM810 990h8v8h-8zM530 998h8v8h-8zM810 998h8v8h-8zM522 1014h8v8h-8zM802 1030h8v8h-8zM802 1038h8v8h-8zM794 1062h8v8h-8zM794 1070h8v8h-8zM490 1086h8v8h-8zM786 1094h8v8h-8zM482 1102h8v8h-8zM474 1118h8v8h-8zM778 1118h8v8h-8zM466 1134h8v8h-8zM770 1142h8v8h-8zM458 1150h8v8h-8zM762 1166h8v8h-8zM754 1182h8v8h-8zM746 1206h8v8h-8zM746 1214h8v8h-8zM426 1222h8v8h-8zM738 1246h8v8h-8zM738 1254h8v8h-8zM402 1278h8v8h-8zM730 1278h8v8h-8zM730 1286h8v8h-8zM714 1318h8v8h-8zM706 1334h8v8h-8zM698 1350h8v8h-8zM682 1374h8v8h-8zM330 1390h8v8h-8zM674 1390h8v8h-8zM322 1406h8v8h-8zM666 1406h8v8h-8zM658 1430h8v8h-8zM650 1446h8v8h-8zM298 1470h8v8h-8zM298 1478h8v8h-8zM642 1478h8v8h-8zM642 1486h8v8h-8zM642 1494h8v8h-8zM634 1518h8v8h-8zM186 1526h8v8h-8zM162 1534h8v8h-8zM602 1550h8v8h-8zM202 1558h8v8h-8zM586 1558h8v8h-8zM562 1566h8v8h-8zM290 1574h8v8h-8zM530 1574h16v8h-16z"/><path fill="#141414" d="M618 910h8v8h-8zM818 934h8v8h-8zM818 942h8v8h-8zM810 974h8v8h-8zM810 982h8v8h-8zM530 1006h8v8h-8zM802 1014h8v8h-8zM522 1022h8v8h-8zM802 1022h8v8h-8zM514 1038h8v8h-8zM506 1054h8v8h-8zM794 1054h8v8h-8zM498 1070h8v8h-8zM786 1086h8v8h-8zM778 1110h8v8h-8zM770 1134h8v8h-8zM762 1158h8v8h-8zM754 1174h8v8h-8zM442 1190h8v8h-8zM746 1198h8v8h-8zM434 1206h8v8h-8zM738 1230h8v8h-8zM738 1238h8v8h-8zM410 1262h8v8h-8zM730 1270h8v8h-8zM722 1302h8v8h-8zM386 1310h8v8h-8zM706 1326h8v8h-8zM370 1334h8v8h-8zM698 1342h8v8h-8zM354 1358h8v8h-8zM690 1358h8v8h-8zM338 1382h8v8h-8zM666 1398h8v8h-8zM658 1422h8v8h-8zM314 1430h8v8h-8zM650 1438h8v8h-8zM306 1446h8v8h-8zM642 1462h8v8h-8zM642 1470h8v8h-8zM298 1486h8v8h-8zM266 1510h8v8h-8zM634 1510h8v8h-8zM626 1526h8v8h-8zM618 1534h8v8h-8zM610 1542h8v8h-8zM170 1550h8v8h-8zM578 1558h8v8h-8zM242 1566h8v8h-8zM554 1566h8v8h-8zM514 1574h16v8h-16z"/><path fill="#161616" d="M634 886h8v8h-8zM626 902h8v8h-8zM818 902h8v8h-8zM818 910h8v8h-8zM818 918h8v8h-8zM818 926h8v8h-8zM810 958h8v8h-8zM810 966h8v8h-8zM802 1006h8v8h-8zM794 1038h8v8h-8zM794 1046h8v8h-8zM786 1070h8v8h-8zM498 1078h8v8h-8zM786 1078h8v8h-8zM490 1094h8v8h-8zM778 1102h8v8h-8zM482 1110h8v8h-8zM474 1126h8v8h-8zM770 1126h8v8h-8zM466 1142h8v8h-8zM762 1150h8v8h-8zM458 1158h8v8h-8zM754 1166h8v8h-8zM450 1174h8v8h-8zM746 1190h8v8h-8zM738 1222h8v8h-8zM426 1230h8v8h-8zM418 1246h8v8h-8zM730 1254h8v8h-8zM730 1262h8v8h-8zM402 1286h8v8h-8zM722 1294h8v8h-8zM714 1310h8v8h-8zM690 1350h8v8h-8zM682 1366h8v8h-8zM674 1382h8v8h-8zM322 1414h8v8h-8zM658 1414h8v8h-8zM642 1454h8v8h-8zM298 1494h8v8h-8zM634 1494h8v8h-8zM634 1502h8v8h-8zM162 1542h8v8h-8zM594 1550h8v8h-8zM570 1558h8v8h-8zM546 1566h8v8h-8zM298 1574h8v8h-8zM418 1574h96v8h-96z"/><path fill="#181818" d="M818 886h8v8h-8zM818 894h8v8h-8zM618 918h8v8h-8zM610 926h8v8h-8zM602 934h8v8h-8zM594 942h8v8h-8zM810 942h8v8h-8zM586 950h8v8h-8zM810 950h8v8h-8zM578 958h8v8h-8zM570 966h8v8h-8zM562 974h8v8h-8zM802 990h8v8h-8zM538 998h8v8h-8zM802 998h8v8h-8zM530 1014h8v8h-8zM794 1022h8v8h-8zM522 1030h8v8h-8zM794 1030h8v8h-8zM514 1046h8v8h-8zM506 1062h8v8h-8zM786 1062h8v8h-8zM778 1094h8v8h-8zM770 1118h8v8h-8zM762 1142h8v8h-8zM754 1158h8v8h-8zM746 1182h8v8h-8zM738 1206h8v8h-8zM434 1214h8v8h-8zM738 1214h8v8h-8zM730 1246h8v8h-8zM410 1270h8v8h-8zM722 1278h8v8h-8zM722 1286h8v8h-8zM394 1302h8v8h-8zM706 1318h8v8h-8zM378 1326h8v8h-8zM698 1334h8v8h-8zM362 1350h8v8h-8zM346 1374h8v8h-8zM674 1374h8v8h-8zM666 1390h8v8h-8zM330 1398h8v8h-8zM658 1406h8v8h-8zM650 1430h8v8h-8zM642 1446h8v8h-8zM306 1454h8v8h-8zM634 1478h8v8h-8zM634 1486h8v8h-8zM298 1502h8v8h-8zM626 1518h8v8h-8zM618 1526h8v8h-8zM602 1542h8v8h-8zM586 1550h8v8h-8zM562 1558h8v8h-8zM538 1566h8v8h-8zM306 1574h8v8h-8zM410 1574h8v8h-8z"/><path fill="#1a1a1a" d="M634 894h8v8h-8zM810 926h8v8h-8zM810 934h8v8h-8zM802 974h8v8h-8zM554 982h8v8h-8zM802 982h8v8h-8zM546 990h8v8h-8zM794 1014h8v8h-8zM786 1046h8v8h-8zM786 1054h8v8h-8zM778 1078h8v8h-8zM778 1086h8v8h-8zM490 1102h8v8h-8zM770 1110h8v8h-8zM482 1118h8v8h-8zM762 1134h8v8h-8zM458 1166h8v8h-8zM746 1174h8v8h-8zM450 1182h8v8h-8zM442 1198h8v8h-8zM738 1198h8v8h-8zM730 1238h8v8h-8zM418 1254h8v8h-8zM722 1270h8v8h-8zM714 1302h8v8h-8zM690 1342h8v8h-8zM682 1358h8v8h-8zM650 1422h8v8h-8zM314 1438h8v8h-8zM642 1438h8v8h-8zM634 1462h8v8h-8zM634 1470h8v8h-8zM626 1502h8v8h-8zM274 1510h8v8h-8zM626 1510h8v8h-8zM226 1518h8v8h-8zM610 1534h8v8h-8zM530 1566h8v8h-8zM314 1574h8v8h-8zM402 1574h8v8h-8z"/><path fill="#1c1c1c" d="M810 886h8v8h-8zM810 894h8v8h-8zM810 902h8v8h-8zM626 910h8v8h-8zM810 910h8v8h-8zM810 918h8v8h-8zM802 958h8v8h-8zM802 966h8v8h-8zM794 998h8v8h-8zM538 1006h8v8h-8zM794 1006h8v8h-8zM530 1022h8v8h-8zM522 1038h8v8h-8zM786 1038h8v8h-8zM514 1054h8v8h-8zM506 1070h8v8h-8zM778 1070h8v8h-8zM498 1086h8v8h-8zM770 1102h8v8h-8zM762 1126h8v8h-8zM474 1134h8v8h-8zM466 1150h8v8h-8zM754 1150h8v8h-8zM738 1190h8v8h-8zM730 1222h8v8h-8zM730 1230h8v8h-8zM426 1238h8v8h-8zM722 1262h8v8h-8zM402 1294h8v8h-8zM714 1294h8v8h-8zM706 1310h8v8h-8zM386 1318h8v8h-8zM698 1326h8v8h-8zM370 1342h8v8h-8zM354 1366h8v8h-8zM674 1366h8v8h-8zM666 1382h8v8h-8zM658 1398h8v8h-8zM650 1414h8v8h-8zM322 1422h8v8h-8zM634 1454h8v8h-8zM306 1462h8v8h-8zM626 1494h8v8h-8zM594 1542h8v8h-8zM578 1550h8v8h-8zM554 1558h8v8h-8zM250 1566h8v8h-8zM514 1566h16v8h-16zM394 1574h8v8h-8z"/><path fill="#1e1e1e" d="M642 886h8v8h-8zM634 902h8v8h-8zM802 942h8v8h-8zM802 950h8v8h-8zM794 982h8v8h-8zM794 990h8v8h-8zM786 1022h8v8h-8zM786 1030h8v8h-8zM778 1062h8v8h-8zM770 1094h8v8h-8zM762 1118h8v8h-8zM754 1142h8v8h-8zM746 1166h8v8h-8zM730 1214h8v8h-8zM434 1222h8v8h-8zM722 1246h8v8h-8zM722 1254h8v8h-8zM410 1278h8v8h-8zM714 1286h8v8h-8zM690 1334h8v8h-8zM682 1350h8v8h-8zM338 1390h8v8h-8zM658 1390h8v8h-8zM330 1406h8v8h-8zM642 1430h8v8h-8zM634 1446h8v8h-8zM306 1470h8v8h-8zM626 1478h8v8h-8zM626 1486h8v8h-8zM282 1510h8v8h-8zM618 1518h8v8h-8zM194 1526h8v8h-8zM610 1526h8v8h-8zM170 1534h8v8h-8zM602 1534h8v8h-8zM178 1550h8v8h-8zM210 1558h8v8h-8zM546 1558h8v8h-8zM482 1566h32v8h-32zM322 1574h8v8h-8zM386 1574h8v8h-8z"/><path fill="#202020" d="M802 910h8v8h-8zM626 918h8v8h-8zM802 918h8v8h-8zM618 926h8v8h-8zM802 926h8v8h-8zM610 934h8v8h-8zM802 934h8v8h-8zM602 942h8v8h-8zM594 950h8v8h-8zM586 958h8v8h-8zM578 966h8v8h-8zM794 966h8v8h-8zM570 974h8v8h-8zM794 974h8v8h-8zM562 982h8v8h-8zM554 990h8v8h-8zM546 998h8v8h-8zM538 1014h8v8h-8zM786 1014h8v8h-8zM530 1030h8v8h-8zM522 1046h8v8h-8zM778 1046h8v8h-8zM778 1054h8v8h-8zM514 1062h8v8h-8zM506 1078h8v8h-8zM770 1086h8v8h-8zM498 1094h8v8h-8zM490 1110h8v8h-8zM762 1110h8v8h-8zM482 1126h8v8h-8zM754 1134h8v8h-8zM474 1142h8v8h-8zM466 1158h8v8h-8zM746 1158h8v8h-8zM458 1174h8v8h-8zM738 1182h8v8h-8zM450 1190h8v8h-8zM442 1206h8v8h-8zM730 1206h8v8h-8zM722 1238h8v8h-8zM418 1262h8v8h-8zM714 1278h8v8h-8zM706 1302h8v8h-8zM394 1310h8v8h-8zM698 1318h8v8h-8zM378 1334h8v8h-8zM674 1358h8v8h-8zM666 1374h8v8h-8zM650 1406h8v8h-8zM642 1422h8v8h-8zM314 1446h8v8h-8zM626 1470h8v8h-8zM306 1478h8v8h-8zM618 1502h8v8h-8zM618 1510h8v8h-8zM570 1550h8v8h-8zM538 1558h8v8h-8zM330 1574h8v8h-8zM378 1574h8v8h-8z"/><path fill="#222222" d="M802 886h8v8h-8zM642 894h8v8h-8zM802 894h8v8h-8zM802 902h8v8h-8zM634 910h8v8h-8zM794 950h8v8h-8zM794 958h8v8h-8zM786 998h8v8h-8zM786 1006h8v8h-8zM778 1038h8v8h-8zM770 1070h8v8h-8zM770 1078h8v8h-8zM762 1102h8v8h-8zM754 1126h8v8h-8zM746 1150h8v8h-8zM738 1174h8v8h-8zM730 1198h8v8h-8zM722 1230h8v8h-8zM426 1246h8v8h-8zM714 1270h8v8h-8zM690 1326h8v8h-8zM682 1342h8v8h-8zM362 1358h8v8h-8zM346 1382h8v8h-8zM650 1398h8v8h-8zM322 1430h8v8h-8zM634 1438h8v8h-8zM626 1462h8v8h-8zM306 1486h8v8h-8zM618 1494h8v8h-8zM586 1542h8v8h-8zM522 1558h16v8h-16zM258 1566h8v8h-8zM474 1566h8v8h-8zM338 1574h8v8h-8zM370 1574h8v8h-8z"/><path fill="#242424" d="M794 934h8v8h-8zM794 942h8v8h-8zM786 982h8v8h-8zM786 990h8v8h-8zM546 1006h8v8h-8zM538 1022h8v8h-8zM778 1030h8v8h-8zM770 1062h8v8h-8zM762 1094h8v8h-8zM746 1142h8v8h-8zM738 1166h8v8h-8zM730 1190h8v8h-8zM722 1222h8v8h-8zM434 1230h8v8h-8zM714 1254h8v8h-8zM714 1262h8v8h-8zM410 1286h8v8h-8zM706 1294h8v8h-8zM698 1310h8v8h-8zM666 1366h8v8h-8zM658 1382h8v8h-8zM330 1414h8v8h-8zM642 1414h8v8h-8zM626 1454h8v8h-8zM618 1486h8v8h-8zM306 1494h8v8h-8zM290 1510h8v8h-8zM234 1518h8v8h-8zM610 1518h8v8h-8zM602 1526h8v8h-8zM594 1534h8v8h-8zM170 1542h8v8h-8zM562 1550h8v8h-8zM346 1574h8v8h-8z"/><path fill="#262626" d="M650 886h8v8h-8zM794 886h8v8h-8zM794 894h8v8h-8zM642 902h8v8h-8zM794 902h8v8h-8zM794 910h8v8h-8zM794 918h8v8h-8zM794 926h8v8h-8zM786 966h8v8h-8zM786 974h8v8h-8zM778 1014h8v8h-8zM778 1022h8v8h-8zM530 1038h8v8h-8zM522 1054h8v8h-8zM770 1054h8v8h-8zM514 1070h8v8h-8zM506 1086h8v8h-8zM762 1086h8v8h-8zM498 1102h8v8h-8zM490 1118h8v8h-8zM754 1118h8v8h-8zM482 1134h8v8h-8zM730 1182h8v8h-8zM442 1214h8v8h-8zM722 1214h8v8h-8zM714 1246h8v8h-8zM418 1270h8v8h-8zM706 1286h8v8h-8zM402 1302h8v8h-8zM386 1326h8v8h-8zM682 1334h8v8h-8zM370 1350h8v8h-8zM674 1350h8v8h-8zM354 1374h8v8h-8zM338 1398h8v8h-8zM634 1430h8v8h-8zM626 1446h8v8h-8zM618 1478h8v8h-8zM306 1502h8v8h-8zM610 1510h8v8h-8zM578 1542h8v8h-8zM554 1550h8v8h-8zM514 1558h8v8h-8zM466 1566h8v8h-8zM362 1574h8v8h-8z"/><path fill="#282828" d="M650 894h8v8h-8zM634 918h8v8h-8zM626 926h8v8h-8zM618 934h8v8h-8zM610 942h8v8h-8zM786 942h8v8h-8zM602 950h8v8h-8zM786 950h8v8h-8zM594 958h8v8h-8zM786 958h8v8h-8zM586 966h8v8h-8zM578 974h8v8h-8zM570 982h8v8h-8zM562 990h8v8h-8zM554 998h8v8h-8zM778 998h8v8h-8zM778 1006h8v8h-8zM546 1014h8v8h-8zM770 1046h8v8h-8zM762 1078h8v8h-8zM754 1110h8v8h-8zM746 1134h8v8h-8zM474 1150h8v8h-8zM738 1158h8v8h-8zM466 1166h8v8h-8zM458 1182h8v8h-8zM450 1198h8v8h-8zM722 1206h8v8h-8zM714 1238h8v8h-8zM426 1254h8v8h-8zM706 1278h8v8h-8zM698 1302h8v8h-8zM690 1318h8v8h-8zM658 1374h8v8h-8zM650 1390h8v8h-8zM642 1406h8v8h-8zM634 1422h8v8h-8zM314 1454h8v8h-8zM618 1462h8v8h-8zM618 1470h8v8h-8zM610 1502h8v8h-8zM354 1574h8v8h-8z"/><path fill="#2a2a2a" d="M658 886h8v8h-8zM786 886h8v8h-8zM786 894h8v8h-8zM786 902h8v8h-8zM642 910h8v8h-8zM786 910h8v8h-8zM786 918h8v8h-8zM786 926h8v8h-8zM786 934h8v8h-8zM778 982h8v8h-8zM778 990h8v8h-8zM538 1030h8v8h-8zM770 1030h8v8h-8zM770 1038h8v8h-8zM530 1046h8v8h-8zM522 1062h8v8h-8zM762 1070h8v8h-8zM514 1078h8v8h-8zM506 1094h8v8h-8zM754 1102h8v8h-8zM746 1126h8v8h-8zM738 1150h8v8h-8zM730 1174h8v8h-8zM722 1198h8v8h-8zM714 1230h8v8h-8zM434 1238h8v8h-8zM706 1270h8v8h-8zM394 1318h8v8h-8zM674 1342h8v8h-8zM666 1358h8v8h-8zM322 1438h8v8h-8zM626 1438h8v8h-8zM314 1462h8v8h-8zM610 1494h8v8h-8zM298 1510h8v8h-8zM602 1518h8v8h-8zM594 1526h8v8h-8zM586 1534h8v8h-8zM570 1542h8v8h-8zM186 1550h8v8h-8zM546 1550h8v8h-8zM218 1558h8v8h-8zM266 1566h8v8h-8zM458 1566h8v8h-8z"/><path fill="#2c2c2c" d="M650 902h8v8h-8zM778 958h8v8h-8zM778 966h8v8h-8zM778 974h8v8h-8zM554 1006h8v8h-8zM770 1014h8v8h-8zM546 1022h8v8h-8zM770 1022h8v8h-8zM762 1062h8v8h-8zM754 1094h8v8h-8zM498 1110h8v8h-8zM746 1118h8v8h-8zM490 1126h8v8h-8zM738 1142h8v8h-8zM730 1166h8v8h-8zM722 1190h8v8h-8zM442 1222h8v8h-8zM714 1222h8v8h-8zM706 1262h8v8h-8zM410 1294h8v8h-8zM698 1294h8v8h-8zM690 1310h8v8h-8zM682 1326h8v8h-8zM378 1342h8v8h-8zM362 1366h8v8h-8zM650 1382h8v8h-8zM346 1390h8v8h-8zM642 1398h8v8h-8zM634 1414h8v8h-8zM330 1422h8v8h-8zM618 1454h8v8h-8zM610 1486h8v8h-8zM306 1510h8v8h-8zM538 1550h8v8h-8zM450 1566h8v8h-8z"/><path fill="#2e2e2e" d="M666 886h8v8h-8zM778 886h8v8h-8zM658 894h8v8h-8zM778 894h8v8h-8zM778 902h8v8h-8zM650 910h8v8h-8zM778 910h8v8h-8zM642 918h8v8h-8zM778 918h8v8h-8zM634 926h8v8h-8zM778 926h8v8h-8zM626 934h8v8h-8zM778 934h8v8h-8zM618 942h8v8h-8zM778 942h8v8h-8zM610 950h8v8h-8zM778 950h8v8h-8zM602 958h8v8h-8zM594 966h8v8h-8zM586 974h8v8h-8zM578 982h8v8h-8zM570 990h8v8h-8zM562 998h8v8h-8zM770 998h8v8h-8zM770 1006h8v8h-8zM538 1038h8v8h-8zM762 1046h8v8h-8zM762 1054h8v8h-8zM754 1086h8v8h-8zM482 1142h8v8h-8zM474 1158h8v8h-8zM466 1174h8v8h-8zM458 1190h8v8h-8zM450 1206h8v8h-8zM714 1214h8v8h-8zM706 1254h8v8h-8zM418 1278h8v8h-8zM698 1286h8v8h-8zM666 1350h8v8h-8zM658 1366h8v8h-8zM338 1406h8v8h-8zM626 1430h8v8h-8zM618 1446h8v8h-8zM314 1470h8v8h-8zM610 1478h8v8h-8zM602 1510h8v8h-8zM242 1518h8v8h-8zM202 1526h8v8h-8zM178 1534h8v8h-8zM506 1558h8v8h-8z"/><path fill="#303030" d="M770 886h8v8h-8zM666 894h8v8h-8zM770 894h8v8h-8zM658 902h8v8h-8zM770 902h8v8h-8zM770 974h8v8h-8zM770 982h8v8h-8zM770 990h8v8h-8zM554 1014h8v8h-8zM762 1030h8v8h-8zM762 1038h8v8h-8zM530 1054h8v8h-8zM522 1070h8v8h-8zM754 1078h8v8h-8zM514 1086h8v8h-8zM746 1110h8v8h-8zM738 1134h8v8h-8zM730 1158h8v8h-8zM722 1182h8v8h-8zM714 1206h8v8h-8zM706 1246h8v8h-8zM426 1262h8v8h-8zM698 1278h8v8h-8zM402 1310h8v8h-8zM682 1318h8v8h-8zM386 1334h8v8h-8zM674 1334h8v8h-8zM642 1390h8v8h-8zM634 1406h8v8h-8zM610 1470h8v8h-8zM314 1478h8v8h-8zM602 1502h8v8h-8zM578 1534h8v8h-8zM562 1542h8v8h-8zM530 1550h8v8h-8zM442 1566h8v8h-8z"/><path fill="#323232" d="M674 886h16v8h-16zM762 886h8v8h-8zM674 894h8v8h-8zM762 894h8v8h-8zM666 902h8v8h-8zM658 910h8v8h-8zM770 910h8v8h-8zM650 918h8v8h-8zM770 918h8v8h-8zM642 926h8v8h-8zM770 926h8v8h-8zM634 934h8v8h-8zM770 934h8v8h-8zM626 942h8v8h-8zM770 942h8v8h-8zM770 950h8v8h-8zM770 958h8v8h-8zM770 966h8v8h-8zM562 1006h8v8h-8zM762 1014h8v8h-8zM762 1022h8v8h-8zM546 1030h8v8h-8zM754 1062h8v8h-8zM754 1070h8v8h-8zM506 1102h8v8h-8zM746 1102h8v8h-8zM498 1118h8v8h-8zM738 1126h8v8h-8zM730 1150h8v8h-8zM722 1174h8v8h-8zM714 1198h8v8h-8zM442 1230h8v8h-8zM706 1238h8v8h-8zM434 1246h8v8h-8zM698 1270h8v8h-8zM690 1302h8v8h-8zM370 1358h8v8h-8zM658 1358h8v8h-8zM650 1374h8v8h-8zM354 1382h8v8h-8zM626 1422h8v8h-8zM322 1446h8v8h-8zM610 1462h8v8h-8zM314 1486h8v8h-8zM602 1494h8v8h-8zM594 1518h8v8h-8zM586 1526h8v8h-8zM274 1566h8v8h-8z"/><path fill="#343434" d="M690 886h72v8h-72zM682 894h24v8h-24zM738 894h24v8h-24zM674 902h8v8h-8zM754 902h16v8h-16zM666 910h8v8h-8zM762 910h8v8h-8zM658 918h8v8h-8zM762 918h8v8h-8zM762 926h8v8h-8zM618 950h8v8h-8zM610 958h8v8h-8zM602 966h8v8h-8zM594 974h8v8h-8zM586 982h8v8h-8zM762 982h8v8h-8zM578 990h8v8h-8zM762 990h8v8h-8zM570 998h8v8h-8zM762 998h8v8h-8zM762 1006h8v8h-8zM554 1022h8v8h-8zM538 1046h8v8h-8zM754 1054h8v8h-8zM530 1062h8v8h-8zM746 1094h8v8h-8zM738 1118h8v8h-8zM490 1134h8v8h-8zM482 1150h8v8h-8zM450 1214h8v8h-8zM706 1230h8v8h-8zM698 1262h8v8h-8zM418 1286h8v8h-8zM674 1326h8v8h-8zM666 1342h8v8h-8zM330 1430h8v8h-8zM618 1438h8v8h-8zM610 1454h8v8h-8zM602 1486h8v8h-8zM314 1494h8v8h-8zM554 1542h8v8h-8zM434 1566h8v8h-8z"/><path fill="#363636" d="M706 894h32v8h-32zM682 902h72v8h-72zM674 910h24v8h-24zM738 910h24v8h-24zM666 918h8v8h-8zM754 918h8v8h-8zM650 926h8v8h-8zM754 926h8v8h-8zM642 934h8v8h-8zM762 934h8v8h-8zM634 942h8v8h-8zM762 942h8v8h-8zM762 950h8v8h-8zM762 958h8v8h-8zM762 966h8v8h-8zM762 974h8v8h-8zM562 1014h8v8h-8zM546 1038h8v8h-8zM754 1038h8v8h-8zM754 1046h8v8h-8zM522 1078h8v8h-8zM746 1078h8v8h-8zM746 1086h8v8h-8zM514 1094h8v8h-8zM730 1142h8v8h-8zM474 1166h8v8h-8zM722 1166h8v8h-8zM466 1182h8v8h-8zM714 1190h8v8h-8zM458 1198h8v8h-8zM706 1222h8v8h-8zM698 1254h8v8h-8zM426 1270h8v8h-8zM690 1294h8v8h-8zM410 1302h8v8h-8zM682 1310h8v8h-8zM394 1326h8v8h-8zM642 1382h8v8h-8zM634 1398h8v8h-8zM338 1414h8v8h-8zM626 1414h8v8h-8zM602 1478h8v8h-8zM314 1502h8v8h-8zM594 1510h8v8h-8zM570 1534h8v8h-8zM178 1542h8v8h-8z"/><path fill="#383838" d="M698 910h40v8h-40zM674 918h80v8h-80zM658 926h16v8h-16zM746 926h8v8h-8zM650 934h8v8h-8zM754 934h8v8h-8zM754 942h8v8h-8zM626 950h8v8h-8zM754 950h8v8h-8zM618 958h8v8h-8zM610 966h8v8h-8zM602 974h8v8h-8zM754 998h8v8h-8zM570 1006h8v8h-8zM754 1006h8v8h-8zM754 1014h8v8h-8zM754 1022h8v8h-8zM754 1030h8v8h-8zM538 1054h8v8h-8zM746 1070h8v8h-8zM506 1110h8v8h-8zM738 1110h8v8h-8zM730 1134h8v8h-8zM722 1158h8v8h-8zM714 1182h8v8h-8zM706 1214h8v8h-8zM698 1246h8v8h-8zM434 1254h8v8h-8zM690 1286h8v8h-8zM378 1350h8v8h-8zM658 1350h8v8h-8zM650 1366h8v8h-8zM362 1374h8v8h-8zM346 1398h8v8h-8zM618 1430h8v8h-8zM610 1446h8v8h-8zM602 1470h8v8h-8zM594 1502h8v8h-8zM314 1510h8v8h-8zM250 1518h8v8h-8zM578 1526h8v8h-8zM546 1542h8v8h-8zM226 1558h8v8h-8zM498 1558h8v8h-8zM282 1566h8v8h-8zM426 1566h8v8h-8z"/><path fill="#3a3a3a" d="M674 926h72v8h-72zM658 934h16v8h-16zM738 934h16v8h-16zM642 942h16v8h-16zM746 942h8v8h-8zM634 950h8v8h-8zM626 958h8v8h-8zM754 958h8v8h-8zM754 966h8v8h-8zM754 974h8v8h-8zM594 982h8v8h-8zM754 982h8v8h-8zM586 990h8v8h-8zM754 990h8v8h-8zM578 998h8v8h-8zM554 1030h8v8h-8zM746 1054h8v8h-8zM746 1062h8v8h-8zM530 1070h8v8h-8zM738 1102h8v8h-8zM498 1126h8v8h-8zM730 1126h8v8h-8zM490 1142h8v8h-8zM706 1206h8v8h-8zM442 1238h8v8h-8zM698 1238h8v8h-8zM690 1278h8v8h-8zM682 1302h8v8h-8zM674 1318h8v8h-8zM666 1334h8v8h-8zM634 1390h8v8h-8zM322 1454h8v8h-8zM602 1462h8v8h-8zM594 1494h8v8h-8zM586 1518h8v8h-8zM522 1550h8v8h-8z"/><path fill="#3c3c3c" d="M674 934h64v8h-64zM658 942h88v8h-88zM642 950h8v8h-8zM738 950h16v8h-16zM634 958h8v8h-8zM746 958h8v8h-8zM618 966h8v8h-8zM746 966h8v8h-8zM610 974h8v8h-8zM746 974h8v8h-8zM602 982h8v8h-8zM746 982h8v8h-8zM746 990h8v8h-8zM570 1014h8v8h-8zM562 1022h8v8h-8zM746 1038h8v8h-8zM546 1046h8v8h-8zM746 1046h8v8h-8zM522 1086h8v8h-8zM738 1086h8v8h-8zM738 1094h8v8h-8zM514 1102h8v8h-8zM730 1118h8v8h-8zM722 1150h8v8h-8zM482 1158h8v8h-8zM474 1174h8v8h-8zM714 1174h8v8h-8zM706 1198h8v8h-8zM450 1222h8v8h-8zM690 1270h8v8h-8zM418 1294h8v8h-8zM402 1318h8v8h-8zM650 1358h8v8h-8zM642 1374h8v8h-8zM626 1406h8v8h-8zM618 1422h8v8h-8zM330 1438h8v8h-8zM610 1438h8v8h-8zM594 1486h8v8h-8zM562 1534h8v8h-8zM538 1542h8v8h-8zM194 1550h8v8h-8zM418 1566h8v8h-8z"/><path fill="#3e3e3e" d="M650 950h88v8h-88zM642 958h8v8h-8zM730 958h16v8h-16zM626 966h8v8h-8zM738 966h8v8h-8zM618 974h8v8h-8zM594 990h8v8h-8zM586 998h8v8h-8zM746 998h8v8h-8zM578 1006h8v8h-8zM746 1006h8v8h-8zM746 1014h8v8h-8zM746 1022h8v8h-8zM746 1030h8v8h-8zM554 1038h8v8h-8zM538 1062h8v8h-8zM738 1078h8v8h-8zM506 1118h8v8h-8zM722 1142h8v8h-8zM714 1166h8v8h-8zM466 1190h8v8h-8zM706 1190h8v8h-8zM458 1206h8v8h-8zM698 1230h8v8h-8zM690 1262h8v8h-8zM426 1278h8v8h-8zM666 1326h8v8h-8zM386 1342h8v8h-8zM658 1342h8v8h-8zM370 1366h8v8h-8zM354 1390h8v8h-8zM338 1422h8v8h-8zM602 1454h8v8h-8zM322 1462h8v8h-8zM586 1510h8v8h-8zM210 1526h8v8h-8z"/><path fill="#404040" d="M650 958h80v8h-80zM634 966h24v8h-24zM722 966h16v8h-16zM626 974h8v8h-8zM730 974h16v8h-16zM610 982h8v8h-8zM738 982h8v8h-8zM602 990h8v8h-8zM738 990h8v8h-8zM738 998h8v8h-8zM570 1022h8v8h-8zM562 1030h8v8h-8zM546 1054h8v8h-8zM738 1062h8v8h-8zM738 1070h8v8h-8zM530 1078h8v8h-8zM522 1094h8v8h-8zM730 1110h8v8h-8zM498 1134h8v8h-8zM722 1134h8v8h-8zM698 1222h8v8h-8zM690 1254h8v8h-8zM434 1262h8v8h-8zM682 1294h8v8h-8zM674 1310h8v8h-8zM634 1382h8v8h-8zM626 1398h8v8h-8zM346 1406h8v8h-8zM618 1414h8v8h-8zM322 1470h8v8h-8zM594 1478h8v8h-8zM586 1502h8v8h-8zM570 1526h8v8h-8zM554 1534h8v8h-8zM490 1558h8v8h-8zM290 1566h8v8h-8zM410 1566h8v8h-8z"/><path fill="#424242" d="M658 966h64v8h-64zM634 974h96v8h-96zM618 982h16v8h-16zM730 982h8v8h-8zM610 990h8v8h-8zM730 990h8v8h-8zM594 998h8v8h-8zM586 1006h8v8h-8zM738 1006h8v8h-8zM578 1014h8v8h-8zM738 1014h8v8h-8zM738 1022h8v8h-8zM738 1030h8v8h-8zM738 1038h8v8h-8zM554 1046h8v8h-8zM738 1046h8v8h-8zM738 1054h8v8h-8zM538 1070h8v8h-8zM730 1094h8v8h-8zM730 1102h8v8h-8zM514 1110h8v8h-8zM722 1126h8v8h-8zM490 1150h8v8h-8zM714 1158h8v8h-8zM706 1182h8v8h-8zM698 1214h8v8h-8zM442 1246h8v8h-8zM690 1246h8v8h-8zM682 1286h8v8h-8zM410 1310h8v8h-8zM650 1350h8v8h-8zM642 1366h8v8h-8zM610 1430h8v8h-8zM602 1446h8v8h-8zM594 1470h8v8h-8zM322 1478h8v8h-8zM586 1494h8v8h-8zM258 1518h8v8h-8zM578 1518h8v8h-8zM186 1534h8v8h-8z"/><path fill="#444444" d="M634 982h96v8h-96zM618 990h16v8h-16zM722 990h8v8h-8zM602 998h8v8h-8zM730 998h8v8h-8zM594 1006h8v8h-8zM730 1006h8v8h-8zM570 1030h8v8h-8zM562 1038h8v8h-8zM730 1078h8v8h-8zM530 1086h8v8h-8zM730 1086h8v8h-8zM722 1118h8v8h-8zM506 1126h8v8h-8zM714 1150h8v8h-8zM482 1166h8v8h-8zM706 1174h8v8h-8zM474 1182h8v8h-8zM698 1206h8v8h-8zM458 1214h8v8h-8zM450 1230h8v8h-8zM690 1238h8v8h-8zM682 1278h8v8h-8zM666 1318h8v8h-8zM394 1334h8v8h-8zM658 1334h8v8h-8zM378 1358h8v8h-8zM362 1382h8v8h-8zM330 1446h8v8h-8zM594 1462h8v8h-8zM322 1486h8v8h-8zM530 1542h8v8h-8zM402 1566h8v8h-8z"/><path fill="#464646" d="M634 990h88v8h-88zM610 998h24v8h-24zM714 998h16v8h-16zM602 1006h8v8h-8zM722 1006h8v8h-8zM586 1014h8v8h-8zM730 1014h8v8h-8zM578 1022h8v8h-8zM730 1022h8v8h-8zM730 1030h8v8h-8zM730 1038h8v8h-8zM730 1046h8v8h-8zM730 1054h8v8h-8zM546 1062h8v8h-8zM730 1062h8v8h-8zM730 1070h8v8h-8zM522 1102h8v8h-8zM722 1110h8v8h-8zM498 1142h8v8h-8zM714 1142h8v8h-8zM466 1198h8v8h-8zM698 1198h8v8h-8zM690 1230h8v8h-8zM682 1270h8v8h-8zM426 1286h8v8h-8zM674 1302h8v8h-8zM634 1374h8v8h-8zM626 1390h8v8h-8zM618 1406h8v8h-8zM610 1422h8v8h-8zM338 1430h8v8h-8zM586 1486h8v8h-8zM322 1494h8v8h-8zM578 1510h8v8h-8zM562 1526h8v8h-8zM546 1534h8v8h-8zM234 1558h8v8h-8zM298 1566h8v8h-8z"/><path fill="#484848" d="M634 998h80v8h-80zM610 1006h16v8h-16zM714 1006h8v8h-8zM594 1014h8v8h-8zM722 1014h8v8h-8zM586 1022h8v8h-8zM570 1038h8v8h-8zM562 1046h8v8h-8zM554 1054h8v8h-8zM538 1078h8v8h-8zM722 1102h8v8h-8zM714 1134h8v8h-8zM490 1158h8v8h-8zM706 1166h8v8h-8zM698 1190h8v8h-8zM690 1222h8v8h-8zM682 1262h8v8h-8zM434 1270h8v8h-8zM418 1302h8v8h-8zM402 1326h8v8h-8zM650 1342h8v8h-8zM642 1358h8v8h-8zM346 1414h8v8h-8zM602 1438h8v8h-8zM594 1454h8v8h-8zM586 1478h8v8h-8zM322 1502h8v8h-8zM578 1502h8v8h-8zM514 1550h8v8h-8zM482 1558h8v8h-8zM394 1566h8v8h-8z"/><path fill="#4a4a4a" d="M626 1006h88v8h-88zM602 1014h16v8h-16zM714 1014h8v8h-8zM594 1022h8v8h-8zM722 1022h8v8h-8zM578 1030h8v8h-8zM722 1030h8v8h-8zM722 1038h8v8h-8zM546 1070h8v8h-8zM722 1086h8v8h-8zM530 1094h8v8h-8zM722 1094h8v8h-8zM514 1118h8v8h-8zM714 1126h8v8h-8zM706 1158h8v8h-8zM482 1174h8v8h-8zM698 1182h8v8h-8zM690 1214h8v8h-8zM450 1238h8v8h-8zM442 1254h8v8h-8zM682 1254h8v8h-8zM674 1294h8v8h-8zM666 1310h8v8h-8zM658 1326h8v8h-8zM386 1350h8v8h-8zM354 1398h8v8h-8zM322 1510h8v8h-8zM266 1518h8v8h-8zM570 1518h8v8h-8zM538 1534h8v8h-8zM306 1566h8v8h-8z"/><path fill="#4c4c4c" d="M618 1014h96v8h-96zM602 1022h8v8h-8zM714 1022h8v8h-8zM586 1030h8v8h-8zM714 1030h8v8h-8zM578 1038h8v8h-8zM570 1046h8v8h-8zM722 1046h8v8h-8zM562 1054h8v8h-8zM722 1054h8v8h-8zM554 1062h8v8h-8zM722 1062h8v8h-8zM722 1070h8v8h-8zM722 1078h8v8h-8zM538 1086h8v8h-8zM522 1110h8v8h-8zM714 1118h8v8h-8zM506 1134h8v8h-8zM706 1150h8v8h-8zM474 1190h8v8h-8zM466 1206h8v8h-8zM690 1206h8v8h-8zM458 1222h8v8h-8zM682 1246h8v8h-8zM674 1286h8v8h-8zM370 1374h8v8h-8zM626 1382h8v8h-8zM618 1398h8v8h-8zM610 1414h8v8h-8zM602 1430h8v8h-8zM594 1446h8v8h-8zM330 1454h8v8h-8zM586 1470h8v8h-8zM578 1494h8v8h-8zM386 1566h8v8h-8z"/><path fill="#4e4e4e" d="M610 1022h32v8h-32zM690 1022h24v8h-24zM594 1030h8v8h-8zM706 1030h8v8h-8zM714 1038h8v8h-8zM714 1046h8v8h-8zM546 1078h8v8h-8zM714 1102h8v8h-8zM714 1110h8v8h-8zM706 1142h8v8h-8zM498 1150h8v8h-8zM698 1174h8v8h-8zM690 1198h8v8h-8zM682 1238h8v8h-8zM674 1278h8v8h-8zM426 1294h8v8h-8zM410 1318h8v8h-8zM650 1334h8v8h-8zM642 1350h8v8h-8zM634 1366h8v8h-8zM338 1438h8v8h-8zM586 1462h8v8h-8zM578 1486h8v8h-8zM570 1510h8v8h-8zM554 1526h8v8h-8zM186 1542h8v8h-8zM474 1558h8v8h-8zM314 1566h8v8h-8z"/><path fill="#505050" d="M642 1022h48v8h-48zM602 1030h24v8h-24zM698 1030h8v8h-8zM586 1038h8v8h-8zM706 1038h8v8h-8zM578 1046h8v8h-8zM570 1054h8v8h-8zM714 1054h8v8h-8zM562 1062h8v8h-8zM714 1062h8v8h-8zM554 1070h8v8h-8zM714 1070h8v8h-8zM714 1078h8v8h-8zM714 1086h8v8h-8zM714 1094h8v8h-8zM530 1102h8v8h-8zM514 1126h8v8h-8zM706 1134h8v8h-8zM490 1166h8v8h-8zM698 1166h8v8h-8zM682 1230h8v8h-8zM674 1270h8v8h-8zM434 1278h8v8h-8zM666 1302h8v8h-8zM658 1318h8v8h-8zM394 1342h8v8h-8zM330 1462h8v8h-8zM218 1526h8v8h-8z"/><path fill="#525252" d="M626 1030h72v8h-72zM594 1038h16v8h-16zM698 1038h8v8h-8zM586 1046h8v8h-8zM706 1046h8v8h-8zM706 1054h8v8h-8zM538 1094h8v8h-8zM522 1118h8v8h-8zM706 1126h8v8h-8zM506 1142h8v8h-8zM698 1158h8v8h-8zM482 1182h8v8h-8zM690 1190h8v8h-8zM682 1222h8v8h-8zM450 1246h8v8h-8zM442 1262h8v8h-8zM674 1262h8v8h-8zM378 1366h8v8h-8zM626 1374h8v8h-8zM362 1390h8v8h-8zM618 1390h8v8h-8zM610 1406h8v8h-8zM346 1422h8v8h-8zM602 1422h8v8h-8zM594 1438h8v8h-8zM586 1454h8v8h-8zM330 1470h8v8h-8zM578 1478h8v8h-8zM570 1502h8v8h-8zM562 1518h8v8h-8zM202 1550h8v8h-8zM322 1566h8v8h-8zM378 1566h8v8h-8z"/><path fill="#545454" d="M610 1038h88v8h-88zM594 1046h8v8h-8zM698 1046h8v8h-8zM578 1054h8v8h-8zM570 1062h8v8h-8zM706 1062h8v8h-8zM562 1070h8v8h-8zM706 1070h8v8h-8zM554 1078h8v8h-8zM706 1078h8v8h-8zM546 1086h8v8h-8zM706 1102h8v8h-8zM706 1110h8v8h-8zM706 1118h8v8h-8zM698 1150h8v8h-8zM498 1158h8v8h-8zM690 1182h8v8h-8zM474 1198h8v8h-8zM466 1214h8v8h-8zM682 1214h8v8h-8zM458 1230h8v8h-8zM674 1254h8v8h-8zM666 1294h8v8h-8zM418 1310h8v8h-8zM658 1310h8v8h-8zM650 1326h8v8h-8zM642 1342h8v8h-8zM634 1358h8v8h-8zM354 1406h8v8h-8zM330 1478h8v8h-8zM570 1494h8v8h-8zM274 1518h8v8h-8zM546 1526h8v8h-8zM242 1558h8v8h-8zM330 1566h8v8h-8z"/><path fill="#565656" d="M602 1046h96v8h-96zM586 1054h8v8h-8zM690 1054h16v8h-16zM698 1062h8v8h-8zM706 1086h8v8h-8zM706 1094h8v8h-8zM538 1102h8v8h-8zM530 1110h8v8h-8zM514 1134h8v8h-8zM698 1142h8v8h-8zM690 1174h8v8h-8zM682 1206h8v8h-8zM674 1246h8v8h-8zM666 1286h8v8h-8zM402 1334h8v8h-8zM578 1470h8v8h-8zM330 1486h8v8h-8zM562 1510h8v8h-8zM466 1558h8v8h-8zM370 1566h8v8h-8z"/><path fill="#585858" d="M594 1054h96v8h-96zM578 1062h16v8h-16zM690 1062h8v8h-8zM570 1070h8v8h-8zM698 1070h8v8h-8zM562 1078h8v8h-8zM698 1078h8v8h-8zM554 1086h8v8h-8zM546 1094h8v8h-8zM522 1126h8v8h-8zM698 1126h8v8h-8zM698 1134h8v8h-8zM506 1150h8v8h-8zM690 1166h8v8h-8zM490 1174h8v8h-8zM682 1198h8v8h-8zM674 1238h8v8h-8zM666 1278h8v8h-8zM434 1286h8v8h-8zM386 1358h8v8h-8zM626 1366h8v8h-8zM370 1382h8v8h-8zM618 1382h8v8h-8zM610 1398h8v8h-8zM602 1414h8v8h-8zM594 1430h8v8h-8zM338 1446h8v8h-8zM586 1446h8v8h-8zM578 1462h8v8h-8zM570 1486h8v8h-8zM330 1494h8v8h-8zM330 1502h8v8h-8zM194 1534h8v8h-8zM530 1534h8v8h-8zM506 1550h8v8h-8zM338 1566h8v8h-8z"/><path fill="#5a5a5a" d="M594 1062h24v8h-24zM674 1062h16v8h-16zM578 1070h8v8h-8zM690 1070h8v8h-8zM698 1086h8v8h-8zM698 1094h8v8h-8zM698 1102h8v8h-8zM698 1110h8v8h-8zM530 1118h8v8h-8zM698 1118h8v8h-8zM690 1158h8v8h-8zM482 1190h8v8h-8zM682 1190h8v8h-8zM474 1206h8v8h-8zM466 1222h8v8h-8zM674 1230h8v8h-8zM458 1238h8v8h-8zM450 1254h8v8h-8zM442 1270h8v8h-8zM666 1270h8v8h-8zM426 1302h8v8h-8zM658 1302h8v8h-8zM650 1318h8v8h-8zM642 1334h8v8h-8zM634 1350h8v8h-8zM346 1430h8v8h-8zM562 1502h8v8h-8zM330 1510h8v8h-8zM554 1518h8v8h-8zM538 1526h8v8h-8zM522 1542h8v8h-8z"/><path fill="#5c5c5c" d="M618 1062h56v8h-56zM586 1070h16v8h-16zM674 1070h16v8h-16zM570 1078h8v8h-8zM690 1078h8v8h-8zM562 1086h8v8h-8zM690 1086h8v8h-8zM554 1094h8v8h-8zM546 1102h8v8h-8zM538 1110h8v8h-8zM514 1142h8v8h-8zM690 1142h8v8h-8zM690 1150h8v8h-8zM498 1166h8v8h-8zM682 1182h8v8h-8zM674 1222h8v8h-8zM666 1262h8v8h-8zM410 1326h8v8h-8zM394 1350h8v8h-8zM354 1414h8v8h-8zM586 1438h8v8h-8zM578 1454h8v8h-8zM570 1478h8v8h-8zM282 1518h8v8h-8zM458 1558h8v8h-8zM346 1566h8v8h-8zM362 1566h8v8h-8z"/><path fill="#5e5e5e" d="M602 1070h72v8h-72zM578 1078h16v8h-16zM674 1078h16v8h-16zM570 1086h8v8h-8zM690 1094h8v8h-8zM690 1102h8v8h-8zM690 1110h8v8h-8zM690 1118h8v8h-8zM690 1126h8v8h-8zM522 1134h8v8h-8zM690 1134h8v8h-8zM506 1158h8v8h-8zM682 1174h8v8h-8zM490 1182h8v8h-8zM674 1214h8v8h-8zM666 1254h8v8h-8zM658 1294h8v8h-8zM626 1358h8v8h-8zM378 1374h8v8h-8zM618 1374h8v8h-8zM610 1390h8v8h-8zM362 1398h8v8h-8zM602 1406h8v8h-8zM594 1422h8v8h-8zM562 1494h8v8h-8zM554 1510h8v8h-8zM354 1566h8v8h-8z"/><path fill="#606060" d="M594 1078h80v8h-80zM578 1086h8v8h-8zM674 1086h16v8h-16zM562 1094h8v8h-8zM682 1094h8v8h-8zM554 1102h8v8h-8zM546 1110h8v8h-8zM538 1118h8v8h-8zM530 1126h8v8h-8zM682 1158h8v8h-8zM682 1166h8v8h-8zM482 1198h8v8h-8zM674 1198h8v8h-8zM674 1206h8v8h-8zM666 1246h8v8h-8zM442 1278h8v8h-8zM658 1286h8v8h-8zM434 1294h8v8h-8zM650 1310h8v8h-8zM418 1318h8v8h-8zM642 1326h8v8h-8zM634 1342h8v8h-8zM338 1454h8v8h-8zM570 1470h8v8h-8zM546 1518h8v8h-8zM530 1526h8v8h-8zM250 1558h8v8h-8z"/><path fill="#626262" d="M586 1086h88v8h-88zM570 1094h8v8h-8zM674 1094h8v8h-8zM682 1102h8v8h-8zM682 1110h8v8h-8zM682 1118h8v8h-8zM682 1126h8v8h-8zM682 1134h8v8h-8zM682 1142h8v8h-8zM514 1150h8v8h-8zM682 1150h8v8h-8zM498 1174h8v8h-8zM674 1190h8v8h-8zM474 1214h8v8h-8zM466 1230h8v8h-8zM666 1238h8v8h-8zM458 1246h8v8h-8zM450 1262h8v8h-8zM658 1278h8v8h-8zM402 1342h8v8h-8zM594 1414h8v8h-8zM586 1430h8v8h-8zM346 1438h8v8h-8zM578 1446h8v8h-8zM570 1462h8v8h-8zM562 1486h8v8h-8zM554 1502h8v8h-8zM226 1526h8v8h-8zM450 1558h8v8h-8z"/><path fill="#646464" d="M578 1094h96v8h-96zM562 1102h8v8h-8zM674 1102h8v8h-8zM554 1110h8v8h-8zM546 1118h8v8h-8zM538 1126h8v8h-8zM530 1134h8v8h-8zM522 1142h8v8h-8zM506 1166h8v8h-8zM674 1182h8v8h-8zM666 1230h8v8h-8zM658 1270h8v8h-8zM650 1302h8v8h-8zM642 1318h8v8h-8zM634 1334h8v8h-8zM626 1350h8v8h-8zM386 1366h8v8h-8zM618 1366h8v8h-8zM610 1382h8v8h-8zM602 1398h8v8h-8zM354 1422h8v8h-8zM338 1462h8v8h-8zM338 1470h8v8h-8zM290 1518h8v8h-8z"/><path fill="#666666" d="M570 1102h24v8h-24zM658 1102h16v8h-16zM562 1110h8v8h-8zM674 1110h8v8h-8zM674 1118h8v8h-8zM674 1126h8v8h-8zM674 1166h8v8h-8zM674 1174h8v8h-8zM490 1190h8v8h-8zM482 1206h8v8h-8zM666 1214h8v8h-8zM666 1222h8v8h-8zM658 1262h8v8h-8zM426 1310h8v8h-8zM370 1390h8v8h-8zM362 1406h8v8h-8zM338 1478h8v8h-8zM562 1478h8v8h-8zM338 1486h8v8h-8zM554 1494h8v8h-8zM546 1510h8v8h-8zM194 1542h8v8h-8zM498 1550h8v8h-8z"/><path fill="#686868" d="M594 1102h64v8h-64zM570 1110h8v8h-8zM658 1110h16v8h-16zM554 1118h8v8h-8zM666 1118h8v8h-8zM546 1126h8v8h-8zM674 1134h8v8h-8zM674 1142h8v8h-8zM522 1150h8v8h-8zM674 1150h8v8h-8zM514 1158h8v8h-8zM674 1158h8v8h-8zM498 1182h8v8h-8zM666 1198h8v8h-8zM666 1206h8v8h-8zM474 1222h8v8h-8zM466 1238h8v8h-8zM458 1254h8v8h-8zM658 1254h8v8h-8zM450 1270h8v8h-8zM442 1286h8v8h-8zM650 1294h8v8h-8zM410 1334h8v8h-8zM594 1406h8v8h-8zM586 1422h8v8h-8zM578 1438h8v8h-8zM570 1454h8v8h-8zM562 1470h8v8h-8zM338 1494h8v8h-8zM338 1502h8v8h-8zM338 1510h8v8h-8zM538 1518h8v8h-8zM210 1550h8v8h-8zM442 1558h8v8h-8z"/><path fill="#6a6a6a" d="M578 1110h80v8h-80zM562 1118h8v8h-8zM658 1118h8v8h-8zM666 1126h8v8h-8zM538 1134h8v8h-8zM666 1134h8v8h-8zM530 1142h8v8h-8zM506 1174h8v8h-8zM666 1182h8v8h-8zM666 1190h8v8h-8zM658 1238h8v8h-8zM658 1246h8v8h-8zM650 1286h8v8h-8zM434 1302h8v8h-8zM642 1310h8v8h-8zM634 1326h8v8h-8zM626 1342h8v8h-8zM394 1358h8v8h-8zM618 1358h8v8h-8zM610 1374h8v8h-8zM602 1390h8v8h-8zM346 1446h8v8h-8zM554 1486h8v8h-8zM546 1502h8v8h-8zM298 1518h8v8h-8z"/><path fill="#6c6c6c" d="M570 1118h88v8h-88zM554 1126h16v8h-16zM658 1126h8v8h-8zM546 1134h8v8h-8zM666 1142h8v8h-8zM666 1150h8v8h-8zM666 1158h8v8h-8zM514 1166h8v8h-8zM666 1166h8v8h-8zM666 1174h8v8h-8zM490 1198h8v8h-8zM482 1214h8v8h-8zM658 1230h8v8h-8zM650 1278h8v8h-8zM418 1326h8v8h-8zM378 1382h8v8h-8zM354 1430h8v8h-8zM570 1446h8v8h-8zM562 1462h8v8h-8zM258 1558h8v8h-8zM434 1558h8v8h-8z"/><path fill="#6e6e6e" d="M570 1126h88v8h-88zM554 1134h8v8h-8zM658 1134h8v8h-8zM538 1142h8v8h-8zM658 1142h8v8h-8zM530 1150h8v8h-8zM522 1158h8v8h-8zM498 1190h8v8h-8zM658 1206h8v8h-8zM658 1214h8v8h-8zM658 1222h8v8h-8zM474 1230h8v8h-8zM466 1246h8v8h-8zM650 1270h8v8h-8zM642 1302h8v8h-8zM402 1350h8v8h-8zM594 1398h8v8h-8zM362 1414h8v8h-8zM586 1414h8v8h-8zM578 1430h8v8h-8zM554 1478h8v8h-8zM546 1494h8v8h-8zM538 1510h8v8h-8zM306 1518h8v8h-8zM530 1518h8v8h-8zM514 1542h8v8h-8z"/><path fill="#707070" d="M562 1134h24v8h-24zM634 1134h24v8h-24zM546 1142h8v8h-8zM650 1142h8v8h-8zM538 1150h8v8h-8zM658 1150h8v8h-8zM658 1158h8v8h-8zM658 1166h8v8h-8zM658 1174h8v8h-8zM506 1182h8v8h-8zM658 1182h8v8h-8zM658 1190h8v8h-8zM658 1198h8v8h-8zM490 1206h8v8h-8zM650 1254h8v8h-8zM458 1262h8v8h-8zM650 1262h8v8h-8zM450 1278h8v8h-8zM442 1294h8v8h-8zM634 1318h8v8h-8zM626 1334h8v8h-8zM618 1350h8v8h-8zM610 1366h8v8h-8zM386 1374h8v8h-8zM602 1382h8v8h-8zM202 1534h8v8h-8zM522 1534h8v8h-8z"/><path fill="#727272" d="M586 1134h48v8h-48zM554 1142h16v8h-16zM642 1142h8v8h-8zM650 1150h8v8h-8zM530 1158h8v8h-8zM522 1166h8v8h-8zM514 1174h8v8h-8zM482 1222h8v8h-8zM650 1238h8v8h-8zM650 1246h8v8h-8zM642 1294h8v8h-8zM426 1318h8v8h-8zM370 1398h8v8h-8zM570 1438h8v8h-8zM346 1454h8v8h-8zM562 1454h8v8h-8zM554 1470h8v8h-8zM546 1486h8v8h-8zM538 1502h8v8h-8zM314 1518h8v8h-8zM234 1526h8v8h-8zM490 1550h8v8h-8zM426 1558h8v8h-8z"/><path fill="#747474" d="M570 1142h72v8h-72zM546 1150h16v8h-16zM642 1150h8v8h-8zM538 1158h8v8h-8zM650 1158h8v8h-8zM650 1166h8v8h-8zM650 1174h8v8h-8zM498 1198h8v8h-8zM650 1214h8v8h-8zM650 1222h8v8h-8zM650 1230h8v8h-8zM474 1238h8v8h-8zM466 1254h8v8h-8zM642 1286h8v8h-8zM634 1310h8v8h-8zM626 1326h8v8h-8zM410 1342h8v8h-8zM618 1342h8v8h-8zM610 1358h8v8h-8zM602 1374h8v8h-8zM594 1390h8v8h-8zM586 1406h8v8h-8zM578 1422h8v8h-8zM354 1438h8v8h-8zM346 1462h8v8h-8zM346 1470h8v8h-8zM346 1494h8v8h-8zM346 1502h8v8h-8zM346 1510h8v8h-8zM530 1510h8v8h-8zM266 1558h8v8h-8z"/><path fill="#767676" d="M562 1150h80v8h-80zM546 1158h8v8h-8zM642 1158h8v8h-8zM530 1166h8v8h-8zM522 1174h8v8h-8zM514 1182h8v8h-8zM650 1182h8v8h-8zM506 1190h8v8h-8zM650 1190h8v8h-8zM650 1198h8v8h-8zM650 1206h8v8h-8zM490 1214h8v8h-8zM458 1270h8v8h-8zM642 1270h8v8h-8zM642 1278h8v8h-8zM450 1286h8v8h-8zM434 1310h8v8h-8zM394 1366h8v8h-8zM362 1422h8v8h-8zM562 1446h8v8h-8zM554 1462h8v8h-8zM346 1478h8v8h-8zM546 1478h8v8h-8zM346 1486h8v8h-8zM538 1494h8v8h-8zM322 1518h8v8h-8zM522 1518h8v8h-8z"/><path fill="#787878" d="M554 1158h88v8h-88zM538 1166h8v8h-8zM634 1166h16v8h-16zM642 1174h8v8h-8zM498 1206h8v8h-8zM482 1230h8v8h-8zM642 1254h8v8h-8zM642 1262h8v8h-8zM442 1302h8v8h-8zM634 1302h8v8h-8zM626 1318h8v8h-8zM418 1334h8v8h-8zM378 1390h8v8h-8zM370 1406h8v8h-8zM578 1414h8v8h-8zM570 1430h8v8h-8zM530 1502h8v8h-8zM330 1518h8v8h-8zM522 1526h8v8h-8zM418 1558h8v8h-8z"/><path fill="#7a7a7a" d="M546 1166h88v8h-88zM530 1174h8v8h-8zM634 1174h8v8h-8zM522 1182h8v8h-8zM642 1182h8v8h-8zM514 1190h8v8h-8zM642 1190h8v8h-8zM506 1198h8v8h-8zM642 1198h8v8h-8zM642 1206h8v8h-8zM642 1214h8v8h-8zM490 1222h8v8h-8zM642 1222h8v8h-8zM642 1230h8v8h-8zM642 1238h8v8h-8zM474 1246h8v8h-8zM642 1246h8v8h-8zM466 1262h8v8h-8zM618 1334h8v8h-8zM610 1350h8v8h-8zM402 1358h8v8h-8zM602 1366h8v8h-8zM594 1382h8v8h-8zM586 1398h8v8h-8zM354 1446h8v8h-8zM554 1454h8v8h-8zM546 1470h8v8h-8zM538 1486h8v8h-8zM522 1510h8v8h-8z"/><path fill="#7c7c7c" d="M538 1174h24v8h-24zM618 1174h16v8h-16zM530 1182h8v8h-8zM634 1182h8v8h-8zM634 1190h8v8h-8zM498 1214h8v8h-8zM482 1238h8v8h-8zM458 1278h8v8h-8zM634 1286h8v8h-8zM450 1294h8v8h-8zM634 1294h8v8h-8zM626 1310h8v8h-8zM426 1326h8v8h-8zM386 1382h8v8h-8zM562 1438h8v8h-8zM530 1494h8v8h-8zM354 1510h8v8h-8zM338 1518h8v8h-8zM218 1550h8v8h-8z"/><path fill="#7e7e7e" d="M562 1174h56v8h-56zM538 1182h8v8h-8zM618 1182h16v8h-16zM522 1190h8v8h-8zM514 1198h8v8h-8zM634 1198h8v8h-8zM506 1206h8v8h-8zM634 1206h8v8h-8zM634 1214h8v8h-8zM474 1254h8v8h-8zM634 1262h8v8h-8zM634 1270h8v8h-8zM634 1278h8v8h-8zM618 1326h8v8h-8zM610 1342h8v8h-8zM410 1350h8v8h-8zM602 1358h8v8h-8zM578 1406h8v8h-8zM570 1422h8v8h-8zM362 1430h8v8h-8zM546 1462h8v8h-8zM538 1478h8v8h-8zM354 1502h8v8h-8zM522 1502h8v8h-8zM514 1510h8v8h-8zM346 1518h8v8h-8zM202 1542h8v8h-8zM482 1550h8v8h-8zM274 1558h8v8h-8zM410 1558h8v8h-8z"/><path fill="#818181" d="M546 1182h72v8h-72zM530 1190h8v8h-8zM618 1190h16v8h-16zM626 1198h8v8h-8zM498 1222h8v8h-8zM634 1222h8v8h-8zM490 1230h8v8h-8zM634 1230h8v8h-8zM634 1238h8v8h-8zM634 1246h8v8h-8zM634 1254h8v8h-8zM466 1270h8v8h-8zM626 1302h8v8h-8zM434 1318h8v8h-8zM394 1374h8v8h-8zM594 1374h8v8h-8zM586 1390h8v8h-8zM370 1414h8v8h-8zM554 1446h8v8h-8zM354 1486h8v8h-8zM530 1486h8v8h-8zM354 1494h8v8h-8z"/><path fill="#838383" d="M538 1190h80v8h-80zM522 1198h16v8h-16zM618 1198h8v8h-8zM514 1206h8v8h-8zM626 1206h8v8h-8zM506 1214h8v8h-8zM626 1214h8v8h-8zM482 1246h8v8h-8zM458 1286h8v8h-8zM626 1294h8v8h-8zM442 1310h8v8h-8zM618 1318h8v8h-8zM610 1334h8v8h-8zM418 1342h8v8h-8zM602 1350h8v8h-8zM378 1398h8v8h-8zM570 1414h8v8h-8zM562 1430h8v8h-8zM354 1454h8v8h-8zM354 1462h8v8h-8zM354 1470h8v8h-8zM538 1470h8v8h-8zM354 1478h8v8h-8zM522 1494h8v8h-8zM354 1518h8v8h-8zM242 1526h8v8h-8zM506 1542h8v8h-8z"/><path fill="#858585" d="M538 1198h80v8h-80zM522 1206h8v8h-8zM618 1206h8v8h-8zM514 1214h8v8h-8zM506 1222h8v8h-8zM626 1222h8v8h-8zM498 1230h8v8h-8zM626 1230h8v8h-8zM490 1238h8v8h-8zM626 1238h8v8h-8zM626 1246h8v8h-8zM626 1254h8v8h-8zM474 1262h8v8h-8zM626 1262h8v8h-8zM626 1270h8v8h-8zM626 1278h8v8h-8zM626 1286h8v8h-8zM450 1302h8v8h-8zM618 1310h8v8h-8zM426 1334h8v8h-8zM402 1366h8v8h-8zM594 1366h8v8h-8zM586 1382h8v8h-8zM578 1398h8v8h-8zM362 1438h8v8h-8zM546 1454h8v8h-8zM530 1478h8v8h-8zM514 1502h8v8h-8zM362 1510h8v8h-8zM402 1558h8v8h-8z"/><path fill="#878787" d="M530 1206h88v8h-88zM522 1214h8v8h-8zM610 1214h16v8h-16zM618 1222h8v8h-8zM482 1254h8v8h-8zM466 1278h8v8h-8zM610 1326h8v8h-8zM602 1342h8v8h-8zM386 1390h8v8h-8zM370 1422h8v8h-8zM562 1422h8v8h-8zM554 1438h8v8h-8zM538 1462h8v8h-8zM522 1486h8v8h-8zM362 1502h8v8h-8zM282 1558h8v8h-8z"/><path fill="#898989" d="M530 1214h80v8h-80zM514 1222h8v8h-8zM610 1222h8v8h-8zM506 1230h8v8h-8zM618 1230h8v8h-8zM498 1238h8v8h-8zM618 1238h8v8h-8zM490 1246h8v8h-8zM618 1246h8v8h-8zM474 1270h8v8h-8zM458 1294h8v8h-8zM618 1302h8v8h-8zM610 1318h8v8h-8zM434 1326h8v8h-8zM410 1358h8v8h-8zM594 1358h8v8h-8zM586 1374h8v8h-8zM378 1406h8v8h-8zM570 1406h8v8h-8zM362 1446h8v8h-8zM546 1446h8v8h-8zM362 1494h8v8h-8zM514 1494h8v8h-8zM506 1502h8v8h-8zM370 1510h8v8h-8zM362 1518h8v8h-8zM210 1534h8v8h-8zM514 1534h8v8h-8zM474 1550h8v8h-8z"/><path fill="#8b8b8b" d="M522 1222h88v8h-88zM514 1230h8v8h-8zM610 1230h8v8h-8zM506 1238h8v8h-8zM610 1238h8v8h-8zM490 1254h8v8h-8zM618 1254h8v8h-8zM482 1262h8v8h-8zM618 1262h8v8h-8zM618 1270h8v8h-8zM618 1278h8v8h-8zM466 1286h8v8h-8zM618 1286h8v8h-8zM618 1294h8v8h-8zM442 1318h8v8h-8zM602 1334h8v8h-8zM418 1350h8v8h-8zM394 1382h8v8h-8zM578 1390h8v8h-8zM554 1430h8v8h-8zM530 1470h8v8h-8zM522 1478h8v8h-8zM362 1486h8v8h-8zM370 1502h8v8h-8zM498 1502h8v8h-8zM506 1510h8v8h-8zM394 1558h8v8h-8z"/><path fill="#8d8d8d" d="M522 1230h88v8h-88zM514 1238h8v8h-8zM602 1238h8v8h-8zM498 1246h8v8h-8zM610 1246h8v8h-8zM610 1254h8v8h-8zM474 1278h8v8h-8zM450 1310h8v8h-8zM610 1310h8v8h-8zM594 1350h8v8h-8zM586 1366h8v8h-8zM562 1414h8v8h-8zM370 1430h8v8h-8zM538 1454h8v8h-8zM362 1470h8v8h-8zM362 1478h8v8h-8zM514 1486h8v8h-8zM506 1494h8v8h-8zM378 1510h16v8h-16z"/><path fill="#8f8f8f" d="M522 1238h80v8h-80zM506 1246h8v8h-8zM602 1246h8v8h-8zM498 1254h8v8h-8zM490 1262h8v8h-8zM610 1262h8v8h-8zM482 1270h8v8h-8zM610 1270h8v8h-8zM610 1278h8v8h-8zM610 1286h8v8h-8zM458 1302h8v8h-8zM610 1302h8v8h-8zM602 1326h8v8h-8zM426 1342h8v8h-8zM594 1342h8v8h-8zM402 1374h8v8h-8zM578 1382h8v8h-8zM570 1398h8v8h-8zM378 1414h8v8h-8zM546 1438h8v8h-8zM362 1454h8v8h-8zM362 1462h8v8h-8zM530 1462h8v8h-8zM370 1494h8v8h-8zM498 1494h8v8h-8zM378 1502h8v8h-8zM490 1502h8v8h-8zM394 1510h48v8h-48zM514 1518h8v8h-8zM250 1526h8v8h-8zM226 1550h8v8h-8zM290 1558h8v8h-8z"/><path fill="#919191" d="M514 1246h88v8h-88zM506 1254h8v8h-8zM602 1254h8v8h-8zM602 1262h8v8h-8zM474 1286h8v8h-8zM466 1294h8v8h-8zM610 1294h8v8h-8zM602 1318h8v8h-8zM434 1334h8v8h-8zM586 1358h8v8h-8zM410 1366h8v8h-8zM386 1398h8v8h-8zM554 1422h8v8h-8zM370 1438h8v8h-8zM538 1446h8v8h-8zM522 1470h8v8h-8zM514 1478h8v8h-8zM370 1486h8v8h-8zM506 1486h8v8h-8zM386 1502h8v8h-8zM474 1502h16v8h-16zM370 1518h8v8h-8zM514 1526h8v8h-8zM386 1558h8v8h-8z"/><path fill="#939393" d="M514 1254h88v8h-88zM498 1262h8v8h-8zM594 1262h8v8h-8zM490 1270h8v8h-8zM602 1270h8v8h-8zM482 1278h8v8h-8zM602 1278h8v8h-8zM602 1302h8v8h-8zM602 1310h8v8h-8zM450 1318h8v8h-8zM442 1326h8v8h-8zM594 1334h8v8h-8zM586 1350h8v8h-8zM418 1358h8v8h-8zM578 1374h8v8h-8zM570 1390h8v8h-8zM562 1406h8v8h-8zM378 1422h8v8h-8zM546 1430h8v8h-8zM530 1454h8v8h-8zM370 1478h8v8h-8zM378 1494h8v8h-8zM490 1494h8v8h-8zM394 1502h80v8h-80zM442 1510h8v8h-8zM466 1550h8v8h-8zM298 1558h8v8h-8z"/><path fill="#959595" d="M506 1262h88v8h-88zM498 1270h8v8h-8zM594 1270h8v8h-8zM490 1278h8v8h-8zM482 1286h8v8h-8zM602 1286h8v8h-8zM474 1294h8v8h-8zM602 1294h8v8h-8zM466 1302h8v8h-8zM458 1310h8v8h-8zM594 1318h8v8h-8zM594 1326h8v8h-8zM426 1350h8v8h-8zM578 1366h8v8h-8zM394 1390h8v8h-8zM386 1406h8v8h-8zM554 1414h8v8h-8zM538 1438h8v8h-8zM370 1446h8v8h-8zM522 1462h8v8h-8zM370 1470h8v8h-8zM514 1470h8v8h-8zM506 1478h8v8h-8zM378 1486h8v8h-8zM498 1486h8v8h-8zM386 1494h16v8h-16zM474 1494h16v8h-16zM498 1542h8v8h-8z"/><path fill="#979797" d="M506 1270h88v8h-88zM498 1278h8v8h-8zM586 1278h16v8h-16zM594 1286h8v8h-8zM594 1302h8v8h-8zM594 1310h8v8h-8zM586 1334h8v8h-8zM434 1342h8v8h-8zM586 1342h8v8h-8zM578 1358h8v8h-8zM402 1382h8v8h-8zM570 1382h8v8h-8zM562 1398h8v8h-8zM546 1422h8v8h-8zM378 1430h8v8h-8zM530 1446h8v8h-8zM370 1454h8v8h-8zM370 1462h8v8h-8zM378 1478h8v8h-8zM386 1486h8v8h-8zM490 1486h8v8h-8zM402 1494h72v8h-72zM498 1510h8v8h-8zM210 1542h8v8h-8zM306 1558h8v8h-8zM378 1558h8v8h-8z"/><path fill="#999999" d="M506 1278h80v8h-80zM490 1286h8v8h-8zM586 1286h8v8h-8zM482 1294h8v8h-8zM594 1294h8v8h-8zM474 1302h8v8h-8zM466 1310h8v8h-8zM458 1318h8v8h-8zM450 1326h8v8h-8zM586 1326h8v8h-8zM442 1334h8v8h-8zM578 1350h8v8h-8zM410 1374h8v8h-8zM570 1374h8v8h-8zM554 1406h8v8h-8zM386 1414h8v8h-8zM538 1430h8v8h-8zM522 1454h8v8h-8zM514 1462h8v8h-8zM506 1470h8v8h-8zM498 1478h8v8h-8zM394 1486h8v8h-8zM474 1486h16v8h-16zM450 1510h8v8h-8zM378 1518h8v8h-8zM258 1526h8v8h-8zM314 1558h8v8h-8z"/><path fill="#9b9b9b" d="M498 1286h88v8h-88zM490 1294h8v8h-8zM586 1294h8v8h-8zM586 1302h8v8h-8zM586 1310h8v8h-8zM586 1318h8v8h-8zM578 1342h8v8h-8zM426 1358h8v8h-8zM418 1366h8v8h-8zM570 1366h8v8h-8zM562 1390h8v8h-8zM394 1398h8v8h-8zM378 1438h8v8h-8zM530 1438h8v8h-8zM378 1470h8v8h-8zM386 1478h8v8h-8zM490 1478h8v8h-8zM402 1486h72v8h-72zM458 1550h8v8h-8z"/><path fill="#9d9d9d" d="M498 1294h88v8h-88zM482 1302h8v8h-8zM578 1302h8v8h-8zM474 1310h8v8h-8zM578 1310h8v8h-8zM466 1318h8v8h-8zM578 1318h8v8h-8zM458 1326h8v8h-8zM578 1326h8v8h-8zM450 1334h8v8h-8zM578 1334h8v8h-8zM442 1342h8v8h-8zM434 1350h8v8h-8zM570 1358h8v8h-8zM562 1382h8v8h-8zM546 1414h8v8h-8zM386 1422h8v8h-8zM538 1422h8v8h-8zM378 1446h8v8h-8zM522 1446h8v8h-8zM514 1454h8v8h-8zM378 1462h8v8h-8zM506 1462h8v8h-8zM386 1470h8v8h-8zM498 1470h8v8h-8zM394 1478h16v8h-16zM474 1478h16v8h-16zM458 1510h8v8h-8zM218 1534h8v8h-8zM322 1558h8v8h-8zM370 1558h8v8h-8z"/><path fill="#9f9f9f" d="M490 1302h88v8h-88zM482 1310h8v8h-8zM570 1310h8v8h-8zM570 1318h8v8h-8zM570 1342h8v8h-8zM570 1350h8v8h-8zM562 1374h8v8h-8zM410 1382h8v8h-8zM402 1390h8v8h-8zM554 1398h8v8h-8zM394 1406h8v8h-8zM386 1430h8v8h-8zM530 1430h8v8h-8zM378 1454h8v8h-8zM490 1470h8v8h-8zM410 1478h64v8h-64zM490 1510h8v8h-8zM506 1534h8v8h-8zM234 1550h8v8h-8zM330 1558h8v8h-8z"/><path fill="#a1a1a1" d="M490 1310h80v8h-80zM474 1318h16v8h-16zM562 1318h8v8h-8zM466 1326h8v8h-8zM570 1326h8v8h-8zM458 1334h8v8h-8zM570 1334h8v8h-8zM450 1342h8v8h-8zM442 1350h8v8h-8zM434 1358h8v8h-8zM562 1358h8v8h-8zM426 1366h8v8h-8zM562 1366h8v8h-8zM418 1374h8v8h-8zM554 1390h8v8h-8zM546 1406h8v8h-8zM394 1414h8v8h-8zM538 1414h8v8h-8zM386 1438h8v8h-8zM522 1438h8v8h-8zM514 1446h8v8h-8zM506 1454h8v8h-8zM386 1462h8v8h-8zM498 1462h8v8h-8zM394 1470h24v8h-24zM466 1470h24v8h-24zM466 1510h8v8h-8zM482 1510h8v8h-8zM386 1518h8v8h-8zM506 1518h8v8h-8zM450 1550h8v8h-8zM338 1558h8v8h-8z"/><path fill="#a3a3a3" d="M490 1318h72v8h-72zM474 1326h16v8h-16zM554 1326h16v8h-16zM466 1334h8v8h-8zM562 1334h8v8h-8zM562 1342h8v8h-8zM562 1350h8v8h-8zM554 1382h8v8h-8zM402 1398h8v8h-8zM394 1422h8v8h-8zM530 1422h8v8h-8zM522 1430h8v8h-8zM386 1446h8v8h-8zM386 1454h8v8h-8zM394 1462h8v8h-8zM490 1462h8v8h-8zM418 1470h48v8h-48zM474 1510h8v8h-8zM266 1526h8v8h-8zM362 1558h8v8h-8z"/><path fill="#a5a5a5" d="M490 1326h64v8h-64zM474 1334h16v8h-16zM546 1334h16v8h-16zM458 1342h8v8h-8zM554 1342h8v8h-8zM450 1350h8v8h-8zM554 1350h8v8h-8zM442 1358h8v8h-8zM554 1358h8v8h-8zM554 1366h8v8h-8zM554 1374h8v8h-8zM418 1382h8v8h-8zM410 1390h8v8h-8zM546 1398h8v8h-8zM402 1406h8v8h-8zM538 1406h8v8h-8zM394 1430h8v8h-8zM394 1438h8v8h-8zM514 1438h8v8h-8zM394 1446h8v8h-8zM506 1446h8v8h-8zM394 1454h8v8h-8zM498 1454h8v8h-8zM402 1462h88v8h-88zM506 1526h8v8h-8zM490 1542h8v8h-8zM346 1558h8v8h-8z"/><path fill="#a7a7a7" d="M490 1334h56v8h-56zM466 1342h88v8h-88zM458 1350h8v8h-8zM546 1350h8v8h-8zM546 1358h8v8h-8zM434 1366h8v8h-8zM426 1374h8v8h-8zM546 1374h8v8h-8zM546 1382h8v8h-8zM546 1390h8v8h-8zM402 1414h8v8h-8zM530 1414h8v8h-8zM402 1422h8v8h-8zM522 1422h8v8h-8zM514 1430h8v8h-8zM506 1438h8v8h-8zM498 1446h8v8h-8zM402 1454h8v8h-8zM482 1454h16v8h-16zM354 1558h8v8h-8z"/><path fill="#a9a9a9" d="M466 1350h80v8h-80zM450 1358h16v8h-16zM538 1358h8v8h-8zM442 1366h8v8h-8zM546 1366h8v8h-8zM434 1374h8v8h-8zM410 1398h8v8h-8zM538 1398h8v8h-8zM530 1406h8v8h-8zM522 1414h8v8h-8zM514 1422h8v8h-8zM402 1430h8v8h-8zM506 1430h8v8h-8zM402 1438h8v8h-8zM498 1438h8v8h-8zM402 1446h24v8h-24zM482 1446h16v8h-16zM410 1454h72v8h-72zM394 1518h8v8h-8zM274 1526h8v8h-8zM442 1550h8v8h-8z"/><path fill="#ababab" d="M466 1358h72v8h-72zM450 1366h16v8h-16zM530 1366h16v8h-16zM442 1374h8v8h-8zM538 1374h8v8h-8zM426 1382h8v8h-8zM538 1382h8v8h-8zM418 1390h8v8h-8zM538 1390h8v8h-8zM410 1406h8v8h-8zM410 1414h8v8h-8zM410 1422h8v8h-8zM506 1422h8v8h-8zM410 1430h16v8h-16zM498 1430h8v8h-8zM410 1438h88v8h-88zM426 1446h56v8h-56zM218 1542h8v8h-8z"/><path fill="#adadad" d="M466 1366h64v8h-64zM450 1374h16v8h-16zM522 1374h16v8h-16zM434 1382h8v8h-8zM530 1382h8v8h-8zM426 1390h8v8h-8zM530 1390h8v8h-8zM418 1398h8v8h-8zM530 1398h8v8h-8zM418 1406h8v8h-8zM522 1406h8v8h-8zM418 1414h8v8h-8zM514 1414h8v8h-8zM418 1422h16v8h-16zM490 1422h16v8h-16zM426 1430h72v8h-72zM242 1550h8v8h-8z"/><path fill="#afafaf" d="M466 1374h56v8h-56zM442 1382h88v8h-88zM434 1390h8v8h-8zM522 1390h8v8h-8zM426 1398h8v8h-8zM522 1398h8v8h-8zM426 1406h8v8h-8zM514 1406h8v8h-8zM426 1414h88v8h-88zM434 1422h56v8h-56zM402 1518h8v8h-8zM226 1534h8v8h-8zM434 1550h8v8h-8z"/><path fill="#b1b1b1" d="M442 1390h80v8h-80zM434 1398h16v8h-16zM506 1398h16v8h-16zM434 1406h80v8h-80zM498 1518h8v8h-8zM282 1526h8v8h-8zM498 1534h8v8h-8zM482 1542h8v8h-8z"/><path fill="#b3b3b3" d="M450 1398h56v8h-56z"/><path fill="#b5b5b5" d="M290 1526h8v8h-8zM426 1550h8v8h-8z"/><path fill="#b7b7b7" d="M410 1518h8v8h-8z"/><path fill="#b9b9b9" d="M498 1526h8v8h-8zM250 1550h8v8h-8zM418 1550h8v8h-8z"/><path fill="#bbbbbb" d="M298 1526h8v8h-8z"/><path fill="#bdbdbd" d="M418 1518h8v8h-8zM306 1526h8v8h-8zM226 1542h8v8h-8zM474 1542h8v8h-8z"/><path fill="#bfbfbf" d="M490 1518h8v8h-8zM314 1526h8v8h-8zM234 1534h8v8h-8zM410 1550h8v8h-8z"/><path fill="#c1c1c1" d="M322 1526h8v8h-8zM490 1534h8v8h-8zM258 1550h8v8h-8z"/><path fill="#c3c3c3" d="M426 1518h8v8h-8zM330 1526h8v8h-8z"/><path fill="#c5c5c5" d="M338 1526h16v8h-16zM466 1542h8v8h-8zM402 1550h8v8h-8z"/><path fill="#c7c7c7" d="M434 1518h8v8h-8zM482 1518h8v8h-8zM354 1526h8v8h-8zM490 1526h8v8h-8z"/><path fill="#c9c9c9" d="M266 1550h8v8h-8zM394 1550h8v8h-8z"/><path fill="#cbcbcb" d="M442 1518h8v8h-8zM362 1526h8v8h-8zM242 1534h8v8h-8zM234 1542h8v8h-8z"/><path fill="#cdcdcd" d="M450 1518h8v8h-8zM474 1518h8v8h-8zM482 1534h8v8h-8zM458 1542h8v8h-8z"/><path fill="#cfcfcf" d="M458 1518h16v8h-16zM274 1550h8v8h-8zM386 1550h8v8h-8z"/><path fill="#d1d1d1" d="M370 1526h8v8h-8z"/><path fill="#d3d3d3" d="M482 1526h8v8h-8zM450 1542h8v8h-8zM282 1550h8v8h-8zM378 1550h8v8h-8z"/><path fill="#d5d5d5" d="M250 1534h8v8h-8z"/><path fill="#d7d7d7" d="M378 1526h8v8h-8zM474 1534h8v8h-8zM242 1542h8v8h-8zM290 1550h8v8h-8z"/><path fill="#d9d9d9" d="M442 1542h8v8h-8zM370 1550h8v8h-8z"/><path fill="#dbdbdb" d="M386 1526h8v8h-8zM474 1526h8v8h-8zM258 1534h8v8h-8zM298 1550h16v8h-16z"/><path fill="#dddddd" d="M434 1542h8v8h-8zM314 1550h8v8h-8zM362 1550h8v8h-8z"/><path fill="#dfdfdf" d="M394 1526h8v8h-8zM466 1534h8v8h-8zM250 1542h8v8h-8zM322 1550h16v8h-16z"/><path fill="#e1e1e1" d="M402 1526h8v8h-8zM466 1526h8v8h-8zM266 1534h8v8h-8zM426 1542h8v8h-8zM338 1550h24v8h-24z"/><path fill="#e3e3e3" d="M410 1526h8v8h-8z"/><path fill="#e5e5e5" d="M418 1526h8v8h-8zM458 1526h8v8h-8zM458 1534h8v8h-8zM418 1542h8v8h-8z"/><path fill="#e7e7e7" d="M426 1526h8v8h-8zM450 1526h8v8h-8zM274 1534h8v8h-8zM258 1542h8v8h-8zM410 1542h8v8h-8z"/><path fill="#e9e9e9" d="M434 1526h16v8h-16zM282 1534h8v8h-8zM450 1534h8v8h-8z"/><path fill="#ebebeb" d="M442 1534h8v8h-8zM402 1542h8v8h-8z"/><path fill="#ededed" d="M290 1534h8v8h-8zM434 1534h8v8h-8zM266 1542h8v8h-8zM394 1542h8v8h-8z"/><path fill="#efefef" d="M298 1534h8v8h-8zM426 1534h8v8h-8z"/><path fill="#f1f1f1" d="M306 1534h16v8h-16zM410 1534h16v8h-16zM274 1542h8v8h-8zM386 1542h8v8h-8z"/><path fill="#f3f3f3" d="M322 1534h48v8h-48zM394 1534h16v8h-16zM282 1542h8v8h-8zM378 1542h8v8h-8z"/><path fill="#f5f5f5" d="M370 1534h24v8h-24z"/><path fill="#f7f7f7" d="M290 1542h8v8h-8zM370 1542h8v8h-8z"/><path fill="#f9f9f9" d="M298 1542h16v8h-16zM362 1542h8v8h-8z"/><path fill="#fbfbfb" d="M314 1542h48v8h-48z"/></g></g>
<defs><filter id="fl" color-interpolation-filters="sRGB"><feGaussianBlur stdDeviation="1.1"/></filter></defs>
<g clip-path="url(#cb)" filter="url(#fl)">
<path d="M675.0 975.0C676.2 982.5 678.6 1000.6 682.0 1019.7C685.4 1038.8 691.3 1066.3 695.3 1089.6C699.3 1112.9 701.7 1136.2 705.8 1159.5C709.9 1182.8 715.7 1209.5 719.7 1229.3C723.7 1249.0 728.3 1269.9 730.0 1278.0" stroke="#101040" stroke-width="2.2" fill="none" opacity="0.8"/>
<path d="M341.0 1535.3C343.8 1535.0 352.0 1534.3 357.5 1533.7C363.0 1533.0 368.5 1532.2 374.0 1531.3C379.5 1530.3 385.0 1529.3 390.5 1528.0C396.0 1526.8 401.5 1525.5 407.1 1524.0C412.6 1522.6 418.1 1520.9 423.6 1519.2C429.1 1517.5 434.6 1515.6 440.1 1513.6C445.6 1511.6 451.1 1509.4 456.6 1507.1C462.1 1504.9 467.6 1502.5 473.1 1499.9C478.6 1497.4 484.1 1494.7 489.6 1491.9C495.1 1489.0 500.6 1486.1 506.1 1483.0C511.6 1479.9 517.1 1476.7 522.6 1473.4C528.1 1470.0 533.6 1466.5 539.2 1462.9C544.7 1459.3 550.2 1455.5 555.7 1451.6C561.2 1447.8 566.7 1443.7 572.2 1439.6C577.7 1435.4 583.2 1431.1 588.7 1426.7C594.2 1422.3 599.7 1417.7 605.2 1413.0C610.7 1408.4 616.2 1403.5 621.7 1398.6C627.2 1393.6 632.7 1388.5 638.2 1383.3C643.7 1378.1 649.2 1372.7 654.7 1367.2C660.2 1361.7 665.8 1356.1 671.3 1350.3C676.8 1344.5 682.3 1338.6 687.8 1332.6C693.3 1326.6 698.8 1320.4 704.3 1314.1C709.8 1307.8 715.3 1301.4 720.8 1294.8C726.3 1288.2 731.8 1281.5 737.3 1274.7C742.8 1267.9 748.3 1260.9 753.8 1253.8C759.3 1246.7 764.8 1239.4 770.3 1232.1C775.8 1224.7 781.3 1217.2 786.8 1209.5C792.4 1201.9 797.9 1194.1 803.4 1186.2C808.9 1178.3 814.4 1170.3 819.9 1162.1C825.4 1153.9 830.9 1145.6 836.4 1137.1C841.9 1128.7 847.4 1120.1 852.9 1111.4C858.4 1102.7 863.9 1093.8 869.4 1084.9C874.9 1075.9 880.4 1066.8 885.9 1057.5C891.4 1048.3 896.9 1038.9 902.4 1029.4C907.9 1019.8 913.4 1010.2 918.9 1000.4C924.5 990.6 930.0 980.7 935.5 970.6C941.0 960.6 946.5 950.4 952.0 940.1C957.5 929.7 963.0 919.3 968.5 908.7C974.0 898.1 982.2 881.9 985.0 876.5" stroke="#cc2024" stroke-width="10" fill="none" stroke-linecap="round"/>
<path d="M341.0 1533.1C342.5 1532.8 347.1 1531.8 350.2 1531.0C353.3 1530.2 356.3 1529.2 359.4 1528.1C362.5 1527.0 365.5 1525.8 368.6 1524.4C371.7 1523.0 374.8 1521.5 377.8 1519.9C380.9 1518.2 384.0 1516.5 387.0 1514.6C390.1 1512.7 393.2 1510.6 396.2 1508.4C399.3 1506.3 402.4 1504.0 405.4 1501.5C408.5 1499.1 411.6 1496.5 414.6 1493.8C417.7 1491.1 420.8 1488.2 423.8 1485.3C426.9 1482.3 430.0 1479.2 433.1 1475.9C436.1 1472.7 439.2 1469.3 442.3 1465.8C445.3 1462.3 448.4 1458.7 451.5 1454.9C454.5 1451.1 457.6 1447.2 460.7 1443.2C463.7 1439.1 466.8 1434.9 469.9 1430.6C472.9 1426.3 476.0 1421.9 479.1 1417.3C482.1 1412.7 485.2 1408.0 488.3 1403.1C491.4 1398.3 494.4 1393.3 497.5 1388.2C500.6 1383.1 503.6 1377.8 506.7 1372.4C509.8 1367.1 512.8 1361.5 515.9 1355.9C519.0 1350.3 522.0 1344.5 525.1 1338.5C528.2 1332.6 531.2 1326.6 534.3 1320.4C537.4 1314.2 540.4 1307.9 543.5 1301.4C546.6 1295.0 549.6 1288.4 552.7 1281.7C555.8 1275.0 558.9 1268.1 561.9 1261.1C565.0 1254.1 568.1 1247.0 571.1 1239.8C574.2 1232.5 577.3 1225.1 580.3 1217.6C583.4 1210.1 586.5 1202.4 589.5 1194.6C592.6 1186.8 595.7 1178.9 598.7 1170.9C601.8 1162.8 604.9 1154.6 607.9 1146.3C611.0 1138.0 614.1 1129.5 617.2 1120.9C620.2 1112.3 623.3 1103.6 626.4 1094.7C629.4 1085.9 632.5 1076.9 635.6 1067.8C638.6 1058.6 641.7 1049.4 644.8 1040.0C647.8 1030.6 650.9 1021.1 654.0 1011.4C657.0 1001.7 660.1 991.9 663.2 982.0C666.2 972.1 669.3 962.0 672.4 951.8C675.5 941.6 678.5 931.3 681.6 920.8C684.7 910.4 687.7 899.8 690.8 889.0C693.9 878.3 698.5 861.9 700.0 856.4" stroke="#3a7616" stroke-width="10" fill="none" stroke-linecap="round"/>
</g>
<g font-family='"Liberation Sans", sans-serif' filter="url(#fl)"><text x="349.3" y="967.9" font-size="50" fill="#84ae64" transform="translate(0 967.9) scale(1 1.285) translate(0 -967.9)">M=0.64 amu</text><text x="756.3" y="1335.5" font-size="48.9" fill="#c42040" transform="translate(0 1335.5) scale(1 1.285) translate(0 -1335.5)">M=2 amu</text><text x="168.5" y="1616" font-size="50" fill="#c4c4fa" stroke="#c4c4fa" stroke-width="1.4" transform="translate(0 1616.0) scale(1 1.28) translate(0 -1616.0)">1.</text><text x="272.3" y="1411.5" font-size="50" fill="#c4c4fa" stroke="#c4c4fa" stroke-width="1.4" transform="translate(0 1411.5) scale(1 1.28) translate(0 -1411.5)">2.</text><text x="644.8" y="1498.7" font-size="50" fill="#c4c4fa" stroke="#c4c4fa" stroke-width="1.4" transform="translate(0 1498.7) scale(1 1.28) translate(0 -1498.7)">3.</text><text x="744" y="1213" font-size="50" fill="#c4c4fa" stroke="#c4c4fa" stroke-width="1.4" transform="translate(0 1213.0) scale(1 1.28) translate(0 -1213.0)">3.</text></g>
<g filter="url(#fl)"><rect x="161" y="1640.5" width="806.5" height="8.5" fill="#6a62a2"/><rect x="160" y="886" width="2.5" height="755" fill="#8070c8"/><rect x="963" y="886" width="4.5" height="755" fill="#1a1650"/></g>
<g fill="#9a9af0" filter="url(#fl)"><circle cx="743.6" cy="1383.8" r="2.2"/><circle cx="747" cy="1405.8" r="1.8"/><circle cx="751" cy="1425" r="1.8"/><circle cx="763" cy="1459.6" r="1.8"/><circle cx="736" cy="1469" r="1.6"/><circle cx="763" cy="1484" r="2"/><circle cx="771.7" cy="1525.6" r="1.8"/><circle cx="775" cy="1542.7" r="2"/><circle cx="782.7" cy="1584" r="2"/><circle cx="796" cy="1601.4" r="1.8"/><circle cx="795" cy="1623" r="1.6"/><circle cx="792.5" cy="1629.5" r="2"/><circle cx="878" cy="1572" r="2"/><circle cx="900" cy="1582" r="1.4"/><circle cx="760" cy="1410" r="1.4"/><circle cx="720" cy="1340" r="1.6"/><circle cx="705" cy="1365" r="1.4"/><circle cx="930" cy="1500" r="1.2"/><circle cx="850" cy="1450" r="1.2"/></g>
<path d="M657 871.3H912.5" stroke="#c8c8d0" stroke-width="1.4" fill="none"/>
<rect x="158" y="39" width="943" height="776" fill="none" stroke="#000" stroke-width="5"/>
<path d="M203.8 39v11 M203.8 815v-11 M245.4 39v11 M245.4 815v-11 M287.0 39v22 M287.0 815v-22 M328.6 39v11 M328.6 815v-11 M370.2 39v11 M370.2 815v-11 M411.9 39v11 M411.9 815v-11 M453.5 39v22 M453.5 815v-22 M495.1 39v11 M495.1 815v-11 M536.8 39v11 M536.8 815v-11 M578.4 39v11 M578.4 815v-11 M620.0 39v22 M620.0 815v-22 M661.6 39v11 M661.6 815v-11 M703.2 39v11 M703.2 815v-11 M744.9 39v11 M744.9 815v-11 M786.5 39v22 M786.5 815v-22 M828.1 39v11 M828.1 815v-11 M869.8 39v11 M869.8 815v-11 M911.4 39v11 M911.4 815v-11 M953.0 39v22 M953.0 815v-22 M994.6 39v11 M994.6 815v-11 M1036.2 39v11 M1036.2 815v-11 M1077.9 39v11 M1077.9 815v-11 M158 768.2h9 M1101 768.2h-9 M158 719.5h9 M1101 719.5h-9 M158 670.8h9 M1101 670.8h-9 M158 622.0h18 M1101 622.0h-18 M158 573.2h9 M1101 573.2h-9 M158 524.5h9 M1101 524.5h-9 M158 475.8h9 M1101 475.8h-9 M158 427.0h18 M1101 427.0h-18 M158 378.2h9 M1101 378.2h-9 M158 329.5h9 M1101 329.5h-9 M158 280.8h9 M1101 280.8h-9 M158 232.0h18 M1101 232.0h-18 M158 183.2h9 M1101 183.2h-9 M158 134.5h9 M1101 134.5h-9 M158 85.8h9 M1101 85.8h-9" stroke="#000" stroke-width="4" fill="none"/>
<g font-family='"Liberation Sans", sans-serif' font-size="42" fill="#111"><text x="287.0" y="855" text-anchor="middle">2</text><text x="453.5" y="855" text-anchor="middle">4</text><text x="620.0" y="855" text-anchor="middle">6</text><text x="786.5" y="855" text-anchor="middle">8</text><text x="953.0" y="855" text-anchor="middle">10</text><text x="138" y="637.0" text-anchor="end">20</text><text x="138" y="442.0" text-anchor="end">40</text><text x="138" y="247.0" text-anchor="end">60</text></g>
<text transform="translate(60,431) rotate(-90)" text-anchor="middle" font-family='"Liberation Sans", sans-serif' font-weight="bold" font-size="40" fill="#111">Energy Transfer/meV</text>
<text x="191.5" y="130.5" font-family='"Liberation Sans", sans-serif' font-weight="bold" font-size="68" fill="#111">(a)</text>
<g font-family='"Liberation Sans", sans-serif' font-size="46" fill="#1a1a1a"><text x="147.5" y="1610.6" text-anchor="end" transform="translate(0 1610.6) scale(1 1.15) translate(0 -1610.6)">10</text><text x="147.5" y="1510.3" text-anchor="end" transform="translate(0 1510.3) scale(1 1.15) translate(0 -1510.3)">20</text><text x="147.5" y="1410.0" text-anchor="end" transform="translate(0 1410.0) scale(1 1.15) translate(0 -1410.0)">30</text><text x="147.5" y="1309.7" text-anchor="end" transform="translate(0 1309.7) scale(1 1.15) translate(0 -1309.7)">40</text><text x="147.5" y="1209.4" text-anchor="end" transform="translate(0 1209.4) scale(1 1.15) translate(0 -1209.4)">50</text><text x="147.5" y="1109.1" text-anchor="end" transform="translate(0 1109.1) scale(1 1.15) translate(0 -1109.1)">60</text><text x="147.5" y="1008.8" text-anchor="end" transform="translate(0 1008.8) scale(1 1.15) translate(0 -1008.8)">70</text><text x="147.5" y="908.5" text-anchor="end" transform="translate(0 908.5) scale(1 1.15) translate(0 -908.5)">80</text><text x="287.0" y="1708" text-anchor="middle" font-size="50" stroke="#1a1a1a" stroke-width="1.3" transform="translate(0 1708.0) scale(1 1.05) translate(0 -1708.0)">2</text><text x="456.0" y="1708" text-anchor="middle" font-size="50" stroke="#1a1a1a" stroke-width="1.3" transform="translate(0 1708.0) scale(1 1.05) translate(0 -1708.0)">4</text><text x="625.0" y="1708" text-anchor="middle" font-size="50" stroke="#1a1a1a" stroke-width="1.3" transform="translate(0 1708.0) scale(1 1.05) translate(0 -1708.0)">6</text><text x="794.0" y="1708" text-anchor="middle" font-size="50" stroke="#1a1a1a" stroke-width="1.3" transform="translate(0 1708.0) scale(1 1.05) translate(0 -1708.0)">8</text><text x="963.0" y="1708" text-anchor="middle" font-size="50" stroke="#1a1a1a" stroke-width="1.3" transform="translate(0 1708.0) scale(1 1.05) translate(0 -1708.0)">10</text></g>
<defs><clipPath id="cbot"><rect x="0" y="1730" width="1145" height="74.2"/></clipPath></defs>
<g clip-path="url(#cbot)" fill="#1a1a1a"><text x="278.3" y="1795.5" font-family='"Liberation Sans", sans-serif' font-size="49.7" transform="translate(0 1795.5) scale(1 1.28) translate(0 -1795.5)">Momentum Transfer (A-</text><text x="803" y="1783" font-family='"Liberation Sans", sans-serif' font-size="40" transform="translate(0 1783.0) scale(1 1.28) translate(0 -1783.0)">1</text><text x="824.5" y="1795.5" font-family='"Liberation Sans", sans-serif' font-size="49.7" transform="translate(0 1795.5) scale(1 1.28) translate(0 -1795.5)">)</text><text x="132" y="1796" font-family='"Liberation Serif", serif' font-weight="bold" font-size="56" transform="translate(0 1796.0) scale(1 1.21) translate(0 -1796.0)">(b)</text></g>
<path d="M286.5 351.0v42 M286.5 423.3v42 M286.5 495.6v42 M286.5 567.9v42 M286.5 640.2v42 M286.5 712.5v42 M286.5 784.8v42 M286.5 857.1v42 M286.5 929.4v42 M286.5 1001.7v42 M286.5 1074.0v42 M286.5 1146.3v42 M286.5 1218.6v42 M286.5 1290.9v42 M286.5 1363.2v42 M286.5 1435.5v42 M286.5 1507.8v42 M286.5 1580.1v42 M623 61.8v42 M623 134.1v42 M623 206.4v42 M623 278.7v42 M623 351.0v42 M623 423.3v42 M623 495.6v42 M623 567.9v42 M623 640.2v42 M623 712.5v42 M623 784.8v42 M623 857.1v42 M623 929.4v42 M623 1001.7v42 M623 1074.0v42 M623 1146.3v42 M623 1218.6v42 M623 1290.9v42 M623 1363.2v42 M623 1435.5v42 M623 1507.8v42 M623 1580.1v42" stroke="#fff" stroke-width="11.5" fill="none"/></svg></body></html>
